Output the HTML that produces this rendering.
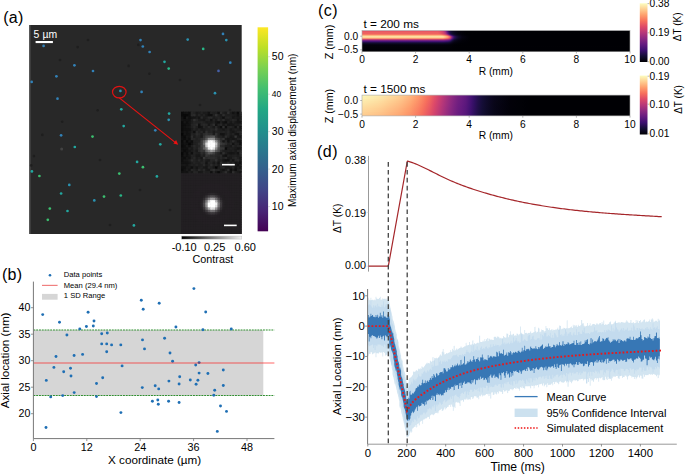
<!DOCTYPE html><html><head><meta charset="utf-8"><style>html,body{margin:0;padding:0;background:#fff;}svg{display:block;}</style></head><body>
<svg width="685" height="474" viewBox="0 0 685 474" font-family='"Liberation Sans", sans-serif'>
<defs>
<linearGradient id="vir" x1="0" y1="1" x2="0" y2="0"><stop offset="0.0" stop-color="#440154"/><stop offset="0.1" stop-color="#482475"/><stop offset="0.2" stop-color="#414487"/><stop offset="0.3" stop-color="#355f8d"/><stop offset="0.4" stop-color="#2a788e"/><stop offset="0.5" stop-color="#21918c"/><stop offset="0.6" stop-color="#22a884"/><stop offset="0.7" stop-color="#44bf70"/><stop offset="0.8" stop-color="#7ad151"/><stop offset="0.9" stop-color="#bddf26"/><stop offset="1.0" stop-color="#fde725"/></linearGradient>
<linearGradient id="mag" x1="0" y1="1" x2="0" y2="0"><stop offset="0.0" stop-color="#000004"/><stop offset="0.1" stop-color="#140e36"/><stop offset="0.2" stop-color="#3b0f70"/><stop offset="0.3" stop-color="#641a80"/><stop offset="0.4" stop-color="#8c2981"/><stop offset="0.5" stop-color="#b73779"/><stop offset="0.6" stop-color="#de4968"/><stop offset="0.7" stop-color="#f7705c"/><stop offset="0.8" stop-color="#fe9f6d"/><stop offset="0.9" stop-color="#fecf92"/><stop offset="1.0" stop-color="#fcfdbf"/></linearGradient>
<linearGradient id="gray" x1="0" y1="0" x2="1" y2="0"><stop offset="0" stop-color="#000"/><stop offset="1" stop-color="#f0f0f0"/></linearGradient>
<radialGradient id="spot1"><stop offset="0" stop-color="#fff"/><stop offset="0.45" stop-color="#f4f4f4"/><stop offset="0.75" stop-color="#9a9a9a" stop-opacity="0.8"/><stop offset="1" stop-color="#444" stop-opacity="0"/></radialGradient>
<radialGradient id="spot2"><stop offset="0" stop-color="#fff"/><stop offset="0.45" stop-color="#f6f6f6"/><stop offset="0.75" stop-color="#a0a0a0" stop-opacity="0.85"/><stop offset="1" stop-color="#333" stop-opacity="0"/></radialGradient>
</defs>
<text x="3.20" y="22.70" font-size="16" text-anchor="start" fill="#000" letter-spacing="0.25">(a)</text>
<rect x="29.2" y="25.0" width="212.5" height="209.0" fill="#282828"/>
<rect x="29.2" y="25.0" width="1.2" height="209.0" fill="#5a5a5a"/>
<circle cx="77.7" cy="47.1" r="1.3" fill="#1a1a1a" opacity="0.7"/><circle cx="128.6" cy="65.9" r="1.3" fill="#1a1a1a" opacity="0.7"/><circle cx="97.6" cy="110.2" r="1.3" fill="#1a1a1a" opacity="0.7"/><circle cx="62.2" cy="121.7" r="1.3" fill="#1a1a1a" opacity="0.7"/><circle cx="138.3" cy="44.9" r="1.3" fill="#1a1a1a" opacity="0.7"/><circle cx="149.4" cy="73.7" r="1.3" fill="#1a1a1a" opacity="0.7"/><circle cx="42.3" cy="134.9" r="1.3" fill="#1a1a1a" opacity="0.7"/><circle cx="33.9" cy="156.1" r="1.3" fill="#1a1a1a" opacity="0.7"/><circle cx="31.2" cy="165.4" r="1.3" fill="#1a1a1a" opacity="0.7"/><circle cx="88" cy="40" r="1.3" fill="#1a1a1a" opacity="0.7"/><circle cx="180" cy="80" r="1.3" fill="#1a1a1a" opacity="0.7"/><circle cx="200" cy="105" r="1.3" fill="#1a1a1a" opacity="0.7"/><circle cx="100" cy="160" r="1.3" fill="#1a1a1a" opacity="0.7"/><circle cx="140" cy="190" r="1.3" fill="#1a1a1a" opacity="0.7"/><circle cx="170" cy="210" r="1.3" fill="#1a1a1a" opacity="0.7"/><circle cx="60" cy="60" r="1.3" fill="#1a1a1a" opacity="0.7"/><circle cx="110" cy="225" r="1.3" fill="#1a1a1a" opacity="0.7"/><circle cx="230" cy="110" r="1.3" fill="#1a1a1a" opacity="0.7"/>
<circle cx="61.7" cy="149" r="1.5" fill="#555" opacity="0.6"/>
<text x="33.60" y="37.70" font-size="10.4" text-anchor="start" fill="#fff">5</text>
<text x="42.40" y="37.70" font-size="10.4" text-anchor="start" fill="#fff">µm</text>
<rect x="35.6" y="41.0" width="17.3" height="2.1" fill="#fff"/>
<circle cx="43.6" cy="45.9" r="1.35" fill="#3282b8"/><circle cx="74.4" cy="65.3" r="1.35" fill="#3282b8"/><circle cx="93" cy="71" r="1.35" fill="#3282b8"/><circle cx="56.4" cy="76.3" r="1.35" fill="#3282b8"/><circle cx="31.7" cy="81.9" r="1.35" fill="#3282b8"/><circle cx="57.5" cy="98.7" r="1.35" fill="#3282b8"/><circle cx="120.4" cy="90.9" r="1.35" fill="#2a92b0"/><circle cx="121.3" cy="109.3" r="1.35" fill="#22a8a0"/><circle cx="123.7" cy="126.1" r="1.35" fill="#22a8a0"/><circle cx="140.5" cy="40.1" r="1.35" fill="#3282b8"/><circle cx="142.8" cy="46.5" r="1.35" fill="#3282b8"/><circle cx="149.6" cy="52.0" r="1.35" fill="#3282b8"/><circle cx="187.7" cy="39.6" r="1.35" fill="#2a92b0"/><circle cx="223" cy="33.9" r="1.35" fill="#3282b8"/><circle cx="226.3" cy="40.1" r="1.35" fill="#2a92b0"/><circle cx="203.2" cy="48.9" r="1.35" fill="#28b888"/><circle cx="164.5" cy="61.8" r="1.35" fill="#22a8a0"/><circle cx="168.7" cy="68.6" r="1.35" fill="#28b888"/><circle cx="230.3" cy="62.7" r="1.35" fill="#3282b8"/><circle cx="218.5" cy="70.9" r="1.35" fill="#4660a8"/><circle cx="141.6" cy="91.9" r="1.35" fill="#3282b8"/><circle cx="215" cy="93.2" r="1.35" fill="#2a92b0"/><circle cx="169.1" cy="113.6" r="1.35" fill="#22a8a0"/><circle cx="168.7" cy="119.8" r="1.35" fill="#2a92b0"/><circle cx="61.1" cy="135.3" r="1.35" fill="#3282b8"/><circle cx="92.5" cy="136.6" r="1.35" fill="#3cc070"/><circle cx="74.8" cy="147" r="1.35" fill="#22a8a0"/><circle cx="31.9" cy="171.4" r="1.35" fill="#22a8a0"/><circle cx="39.4" cy="176" r="1.35" fill="#3cc070"/><circle cx="119.3" cy="173.6" r="1.35" fill="#3cc070"/><circle cx="69.3" cy="184.9" r="1.35" fill="#2a92b0"/><circle cx="61.1" cy="193.5" r="1.35" fill="#22a8a0"/><circle cx="104" cy="196.6" r="1.35" fill="#3cc070"/><circle cx="120.8" cy="195.5" r="1.35" fill="#28b888"/><circle cx="94.3" cy="200.4" r="1.35" fill="#2a92b0"/><circle cx="49.8" cy="208.6" r="1.35" fill="#3cc070"/><circle cx="67.5" cy="211" r="1.35" fill="#22a8a0"/><circle cx="47.8" cy="219.8" r="1.35" fill="#3cc070"/><circle cx="133.9" cy="225.4" r="1.35" fill="#22a8a0"/><circle cx="155.3" cy="130.3" r="1.35" fill="#3282b8"/><circle cx="160.3" cy="144.3" r="1.35" fill="#22a8a0"/><circle cx="137.1" cy="161.9" r="1.35" fill="#22a8a0"/><circle cx="142.9" cy="167.2" r="1.35" fill="#3cc070"/><circle cx="156.9" cy="176.4" r="1.35" fill="#22a8a0"/>
<ellipse cx="119.3" cy="92.1" rx="6.8" ry="5.8" fill="none" stroke="#e01212" stroke-width="1.2"/>
<line x1="119.3" y1="97.9" x2="175.5" y2="142.6" stroke="#e81212" stroke-width="1.15"/>
<path d="M178.2,144.7 L173.4,143.4 L176.1,140.1 Z" fill="#ee1111"/>
<rect x="181.00" y="111.70" width="3.03" height="2.98" fill="#0b0b0b"/><rect x="183.43" y="111.70" width="3.03" height="2.98" fill="#111111"/><rect x="185.86" y="111.70" width="3.03" height="2.98" fill="#121212"/><rect x="188.28" y="111.70" width="3.03" height="2.98" fill="#0d0d0d"/><rect x="190.71" y="111.70" width="3.03" height="2.98" fill="#262626"/><rect x="193.14" y="111.70" width="3.03" height="2.98" fill="#222222"/><rect x="195.57" y="111.70" width="3.03" height="2.98" fill="#181818"/><rect x="198.00" y="111.70" width="3.03" height="2.98" fill="#1c1c1c"/><rect x="200.42" y="111.70" width="3.03" height="2.98" fill="#222222"/><rect x="202.85" y="111.70" width="3.03" height="2.98" fill="#1b1b1b"/><rect x="205.28" y="111.70" width="3.03" height="2.98" fill="#1c1c1c"/><rect x="207.71" y="111.70" width="3.03" height="2.98" fill="#121212"/><rect x="210.14" y="111.70" width="3.03" height="2.98" fill="#222222"/><rect x="212.56" y="111.70" width="3.03" height="2.98" fill="#1f1f1f"/><rect x="214.99" y="111.70" width="3.03" height="2.98" fill="#202020"/><rect x="217.42" y="111.70" width="3.03" height="2.98" fill="#111111"/><rect x="219.85" y="111.70" width="3.03" height="2.98" fill="#2b2b2b"/><rect x="222.28" y="111.70" width="3.03" height="2.98" fill="#1f1f1f"/><rect x="224.70" y="111.70" width="3.03" height="2.98" fill="#1a1a1a"/><rect x="227.13" y="111.70" width="3.03" height="2.98" fill="#2e2e2e"/><rect x="229.56" y="111.70" width="3.03" height="2.98" fill="#1d1d1d"/><rect x="231.99" y="111.70" width="3.03" height="2.98" fill="#121212"/><rect x="234.42" y="111.70" width="3.03" height="2.98" fill="#1a1a1a"/><rect x="236.84" y="111.70" width="3.03" height="2.98" fill="#0b0b0b"/><rect x="239.27" y="111.70" width="2.43" height="2.98" fill="#262626"/><rect x="181.00" y="114.08" width="3.03" height="2.98" fill="#0a0a0a"/><rect x="183.43" y="114.08" width="3.03" height="2.98" fill="#090909"/><rect x="185.86" y="114.08" width="3.03" height="2.98" fill="#090909"/><rect x="188.28" y="114.08" width="3.03" height="2.98" fill="#0f0f0f"/><rect x="190.71" y="114.08" width="3.03" height="2.98" fill="#292929"/><rect x="193.14" y="114.08" width="3.03" height="2.98" fill="#2c2c2c"/><rect x="195.57" y="114.08" width="3.03" height="2.98" fill="#1b1b1b"/><rect x="198.00" y="114.08" width="3.03" height="2.98" fill="#242424"/><rect x="200.42" y="114.08" width="3.03" height="2.98" fill="#1c1c1c"/><rect x="202.85" y="114.08" width="3.03" height="2.98" fill="#222222"/><rect x="205.28" y="114.08" width="3.03" height="2.98" fill="#181818"/><rect x="207.71" y="114.08" width="3.03" height="2.98" fill="#101010"/><rect x="210.14" y="114.08" width="3.03" height="2.98" fill="#0f0f0f"/><rect x="212.56" y="114.08" width="3.03" height="2.98" fill="#212121"/><rect x="214.99" y="114.08" width="3.03" height="2.98" fill="#303030"/><rect x="217.42" y="114.08" width="3.03" height="2.98" fill="#202020"/><rect x="219.85" y="114.08" width="3.03" height="2.98" fill="#191919"/><rect x="222.28" y="114.08" width="3.03" height="2.98" fill="#2d2d2d"/><rect x="224.70" y="114.08" width="3.03" height="2.98" fill="#1f1f1f"/><rect x="227.13" y="114.08" width="3.03" height="2.98" fill="#1e1e1e"/><rect x="229.56" y="114.08" width="3.03" height="2.98" fill="#202020"/><rect x="231.99" y="114.08" width="3.03" height="2.98" fill="#1c1c1c"/><rect x="234.42" y="114.08" width="3.03" height="2.98" fill="#1b1b1b"/><rect x="236.84" y="114.08" width="3.03" height="2.98" fill="#121212"/><rect x="239.27" y="114.08" width="2.43" height="2.98" fill="#222222"/><rect x="181.00" y="116.45" width="3.03" height="2.98" fill="#111111"/><rect x="183.43" y="116.45" width="3.03" height="2.98" fill="#080808"/><rect x="185.86" y="116.45" width="3.03" height="2.98" fill="#181818"/><rect x="188.28" y="116.45" width="3.03" height="2.98" fill="#101010"/><rect x="190.71" y="116.45" width="3.03" height="2.98" fill="#141414"/><rect x="193.14" y="116.45" width="3.03" height="2.98" fill="#151515"/><rect x="195.57" y="116.45" width="3.03" height="2.98" fill="#1b1b1b"/><rect x="198.00" y="116.45" width="3.03" height="2.98" fill="#141414"/><rect x="200.42" y="116.45" width="3.03" height="2.98" fill="#2a2a2a"/><rect x="202.85" y="116.45" width="3.03" height="2.98" fill="#1b1b1b"/><rect x="205.28" y="116.45" width="3.03" height="2.98" fill="#1e1e1e"/><rect x="207.71" y="116.45" width="3.03" height="2.98" fill="#292929"/><rect x="210.14" y="116.45" width="3.03" height="2.98" fill="#2a2a2a"/><rect x="212.56" y="116.45" width="3.03" height="2.98" fill="#1c1c1c"/><rect x="214.99" y="116.45" width="3.03" height="2.98" fill="#202020"/><rect x="217.42" y="116.45" width="3.03" height="2.98" fill="#232323"/><rect x="219.85" y="116.45" width="3.03" height="2.98" fill="#1c1c1c"/><rect x="222.28" y="116.45" width="3.03" height="2.98" fill="#0f0f0f"/><rect x="224.70" y="116.45" width="3.03" height="2.98" fill="#232323"/><rect x="227.13" y="116.45" width="3.03" height="2.98" fill="#252525"/><rect x="229.56" y="116.45" width="3.03" height="2.98" fill="#212121"/><rect x="231.99" y="116.45" width="3.03" height="2.98" fill="#161616"/><rect x="234.42" y="116.45" width="3.03" height="2.98" fill="#1c1c1c"/><rect x="236.84" y="116.45" width="3.03" height="2.98" fill="#191919"/><rect x="239.27" y="116.45" width="2.43" height="2.98" fill="#1b1b1b"/><rect x="181.00" y="118.83" width="3.03" height="2.98" fill="#131313"/><rect x="183.43" y="118.83" width="3.03" height="2.98" fill="#111111"/><rect x="185.86" y="118.83" width="3.03" height="2.98" fill="#121212"/><rect x="188.28" y="118.83" width="3.03" height="2.98" fill="#111111"/><rect x="190.71" y="118.83" width="3.03" height="2.98" fill="#1d1d1d"/><rect x="193.14" y="118.83" width="3.03" height="2.98" fill="#303030"/><rect x="195.57" y="118.83" width="3.03" height="2.98" fill="#242424"/><rect x="198.00" y="118.83" width="3.03" height="2.98" fill="#1b1b1b"/><rect x="200.42" y="118.83" width="3.03" height="2.98" fill="#1a1a1a"/><rect x="202.85" y="118.83" width="3.03" height="2.98" fill="#171717"/><rect x="205.28" y="118.83" width="3.03" height="2.98" fill="#212121"/><rect x="207.71" y="118.83" width="3.03" height="2.98" fill="#212121"/><rect x="210.14" y="118.83" width="3.03" height="2.98" fill="#121212"/><rect x="212.56" y="118.83" width="3.03" height="2.98" fill="#222222"/><rect x="214.99" y="118.83" width="3.03" height="2.98" fill="#191919"/><rect x="217.42" y="118.83" width="3.03" height="2.98" fill="#292929"/><rect x="219.85" y="118.83" width="3.03" height="2.98" fill="#1f1f1f"/><rect x="222.28" y="118.83" width="3.03" height="2.98" fill="#2b2b2b"/><rect x="224.70" y="118.83" width="3.03" height="2.98" fill="#1a1a1a"/><rect x="227.13" y="118.83" width="3.03" height="2.98" fill="#1b1b1b"/><rect x="229.56" y="118.83" width="3.03" height="2.98" fill="#202020"/><rect x="231.99" y="118.83" width="3.03" height="2.98" fill="#262626"/><rect x="234.42" y="118.83" width="3.03" height="2.98" fill="#222222"/><rect x="236.84" y="118.83" width="3.03" height="2.98" fill="#141414"/><rect x="239.27" y="118.83" width="2.43" height="2.98" fill="#1f1f1f"/><rect x="181.00" y="121.21" width="3.03" height="2.98" fill="#0b0b0b"/><rect x="183.43" y="121.21" width="3.03" height="2.98" fill="#161616"/><rect x="185.86" y="121.21" width="3.03" height="2.98" fill="#0e0e0e"/><rect x="188.28" y="121.21" width="3.03" height="2.98" fill="#151515"/><rect x="190.71" y="121.21" width="3.03" height="2.98" fill="#1d1d1d"/><rect x="193.14" y="121.21" width="3.03" height="2.98" fill="#242424"/><rect x="195.57" y="121.21" width="3.03" height="2.98" fill="#222222"/><rect x="198.00" y="121.21" width="3.03" height="2.98" fill="#212121"/><rect x="200.42" y="121.21" width="3.03" height="2.98" fill="#252525"/><rect x="202.85" y="121.21" width="3.03" height="2.98" fill="#202020"/><rect x="205.28" y="121.21" width="3.03" height="2.98" fill="#191919"/><rect x="207.71" y="121.21" width="3.03" height="2.98" fill="#1b1b1b"/><rect x="210.14" y="121.21" width="3.03" height="2.98" fill="#1a1a1a"/><rect x="212.56" y="121.21" width="3.03" height="2.98" fill="#202020"/><rect x="214.99" y="121.21" width="3.03" height="2.98" fill="#151515"/><rect x="217.42" y="121.21" width="3.03" height="2.98" fill="#0f0f0f"/><rect x="219.85" y="121.21" width="3.03" height="2.98" fill="#1e1e1e"/><rect x="222.28" y="121.21" width="3.03" height="2.98" fill="#131313"/><rect x="224.70" y="121.21" width="3.03" height="2.98" fill="#0e0e0e"/><rect x="227.13" y="121.21" width="3.03" height="2.98" fill="#212121"/><rect x="229.56" y="121.21" width="3.03" height="2.98" fill="#181818"/><rect x="231.99" y="121.21" width="3.03" height="2.98" fill="#212121"/><rect x="234.42" y="121.21" width="3.03" height="2.98" fill="#191919"/><rect x="236.84" y="121.21" width="3.03" height="2.98" fill="#151515"/><rect x="239.27" y="121.21" width="2.43" height="2.98" fill="#141414"/><rect x="181.00" y="123.58" width="3.03" height="2.98" fill="#0c0c0c"/><rect x="183.43" y="123.58" width="3.03" height="2.98" fill="#0e0e0e"/><rect x="185.86" y="123.58" width="3.03" height="2.98" fill="#121212"/><rect x="188.28" y="123.58" width="3.03" height="2.98" fill="#131313"/><rect x="190.71" y="123.58" width="3.03" height="2.98" fill="#232323"/><rect x="193.14" y="123.58" width="3.03" height="2.98" fill="#262626"/><rect x="195.57" y="123.58" width="3.03" height="2.98" fill="#2b2b2b"/><rect x="198.00" y="123.58" width="3.03" height="2.98" fill="#111111"/><rect x="200.42" y="123.58" width="3.03" height="2.98" fill="#242424"/><rect x="202.85" y="123.58" width="3.03" height="2.98" fill="#282828"/><rect x="205.28" y="123.58" width="3.03" height="2.98" fill="#262626"/><rect x="207.71" y="123.58" width="3.03" height="2.98" fill="#171717"/><rect x="210.14" y="123.58" width="3.03" height="2.98" fill="#222222"/><rect x="212.56" y="123.58" width="3.03" height="2.98" fill="#2e2e2e"/><rect x="214.99" y="123.58" width="3.03" height="2.98" fill="#131313"/><rect x="217.42" y="123.58" width="3.03" height="2.98" fill="#222222"/><rect x="219.85" y="123.58" width="3.03" height="2.98" fill="#272727"/><rect x="222.28" y="123.58" width="3.03" height="2.98" fill="#181818"/><rect x="224.70" y="123.58" width="3.03" height="2.98" fill="#222222"/><rect x="227.13" y="123.58" width="3.03" height="2.98" fill="#151515"/><rect x="229.56" y="123.58" width="3.03" height="2.98" fill="#171717"/><rect x="231.99" y="123.58" width="3.03" height="2.98" fill="#171717"/><rect x="234.42" y="123.58" width="3.03" height="2.98" fill="#1f1f1f"/><rect x="236.84" y="123.58" width="3.03" height="2.98" fill="#1d1d1d"/><rect x="239.27" y="123.58" width="2.43" height="2.98" fill="#252525"/><rect x="181.00" y="125.96" width="3.03" height="2.98" fill="#0c0c0c"/><rect x="183.43" y="125.96" width="3.03" height="2.98" fill="#111111"/><rect x="185.86" y="125.96" width="3.03" height="2.98" fill="#141414"/><rect x="188.28" y="125.96" width="3.03" height="2.98" fill="#161616"/><rect x="190.71" y="125.96" width="3.03" height="2.98" fill="#202020"/><rect x="193.14" y="125.96" width="3.03" height="2.98" fill="#282828"/><rect x="195.57" y="125.96" width="3.03" height="2.98" fill="#1f1f1f"/><rect x="198.00" y="125.96" width="3.03" height="2.98" fill="#101010"/><rect x="200.42" y="125.96" width="3.03" height="2.98" fill="#141414"/><rect x="202.85" y="125.96" width="3.03" height="2.98" fill="#252525"/><rect x="205.28" y="125.96" width="3.03" height="2.98" fill="#1e1e1e"/><rect x="207.71" y="125.96" width="3.03" height="2.98" fill="#292929"/><rect x="210.14" y="125.96" width="3.03" height="2.98" fill="#222222"/><rect x="212.56" y="125.96" width="3.03" height="2.98" fill="#1a1a1a"/><rect x="214.99" y="125.96" width="3.03" height="2.98" fill="#282828"/><rect x="217.42" y="125.96" width="3.03" height="2.98" fill="#191919"/><rect x="219.85" y="125.96" width="3.03" height="2.98" fill="#0e0e0e"/><rect x="222.28" y="125.96" width="3.03" height="2.98" fill="#2f2f2f"/><rect x="224.70" y="125.96" width="3.03" height="2.98" fill="#0f0f0f"/><rect x="227.13" y="125.96" width="3.03" height="2.98" fill="#232323"/><rect x="229.56" y="125.96" width="3.03" height="2.98" fill="#252525"/><rect x="231.99" y="125.96" width="3.03" height="2.98" fill="#1f1f1f"/><rect x="234.42" y="125.96" width="3.03" height="2.98" fill="#101010"/><rect x="236.84" y="125.96" width="3.03" height="2.98" fill="#262626"/><rect x="239.27" y="125.96" width="2.43" height="2.98" fill="#121212"/><rect x="181.00" y="128.34" width="3.03" height="2.98" fill="#0b0b0b"/><rect x="183.43" y="128.34" width="3.03" height="2.98" fill="#101010"/><rect x="185.86" y="128.34" width="3.03" height="2.98" fill="#101010"/><rect x="188.28" y="128.34" width="3.03" height="2.98" fill="#101010"/><rect x="190.71" y="128.34" width="3.03" height="2.98" fill="#1b1b1b"/><rect x="193.14" y="128.34" width="3.03" height="2.98" fill="#232323"/><rect x="195.57" y="128.34" width="3.03" height="2.98" fill="#1c1c1c"/><rect x="198.00" y="128.34" width="3.03" height="2.98" fill="#232323"/><rect x="200.42" y="128.34" width="3.03" height="2.98" fill="#1b1b1b"/><rect x="202.85" y="128.34" width="3.03" height="2.98" fill="#1c1c1c"/><rect x="205.28" y="128.34" width="3.03" height="2.98" fill="#222222"/><rect x="207.71" y="128.34" width="3.03" height="2.98" fill="#212121"/><rect x="210.14" y="128.34" width="3.03" height="2.98" fill="#272727"/><rect x="212.56" y="128.34" width="3.03" height="2.98" fill="#242424"/><rect x="214.99" y="128.34" width="3.03" height="2.98" fill="#2f2f2f"/><rect x="217.42" y="128.34" width="3.03" height="2.98" fill="#1f1f1f"/><rect x="219.85" y="128.34" width="3.03" height="2.98" fill="#1e1e1e"/><rect x="222.28" y="128.34" width="3.03" height="2.98" fill="#171717"/><rect x="224.70" y="128.34" width="3.03" height="2.98" fill="#1f1f1f"/><rect x="227.13" y="128.34" width="3.03" height="2.98" fill="#232323"/><rect x="229.56" y="128.34" width="3.03" height="2.98" fill="#181818"/><rect x="231.99" y="128.34" width="3.03" height="2.98" fill="#1d1d1d"/><rect x="234.42" y="128.34" width="3.03" height="2.98" fill="#232323"/><rect x="236.84" y="128.34" width="3.03" height="2.98" fill="#1d1d1d"/><rect x="239.27" y="128.34" width="2.43" height="2.98" fill="#191919"/><rect x="181.00" y="130.72" width="3.03" height="2.98" fill="#0d0d0d"/><rect x="183.43" y="130.72" width="3.03" height="2.98" fill="#141414"/><rect x="185.86" y="130.72" width="3.03" height="2.98" fill="#101010"/><rect x="188.28" y="130.72" width="3.03" height="2.98" fill="#151515"/><rect x="190.71" y="130.72" width="3.03" height="2.98" fill="#1d1d1d"/><rect x="193.14" y="130.72" width="3.03" height="2.98" fill="#0f0f0f"/><rect x="195.57" y="130.72" width="3.03" height="2.98" fill="#292929"/><rect x="198.00" y="130.72" width="3.03" height="2.98" fill="#202020"/><rect x="200.42" y="130.72" width="3.03" height="2.98" fill="#272727"/><rect x="202.85" y="130.72" width="3.03" height="2.98" fill="#1a1a1a"/><rect x="205.28" y="130.72" width="3.03" height="2.98" fill="#2f2f2f"/><rect x="207.71" y="130.72" width="3.03" height="2.98" fill="#222222"/><rect x="210.14" y="130.72" width="3.03" height="2.98" fill="#262626"/><rect x="212.56" y="130.72" width="3.03" height="2.98" fill="#1b1b1b"/><rect x="214.99" y="130.72" width="3.03" height="2.98" fill="#232323"/><rect x="217.42" y="130.72" width="3.03" height="2.98" fill="#212121"/><rect x="219.85" y="130.72" width="3.03" height="2.98" fill="#202020"/><rect x="222.28" y="130.72" width="3.03" height="2.98" fill="#232323"/><rect x="224.70" y="130.72" width="3.03" height="2.98" fill="#1f1f1f"/><rect x="227.13" y="130.72" width="3.03" height="2.98" fill="#262626"/><rect x="229.56" y="130.72" width="3.03" height="2.98" fill="#1a1a1a"/><rect x="231.99" y="130.72" width="3.03" height="2.98" fill="#161616"/><rect x="234.42" y="130.72" width="3.03" height="2.98" fill="#1d1d1d"/><rect x="236.84" y="130.72" width="3.03" height="2.98" fill="#232323"/><rect x="239.27" y="130.72" width="2.43" height="2.98" fill="#272727"/><rect x="181.00" y="133.09" width="3.03" height="2.98" fill="#060606"/><rect x="183.43" y="133.09" width="3.03" height="2.98" fill="#151515"/><rect x="185.86" y="133.09" width="3.03" height="2.98" fill="#101010"/><rect x="188.28" y="133.09" width="3.03" height="2.98" fill="#121212"/><rect x="190.71" y="133.09" width="3.03" height="2.98" fill="#232323"/><rect x="193.14" y="133.09" width="3.03" height="2.98" fill="#1f1f1f"/><rect x="195.57" y="133.09" width="3.03" height="2.98" fill="#2b2b2b"/><rect x="198.00" y="133.09" width="3.03" height="2.98" fill="#262626"/><rect x="200.42" y="133.09" width="3.03" height="2.98" fill="#1e1e1e"/><rect x="202.85" y="133.09" width="3.03" height="2.98" fill="#2c2c2c"/><rect x="205.28" y="133.09" width="3.03" height="2.98" fill="#333333"/><rect x="207.71" y="133.09" width="3.03" height="2.98" fill="#2c2c2c"/><rect x="210.14" y="133.09" width="3.03" height="2.98" fill="#2f2f2f"/><rect x="212.56" y="133.09" width="3.03" height="2.98" fill="#1d1d1d"/><rect x="214.99" y="133.09" width="3.03" height="2.98" fill="#333333"/><rect x="217.42" y="133.09" width="3.03" height="2.98" fill="#222222"/><rect x="219.85" y="133.09" width="3.03" height="2.98" fill="#131313"/><rect x="222.28" y="133.09" width="3.03" height="2.98" fill="#131313"/><rect x="224.70" y="133.09" width="3.03" height="2.98" fill="#1e1e1e"/><rect x="227.13" y="133.09" width="3.03" height="2.98" fill="#252525"/><rect x="229.56" y="133.09" width="3.03" height="2.98" fill="#1d1d1d"/><rect x="231.99" y="133.09" width="3.03" height="2.98" fill="#222222"/><rect x="234.42" y="133.09" width="3.03" height="2.98" fill="#151515"/><rect x="236.84" y="133.09" width="3.03" height="2.98" fill="#131313"/><rect x="239.27" y="133.09" width="2.43" height="2.98" fill="#252525"/><rect x="181.00" y="135.47" width="3.03" height="2.98" fill="#0d0d0d"/><rect x="183.43" y="135.47" width="3.03" height="2.98" fill="#0b0b0b"/><rect x="185.86" y="135.47" width="3.03" height="2.98" fill="#161616"/><rect x="188.28" y="135.47" width="3.03" height="2.98" fill="#141414"/><rect x="190.71" y="135.47" width="3.03" height="2.98" fill="#2c2c2c"/><rect x="193.14" y="135.47" width="3.03" height="2.98" fill="#1b1b1b"/><rect x="195.57" y="135.47" width="3.03" height="2.98" fill="#242424"/><rect x="198.00" y="135.47" width="3.03" height="2.98" fill="#222222"/><rect x="200.42" y="135.47" width="3.03" height="2.98" fill="#1b1b1b"/><rect x="202.85" y="135.47" width="3.03" height="2.98" fill="#323232"/><rect x="205.28" y="135.47" width="3.03" height="2.98" fill="#454545"/><rect x="207.71" y="135.47" width="3.03" height="2.98" fill="#4b4b4b"/><rect x="210.14" y="135.47" width="3.03" height="2.98" fill="#525252"/><rect x="212.56" y="135.47" width="3.03" height="2.98" fill="#565656"/><rect x="214.99" y="135.47" width="3.03" height="2.98" fill="#323232"/><rect x="217.42" y="135.47" width="3.03" height="2.98" fill="#232323"/><rect x="219.85" y="135.47" width="3.03" height="2.98" fill="#222222"/><rect x="222.28" y="135.47" width="3.03" height="2.98" fill="#1a1a1a"/><rect x="224.70" y="135.47" width="3.03" height="2.98" fill="#2c2c2c"/><rect x="227.13" y="135.47" width="3.03" height="2.98" fill="#222222"/><rect x="229.56" y="135.47" width="3.03" height="2.98" fill="#171717"/><rect x="231.99" y="135.47" width="3.03" height="2.98" fill="#191919"/><rect x="234.42" y="135.47" width="3.03" height="2.98" fill="#353535"/><rect x="236.84" y="135.47" width="3.03" height="2.98" fill="#191919"/><rect x="239.27" y="135.47" width="2.43" height="2.98" fill="#171717"/><rect x="181.00" y="137.85" width="3.03" height="2.98" fill="#0f0f0f"/><rect x="183.43" y="137.85" width="3.03" height="2.98" fill="#0c0c0c"/><rect x="185.86" y="137.85" width="3.03" height="2.98" fill="#141414"/><rect x="188.28" y="137.85" width="3.03" height="2.98" fill="#0e0e0e"/><rect x="190.71" y="137.85" width="3.03" height="2.98" fill="#282828"/><rect x="193.14" y="137.85" width="3.03" height="2.98" fill="#262626"/><rect x="195.57" y="137.85" width="3.03" height="2.98" fill="#202020"/><rect x="198.00" y="137.85" width="3.03" height="2.98" fill="#242424"/><rect x="200.42" y="137.85" width="3.03" height="2.98" fill="#303030"/><rect x="202.85" y="137.85" width="3.03" height="2.98" fill="#3b3b3b"/><rect x="205.28" y="137.85" width="3.03" height="2.98" fill="#595959"/><rect x="207.71" y="137.85" width="3.03" height="2.98" fill="#909090"/><rect x="210.14" y="137.85" width="3.03" height="2.98" fill="#939393"/><rect x="212.56" y="137.85" width="3.03" height="2.98" fill="#8c8c8c"/><rect x="214.99" y="137.85" width="3.03" height="2.98" fill="#545454"/><rect x="217.42" y="137.85" width="3.03" height="2.98" fill="#3d3d3d"/><rect x="219.85" y="137.85" width="3.03" height="2.98" fill="#2b2b2b"/><rect x="222.28" y="137.85" width="3.03" height="2.98" fill="#343434"/><rect x="224.70" y="137.85" width="3.03" height="2.98" fill="#191919"/><rect x="227.13" y="137.85" width="3.03" height="2.98" fill="#141414"/><rect x="229.56" y="137.85" width="3.03" height="2.98" fill="#191919"/><rect x="231.99" y="137.85" width="3.03" height="2.98" fill="#151515"/><rect x="234.42" y="137.85" width="3.03" height="2.98" fill="#191919"/><rect x="236.84" y="137.85" width="3.03" height="2.98" fill="#212121"/><rect x="239.27" y="137.85" width="2.43" height="2.98" fill="#242424"/><rect x="181.00" y="140.22" width="3.03" height="2.98" fill="#0a0a0a"/><rect x="183.43" y="140.22" width="3.03" height="2.98" fill="#171717"/><rect x="185.86" y="140.22" width="3.03" height="2.98" fill="#090909"/><rect x="188.28" y="140.22" width="3.03" height="2.98" fill="#151515"/><rect x="190.71" y="140.22" width="3.03" height="2.98" fill="#0d0d0d"/><rect x="193.14" y="140.22" width="3.03" height="2.98" fill="#212121"/><rect x="195.57" y="140.22" width="3.03" height="2.98" fill="#222222"/><rect x="198.00" y="140.22" width="3.03" height="2.98" fill="#222222"/><rect x="200.42" y="140.22" width="3.03" height="2.98" fill="#3b3b3b"/><rect x="202.85" y="140.22" width="3.03" height="2.98" fill="#616161"/><rect x="205.28" y="140.22" width="3.03" height="2.98" fill="#9b9b9b"/><rect x="207.71" y="140.22" width="3.03" height="2.98" fill="#f4f4f4"/><rect x="210.14" y="140.22" width="3.03" height="2.98" fill="#ffffff"/><rect x="212.56" y="140.22" width="3.03" height="2.98" fill="#e3e3e3"/><rect x="214.99" y="140.22" width="3.03" height="2.98" fill="#969696"/><rect x="217.42" y="140.22" width="3.03" height="2.98" fill="#575757"/><rect x="219.85" y="140.22" width="3.03" height="2.98" fill="#2f2f2f"/><rect x="222.28" y="140.22" width="3.03" height="2.98" fill="#161616"/><rect x="224.70" y="140.22" width="3.03" height="2.98" fill="#272727"/><rect x="227.13" y="140.22" width="3.03" height="2.98" fill="#131313"/><rect x="229.56" y="140.22" width="3.03" height="2.98" fill="#202020"/><rect x="231.99" y="140.22" width="3.03" height="2.98" fill="#2c2c2c"/><rect x="234.42" y="140.22" width="3.03" height="2.98" fill="#1e1e1e"/><rect x="236.84" y="140.22" width="3.03" height="2.98" fill="#141414"/><rect x="239.27" y="140.22" width="2.43" height="2.98" fill="#121212"/><rect x="181.00" y="142.60" width="3.03" height="2.98" fill="#0d0d0d"/><rect x="183.43" y="142.60" width="3.03" height="2.98" fill="#131313"/><rect x="185.86" y="142.60" width="3.03" height="2.98" fill="#111111"/><rect x="188.28" y="142.60" width="3.03" height="2.98" fill="#080808"/><rect x="190.71" y="142.60" width="3.03" height="2.98" fill="#131313"/><rect x="193.14" y="142.60" width="3.03" height="2.98" fill="#202020"/><rect x="195.57" y="142.60" width="3.03" height="2.98" fill="#222222"/><rect x="198.00" y="142.60" width="3.03" height="2.98" fill="#2d2d2d"/><rect x="200.42" y="142.60" width="3.03" height="2.98" fill="#3b3b3b"/><rect x="202.85" y="142.60" width="3.03" height="2.98" fill="#6e6e6e"/><rect x="205.28" y="142.60" width="3.03" height="2.98" fill="#d6d6d6"/><rect x="207.71" y="142.60" width="3.03" height="2.98" fill="#ffffff"/><rect x="210.14" y="142.60" width="3.03" height="2.98" fill="#ffffff"/><rect x="212.56" y="142.60" width="3.03" height="2.98" fill="#ffffff"/><rect x="214.99" y="142.60" width="3.03" height="2.98" fill="#c9c9c9"/><rect x="217.42" y="142.60" width="3.03" height="2.98" fill="#656565"/><rect x="219.85" y="142.60" width="3.03" height="2.98" fill="#3c3c3c"/><rect x="222.28" y="142.60" width="3.03" height="2.98" fill="#353535"/><rect x="224.70" y="142.60" width="3.03" height="2.98" fill="#2c2c2c"/><rect x="227.13" y="142.60" width="3.03" height="2.98" fill="#202020"/><rect x="229.56" y="142.60" width="3.03" height="2.98" fill="#252525"/><rect x="231.99" y="142.60" width="3.03" height="2.98" fill="#131313"/><rect x="234.42" y="142.60" width="3.03" height="2.98" fill="#212121"/><rect x="236.84" y="142.60" width="3.03" height="2.98" fill="#1f1f1f"/><rect x="239.27" y="142.60" width="2.43" height="2.98" fill="#111111"/><rect x="181.00" y="144.98" width="3.03" height="2.98" fill="#0a0a0a"/><rect x="183.43" y="144.98" width="3.03" height="2.98" fill="#0e0e0e"/><rect x="185.86" y="144.98" width="3.03" height="2.98" fill="#171717"/><rect x="188.28" y="144.98" width="3.03" height="2.98" fill="#0f0f0f"/><rect x="190.71" y="144.98" width="3.03" height="2.98" fill="#1e1e1e"/><rect x="193.14" y="144.98" width="3.03" height="2.98" fill="#282828"/><rect x="195.57" y="144.98" width="3.03" height="2.98" fill="#212121"/><rect x="198.00" y="144.98" width="3.03" height="2.98" fill="#252525"/><rect x="200.42" y="144.98" width="3.03" height="2.98" fill="#3f3f3f"/><rect x="202.85" y="144.98" width="3.03" height="2.98" fill="#565656"/><rect x="205.28" y="144.98" width="3.03" height="2.98" fill="#c8c8c8"/><rect x="207.71" y="144.98" width="3.03" height="2.98" fill="#ffffff"/><rect x="210.14" y="144.98" width="3.03" height="2.98" fill="#ffffff"/><rect x="212.56" y="144.98" width="3.03" height="2.98" fill="#ffffff"/><rect x="214.99" y="144.98" width="3.03" height="2.98" fill="#b6b6b6"/><rect x="217.42" y="144.98" width="3.03" height="2.98" fill="#616161"/><rect x="219.85" y="144.98" width="3.03" height="2.98" fill="#2c2c2c"/><rect x="222.28" y="144.98" width="3.03" height="2.98" fill="#292929"/><rect x="224.70" y="144.98" width="3.03" height="2.98" fill="#1e1e1e"/><rect x="227.13" y="144.98" width="3.03" height="2.98" fill="#1d1d1d"/><rect x="229.56" y="144.98" width="3.03" height="2.98" fill="#191919"/><rect x="231.99" y="144.98" width="3.03" height="2.98" fill="#252525"/><rect x="234.42" y="144.98" width="3.03" height="2.98" fill="#1d1d1d"/><rect x="236.84" y="144.98" width="3.03" height="2.98" fill="#222222"/><rect x="239.27" y="144.98" width="2.43" height="2.98" fill="#212121"/><rect x="181.00" y="147.35" width="3.03" height="2.98" fill="#0f0f0f"/><rect x="183.43" y="147.35" width="3.03" height="2.98" fill="#111111"/><rect x="185.86" y="147.35" width="3.03" height="2.98" fill="#101010"/><rect x="188.28" y="147.35" width="3.03" height="2.98" fill="#1d1d1d"/><rect x="190.71" y="147.35" width="3.03" height="2.98" fill="#181818"/><rect x="193.14" y="147.35" width="3.03" height="2.98" fill="#252525"/><rect x="195.57" y="147.35" width="3.03" height="2.98" fill="#202020"/><rect x="198.00" y="147.35" width="3.03" height="2.98" fill="#2e2e2e"/><rect x="200.42" y="147.35" width="3.03" height="2.98" fill="#393939"/><rect x="202.85" y="147.35" width="3.03" height="2.98" fill="#606060"/><rect x="205.28" y="147.35" width="3.03" height="2.98" fill="#858585"/><rect x="207.71" y="147.35" width="3.03" height="2.98" fill="#e7e7e7"/><rect x="210.14" y="147.35" width="3.03" height="2.98" fill="#ffffff"/><rect x="212.56" y="147.35" width="3.03" height="2.98" fill="#e2e2e2"/><rect x="214.99" y="147.35" width="3.03" height="2.98" fill="#8c8c8c"/><rect x="217.42" y="147.35" width="3.03" height="2.98" fill="#4d4d4d"/><rect x="219.85" y="147.35" width="3.03" height="2.98" fill="#383838"/><rect x="222.28" y="147.35" width="3.03" height="2.98" fill="#373737"/><rect x="224.70" y="147.35" width="3.03" height="2.98" fill="#0c0c0c"/><rect x="227.13" y="147.35" width="3.03" height="2.98" fill="#1e1e1e"/><rect x="229.56" y="147.35" width="3.03" height="2.98" fill="#212121"/><rect x="231.99" y="147.35" width="3.03" height="2.98" fill="#1e1e1e"/><rect x="234.42" y="147.35" width="3.03" height="2.98" fill="#1b1b1b"/><rect x="236.84" y="147.35" width="3.03" height="2.98" fill="#131313"/><rect x="239.27" y="147.35" width="2.43" height="2.98" fill="#161616"/><rect x="181.00" y="149.73" width="3.03" height="2.98" fill="#111111"/><rect x="183.43" y="149.73" width="3.03" height="2.98" fill="#0c0c0c"/><rect x="185.86" y="149.73" width="3.03" height="2.98" fill="#111111"/><rect x="188.28" y="149.73" width="3.03" height="2.98" fill="#151515"/><rect x="190.71" y="149.73" width="3.03" height="2.98" fill="#1a1a1a"/><rect x="193.14" y="149.73" width="3.03" height="2.98" fill="#212121"/><rect x="195.57" y="149.73" width="3.03" height="2.98" fill="#191919"/><rect x="198.00" y="149.73" width="3.03" height="2.98" fill="#2c2c2c"/><rect x="200.42" y="149.73" width="3.03" height="2.98" fill="#373737"/><rect x="202.85" y="149.73" width="3.03" height="2.98" fill="#363636"/><rect x="205.28" y="149.73" width="3.03" height="2.98" fill="#646464"/><rect x="207.71" y="149.73" width="3.03" height="2.98" fill="#808080"/><rect x="210.14" y="149.73" width="3.03" height="2.98" fill="#a1a1a1"/><rect x="212.56" y="149.73" width="3.03" height="2.98" fill="#8b8b8b"/><rect x="214.99" y="149.73" width="3.03" height="2.98" fill="#5a5a5a"/><rect x="217.42" y="149.73" width="3.03" height="2.98" fill="#444444"/><rect x="219.85" y="149.73" width="3.03" height="2.98" fill="#292929"/><rect x="222.28" y="149.73" width="3.03" height="2.98" fill="#202020"/><rect x="224.70" y="149.73" width="3.03" height="2.98" fill="#1d1d1d"/><rect x="227.13" y="149.73" width="3.03" height="2.98" fill="#1f1f1f"/><rect x="229.56" y="149.73" width="3.03" height="2.98" fill="#1c1c1c"/><rect x="231.99" y="149.73" width="3.03" height="2.98" fill="#1f1f1f"/><rect x="234.42" y="149.73" width="3.03" height="2.98" fill="#191919"/><rect x="236.84" y="149.73" width="3.03" height="2.98" fill="#242424"/><rect x="239.27" y="149.73" width="2.43" height="2.98" fill="#262626"/><rect x="181.00" y="152.11" width="3.03" height="2.98" fill="#080808"/><rect x="183.43" y="152.11" width="3.03" height="2.98" fill="#151515"/><rect x="185.86" y="152.11" width="3.03" height="2.98" fill="#0e0e0e"/><rect x="188.28" y="152.11" width="3.03" height="2.98" fill="#1c1c1c"/><rect x="190.71" y="152.11" width="3.03" height="2.98" fill="#0f0f0f"/><rect x="193.14" y="152.11" width="3.03" height="2.98" fill="#232323"/><rect x="195.57" y="152.11" width="3.03" height="2.98" fill="#1e1e1e"/><rect x="198.00" y="152.11" width="3.03" height="2.98" fill="#1d1d1d"/><rect x="200.42" y="152.11" width="3.03" height="2.98" fill="#2c2c2c"/><rect x="202.85" y="152.11" width="3.03" height="2.98" fill="#252525"/><rect x="205.28" y="152.11" width="3.03" height="2.98" fill="#3e3e3e"/><rect x="207.71" y="152.11" width="3.03" height="2.98" fill="#545454"/><rect x="210.14" y="152.11" width="3.03" height="2.98" fill="#515151"/><rect x="212.56" y="152.11" width="3.03" height="2.98" fill="#414141"/><rect x="214.99" y="152.11" width="3.03" height="2.98" fill="#2c2c2c"/><rect x="217.42" y="152.11" width="3.03" height="2.98" fill="#242424"/><rect x="219.85" y="152.11" width="3.03" height="2.98" fill="#181818"/><rect x="222.28" y="152.11" width="3.03" height="2.98" fill="#303030"/><rect x="224.70" y="152.11" width="3.03" height="2.98" fill="#1f1f1f"/><rect x="227.13" y="152.11" width="3.03" height="2.98" fill="#171717"/><rect x="229.56" y="152.11" width="3.03" height="2.98" fill="#141414"/><rect x="231.99" y="152.11" width="3.03" height="2.98" fill="#151515"/><rect x="234.42" y="152.11" width="3.03" height="2.98" fill="#1b1b1b"/><rect x="236.84" y="152.11" width="3.03" height="2.98" fill="#131313"/><rect x="239.27" y="152.11" width="2.43" height="2.98" fill="#2b2b2b"/><rect x="181.00" y="154.48" width="3.03" height="2.98" fill="#0b0b0b"/><rect x="183.43" y="154.48" width="3.03" height="2.98" fill="#171717"/><rect x="185.86" y="154.48" width="3.03" height="2.98" fill="#111111"/><rect x="188.28" y="154.48" width="3.03" height="2.98" fill="#171717"/><rect x="190.71" y="154.48" width="3.03" height="2.98" fill="#222222"/><rect x="193.14" y="154.48" width="3.03" height="2.98" fill="#212121"/><rect x="195.57" y="154.48" width="3.03" height="2.98" fill="#181818"/><rect x="198.00" y="154.48" width="3.03" height="2.98" fill="#171717"/><rect x="200.42" y="154.48" width="3.03" height="2.98" fill="#252525"/><rect x="202.85" y="154.48" width="3.03" height="2.98" fill="#1e1e1e"/><rect x="205.28" y="154.48" width="3.03" height="2.98" fill="#363636"/><rect x="207.71" y="154.48" width="3.03" height="2.98" fill="#303030"/><rect x="210.14" y="154.48" width="3.03" height="2.98" fill="#292929"/><rect x="212.56" y="154.48" width="3.03" height="2.98" fill="#2c2c2c"/><rect x="214.99" y="154.48" width="3.03" height="2.98" fill="#272727"/><rect x="217.42" y="154.48" width="3.03" height="2.98" fill="#252525"/><rect x="219.85" y="154.48" width="3.03" height="2.98" fill="#2b2b2b"/><rect x="222.28" y="154.48" width="3.03" height="2.98" fill="#161616"/><rect x="224.70" y="154.48" width="3.03" height="2.98" fill="#111111"/><rect x="227.13" y="154.48" width="3.03" height="2.98" fill="#212121"/><rect x="229.56" y="154.48" width="3.03" height="2.98" fill="#1d1d1d"/><rect x="231.99" y="154.48" width="3.03" height="2.98" fill="#1f1f1f"/><rect x="234.42" y="154.48" width="3.03" height="2.98" fill="#212121"/><rect x="236.84" y="154.48" width="3.03" height="2.98" fill="#1c1c1c"/><rect x="239.27" y="154.48" width="2.43" height="2.98" fill="#242424"/><rect x="181.00" y="156.86" width="3.03" height="2.98" fill="#0f0f0f"/><rect x="183.43" y="156.86" width="3.03" height="2.98" fill="#0d0d0d"/><rect x="185.86" y="156.86" width="3.03" height="2.98" fill="#161616"/><rect x="188.28" y="156.86" width="3.03" height="2.98" fill="#121212"/><rect x="190.71" y="156.86" width="3.03" height="2.98" fill="#202020"/><rect x="193.14" y="156.86" width="3.03" height="2.98" fill="#272727"/><rect x="195.57" y="156.86" width="3.03" height="2.98" fill="#1a1a1a"/><rect x="198.00" y="156.86" width="3.03" height="2.98" fill="#1f1f1f"/><rect x="200.42" y="156.86" width="3.03" height="2.98" fill="#161616"/><rect x="202.85" y="156.86" width="3.03" height="2.98" fill="#373737"/><rect x="205.28" y="156.86" width="3.03" height="2.98" fill="#282828"/><rect x="207.71" y="156.86" width="3.03" height="2.98" fill="#2d2d2d"/><rect x="210.14" y="156.86" width="3.03" height="2.98" fill="#2c2c2c"/><rect x="212.56" y="156.86" width="3.03" height="2.98" fill="#2d2d2d"/><rect x="214.99" y="156.86" width="3.03" height="2.98" fill="#292929"/><rect x="217.42" y="156.86" width="3.03" height="2.98" fill="#202020"/><rect x="219.85" y="156.86" width="3.03" height="2.98" fill="#272727"/><rect x="222.28" y="156.86" width="3.03" height="2.98" fill="#212121"/><rect x="224.70" y="156.86" width="3.03" height="2.98" fill="#292929"/><rect x="227.13" y="156.86" width="3.03" height="2.98" fill="#181818"/><rect x="229.56" y="156.86" width="3.03" height="2.98" fill="#1a1a1a"/><rect x="231.99" y="156.86" width="3.03" height="2.98" fill="#232323"/><rect x="234.42" y="156.86" width="3.03" height="2.98" fill="#282828"/><rect x="236.84" y="156.86" width="3.03" height="2.98" fill="#1f1f1f"/><rect x="239.27" y="156.86" width="2.43" height="2.98" fill="#181818"/><rect x="181.00" y="159.24" width="3.03" height="2.98" fill="#0e0e0e"/><rect x="183.43" y="159.24" width="3.03" height="2.98" fill="#161616"/><rect x="185.86" y="159.24" width="3.03" height="2.98" fill="#161616"/><rect x="188.28" y="159.24" width="3.03" height="2.98" fill="#1c1c1c"/><rect x="190.71" y="159.24" width="3.03" height="2.98" fill="#2b2b2b"/><rect x="193.14" y="159.24" width="3.03" height="2.98" fill="#232323"/><rect x="195.57" y="159.24" width="3.03" height="2.98" fill="#1e1e1e"/><rect x="198.00" y="159.24" width="3.03" height="2.98" fill="#282828"/><rect x="200.42" y="159.24" width="3.03" height="2.98" fill="#1d1d1d"/><rect x="202.85" y="159.24" width="3.03" height="2.98" fill="#272727"/><rect x="205.28" y="159.24" width="3.03" height="2.98" fill="#1c1c1c"/><rect x="207.71" y="159.24" width="3.03" height="2.98" fill="#1a1a1a"/><rect x="210.14" y="159.24" width="3.03" height="2.98" fill="#272727"/><rect x="212.56" y="159.24" width="3.03" height="2.98" fill="#252525"/><rect x="214.99" y="159.24" width="3.03" height="2.98" fill="#313131"/><rect x="217.42" y="159.24" width="3.03" height="2.98" fill="#1e1e1e"/><rect x="219.85" y="159.24" width="3.03" height="2.98" fill="#202020"/><rect x="222.28" y="159.24" width="3.03" height="2.98" fill="#161616"/><rect x="224.70" y="159.24" width="3.03" height="2.98" fill="#0f0f0f"/><rect x="227.13" y="159.24" width="3.03" height="2.98" fill="#101010"/><rect x="229.56" y="159.24" width="3.03" height="2.98" fill="#212121"/><rect x="231.99" y="159.24" width="3.03" height="2.98" fill="#141414"/><rect x="234.42" y="159.24" width="3.03" height="2.98" fill="#272727"/><rect x="236.84" y="159.24" width="3.03" height="2.98" fill="#292929"/><rect x="239.27" y="159.24" width="2.43" height="2.98" fill="#1b1b1b"/><rect x="181.00" y="161.62" width="3.03" height="2.98" fill="#111111"/><rect x="183.43" y="161.62" width="3.03" height="2.98" fill="#121212"/><rect x="185.86" y="161.62" width="3.03" height="2.98" fill="#121212"/><rect x="188.28" y="161.62" width="3.03" height="2.98" fill="#161616"/><rect x="190.71" y="161.62" width="3.03" height="2.98" fill="#1d1d1d"/><rect x="193.14" y="161.62" width="3.03" height="2.98" fill="#232323"/><rect x="195.57" y="161.62" width="3.03" height="2.98" fill="#1f1f1f"/><rect x="198.00" y="161.62" width="3.03" height="2.98" fill="#1e1e1e"/><rect x="200.42" y="161.62" width="3.03" height="2.98" fill="#252525"/><rect x="202.85" y="161.62" width="3.03" height="2.98" fill="#262626"/><rect x="205.28" y="161.62" width="3.03" height="2.98" fill="#141414"/><rect x="207.71" y="161.62" width="3.03" height="2.98" fill="#242424"/><rect x="210.14" y="161.62" width="3.03" height="2.98" fill="#252525"/><rect x="212.56" y="161.62" width="3.03" height="2.98" fill="#1a1a1a"/><rect x="214.99" y="161.62" width="3.03" height="2.98" fill="#232323"/><rect x="217.42" y="161.62" width="3.03" height="2.98" fill="#141414"/><rect x="219.85" y="161.62" width="3.03" height="2.98" fill="#2a2a2a"/><rect x="222.28" y="161.62" width="3.03" height="2.98" fill="#1c1c1c"/><rect x="224.70" y="161.62" width="3.03" height="2.98" fill="#1d1d1d"/><rect x="227.13" y="161.62" width="3.03" height="2.98" fill="#272727"/><rect x="229.56" y="161.62" width="3.03" height="2.98" fill="#1c1c1c"/><rect x="231.99" y="161.62" width="3.03" height="2.98" fill="#222222"/><rect x="234.42" y="161.62" width="3.03" height="2.98" fill="#151515"/><rect x="236.84" y="161.62" width="3.03" height="2.98" fill="#191919"/><rect x="239.27" y="161.62" width="2.43" height="2.98" fill="#121212"/><rect x="181.00" y="163.99" width="3.03" height="2.98" fill="#151515"/><rect x="183.43" y="163.99" width="3.03" height="2.98" fill="#171717"/><rect x="185.86" y="163.99" width="3.03" height="2.98" fill="#131313"/><rect x="188.28" y="163.99" width="3.03" height="2.98" fill="#1b1b1b"/><rect x="190.71" y="163.99" width="3.03" height="2.98" fill="#202020"/><rect x="193.14" y="163.99" width="3.03" height="2.98" fill="#1e1e1e"/><rect x="195.57" y="163.99" width="3.03" height="2.98" fill="#232323"/><rect x="198.00" y="163.99" width="3.03" height="2.98" fill="#1d1d1d"/><rect x="200.42" y="163.99" width="3.03" height="2.98" fill="#1e1e1e"/><rect x="202.85" y="163.99" width="3.03" height="2.98" fill="#292929"/><rect x="205.28" y="163.99" width="3.03" height="2.98" fill="#1a1a1a"/><rect x="207.71" y="163.99" width="3.03" height="2.98" fill="#202020"/><rect x="210.14" y="163.99" width="3.03" height="2.98" fill="#2c2c2c"/><rect x="212.56" y="163.99" width="3.03" height="2.98" fill="#1f1f1f"/><rect x="214.99" y="163.99" width="3.03" height="2.98" fill="#242424"/><rect x="217.42" y="163.99" width="3.03" height="2.98" fill="#191919"/><rect x="219.85" y="163.99" width="3.03" height="2.98" fill="#2e2e2e"/><rect x="222.28" y="163.99" width="3.03" height="2.98" fill="#0c0c0c"/><rect x="224.70" y="163.99" width="3.03" height="2.98" fill="#151515"/><rect x="227.13" y="163.99" width="3.03" height="2.98" fill="#151515"/><rect x="229.56" y="163.99" width="3.03" height="2.98" fill="#2b2b2b"/><rect x="231.99" y="163.99" width="3.03" height="2.98" fill="#202020"/><rect x="234.42" y="163.99" width="3.03" height="2.98" fill="#1b1b1b"/><rect x="236.84" y="163.99" width="3.03" height="2.98" fill="#131313"/><rect x="239.27" y="163.99" width="2.43" height="2.98" fill="#202020"/><rect x="181.00" y="166.37" width="3.03" height="2.98" fill="#0f0f0f"/><rect x="183.43" y="166.37" width="3.03" height="2.98" fill="#101010"/><rect x="185.86" y="166.37" width="3.03" height="2.98" fill="#181818"/><rect x="188.28" y="166.37" width="3.03" height="2.98" fill="#191919"/><rect x="190.71" y="166.37" width="3.03" height="2.98" fill="#0f0f0f"/><rect x="193.14" y="166.37" width="3.03" height="2.98" fill="#1e1e1e"/><rect x="195.57" y="166.37" width="3.03" height="2.98" fill="#151515"/><rect x="198.00" y="166.37" width="3.03" height="2.98" fill="#1e1e1e"/><rect x="200.42" y="166.37" width="3.03" height="2.98" fill="#212121"/><rect x="202.85" y="166.37" width="3.03" height="2.98" fill="#181818"/><rect x="205.28" y="166.37" width="3.03" height="2.98" fill="#161616"/><rect x="207.71" y="166.37" width="3.03" height="2.98" fill="#262626"/><rect x="210.14" y="166.37" width="3.03" height="2.98" fill="#212121"/><rect x="212.56" y="166.37" width="3.03" height="2.98" fill="#191919"/><rect x="214.99" y="166.37" width="3.03" height="2.98" fill="#060606"/><rect x="217.42" y="166.37" width="3.03" height="2.98" fill="#1d1d1d"/><rect x="219.85" y="166.37" width="3.03" height="2.98" fill="#232323"/><rect x="222.28" y="166.37" width="3.03" height="2.98" fill="#272727"/><rect x="224.70" y="166.37" width="3.03" height="2.98" fill="#181818"/><rect x="227.13" y="166.37" width="3.03" height="2.98" fill="#181818"/><rect x="229.56" y="166.37" width="3.03" height="2.98" fill="#1a1a1a"/><rect x="231.99" y="166.37" width="3.03" height="2.98" fill="#242424"/><rect x="234.42" y="166.37" width="3.03" height="2.98" fill="#141414"/><rect x="236.84" y="166.37" width="3.03" height="2.98" fill="#1d1d1d"/><rect x="239.27" y="166.37" width="2.43" height="2.98" fill="#161616"/><rect x="181.00" y="168.75" width="3.03" height="2.98" fill="#0c0c0c"/><rect x="183.43" y="168.75" width="3.03" height="2.98" fill="#131313"/><rect x="185.86" y="168.75" width="3.03" height="2.98" fill="#1a1a1a"/><rect x="188.28" y="168.75" width="3.03" height="2.98" fill="#131313"/><rect x="190.71" y="168.75" width="3.03" height="2.98" fill="#262626"/><rect x="193.14" y="168.75" width="3.03" height="2.98" fill="#222222"/><rect x="195.57" y="168.75" width="3.03" height="2.98" fill="#1b1b1b"/><rect x="198.00" y="168.75" width="3.03" height="2.98" fill="#292929"/><rect x="200.42" y="168.75" width="3.03" height="2.98" fill="#1f1f1f"/><rect x="202.85" y="168.75" width="3.03" height="2.98" fill="#282828"/><rect x="205.28" y="168.75" width="3.03" height="2.98" fill="#191919"/><rect x="207.71" y="168.75" width="3.03" height="2.98" fill="#171717"/><rect x="210.14" y="168.75" width="3.03" height="2.98" fill="#282828"/><rect x="212.56" y="168.75" width="3.03" height="2.98" fill="#2f2f2f"/><rect x="214.99" y="168.75" width="3.03" height="2.98" fill="#232323"/><rect x="217.42" y="168.75" width="3.03" height="2.98" fill="#252525"/><rect x="219.85" y="168.75" width="3.03" height="2.98" fill="#1a1a1a"/><rect x="222.28" y="168.75" width="3.03" height="2.98" fill="#131313"/><rect x="224.70" y="168.75" width="3.03" height="2.98" fill="#1c1c1c"/><rect x="227.13" y="168.75" width="3.03" height="2.98" fill="#2a2a2a"/><rect x="229.56" y="168.75" width="3.03" height="2.98" fill="#0f0f0f"/><rect x="231.99" y="168.75" width="3.03" height="2.98" fill="#1a1a1a"/><rect x="234.42" y="168.75" width="3.03" height="2.98" fill="#0e0e0e"/><rect x="236.84" y="168.75" width="3.03" height="2.98" fill="#1e1e1e"/><rect x="239.27" y="168.75" width="2.43" height="2.98" fill="#242424"/><rect x="181.00" y="171.12" width="3.03" height="2.38" fill="#121212"/><rect x="183.43" y="171.12" width="3.03" height="2.38" fill="#151515"/><rect x="185.86" y="171.12" width="3.03" height="2.38" fill="#131313"/><rect x="188.28" y="171.12" width="3.03" height="2.38" fill="#1e1e1e"/><rect x="190.71" y="171.12" width="3.03" height="2.38" fill="#181818"/><rect x="193.14" y="171.12" width="3.03" height="2.38" fill="#262626"/><rect x="195.57" y="171.12" width="3.03" height="2.38" fill="#242424"/><rect x="198.00" y="171.12" width="3.03" height="2.38" fill="#181818"/><rect x="200.42" y="171.12" width="3.03" height="2.38" fill="#191919"/><rect x="202.85" y="171.12" width="3.03" height="2.38" fill="#242424"/><rect x="205.28" y="171.12" width="3.03" height="2.38" fill="#1f1f1f"/><rect x="207.71" y="171.12" width="3.03" height="2.38" fill="#202020"/><rect x="210.14" y="171.12" width="3.03" height="2.38" fill="#101010"/><rect x="212.56" y="171.12" width="3.03" height="2.38" fill="#252525"/><rect x="214.99" y="171.12" width="3.03" height="2.38" fill="#171717"/><rect x="217.42" y="171.12" width="3.03" height="2.38" fill="#0b0b0b"/><rect x="219.85" y="171.12" width="3.03" height="2.38" fill="#191919"/><rect x="222.28" y="171.12" width="3.03" height="2.38" fill="#212121"/><rect x="224.70" y="171.12" width="3.03" height="2.38" fill="#2e2e2e"/><rect x="227.13" y="171.12" width="3.03" height="2.38" fill="#1b1b1b"/><rect x="229.56" y="171.12" width="3.03" height="2.38" fill="#131313"/><rect x="231.99" y="171.12" width="3.03" height="2.38" fill="#2e2e2e"/><rect x="234.42" y="171.12" width="3.03" height="2.38" fill="#1f1f1f"/><rect x="236.84" y="171.12" width="3.03" height="2.38" fill="#1b1b1b"/><rect x="239.27" y="171.12" width="2.43" height="2.38" fill="#151515"/>
<rect x="222" y="163.9" width="12.8" height="1.6" fill="#fff"/>
<rect x="181.00" y="173.50" width="3.03" height="3.02" fill="#221f22"/><rect x="183.43" y="173.50" width="3.03" height="3.02" fill="#221f22"/><rect x="185.86" y="173.50" width="3.03" height="3.02" fill="#221f22"/><rect x="188.28" y="173.50" width="3.03" height="3.02" fill="#221f22"/><rect x="190.71" y="173.50" width="3.03" height="3.02" fill="#221f22"/><rect x="193.14" y="173.50" width="3.03" height="3.02" fill="#221f22"/><rect x="195.57" y="173.50" width="3.03" height="3.02" fill="#221f22"/><rect x="198.00" y="173.50" width="3.03" height="3.02" fill="#221f22"/><rect x="200.42" y="173.50" width="3.03" height="3.02" fill="#221f22"/><rect x="202.85" y="173.50" width="3.03" height="3.02" fill="#221f22"/><rect x="205.28" y="173.50" width="3.03" height="3.02" fill="#221f22"/><rect x="207.71" y="173.50" width="3.03" height="3.02" fill="#221f22"/><rect x="210.14" y="173.50" width="3.03" height="3.02" fill="#221f22"/><rect x="212.56" y="173.50" width="3.03" height="3.02" fill="#221f22"/><rect x="214.99" y="173.50" width="3.03" height="3.02" fill="#221f22"/><rect x="217.42" y="173.50" width="3.03" height="3.02" fill="#221f22"/><rect x="219.85" y="173.50" width="3.03" height="3.02" fill="#221f22"/><rect x="222.28" y="173.50" width="3.03" height="3.02" fill="#221f22"/><rect x="224.70" y="173.50" width="3.03" height="3.02" fill="#221f22"/><rect x="227.13" y="173.50" width="3.03" height="3.02" fill="#221f22"/><rect x="229.56" y="173.50" width="3.03" height="3.02" fill="#221f22"/><rect x="231.99" y="173.50" width="3.03" height="3.02" fill="#221f22"/><rect x="234.42" y="173.50" width="3.03" height="3.02" fill="#221f22"/><rect x="236.84" y="173.50" width="3.03" height="3.02" fill="#221f22"/><rect x="239.27" y="173.50" width="2.43" height="3.02" fill="#221f22"/><rect x="181.00" y="175.92" width="3.03" height="3.02" fill="#221f22"/><rect x="183.43" y="175.92" width="3.03" height="3.02" fill="#221f22"/><rect x="185.86" y="175.92" width="3.03" height="3.02" fill="#221f22"/><rect x="188.28" y="175.92" width="3.03" height="3.02" fill="#221f22"/><rect x="190.71" y="175.92" width="3.03" height="3.02" fill="#221f22"/><rect x="193.14" y="175.92" width="3.03" height="3.02" fill="#221f22"/><rect x="195.57" y="175.92" width="3.03" height="3.02" fill="#221f22"/><rect x="198.00" y="175.92" width="3.03" height="3.02" fill="#221f22"/><rect x="200.42" y="175.92" width="3.03" height="3.02" fill="#221f22"/><rect x="202.85" y="175.92" width="3.03" height="3.02" fill="#221f22"/><rect x="205.28" y="175.92" width="3.03" height="3.02" fill="#221f22"/><rect x="207.71" y="175.92" width="3.03" height="3.02" fill="#221f22"/><rect x="210.14" y="175.92" width="3.03" height="3.02" fill="#221f22"/><rect x="212.56" y="175.92" width="3.03" height="3.02" fill="#221f22"/><rect x="214.99" y="175.92" width="3.03" height="3.02" fill="#221f22"/><rect x="217.42" y="175.92" width="3.03" height="3.02" fill="#221f22"/><rect x="219.85" y="175.92" width="3.03" height="3.02" fill="#221f22"/><rect x="222.28" y="175.92" width="3.03" height="3.02" fill="#221f22"/><rect x="224.70" y="175.92" width="3.03" height="3.02" fill="#221f22"/><rect x="227.13" y="175.92" width="3.03" height="3.02" fill="#221f22"/><rect x="229.56" y="175.92" width="3.03" height="3.02" fill="#221f22"/><rect x="231.99" y="175.92" width="3.03" height="3.02" fill="#221f22"/><rect x="234.42" y="175.92" width="3.03" height="3.02" fill="#221f22"/><rect x="236.84" y="175.92" width="3.03" height="3.02" fill="#221f22"/><rect x="239.27" y="175.92" width="2.43" height="3.02" fill="#221f22"/><rect x="181.00" y="178.34" width="3.03" height="3.02" fill="#221f22"/><rect x="183.43" y="178.34" width="3.03" height="3.02" fill="#221f22"/><rect x="185.86" y="178.34" width="3.03" height="3.02" fill="#221f22"/><rect x="188.28" y="178.34" width="3.03" height="3.02" fill="#221f22"/><rect x="190.71" y="178.34" width="3.03" height="3.02" fill="#221f22"/><rect x="193.14" y="178.34" width="3.03" height="3.02" fill="#221f22"/><rect x="195.57" y="178.34" width="3.03" height="3.02" fill="#221f22"/><rect x="198.00" y="178.34" width="3.03" height="3.02" fill="#221f22"/><rect x="200.42" y="178.34" width="3.03" height="3.02" fill="#221f22"/><rect x="202.85" y="178.34" width="3.03" height="3.02" fill="#221f22"/><rect x="205.28" y="178.34" width="3.03" height="3.02" fill="#221f22"/><rect x="207.71" y="178.34" width="3.03" height="3.02" fill="#221f22"/><rect x="210.14" y="178.34" width="3.03" height="3.02" fill="#221f22"/><rect x="212.56" y="178.34" width="3.03" height="3.02" fill="#221f22"/><rect x="214.99" y="178.34" width="3.03" height="3.02" fill="#221f22"/><rect x="217.42" y="178.34" width="3.03" height="3.02" fill="#221f22"/><rect x="219.85" y="178.34" width="3.03" height="3.02" fill="#221f22"/><rect x="222.28" y="178.34" width="3.03" height="3.02" fill="#221f22"/><rect x="224.70" y="178.34" width="3.03" height="3.02" fill="#221f22"/><rect x="227.13" y="178.34" width="3.03" height="3.02" fill="#221f22"/><rect x="229.56" y="178.34" width="3.03" height="3.02" fill="#221f22"/><rect x="231.99" y="178.34" width="3.03" height="3.02" fill="#221f22"/><rect x="234.42" y="178.34" width="3.03" height="3.02" fill="#221f22"/><rect x="236.84" y="178.34" width="3.03" height="3.02" fill="#221f22"/><rect x="239.27" y="178.34" width="2.43" height="3.02" fill="#221f22"/><rect x="181.00" y="180.76" width="3.03" height="3.02" fill="#221f22"/><rect x="183.43" y="180.76" width="3.03" height="3.02" fill="#221f22"/><rect x="185.86" y="180.76" width="3.03" height="3.02" fill="#221f22"/><rect x="188.28" y="180.76" width="3.03" height="3.02" fill="#221f22"/><rect x="190.71" y="180.76" width="3.03" height="3.02" fill="#221f22"/><rect x="193.14" y="180.76" width="3.03" height="3.02" fill="#221f22"/><rect x="195.57" y="180.76" width="3.03" height="3.02" fill="#221f22"/><rect x="198.00" y="180.76" width="3.03" height="3.02" fill="#221f22"/><rect x="200.42" y="180.76" width="3.03" height="3.02" fill="#221f22"/><rect x="202.85" y="180.76" width="3.03" height="3.02" fill="#221f22"/><rect x="205.28" y="180.76" width="3.03" height="3.02" fill="#221f22"/><rect x="207.71" y="180.76" width="3.03" height="3.02" fill="#221f22"/><rect x="210.14" y="180.76" width="3.03" height="3.02" fill="#221f22"/><rect x="212.56" y="180.76" width="3.03" height="3.02" fill="#221f22"/><rect x="214.99" y="180.76" width="3.03" height="3.02" fill="#221f22"/><rect x="217.42" y="180.76" width="3.03" height="3.02" fill="#221f22"/><rect x="219.85" y="180.76" width="3.03" height="3.02" fill="#221f22"/><rect x="222.28" y="180.76" width="3.03" height="3.02" fill="#221f22"/><rect x="224.70" y="180.76" width="3.03" height="3.02" fill="#221f22"/><rect x="227.13" y="180.76" width="3.03" height="3.02" fill="#221f22"/><rect x="229.56" y="180.76" width="3.03" height="3.02" fill="#221f22"/><rect x="231.99" y="180.76" width="3.03" height="3.02" fill="#221f22"/><rect x="234.42" y="180.76" width="3.03" height="3.02" fill="#221f22"/><rect x="236.84" y="180.76" width="3.03" height="3.02" fill="#221f22"/><rect x="239.27" y="180.76" width="2.43" height="3.02" fill="#221f22"/><rect x="181.00" y="183.18" width="3.03" height="3.02" fill="#221f22"/><rect x="183.43" y="183.18" width="3.03" height="3.02" fill="#221f22"/><rect x="185.86" y="183.18" width="3.03" height="3.02" fill="#221f22"/><rect x="188.28" y="183.18" width="3.03" height="3.02" fill="#221f22"/><rect x="190.71" y="183.18" width="3.03" height="3.02" fill="#221f22"/><rect x="193.14" y="183.18" width="3.03" height="3.02" fill="#221f22"/><rect x="195.57" y="183.18" width="3.03" height="3.02" fill="#221f22"/><rect x="198.00" y="183.18" width="3.03" height="3.02" fill="#221f22"/><rect x="200.42" y="183.18" width="3.03" height="3.02" fill="#221f22"/><rect x="202.85" y="183.18" width="3.03" height="3.02" fill="#221f22"/><rect x="205.28" y="183.18" width="3.03" height="3.02" fill="#231f23"/><rect x="207.71" y="183.18" width="3.03" height="3.02" fill="#231f23"/><rect x="210.14" y="183.18" width="3.03" height="3.02" fill="#231f23"/><rect x="212.56" y="183.18" width="3.03" height="3.02" fill="#231f23"/><rect x="214.99" y="183.18" width="3.03" height="3.02" fill="#231f23"/><rect x="217.42" y="183.18" width="3.03" height="3.02" fill="#231f23"/><rect x="219.85" y="183.18" width="3.03" height="3.02" fill="#221f22"/><rect x="222.28" y="183.18" width="3.03" height="3.02" fill="#221f22"/><rect x="224.70" y="183.18" width="3.03" height="3.02" fill="#221f22"/><rect x="227.13" y="183.18" width="3.03" height="3.02" fill="#221f22"/><rect x="229.56" y="183.18" width="3.03" height="3.02" fill="#221f22"/><rect x="231.99" y="183.18" width="3.03" height="3.02" fill="#221f22"/><rect x="234.42" y="183.18" width="3.03" height="3.02" fill="#221f22"/><rect x="236.84" y="183.18" width="3.03" height="3.02" fill="#221f22"/><rect x="239.27" y="183.18" width="2.43" height="3.02" fill="#221f22"/><rect x="181.00" y="185.60" width="3.03" height="3.02" fill="#221f22"/><rect x="183.43" y="185.60" width="3.03" height="3.02" fill="#221f22"/><rect x="185.86" y="185.60" width="3.03" height="3.02" fill="#221f22"/><rect x="188.28" y="185.60" width="3.03" height="3.02" fill="#221f22"/><rect x="190.71" y="185.60" width="3.03" height="3.02" fill="#221f22"/><rect x="193.14" y="185.60" width="3.03" height="3.02" fill="#221f22"/><rect x="195.57" y="185.60" width="3.03" height="3.02" fill="#221f22"/><rect x="198.00" y="185.60" width="3.03" height="3.02" fill="#221f22"/><rect x="200.42" y="185.60" width="3.03" height="3.02" fill="#231f23"/><rect x="202.85" y="185.60" width="3.03" height="3.02" fill="#231f23"/><rect x="205.28" y="185.60" width="3.03" height="3.02" fill="#231f23"/><rect x="207.71" y="185.60" width="3.03" height="3.02" fill="#231f23"/><rect x="210.14" y="185.60" width="3.03" height="3.02" fill="#231f23"/><rect x="212.56" y="185.60" width="3.03" height="3.02" fill="#231f23"/><rect x="214.99" y="185.60" width="3.03" height="3.02" fill="#231f23"/><rect x="217.42" y="185.60" width="3.03" height="3.02" fill="#231f23"/><rect x="219.85" y="185.60" width="3.03" height="3.02" fill="#231f23"/><rect x="222.28" y="185.60" width="3.03" height="3.02" fill="#231f23"/><rect x="224.70" y="185.60" width="3.03" height="3.02" fill="#221f22"/><rect x="227.13" y="185.60" width="3.03" height="3.02" fill="#221f22"/><rect x="229.56" y="185.60" width="3.03" height="3.02" fill="#221f22"/><rect x="231.99" y="185.60" width="3.03" height="3.02" fill="#221f22"/><rect x="234.42" y="185.60" width="3.03" height="3.02" fill="#221f22"/><rect x="236.84" y="185.60" width="3.03" height="3.02" fill="#221f22"/><rect x="239.27" y="185.60" width="2.43" height="3.02" fill="#221f22"/><rect x="181.00" y="188.02" width="3.03" height="3.02" fill="#221f22"/><rect x="183.43" y="188.02" width="3.03" height="3.02" fill="#221f22"/><rect x="185.86" y="188.02" width="3.03" height="3.02" fill="#221f22"/><rect x="188.28" y="188.02" width="3.03" height="3.02" fill="#221f22"/><rect x="190.71" y="188.02" width="3.03" height="3.02" fill="#221f22"/><rect x="193.14" y="188.02" width="3.03" height="3.02" fill="#221f22"/><rect x="195.57" y="188.02" width="3.03" height="3.02" fill="#221f22"/><rect x="198.00" y="188.02" width="3.03" height="3.02" fill="#231f23"/><rect x="200.42" y="188.02" width="3.03" height="3.02" fill="#231f23"/><rect x="202.85" y="188.02" width="3.03" height="3.02" fill="#231f23"/><rect x="205.28" y="188.02" width="3.03" height="3.02" fill="#231f23"/><rect x="207.71" y="188.02" width="3.03" height="3.02" fill="#231f23"/><rect x="210.14" y="188.02" width="3.03" height="3.02" fill="#231f23"/><rect x="212.56" y="188.02" width="3.03" height="3.02" fill="#231f23"/><rect x="214.99" y="188.02" width="3.03" height="3.02" fill="#231f23"/><rect x="217.42" y="188.02" width="3.03" height="3.02" fill="#231f23"/><rect x="219.85" y="188.02" width="3.03" height="3.02" fill="#231f23"/><rect x="222.28" y="188.02" width="3.03" height="3.02" fill="#231f23"/><rect x="224.70" y="188.02" width="3.03" height="3.02" fill="#231f23"/><rect x="227.13" y="188.02" width="3.03" height="3.02" fill="#221f22"/><rect x="229.56" y="188.02" width="3.03" height="3.02" fill="#221f22"/><rect x="231.99" y="188.02" width="3.03" height="3.02" fill="#221f22"/><rect x="234.42" y="188.02" width="3.03" height="3.02" fill="#221f22"/><rect x="236.84" y="188.02" width="3.03" height="3.02" fill="#221f22"/><rect x="239.27" y="188.02" width="2.43" height="3.02" fill="#221f22"/><rect x="181.00" y="190.44" width="3.03" height="3.02" fill="#221f22"/><rect x="183.43" y="190.44" width="3.03" height="3.02" fill="#221f22"/><rect x="185.86" y="190.44" width="3.03" height="3.02" fill="#221f22"/><rect x="188.28" y="190.44" width="3.03" height="3.02" fill="#221f22"/><rect x="190.71" y="190.44" width="3.03" height="3.02" fill="#221f22"/><rect x="193.14" y="190.44" width="3.03" height="3.02" fill="#221f22"/><rect x="195.57" y="190.44" width="3.03" height="3.02" fill="#231f23"/><rect x="198.00" y="190.44" width="3.03" height="3.02" fill="#231f23"/><rect x="200.42" y="190.44" width="3.03" height="3.02" fill="#231f23"/><rect x="202.85" y="190.44" width="3.03" height="3.02" fill="#231f23"/><rect x="205.28" y="190.44" width="3.03" height="3.02" fill="#221f22"/><rect x="207.71" y="190.44" width="3.03" height="3.02" fill="#221e22"/><rect x="210.14" y="190.44" width="3.03" height="3.02" fill="#221f22"/><rect x="212.56" y="190.44" width="3.03" height="3.02" fill="#221f22"/><rect x="214.99" y="190.44" width="3.03" height="3.02" fill="#221e22"/><rect x="217.42" y="190.44" width="3.03" height="3.02" fill="#221f22"/><rect x="219.85" y="190.44" width="3.03" height="3.02" fill="#231f23"/><rect x="222.28" y="190.44" width="3.03" height="3.02" fill="#231f23"/><rect x="224.70" y="190.44" width="3.03" height="3.02" fill="#231f23"/><rect x="227.13" y="190.44" width="3.03" height="3.02" fill="#231f23"/><rect x="229.56" y="190.44" width="3.03" height="3.02" fill="#221f22"/><rect x="231.99" y="190.44" width="3.03" height="3.02" fill="#221f22"/><rect x="234.42" y="190.44" width="3.03" height="3.02" fill="#221f22"/><rect x="236.84" y="190.44" width="3.03" height="3.02" fill="#221f22"/><rect x="239.27" y="190.44" width="2.43" height="3.02" fill="#221f22"/><rect x="181.00" y="192.86" width="3.03" height="3.02" fill="#221f22"/><rect x="183.43" y="192.86" width="3.03" height="3.02" fill="#221f22"/><rect x="185.86" y="192.86" width="3.03" height="3.02" fill="#221f22"/><rect x="188.28" y="192.86" width="3.03" height="3.02" fill="#221f22"/><rect x="190.71" y="192.86" width="3.03" height="3.02" fill="#221f22"/><rect x="193.14" y="192.86" width="3.03" height="3.02" fill="#231f23"/><rect x="195.57" y="192.86" width="3.03" height="3.02" fill="#231f23"/><rect x="198.00" y="192.86" width="3.03" height="3.02" fill="#231f23"/><rect x="200.42" y="192.86" width="3.03" height="3.02" fill="#221f22"/><rect x="202.85" y="192.86" width="3.03" height="3.02" fill="#221e22"/><rect x="205.28" y="192.86" width="3.03" height="3.02" fill="#242024"/><rect x="207.71" y="192.86" width="3.03" height="3.02" fill="#282428"/><rect x="210.14" y="192.86" width="3.03" height="3.02" fill="#2b282b"/><rect x="212.56" y="192.86" width="3.03" height="3.02" fill="#2a272a"/><rect x="214.99" y="192.86" width="3.03" height="3.02" fill="#262326"/><rect x="217.42" y="192.86" width="3.03" height="3.02" fill="#231f23"/><rect x="219.85" y="192.86" width="3.03" height="3.02" fill="#221e22"/><rect x="222.28" y="192.86" width="3.03" height="3.02" fill="#231f23"/><rect x="224.70" y="192.86" width="3.03" height="3.02" fill="#231f23"/><rect x="227.13" y="192.86" width="3.03" height="3.02" fill="#231f23"/><rect x="229.56" y="192.86" width="3.03" height="3.02" fill="#221f22"/><rect x="231.99" y="192.86" width="3.03" height="3.02" fill="#221f22"/><rect x="234.42" y="192.86" width="3.03" height="3.02" fill="#221f22"/><rect x="236.84" y="192.86" width="3.03" height="3.02" fill="#221f22"/><rect x="239.27" y="192.86" width="2.43" height="3.02" fill="#221f22"/><rect x="181.00" y="195.28" width="3.03" height="3.02" fill="#221f22"/><rect x="183.43" y="195.28" width="3.03" height="3.02" fill="#221f22"/><rect x="185.86" y="195.28" width="3.03" height="3.02" fill="#221f22"/><rect x="188.28" y="195.28" width="3.03" height="3.02" fill="#221f22"/><rect x="190.71" y="195.28" width="3.03" height="3.02" fill="#221f22"/><rect x="193.14" y="195.28" width="3.03" height="3.02" fill="#231f23"/><rect x="195.57" y="195.28" width="3.03" height="3.02" fill="#231f23"/><rect x="198.00" y="195.28" width="3.03" height="3.02" fill="#231f23"/><rect x="200.42" y="195.28" width="3.03" height="3.02" fill="#221e22"/><rect x="202.85" y="195.28" width="3.03" height="3.02" fill="#252225"/><rect x="205.28" y="195.28" width="3.03" height="3.02" fill="#312e31"/><rect x="207.71" y="195.28" width="3.03" height="3.02" fill="#434043"/><rect x="210.14" y="195.28" width="3.03" height="3.02" fill="#504d50"/><rect x="212.56" y="195.28" width="3.03" height="3.02" fill="#4d4a4d"/><rect x="214.99" y="195.28" width="3.03" height="3.02" fill="#3d3a3d"/><rect x="217.42" y="195.28" width="3.03" height="3.02" fill="#2d292d"/><rect x="219.85" y="195.28" width="3.03" height="3.02" fill="#232023"/><rect x="222.28" y="195.28" width="3.03" height="3.02" fill="#221f22"/><rect x="224.70" y="195.28" width="3.03" height="3.02" fill="#231f23"/><rect x="227.13" y="195.28" width="3.03" height="3.02" fill="#231f23"/><rect x="229.56" y="195.28" width="3.03" height="3.02" fill="#231f23"/><rect x="231.99" y="195.28" width="3.03" height="3.02" fill="#221f22"/><rect x="234.42" y="195.28" width="3.03" height="3.02" fill="#221f22"/><rect x="236.84" y="195.28" width="3.03" height="3.02" fill="#221f22"/><rect x="239.27" y="195.28" width="2.43" height="3.02" fill="#221f22"/><rect x="181.00" y="197.70" width="3.03" height="3.02" fill="#221f22"/><rect x="183.43" y="197.70" width="3.03" height="3.02" fill="#221f22"/><rect x="185.86" y="197.70" width="3.03" height="3.02" fill="#221f22"/><rect x="188.28" y="197.70" width="3.03" height="3.02" fill="#221f22"/><rect x="190.71" y="197.70" width="3.03" height="3.02" fill="#231f23"/><rect x="193.14" y="197.70" width="3.03" height="3.02" fill="#231f23"/><rect x="195.57" y="197.70" width="3.03" height="3.02" fill="#231f23"/><rect x="198.00" y="197.70" width="3.03" height="3.02" fill="#221f22"/><rect x="200.42" y="197.70" width="3.03" height="3.02" fill="#232023"/><rect x="202.85" y="197.70" width="3.03" height="3.02" fill="#302d30"/><rect x="205.28" y="197.70" width="3.03" height="3.02" fill="#514e51"/><rect x="207.71" y="197.70" width="3.03" height="3.02" fill="#807e80"/><rect x="210.14" y="197.70" width="3.03" height="3.02" fill="#a3a1a3"/><rect x="212.56" y="197.70" width="3.03" height="3.02" fill="#9c9a9c"/><rect x="214.99" y="197.70" width="3.03" height="3.02" fill="#716f71"/><rect x="217.42" y="197.70" width="3.03" height="3.02" fill="#454245"/><rect x="219.85" y="197.70" width="3.03" height="3.02" fill="#2b272b"/><rect x="222.28" y="197.70" width="3.03" height="3.02" fill="#221f22"/><rect x="224.70" y="197.70" width="3.03" height="3.02" fill="#221f22"/><rect x="227.13" y="197.70" width="3.03" height="3.02" fill="#231f23"/><rect x="229.56" y="197.70" width="3.03" height="3.02" fill="#231f23"/><rect x="231.99" y="197.70" width="3.03" height="3.02" fill="#221f22"/><rect x="234.42" y="197.70" width="3.03" height="3.02" fill="#221f22"/><rect x="236.84" y="197.70" width="3.03" height="3.02" fill="#221f22"/><rect x="239.27" y="197.70" width="2.43" height="3.02" fill="#221f22"/><rect x="181.00" y="200.12" width="3.03" height="3.02" fill="#221f22"/><rect x="183.43" y="200.12" width="3.03" height="3.02" fill="#221f22"/><rect x="185.86" y="200.12" width="3.03" height="3.02" fill="#221f22"/><rect x="188.28" y="200.12" width="3.03" height="3.02" fill="#221f22"/><rect x="190.71" y="200.12" width="3.03" height="3.02" fill="#231f23"/><rect x="193.14" y="200.12" width="3.03" height="3.02" fill="#231f23"/><rect x="195.57" y="200.12" width="3.03" height="3.02" fill="#231f23"/><rect x="198.00" y="200.12" width="3.03" height="3.02" fill="#221e22"/><rect x="200.42" y="200.12" width="3.03" height="3.02" fill="#272327"/><rect x="202.85" y="200.12" width="3.03" height="3.02" fill="#403d40"/><rect x="205.28" y="200.12" width="3.03" height="3.02" fill="#7c7a7c"/><rect x="207.71" y="200.12" width="3.03" height="3.02" fill="#d7d6d7"/><rect x="210.14" y="200.12" width="3.03" height="3.02" fill="#ffffff"/><rect x="212.56" y="200.12" width="3.03" height="3.02" fill="#ffffff"/><rect x="214.99" y="200.12" width="3.03" height="3.02" fill="#bbb9bb"/><rect x="217.42" y="200.12" width="3.03" height="3.02" fill="#666466"/><rect x="219.85" y="200.12" width="3.03" height="3.02" fill="#363336"/><rect x="222.28" y="200.12" width="3.03" height="3.02" fill="#242124"/><rect x="224.70" y="200.12" width="3.03" height="3.02" fill="#221f22"/><rect x="227.13" y="200.12" width="3.03" height="3.02" fill="#231f23"/><rect x="229.56" y="200.12" width="3.03" height="3.02" fill="#231f23"/><rect x="231.99" y="200.12" width="3.03" height="3.02" fill="#221f22"/><rect x="234.42" y="200.12" width="3.03" height="3.02" fill="#221f22"/><rect x="236.84" y="200.12" width="3.03" height="3.02" fill="#221f22"/><rect x="239.27" y="200.12" width="2.43" height="3.02" fill="#221f22"/><rect x="181.00" y="202.54" width="3.03" height="3.02" fill="#221f22"/><rect x="183.43" y="202.54" width="3.03" height="3.02" fill="#221f22"/><rect x="185.86" y="202.54" width="3.03" height="3.02" fill="#221f22"/><rect x="188.28" y="202.54" width="3.03" height="3.02" fill="#221f22"/><rect x="190.71" y="202.54" width="3.03" height="3.02" fill="#231f23"/><rect x="193.14" y="202.54" width="3.03" height="3.02" fill="#231f23"/><rect x="195.57" y="202.54" width="3.03" height="3.02" fill="#231f23"/><rect x="198.00" y="202.54" width="3.03" height="3.02" fill="#221f22"/><rect x="200.42" y="202.54" width="3.03" height="3.02" fill="#2a262a"/><rect x="202.85" y="202.54" width="3.03" height="3.02" fill="#4b484b"/><rect x="205.28" y="202.54" width="3.03" height="3.02" fill="#9a999a"/><rect x="207.71" y="202.54" width="3.03" height="3.02" fill="#ffffff"/><rect x="210.14" y="202.54" width="3.03" height="3.02" fill="#ffffff"/><rect x="212.56" y="202.54" width="3.03" height="3.02" fill="#ffffff"/><rect x="214.99" y="202.54" width="3.03" height="3.02" fill="#ededed"/><rect x="217.42" y="202.54" width="3.03" height="3.02" fill="#7d7b7d"/><rect x="219.85" y="202.54" width="3.03" height="3.02" fill="#3d3a3d"/><rect x="222.28" y="202.54" width="3.03" height="3.02" fill="#252225"/><rect x="224.70" y="202.54" width="3.03" height="3.02" fill="#221f22"/><rect x="227.13" y="202.54" width="3.03" height="3.02" fill="#231f23"/><rect x="229.56" y="202.54" width="3.03" height="3.02" fill="#231f23"/><rect x="231.99" y="202.54" width="3.03" height="3.02" fill="#231f23"/><rect x="234.42" y="202.54" width="3.03" height="3.02" fill="#221f22"/><rect x="236.84" y="202.54" width="3.03" height="3.02" fill="#221f22"/><rect x="239.27" y="202.54" width="2.43" height="3.02" fill="#221f22"/><rect x="181.00" y="204.96" width="3.03" height="3.02" fill="#221f22"/><rect x="183.43" y="204.96" width="3.03" height="3.02" fill="#221f22"/><rect x="185.86" y="204.96" width="3.03" height="3.02" fill="#221f22"/><rect x="188.28" y="204.96" width="3.03" height="3.02" fill="#221f22"/><rect x="190.71" y="204.96" width="3.03" height="3.02" fill="#231f23"/><rect x="193.14" y="204.96" width="3.03" height="3.02" fill="#231f23"/><rect x="195.57" y="204.96" width="3.03" height="3.02" fill="#231f23"/><rect x="198.00" y="204.96" width="3.03" height="3.02" fill="#221e22"/><rect x="200.42" y="204.96" width="3.03" height="3.02" fill="#292529"/><rect x="202.85" y="204.96" width="3.03" height="3.02" fill="#484548"/><rect x="205.28" y="204.96" width="3.03" height="3.02" fill="#908f90"/><rect x="207.71" y="204.96" width="3.03" height="3.02" fill="#ffffff"/><rect x="210.14" y="204.96" width="3.03" height="3.02" fill="#ffffff"/><rect x="212.56" y="204.96" width="3.03" height="3.02" fill="#ffffff"/><rect x="214.99" y="204.96" width="3.03" height="3.02" fill="#dcdcdc"/><rect x="217.42" y="204.96" width="3.03" height="3.02" fill="#757375"/><rect x="219.85" y="204.96" width="3.03" height="3.02" fill="#3b383b"/><rect x="222.28" y="204.96" width="3.03" height="3.02" fill="#252125"/><rect x="224.70" y="204.96" width="3.03" height="3.02" fill="#221f22"/><rect x="227.13" y="204.96" width="3.03" height="3.02" fill="#231f23"/><rect x="229.56" y="204.96" width="3.03" height="3.02" fill="#231f23"/><rect x="231.99" y="204.96" width="3.03" height="3.02" fill="#231f23"/><rect x="234.42" y="204.96" width="3.03" height="3.02" fill="#221f22"/><rect x="236.84" y="204.96" width="3.03" height="3.02" fill="#221f22"/><rect x="239.27" y="204.96" width="2.43" height="3.02" fill="#221f22"/><rect x="181.00" y="207.38" width="3.03" height="3.02" fill="#221f22"/><rect x="183.43" y="207.38" width="3.03" height="3.02" fill="#221f22"/><rect x="185.86" y="207.38" width="3.03" height="3.02" fill="#221f22"/><rect x="188.28" y="207.38" width="3.03" height="3.02" fill="#221f22"/><rect x="190.71" y="207.38" width="3.03" height="3.02" fill="#231f23"/><rect x="193.14" y="207.38" width="3.03" height="3.02" fill="#231f23"/><rect x="195.57" y="207.38" width="3.03" height="3.02" fill="#231f23"/><rect x="198.00" y="207.38" width="3.03" height="3.02" fill="#221e22"/><rect x="200.42" y="207.38" width="3.03" height="3.02" fill="#252225"/><rect x="202.85" y="207.38" width="3.03" height="3.02" fill="#393639"/><rect x="205.28" y="207.38" width="3.03" height="3.02" fill="#686668"/><rect x="207.71" y="207.38" width="3.03" height="3.02" fill="#adacad"/><rect x="210.14" y="207.38" width="3.03" height="3.02" fill="#e2e1e2"/><rect x="212.56" y="207.38" width="3.03" height="3.02" fill="#d7d7d7"/><rect x="214.99" y="207.38" width="3.03" height="3.02" fill="#989698"/><rect x="217.42" y="207.38" width="3.03" height="3.02" fill="#575457"/><rect x="219.85" y="207.38" width="3.03" height="3.02" fill="#312d31"/><rect x="222.28" y="207.38" width="3.03" height="3.02" fill="#232023"/><rect x="224.70" y="207.38" width="3.03" height="3.02" fill="#221f22"/><rect x="227.13" y="207.38" width="3.03" height="3.02" fill="#231f23"/><rect x="229.56" y="207.38" width="3.03" height="3.02" fill="#231f23"/><rect x="231.99" y="207.38" width="3.03" height="3.02" fill="#221f22"/><rect x="234.42" y="207.38" width="3.03" height="3.02" fill="#221f22"/><rect x="236.84" y="207.38" width="3.03" height="3.02" fill="#221f22"/><rect x="239.27" y="207.38" width="2.43" height="3.02" fill="#221f22"/><rect x="181.00" y="209.80" width="3.03" height="3.02" fill="#221f22"/><rect x="183.43" y="209.80" width="3.03" height="3.02" fill="#221f22"/><rect x="185.86" y="209.80" width="3.03" height="3.02" fill="#221f22"/><rect x="188.28" y="209.80" width="3.03" height="3.02" fill="#221f22"/><rect x="190.71" y="209.80" width="3.03" height="3.02" fill="#221f22"/><rect x="193.14" y="209.80" width="3.03" height="3.02" fill="#231f23"/><rect x="195.57" y="209.80" width="3.03" height="3.02" fill="#231f23"/><rect x="198.00" y="209.80" width="3.03" height="3.02" fill="#221f22"/><rect x="200.42" y="209.80" width="3.03" height="3.02" fill="#221f22"/><rect x="202.85" y="209.80" width="3.03" height="3.02" fill="#2a272a"/><rect x="205.28" y="209.80" width="3.03" height="3.02" fill="#403d40"/><rect x="207.71" y="209.80" width="3.03" height="3.02" fill="#5f5c5f"/><rect x="210.14" y="209.80" width="3.03" height="3.02" fill="#767476"/><rect x="212.56" y="209.80" width="3.03" height="3.02" fill="#716f71"/><rect x="214.99" y="209.80" width="3.03" height="3.02" fill="#555355"/><rect x="217.42" y="209.80" width="3.03" height="3.02" fill="#383538"/><rect x="219.85" y="209.80" width="3.03" height="3.02" fill="#272327"/><rect x="222.28" y="209.80" width="3.03" height="3.02" fill="#221e22"/><rect x="224.70" y="209.80" width="3.03" height="3.02" fill="#231f23"/><rect x="227.13" y="209.80" width="3.03" height="3.02" fill="#231f23"/><rect x="229.56" y="209.80" width="3.03" height="3.02" fill="#231f23"/><rect x="231.99" y="209.80" width="3.03" height="3.02" fill="#221f22"/><rect x="234.42" y="209.80" width="3.03" height="3.02" fill="#221f22"/><rect x="236.84" y="209.80" width="3.03" height="3.02" fill="#221f22"/><rect x="239.27" y="209.80" width="2.43" height="3.02" fill="#221f22"/><rect x="181.00" y="212.22" width="3.03" height="3.02" fill="#221f22"/><rect x="183.43" y="212.22" width="3.03" height="3.02" fill="#221f22"/><rect x="185.86" y="212.22" width="3.03" height="3.02" fill="#221f22"/><rect x="188.28" y="212.22" width="3.03" height="3.02" fill="#221f22"/><rect x="190.71" y="212.22" width="3.03" height="3.02" fill="#221f22"/><rect x="193.14" y="212.22" width="3.03" height="3.02" fill="#231f23"/><rect x="195.57" y="212.22" width="3.03" height="3.02" fill="#231f23"/><rect x="198.00" y="212.22" width="3.03" height="3.02" fill="#231f23"/><rect x="200.42" y="212.22" width="3.03" height="3.02" fill="#221f22"/><rect x="202.85" y="212.22" width="3.03" height="3.02" fill="#231f23"/><rect x="205.28" y="212.22" width="3.03" height="3.02" fill="#292529"/><rect x="207.71" y="212.22" width="3.03" height="3.02" fill="#333033"/><rect x="210.14" y="212.22" width="3.03" height="3.02" fill="#3a373a"/><rect x="212.56" y="212.22" width="3.03" height="3.02" fill="#393639"/><rect x="214.99" y="212.22" width="3.03" height="3.02" fill="#302c30"/><rect x="217.42" y="212.22" width="3.03" height="3.02" fill="#262326"/><rect x="219.85" y="212.22" width="3.03" height="3.02" fill="#221f22"/><rect x="222.28" y="212.22" width="3.03" height="3.02" fill="#221f22"/><rect x="224.70" y="212.22" width="3.03" height="3.02" fill="#231f23"/><rect x="227.13" y="212.22" width="3.03" height="3.02" fill="#231f23"/><rect x="229.56" y="212.22" width="3.03" height="3.02" fill="#231f23"/><rect x="231.99" y="212.22" width="3.03" height="3.02" fill="#221f22"/><rect x="234.42" y="212.22" width="3.03" height="3.02" fill="#221f22"/><rect x="236.84" y="212.22" width="3.03" height="3.02" fill="#221f22"/><rect x="239.27" y="212.22" width="2.43" height="3.02" fill="#221f22"/><rect x="181.00" y="214.64" width="3.03" height="3.02" fill="#221f22"/><rect x="183.43" y="214.64" width="3.03" height="3.02" fill="#221f22"/><rect x="185.86" y="214.64" width="3.03" height="3.02" fill="#221f22"/><rect x="188.28" y="214.64" width="3.03" height="3.02" fill="#221f22"/><rect x="190.71" y="214.64" width="3.03" height="3.02" fill="#221f22"/><rect x="193.14" y="214.64" width="3.03" height="3.02" fill="#231f23"/><rect x="195.57" y="214.64" width="3.03" height="3.02" fill="#231f23"/><rect x="198.00" y="214.64" width="3.03" height="3.02" fill="#231f23"/><rect x="200.42" y="214.64" width="3.03" height="3.02" fill="#231f23"/><rect x="202.85" y="214.64" width="3.03" height="3.02" fill="#221f22"/><rect x="205.28" y="214.64" width="3.03" height="3.02" fill="#221f22"/><rect x="207.71" y="214.64" width="3.03" height="3.02" fill="#232023"/><rect x="210.14" y="214.64" width="3.03" height="3.02" fill="#252125"/><rect x="212.56" y="214.64" width="3.03" height="3.02" fill="#242124"/><rect x="214.99" y="214.64" width="3.03" height="3.02" fill="#231f23"/><rect x="217.42" y="214.64" width="3.03" height="3.02" fill="#221e22"/><rect x="219.85" y="214.64" width="3.03" height="3.02" fill="#221f22"/><rect x="222.28" y="214.64" width="3.03" height="3.02" fill="#231f23"/><rect x="224.70" y="214.64" width="3.03" height="3.02" fill="#231f23"/><rect x="227.13" y="214.64" width="3.03" height="3.02" fill="#231f23"/><rect x="229.56" y="214.64" width="3.03" height="3.02" fill="#221f22"/><rect x="231.99" y="214.64" width="3.03" height="3.02" fill="#221f22"/><rect x="234.42" y="214.64" width="3.03" height="3.02" fill="#221f22"/><rect x="236.84" y="214.64" width="3.03" height="3.02" fill="#221f22"/><rect x="239.27" y="214.64" width="2.43" height="3.02" fill="#221f22"/><rect x="181.00" y="217.06" width="3.03" height="3.02" fill="#221f22"/><rect x="183.43" y="217.06" width="3.03" height="3.02" fill="#221f22"/><rect x="185.86" y="217.06" width="3.03" height="3.02" fill="#221f22"/><rect x="188.28" y="217.06" width="3.03" height="3.02" fill="#221f22"/><rect x="190.71" y="217.06" width="3.03" height="3.02" fill="#221f22"/><rect x="193.14" y="217.06" width="3.03" height="3.02" fill="#221f22"/><rect x="195.57" y="217.06" width="3.03" height="3.02" fill="#231f23"/><rect x="198.00" y="217.06" width="3.03" height="3.02" fill="#231f23"/><rect x="200.42" y="217.06" width="3.03" height="3.02" fill="#231f23"/><rect x="202.85" y="217.06" width="3.03" height="3.02" fill="#231f23"/><rect x="205.28" y="217.06" width="3.03" height="3.02" fill="#231f23"/><rect x="207.71" y="217.06" width="3.03" height="3.02" fill="#221f22"/><rect x="210.14" y="217.06" width="3.03" height="3.02" fill="#221f22"/><rect x="212.56" y="217.06" width="3.03" height="3.02" fill="#221f22"/><rect x="214.99" y="217.06" width="3.03" height="3.02" fill="#221f22"/><rect x="217.42" y="217.06" width="3.03" height="3.02" fill="#231f23"/><rect x="219.85" y="217.06" width="3.03" height="3.02" fill="#231f23"/><rect x="222.28" y="217.06" width="3.03" height="3.02" fill="#231f23"/><rect x="224.70" y="217.06" width="3.03" height="3.02" fill="#231f23"/><rect x="227.13" y="217.06" width="3.03" height="3.02" fill="#221f22"/><rect x="229.56" y="217.06" width="3.03" height="3.02" fill="#221f22"/><rect x="231.99" y="217.06" width="3.03" height="3.02" fill="#221f22"/><rect x="234.42" y="217.06" width="3.03" height="3.02" fill="#221f22"/><rect x="236.84" y="217.06" width="3.03" height="3.02" fill="#221f22"/><rect x="239.27" y="217.06" width="2.43" height="3.02" fill="#221f22"/><rect x="181.00" y="219.48" width="3.03" height="3.02" fill="#221f22"/><rect x="183.43" y="219.48" width="3.03" height="3.02" fill="#221f22"/><rect x="185.86" y="219.48" width="3.03" height="3.02" fill="#221f22"/><rect x="188.28" y="219.48" width="3.03" height="3.02" fill="#221f22"/><rect x="190.71" y="219.48" width="3.03" height="3.02" fill="#221f22"/><rect x="193.14" y="219.48" width="3.03" height="3.02" fill="#221f22"/><rect x="195.57" y="219.48" width="3.03" height="3.02" fill="#221f22"/><rect x="198.00" y="219.48" width="3.03" height="3.02" fill="#231f23"/><rect x="200.42" y="219.48" width="3.03" height="3.02" fill="#231f23"/><rect x="202.85" y="219.48" width="3.03" height="3.02" fill="#231f23"/><rect x="205.28" y="219.48" width="3.03" height="3.02" fill="#231f23"/><rect x="207.71" y="219.48" width="3.03" height="3.02" fill="#231f23"/><rect x="210.14" y="219.48" width="3.03" height="3.02" fill="#231f23"/><rect x="212.56" y="219.48" width="3.03" height="3.02" fill="#231f23"/><rect x="214.99" y="219.48" width="3.03" height="3.02" fill="#231f23"/><rect x="217.42" y="219.48" width="3.03" height="3.02" fill="#231f23"/><rect x="219.85" y="219.48" width="3.03" height="3.02" fill="#231f23"/><rect x="222.28" y="219.48" width="3.03" height="3.02" fill="#231f23"/><rect x="224.70" y="219.48" width="3.03" height="3.02" fill="#221f22"/><rect x="227.13" y="219.48" width="3.03" height="3.02" fill="#221f22"/><rect x="229.56" y="219.48" width="3.03" height="3.02" fill="#221f22"/><rect x="231.99" y="219.48" width="3.03" height="3.02" fill="#221f22"/><rect x="234.42" y="219.48" width="3.03" height="3.02" fill="#221f22"/><rect x="236.84" y="219.48" width="3.03" height="3.02" fill="#221f22"/><rect x="239.27" y="219.48" width="2.43" height="3.02" fill="#221f22"/><rect x="181.00" y="221.90" width="3.03" height="3.02" fill="#221f22"/><rect x="183.43" y="221.90" width="3.03" height="3.02" fill="#221f22"/><rect x="185.86" y="221.90" width="3.03" height="3.02" fill="#221f22"/><rect x="188.28" y="221.90" width="3.03" height="3.02" fill="#221f22"/><rect x="190.71" y="221.90" width="3.03" height="3.02" fill="#221f22"/><rect x="193.14" y="221.90" width="3.03" height="3.02" fill="#221f22"/><rect x="195.57" y="221.90" width="3.03" height="3.02" fill="#221f22"/><rect x="198.00" y="221.90" width="3.03" height="3.02" fill="#221f22"/><rect x="200.42" y="221.90" width="3.03" height="3.02" fill="#221f22"/><rect x="202.85" y="221.90" width="3.03" height="3.02" fill="#231f23"/><rect x="205.28" y="221.90" width="3.03" height="3.02" fill="#231f23"/><rect x="207.71" y="221.90" width="3.03" height="3.02" fill="#231f23"/><rect x="210.14" y="221.90" width="3.03" height="3.02" fill="#231f23"/><rect x="212.56" y="221.90" width="3.03" height="3.02" fill="#231f23"/><rect x="214.99" y="221.90" width="3.03" height="3.02" fill="#231f23"/><rect x="217.42" y="221.90" width="3.03" height="3.02" fill="#231f23"/><rect x="219.85" y="221.90" width="3.03" height="3.02" fill="#231f23"/><rect x="222.28" y="221.90" width="3.03" height="3.02" fill="#221f22"/><rect x="224.70" y="221.90" width="3.03" height="3.02" fill="#221f22"/><rect x="227.13" y="221.90" width="3.03" height="3.02" fill="#221f22"/><rect x="229.56" y="221.90" width="3.03" height="3.02" fill="#221f22"/><rect x="231.99" y="221.90" width="3.03" height="3.02" fill="#221f22"/><rect x="234.42" y="221.90" width="3.03" height="3.02" fill="#221f22"/><rect x="236.84" y="221.90" width="3.03" height="3.02" fill="#221f22"/><rect x="239.27" y="221.90" width="2.43" height="3.02" fill="#221f22"/><rect x="181.00" y="224.32" width="3.03" height="3.02" fill="#221f22"/><rect x="183.43" y="224.32" width="3.03" height="3.02" fill="#221f22"/><rect x="185.86" y="224.32" width="3.03" height="3.02" fill="#221f22"/><rect x="188.28" y="224.32" width="3.03" height="3.02" fill="#221f22"/><rect x="190.71" y="224.32" width="3.03" height="3.02" fill="#221f22"/><rect x="193.14" y="224.32" width="3.03" height="3.02" fill="#221f22"/><rect x="195.57" y="224.32" width="3.03" height="3.02" fill="#221f22"/><rect x="198.00" y="224.32" width="3.03" height="3.02" fill="#221f22"/><rect x="200.42" y="224.32" width="3.03" height="3.02" fill="#221f22"/><rect x="202.85" y="224.32" width="3.03" height="3.02" fill="#221f22"/><rect x="205.28" y="224.32" width="3.03" height="3.02" fill="#221f22"/><rect x="207.71" y="224.32" width="3.03" height="3.02" fill="#221f22"/><rect x="210.14" y="224.32" width="3.03" height="3.02" fill="#231f23"/><rect x="212.56" y="224.32" width="3.03" height="3.02" fill="#231f23"/><rect x="214.99" y="224.32" width="3.03" height="3.02" fill="#221f22"/><rect x="217.42" y="224.32" width="3.03" height="3.02" fill="#221f22"/><rect x="219.85" y="224.32" width="3.03" height="3.02" fill="#221f22"/><rect x="222.28" y="224.32" width="3.03" height="3.02" fill="#221f22"/><rect x="224.70" y="224.32" width="3.03" height="3.02" fill="#221f22"/><rect x="227.13" y="224.32" width="3.03" height="3.02" fill="#221f22"/><rect x="229.56" y="224.32" width="3.03" height="3.02" fill="#221f22"/><rect x="231.99" y="224.32" width="3.03" height="3.02" fill="#221f22"/><rect x="234.42" y="224.32" width="3.03" height="3.02" fill="#221f22"/><rect x="236.84" y="224.32" width="3.03" height="3.02" fill="#221f22"/><rect x="239.27" y="224.32" width="2.43" height="3.02" fill="#221f22"/><rect x="181.00" y="226.74" width="3.03" height="3.02" fill="#221f22"/><rect x="183.43" y="226.74" width="3.03" height="3.02" fill="#221f22"/><rect x="185.86" y="226.74" width="3.03" height="3.02" fill="#221f22"/><rect x="188.28" y="226.74" width="3.03" height="3.02" fill="#221f22"/><rect x="190.71" y="226.74" width="3.03" height="3.02" fill="#221f22"/><rect x="193.14" y="226.74" width="3.03" height="3.02" fill="#221f22"/><rect x="195.57" y="226.74" width="3.03" height="3.02" fill="#221f22"/><rect x="198.00" y="226.74" width="3.03" height="3.02" fill="#221f22"/><rect x="200.42" y="226.74" width="3.03" height="3.02" fill="#221f22"/><rect x="202.85" y="226.74" width="3.03" height="3.02" fill="#221f22"/><rect x="205.28" y="226.74" width="3.03" height="3.02" fill="#221f22"/><rect x="207.71" y="226.74" width="3.03" height="3.02" fill="#221f22"/><rect x="210.14" y="226.74" width="3.03" height="3.02" fill="#221f22"/><rect x="212.56" y="226.74" width="3.03" height="3.02" fill="#221f22"/><rect x="214.99" y="226.74" width="3.03" height="3.02" fill="#221f22"/><rect x="217.42" y="226.74" width="3.03" height="3.02" fill="#221f22"/><rect x="219.85" y="226.74" width="3.03" height="3.02" fill="#221f22"/><rect x="222.28" y="226.74" width="3.03" height="3.02" fill="#221f22"/><rect x="224.70" y="226.74" width="3.03" height="3.02" fill="#221f22"/><rect x="227.13" y="226.74" width="3.03" height="3.02" fill="#221f22"/><rect x="229.56" y="226.74" width="3.03" height="3.02" fill="#221f22"/><rect x="231.99" y="226.74" width="3.03" height="3.02" fill="#221f22"/><rect x="234.42" y="226.74" width="3.03" height="3.02" fill="#221f22"/><rect x="236.84" y="226.74" width="3.03" height="3.02" fill="#221f22"/><rect x="239.27" y="226.74" width="2.43" height="3.02" fill="#221f22"/><rect x="181.00" y="229.16" width="3.03" height="3.02" fill="#221f22"/><rect x="183.43" y="229.16" width="3.03" height="3.02" fill="#221f22"/><rect x="185.86" y="229.16" width="3.03" height="3.02" fill="#221f22"/><rect x="188.28" y="229.16" width="3.03" height="3.02" fill="#221f22"/><rect x="190.71" y="229.16" width="3.03" height="3.02" fill="#221f22"/><rect x="193.14" y="229.16" width="3.03" height="3.02" fill="#221f22"/><rect x="195.57" y="229.16" width="3.03" height="3.02" fill="#221f22"/><rect x="198.00" y="229.16" width="3.03" height="3.02" fill="#221f22"/><rect x="200.42" y="229.16" width="3.03" height="3.02" fill="#221f22"/><rect x="202.85" y="229.16" width="3.03" height="3.02" fill="#221f22"/><rect x="205.28" y="229.16" width="3.03" height="3.02" fill="#221f22"/><rect x="207.71" y="229.16" width="3.03" height="3.02" fill="#221f22"/><rect x="210.14" y="229.16" width="3.03" height="3.02" fill="#221f22"/><rect x="212.56" y="229.16" width="3.03" height="3.02" fill="#221f22"/><rect x="214.99" y="229.16" width="3.03" height="3.02" fill="#221f22"/><rect x="217.42" y="229.16" width="3.03" height="3.02" fill="#221f22"/><rect x="219.85" y="229.16" width="3.03" height="3.02" fill="#221f22"/><rect x="222.28" y="229.16" width="3.03" height="3.02" fill="#221f22"/><rect x="224.70" y="229.16" width="3.03" height="3.02" fill="#221f22"/><rect x="227.13" y="229.16" width="3.03" height="3.02" fill="#221f22"/><rect x="229.56" y="229.16" width="3.03" height="3.02" fill="#221f22"/><rect x="231.99" y="229.16" width="3.03" height="3.02" fill="#221f22"/><rect x="234.42" y="229.16" width="3.03" height="3.02" fill="#221f22"/><rect x="236.84" y="229.16" width="3.03" height="3.02" fill="#221f22"/><rect x="239.27" y="229.16" width="2.43" height="3.02" fill="#221f22"/><rect x="181.00" y="231.58" width="3.03" height="2.42" fill="#221f22"/><rect x="183.43" y="231.58" width="3.03" height="2.42" fill="#221f22"/><rect x="185.86" y="231.58" width="3.03" height="2.42" fill="#221f22"/><rect x="188.28" y="231.58" width="3.03" height="2.42" fill="#221f22"/><rect x="190.71" y="231.58" width="3.03" height="2.42" fill="#221f22"/><rect x="193.14" y="231.58" width="3.03" height="2.42" fill="#221f22"/><rect x="195.57" y="231.58" width="3.03" height="2.42" fill="#221f22"/><rect x="198.00" y="231.58" width="3.03" height="2.42" fill="#221f22"/><rect x="200.42" y="231.58" width="3.03" height="2.42" fill="#221f22"/><rect x="202.85" y="231.58" width="3.03" height="2.42" fill="#221f22"/><rect x="205.28" y="231.58" width="3.03" height="2.42" fill="#221f22"/><rect x="207.71" y="231.58" width="3.03" height="2.42" fill="#221f22"/><rect x="210.14" y="231.58" width="3.03" height="2.42" fill="#221f22"/><rect x="212.56" y="231.58" width="3.03" height="2.42" fill="#221f22"/><rect x="214.99" y="231.58" width="3.03" height="2.42" fill="#221f22"/><rect x="217.42" y="231.58" width="3.03" height="2.42" fill="#221f22"/><rect x="219.85" y="231.58" width="3.03" height="2.42" fill="#221f22"/><rect x="222.28" y="231.58" width="3.03" height="2.42" fill="#221f22"/><rect x="224.70" y="231.58" width="3.03" height="2.42" fill="#221f22"/><rect x="227.13" y="231.58" width="3.03" height="2.42" fill="#221f22"/><rect x="229.56" y="231.58" width="3.03" height="2.42" fill="#221f22"/><rect x="231.99" y="231.58" width="3.03" height="2.42" fill="#221f22"/><rect x="234.42" y="231.58" width="3.03" height="2.42" fill="#221f22"/><rect x="236.84" y="231.58" width="3.03" height="2.42" fill="#221f22"/><rect x="239.27" y="231.58" width="2.43" height="2.42" fill="#221f22"/>
<rect x="224" y="224.6" width="12.7" height="1.6" fill="#fff"/>
<rect x="181.6" y="236.1" width="60.2" height="3.0" fill="url(#gray)" stroke="#bbb" stroke-width="0.4"/>
<text x="184.20" y="251.00" font-size="11" text-anchor="middle" fill="#000">-0.10</text>
<text x="214.60" y="251.00" font-size="11" text-anchor="middle" fill="#000">0.25</text>
<text x="245.30" y="251.00" font-size="11" text-anchor="middle" fill="#000">0.60</text>
<text x="212.90" y="263.00" font-size="10.8" text-anchor="middle" fill="#000">Contrast</text>
<rect x="257.6" y="27.3" width="10.5" height="204.0" fill="url(#vir)"/>
<line x1="268.1" y1="206.6" x2="270.0" y2="206.6" stroke="#bbb" stroke-width="0.5"/>
<text x="271.80" y="210.30" font-size="10.5" text-anchor="start" fill="#000">10</text>
<line x1="268.1" y1="169.1" x2="270.0" y2="169.1" stroke="#bbb" stroke-width="0.5"/>
<text x="271.80" y="172.80" font-size="10.5" text-anchor="start" fill="#000">20</text>
<line x1="268.1" y1="131.6" x2="270.0" y2="131.6" stroke="#bbb" stroke-width="0.5"/>
<text x="271.80" y="135.30" font-size="10.5" text-anchor="start" fill="#000">30</text>
<line x1="268.1" y1="94.2" x2="270.0" y2="94.2" stroke="#bbb" stroke-width="0.5"/>
<text x="271.80" y="97.20" font-size="8.5" text-anchor="start" fill="#000">40</text>
<line x1="268.1" y1="56.7" x2="270.0" y2="56.7" stroke="#bbb" stroke-width="0.5"/>
<text x="271.80" y="60.40" font-size="10.5" text-anchor="start" fill="#000">50</text>
<text x="295.60" y="130.30" font-size="10.15" text-anchor="middle" fill="#000" transform="rotate(-90 295.6 130.3)">Maximum axial displacement (nm)</text>
<text x="2.00" y="279.50" font-size="16" text-anchor="start" fill="#000" letter-spacing="0.2">(b)</text>
<rect x="33.4" y="329.96" width="229.90" height="65.72" fill="#d6d6d6"/>
<line x1="33.4" y1="330.0" x2="274.4" y2="330.0" stroke="#2f8f2f" stroke-width="1.2" stroke-dasharray="1.9 0.9"/>
<line x1="33.4" y1="395.5" x2="274.4" y2="395.5" stroke="#2f8f2f" stroke-width="1.2" stroke-dasharray="1.9 0.9"/>
<circle cx="42.7" cy="314.6" r="1.45" fill="#1f6fb4"/><circle cx="59.5" cy="322.3" r="1.45" fill="#1f6fb4"/><circle cx="79.8" cy="328.9" r="1.45" fill="#1f6fb4"/><circle cx="66.9" cy="335" r="1.45" fill="#1f6fb4"/><circle cx="56" cy="356.5" r="1.45" fill="#1f6fb4"/><circle cx="74.1" cy="355.5" r="1.45" fill="#1f6fb4"/><circle cx="82.6" cy="354.4" r="1.45" fill="#1f6fb4"/><circle cx="53.9" cy="367.4" r="1.45" fill="#1f6fb4"/><circle cx="70.5" cy="368.3" r="1.45" fill="#1f6fb4"/><circle cx="63.7" cy="371.7" r="1.45" fill="#1f6fb4"/><circle cx="71" cy="376" r="1.45" fill="#1f6fb4"/><circle cx="46.3" cy="380.4" r="1.45" fill="#1f6fb4"/><circle cx="96.5" cy="383.5" r="1.45" fill="#1f6fb4"/><circle cx="102.7" cy="377.7" r="1.45" fill="#1f6fb4"/><circle cx="74.2" cy="392.6" r="1.45" fill="#1f6fb4"/><circle cx="50.7" cy="396.9" r="1.45" fill="#1f6fb4"/><circle cx="62.7" cy="395.6" r="1.45" fill="#1f6fb4"/><circle cx="96.5" cy="396.6" r="1.45" fill="#1f6fb4"/><circle cx="46" cy="427.5" r="1.45" fill="#1f6fb4"/><circle cx="88.1" cy="312.2" r="1.45" fill="#1f6fb4"/><circle cx="94" cy="321" r="1.45" fill="#1f6fb4"/><circle cx="86.4" cy="326.5" r="1.45" fill="#1f6fb4"/><circle cx="93.3" cy="326" r="1.45" fill="#1f6fb4"/><circle cx="141.3" cy="300.3" r="1.45" fill="#1f6fb4"/><circle cx="143.2" cy="309.2" r="1.45" fill="#1f6fb4"/><circle cx="101.7" cy="333.7" r="1.45" fill="#1f6fb4"/><circle cx="107.3" cy="333" r="1.45" fill="#1f6fb4"/><circle cx="101.7" cy="343.9" r="1.45" fill="#1f6fb4"/><circle cx="106.7" cy="343.9" r="1.45" fill="#1f6fb4"/><circle cx="111.6" cy="344.9" r="1.45" fill="#1f6fb4"/><circle cx="120.8" cy="344.9" r="1.45" fill="#1f6fb4"/><circle cx="106.7" cy="351.7" r="1.45" fill="#1f6fb4"/><circle cx="142.5" cy="339.9" r="1.45" fill="#1f6fb4"/><circle cx="144.5" cy="348.9" r="1.45" fill="#1f6fb4"/><circle cx="122.1" cy="365.9" r="1.45" fill="#1f6fb4"/><circle cx="142.3" cy="387.6" r="1.45" fill="#1f6fb4"/><circle cx="120.9" cy="412.6" r="1.45" fill="#1f6fb4"/><circle cx="159.2" cy="303.3" r="1.45" fill="#1f6fb4"/><circle cx="193.9" cy="288.6" r="1.45" fill="#1f6fb4"/><circle cx="205.7" cy="312" r="1.45" fill="#1f6fb4"/><circle cx="175.9" cy="327" r="1.45" fill="#1f6fb4"/><circle cx="202.9" cy="329.8" r="1.45" fill="#1f6fb4"/><circle cx="164.6" cy="338.3" r="1.45" fill="#1f6fb4"/><circle cx="170" cy="353" r="1.45" fill="#1f6fb4"/><circle cx="172.6" cy="361.3" r="1.45" fill="#1f6fb4"/><circle cx="199.1" cy="362.6" r="1.45" fill="#1f6fb4"/><circle cx="195.7" cy="365" r="1.45" fill="#1f6fb4"/><circle cx="199.1" cy="373.1" r="1.45" fill="#1f6fb4"/><circle cx="207.9" cy="373.5" r="1.45" fill="#1f6fb4"/><circle cx="179.7" cy="376.8" r="1.45" fill="#1f6fb4"/><circle cx="168.9" cy="381.1" r="1.45" fill="#1f6fb4"/><circle cx="190.3" cy="380" r="1.45" fill="#1f6fb4"/><circle cx="197.9" cy="380.3" r="1.45" fill="#1f6fb4"/><circle cx="179.1" cy="384" r="1.45" fill="#1f6fb4"/><circle cx="196.1" cy="384.3" r="1.45" fill="#1f6fb4"/><circle cx="155.2" cy="385.8" r="1.45" fill="#1f6fb4"/><circle cx="158.7" cy="388.9" r="1.45" fill="#1f6fb4"/><circle cx="214.7" cy="390.2" r="1.45" fill="#1f6fb4"/><circle cx="213.8" cy="395.2" r="1.45" fill="#1f6fb4"/><circle cx="152.4" cy="401.3" r="1.45" fill="#1f6fb4"/><circle cx="157.8" cy="400" r="1.45" fill="#1f6fb4"/><circle cx="158.3" cy="404.2" r="1.45" fill="#1f6fb4"/><circle cx="168.6" cy="401.3" r="1.45" fill="#1f6fb4"/><circle cx="179.1" cy="402.5" r="1.45" fill="#1f6fb4"/><circle cx="231.3" cy="329" r="1.45" fill="#1f6fb4"/><circle cx="223.3" cy="370" r="1.45" fill="#1f6fb4"/><circle cx="223.3" cy="385.5" r="1.45" fill="#1f6fb4"/><circle cx="220.5" cy="406" r="1.45" fill="#1f6fb4"/><circle cx="226.5" cy="411.4" r="1.45" fill="#1f6fb4"/><circle cx="217.3" cy="431.4" r="1.45" fill="#1f6fb4"/>
<line x1="33.4" y1="363.0" x2="274.4" y2="363.0" stroke="#ff0000" stroke-opacity="0.4" stroke-width="1.7"/>
<line x1="33.4" y1="281.6" x2="33.4" y2="438.6" stroke="#777" stroke-width="1"/>
<line x1="33.4" y1="438.6" x2="274.4" y2="438.6" stroke="#777" stroke-width="1"/>
<line x1="30.9" y1="413.70" x2="33.4" y2="413.70" stroke="#777" stroke-width="0.8"/>
<text x="30.40" y="417.10" font-size="10.6" text-anchor="end" fill="#000">20</text>
<line x1="30.9" y1="387.20" x2="33.4" y2="387.20" stroke="#777" stroke-width="0.8"/>
<text x="30.40" y="390.60" font-size="10.6" text-anchor="end" fill="#000">25</text>
<line x1="30.9" y1="360.70" x2="33.4" y2="360.70" stroke="#777" stroke-width="0.8"/>
<text x="30.40" y="364.10" font-size="10.6" text-anchor="end" fill="#000">30</text>
<line x1="30.9" y1="334.20" x2="33.4" y2="334.20" stroke="#777" stroke-width="0.8"/>
<text x="30.40" y="337.60" font-size="10.6" text-anchor="end" fill="#000">35</text>
<line x1="30.9" y1="307.70" x2="33.4" y2="307.70" stroke="#777" stroke-width="0.8"/>
<text x="30.40" y="311.10" font-size="10.6" text-anchor="end" fill="#000">40</text>
<line x1="33.40" y1="438.6" x2="33.40" y2="441.1" stroke="#777" stroke-width="0.8"/>
<text x="33.40" y="451.00" font-size="10.8" text-anchor="middle" fill="#000">0</text>
<line x1="86.80" y1="438.6" x2="86.80" y2="441.1" stroke="#777" stroke-width="0.8"/>
<text x="86.80" y="451.00" font-size="10.8" text-anchor="middle" fill="#000">12</text>
<line x1="140.20" y1="438.6" x2="140.20" y2="441.1" stroke="#777" stroke-width="0.8"/>
<text x="140.20" y="451.00" font-size="10.8" text-anchor="middle" fill="#000">24</text>
<line x1="193.60" y1="438.6" x2="193.60" y2="441.1" stroke="#777" stroke-width="0.8"/>
<text x="193.60" y="451.00" font-size="10.8" text-anchor="middle" fill="#000">36</text>
<line x1="247.00" y1="438.6" x2="247.00" y2="441.1" stroke="#777" stroke-width="0.8"/>
<text x="247.00" y="451.00" font-size="10.8" text-anchor="middle" fill="#000">48</text>
<text x="154.60" y="464.20" font-size="11.7" text-anchor="middle" fill="#000">X coordinate (µm)</text>
<text x="8.80" y="360.40" font-size="11.65" text-anchor="middle" fill="#000" transform="rotate(-90 8.8 360.4)">Axial location (nm)</text>
<circle cx="50" cy="275.3" r="1.3" fill="#1f6fb4"/>
<line x1="42" y1="285.4" x2="57.6" y2="285.4" stroke="#f08080" stroke-width="1.2"/>
<rect x="42" y="293.9" width="15.6" height="5.8" fill="#d6d6d6"/>
<text x="63.80" y="276.90" font-size="7.6" text-anchor="start" fill="#000">Data points</text>
<text x="63.80" y="287.90" font-size="7.6" text-anchor="start" fill="#000">Mean (29.4 nm)</text>
<text x="63.80" y="298.40" font-size="7.6" text-anchor="start" fill="#000">1 SD Range</text>
<text x="318.00" y="15.90" font-size="16" text-anchor="start" fill="#000" letter-spacing="0.4">(c)</text>
<linearGradient id="h1r0" x1="0" y1="0" x2="1" y2="0"><stop offset="0.0000" stop-color="#dc4869"/><stop offset="0.2761" stop-color="#dc4869"/><stop offset="0.2836" stop-color="#dc4869"/><stop offset="0.2910" stop-color="#d2436d"/><stop offset="0.2948" stop-color="#ca4071"/><stop offset="0.2985" stop-color="#c33c74"/><stop offset="0.3022" stop-color="#bb3977"/><stop offset="0.3060" stop-color="#ab337b"/><stop offset="0.3097" stop-color="#982d7f"/><stop offset="0.3134" stop-color="#782180"/><stop offset="0.3172" stop-color="#54167a"/><stop offset="0.3209" stop-color="#380f6c"/><stop offset="0.3246" stop-color="#210e4a"/><stop offset="0.3284" stop-color="#160e38"/><stop offset="0.3321" stop-color="#110c2e"/><stop offset="0.3358" stop-color="#0d0924"/><stop offset="0.3396" stop-color="#0b071f"/><stop offset="0.3433" stop-color="#09061a"/><stop offset="0.3507" stop-color="#060412"/><stop offset="0.3582" stop-color="#03020c"/><stop offset="0.3731" stop-color="#010108"/><stop offset="0.3881" stop-color="#000004"/><stop offset="0.4030" stop-color="#000004"/><stop offset="1.0000" stop-color="#000004"/></linearGradient>
<rect x="362.0" y="30.600" width="268.0" height="1.712" fill="url(#h1r0)"/>
<linearGradient id="h1r1" x1="0" y1="0" x2="1" y2="0"><stop offset="0.0000" stop-color="#ed6061"/><stop offset="0.2761" stop-color="#ed6061"/><stop offset="0.2836" stop-color="#ed6061"/><stop offset="0.2910" stop-color="#e75664"/><stop offset="0.2948" stop-color="#e24f66"/><stop offset="0.2985" stop-color="#db4869"/><stop offset="0.3022" stop-color="#d3446d"/><stop offset="0.3060" stop-color="#c43d73"/><stop offset="0.3097" stop-color="#b0357a"/><stop offset="0.3134" stop-color="#8f2a80"/><stop offset="0.3172" stop-color="#681b80"/><stop offset="0.3209" stop-color="#461274"/><stop offset="0.3246" stop-color="#2c0f5a"/><stop offset="0.3284" stop-color="#1c0e42"/><stop offset="0.3321" stop-color="#140e35"/><stop offset="0.3358" stop-color="#0f0b2a"/><stop offset="0.3396" stop-color="#0c0922"/><stop offset="0.3433" stop-color="#0a071e"/><stop offset="0.3507" stop-color="#070515"/><stop offset="0.3582" stop-color="#04030d"/><stop offset="0.3731" stop-color="#020108"/><stop offset="0.3881" stop-color="#000004"/><stop offset="0.4030" stop-color="#000004"/><stop offset="1.0000" stop-color="#000004"/></linearGradient>
<rect x="362.0" y="31.412" width="268.0" height="1.712" fill="url(#h1r1)"/>
<linearGradient id="h1r2" x1="0" y1="0" x2="1" y2="0"><stop offset="0.0000" stop-color="#ed6061"/><stop offset="0.2761" stop-color="#ed6061"/><stop offset="0.2836" stop-color="#ed6061"/><stop offset="0.2910" stop-color="#e75863"/><stop offset="0.2948" stop-color="#e35166"/><stop offset="0.2985" stop-color="#dd4968"/><stop offset="0.3022" stop-color="#d4456c"/><stop offset="0.3060" stop-color="#c83f72"/><stop offset="0.3097" stop-color="#b53679"/><stop offset="0.3134" stop-color="#982d7f"/><stop offset="0.3172" stop-color="#701e80"/><stop offset="0.3209" stop-color="#4c1477"/><stop offset="0.3246" stop-color="#310f62"/><stop offset="0.3284" stop-color="#1e0e44"/><stop offset="0.3321" stop-color="#150e37"/><stop offset="0.3358" stop-color="#100b2c"/><stop offset="0.3396" stop-color="#0d0923"/><stop offset="0.3433" stop-color="#0b081f"/><stop offset="0.3507" stop-color="#070516"/><stop offset="0.3582" stop-color="#04030d"/><stop offset="0.3731" stop-color="#020109"/><stop offset="0.3881" stop-color="#000004"/><stop offset="0.4030" stop-color="#000004"/><stop offset="1.0000" stop-color="#000004"/></linearGradient>
<rect x="362.0" y="32.223" width="268.0" height="1.712" fill="url(#h1r2)"/>
<linearGradient id="h1r3" x1="0" y1="0" x2="1" y2="0"><stop offset="0.0000" stop-color="#ed6061"/><stop offset="0.2761" stop-color="#ed6061"/><stop offset="0.2836" stop-color="#ed6061"/><stop offset="0.2910" stop-color="#e85963"/><stop offset="0.2948" stop-color="#e45265"/><stop offset="0.2985" stop-color="#de4a68"/><stop offset="0.3022" stop-color="#d6456b"/><stop offset="0.3060" stop-color="#cc4170"/><stop offset="0.3097" stop-color="#b93878"/><stop offset="0.3134" stop-color="#a1307d"/><stop offset="0.3172" stop-color="#782180"/><stop offset="0.3209" stop-color="#511579"/><stop offset="0.3246" stop-color="#370f69"/><stop offset="0.3284" stop-color="#1f0e47"/><stop offset="0.3321" stop-color="#170e3a"/><stop offset="0.3358" stop-color="#110c2e"/><stop offset="0.3396" stop-color="#0d0924"/><stop offset="0.3433" stop-color="#0b0820"/><stop offset="0.3507" stop-color="#070516"/><stop offset="0.3582" stop-color="#04030e"/><stop offset="0.3731" stop-color="#020109"/><stop offset="0.3881" stop-color="#000004"/><stop offset="0.4030" stop-color="#000004"/><stop offset="1.0000" stop-color="#000004"/></linearGradient>
<rect x="362.0" y="33.035" width="268.0" height="1.712" fill="url(#h1r3)"/>
<linearGradient id="h1r4" x1="0" y1="0" x2="1" y2="0"><stop offset="0.0000" stop-color="#f36a5e"/><stop offset="0.2761" stop-color="#f36a5e"/><stop offset="0.2836" stop-color="#f36a5e"/><stop offset="0.2910" stop-color="#f1665f"/><stop offset="0.2948" stop-color="#ec6061"/><stop offset="0.2985" stop-color="#e75864"/><stop offset="0.3022" stop-color="#e24f66"/><stop offset="0.3060" stop-color="#db4769"/><stop offset="0.3097" stop-color="#cb4070"/><stop offset="0.3134" stop-color="#b73779"/><stop offset="0.3172" stop-color="#942c80"/><stop offset="0.3209" stop-color="#6a1c80"/><stop offset="0.3246" stop-color="#491375"/><stop offset="0.3284" stop-color="#2d0f5c"/><stop offset="0.3321" stop-color="#1d0e44"/><stop offset="0.3358" stop-color="#140e36"/><stop offset="0.3396" stop-color="#100b2b"/><stop offset="0.3433" stop-color="#0d0923"/><stop offset="0.3507" stop-color="#09061a"/><stop offset="0.3582" stop-color="#050310"/><stop offset="0.3731" stop-color="#02020a"/><stop offset="0.3881" stop-color="#000005"/><stop offset="0.4030" stop-color="#000004"/><stop offset="1.0000" stop-color="#000004"/></linearGradient>
<rect x="362.0" y="33.846" width="268.0" height="1.712" fill="url(#h1r4)"/>
<linearGradient id="h1r5" x1="0" y1="0" x2="1" y2="0"><stop offset="0.0000" stop-color="#fd966a"/><stop offset="0.2761" stop-color="#fd966a"/><stop offset="0.2836" stop-color="#fd966a"/><stop offset="0.2910" stop-color="#fd966a"/><stop offset="0.2948" stop-color="#fc9469"/><stop offset="0.2985" stop-color="#fb8b66"/><stop offset="0.3022" stop-color="#f98062"/><stop offset="0.3060" stop-color="#f8745e"/><stop offset="0.3097" stop-color="#f3695e"/><stop offset="0.3134" stop-color="#ea5b62"/><stop offset="0.3172" stop-color="#d9476a"/><stop offset="0.3209" stop-color="#bc3977"/><stop offset="0.3246" stop-color="#8a2881"/><stop offset="0.3284" stop-color="#60197e"/><stop offset="0.3321" stop-color="#401072"/><stop offset="0.3358" stop-color="#270e52"/><stop offset="0.3396" stop-color="#1d0e43"/><stop offset="0.3433" stop-color="#130e34"/><stop offset="0.3507" stop-color="#0d0924"/><stop offset="0.3582" stop-color="#080619"/><stop offset="0.3731" stop-color="#03020c"/><stop offset="0.3881" stop-color="#010106"/><stop offset="0.4030" stop-color="#000004"/><stop offset="1.0000" stop-color="#000004"/></linearGradient>
<rect x="362.0" y="34.658" width="268.0" height="1.712" fill="url(#h1r5)"/>
<linearGradient id="h1r6" x1="0" y1="0" x2="1" y2="0"><stop offset="0.0000" stop-color="#fecc8f"/><stop offset="0.2761" stop-color="#fecc8f"/><stop offset="0.2836" stop-color="#fecc8f"/><stop offset="0.2910" stop-color="#fecc8f"/><stop offset="0.2948" stop-color="#fecc8f"/><stop offset="0.2985" stop-color="#fecc8f"/><stop offset="0.3022" stop-color="#fec187"/><stop offset="0.3060" stop-color="#feb67f"/><stop offset="0.3097" stop-color="#fea874"/><stop offset="0.3134" stop-color="#fd9a6b"/><stop offset="0.3172" stop-color="#fb8c66"/><stop offset="0.3209" stop-color="#f56d5d"/><stop offset="0.3246" stop-color="#e45365"/><stop offset="0.3284" stop-color="#b3367a"/><stop offset="0.3321" stop-color="#7b2381"/><stop offset="0.3358" stop-color="#57167b"/><stop offset="0.3396" stop-color="#330f64"/><stop offset="0.3433" stop-color="#270e52"/><stop offset="0.3507" stop-color="#120c31"/><stop offset="0.3582" stop-color="#0d0924"/><stop offset="0.3731" stop-color="#050310"/><stop offset="0.3881" stop-color="#020109"/><stop offset="0.4030" stop-color="#000004"/><stop offset="1.0000" stop-color="#000004"/></linearGradient>
<rect x="362.0" y="35.469" width="268.0" height="1.712" fill="url(#h1r6)"/>
<linearGradient id="h1r7" x1="0" y1="0" x2="1" y2="0"><stop offset="0.0000" stop-color="#fde7a9"/><stop offset="0.2761" stop-color="#fde7a9"/><stop offset="0.2836" stop-color="#fde7a9"/><stop offset="0.2910" stop-color="#fde7a9"/><stop offset="0.2948" stop-color="#fde7a9"/><stop offset="0.2985" stop-color="#fde7a9"/><stop offset="0.3022" stop-color="#fde7a9"/><stop offset="0.3060" stop-color="#fddc9f"/><stop offset="0.3097" stop-color="#fed194"/><stop offset="0.3134" stop-color="#fec288"/><stop offset="0.3172" stop-color="#feb37c"/><stop offset="0.3209" stop-color="#fea370"/><stop offset="0.3246" stop-color="#fa8262"/><stop offset="0.3284" stop-color="#ef6360"/><stop offset="0.3321" stop-color="#c03b75"/><stop offset="0.3358" stop-color="#842681"/><stop offset="0.3396" stop-color="#5e187e"/><stop offset="0.3433" stop-color="#370f6a"/><stop offset="0.3507" stop-color="#1e0e46"/><stop offset="0.3582" stop-color="#100b2d"/><stop offset="0.3731" stop-color="#060412"/><stop offset="0.3881" stop-color="#03020b"/><stop offset="0.4030" stop-color="#000004"/><stop offset="1.0000" stop-color="#000004"/></linearGradient>
<rect x="362.0" y="36.281" width="268.0" height="1.712" fill="url(#h1r7)"/>
<linearGradient id="h1r8" x1="0" y1="0" x2="1" y2="0"><stop offset="0.0000" stop-color="#fed79a"/><stop offset="0.2761" stop-color="#fed79a"/><stop offset="0.2836" stop-color="#fed79a"/><stop offset="0.2910" stop-color="#fed79a"/><stop offset="0.2948" stop-color="#fed79a"/><stop offset="0.2985" stop-color="#fed79a"/><stop offset="0.3022" stop-color="#fed79a"/><stop offset="0.3060" stop-color="#fecc90"/><stop offset="0.3097" stop-color="#fec187"/><stop offset="0.3134" stop-color="#feb27c"/><stop offset="0.3172" stop-color="#fea471"/><stop offset="0.3209" stop-color="#fd956a"/><stop offset="0.3246" stop-color="#f8755e"/><stop offset="0.3284" stop-color="#e85963"/><stop offset="0.3321" stop-color="#b93878"/><stop offset="0.3358" stop-color="#7f2481"/><stop offset="0.3396" stop-color="#5a177c"/><stop offset="0.3433" stop-color="#350f66"/><stop offset="0.3507" stop-color="#1d0e43"/><stop offset="0.3582" stop-color="#100b2b"/><stop offset="0.3731" stop-color="#060412"/><stop offset="0.3881" stop-color="#03020b"/><stop offset="0.4030" stop-color="#000004"/><stop offset="1.0000" stop-color="#000004"/></linearGradient>
<rect x="362.0" y="37.092" width="268.0" height="1.712" fill="url(#h1r8)"/>
<linearGradient id="h1r9" x1="0" y1="0" x2="1" y2="0"><stop offset="0.0000" stop-color="#feab76"/><stop offset="0.2761" stop-color="#feab76"/><stop offset="0.2836" stop-color="#feab76"/><stop offset="0.2910" stop-color="#feab76"/><stop offset="0.2948" stop-color="#feab76"/><stop offset="0.2985" stop-color="#feab76"/><stop offset="0.3022" stop-color="#feab76"/><stop offset="0.3060" stop-color="#fea16f"/><stop offset="0.3097" stop-color="#fd986a"/><stop offset="0.3134" stop-color="#fb8b66"/><stop offset="0.3172" stop-color="#f97e61"/><stop offset="0.3209" stop-color="#f7715c"/><stop offset="0.3246" stop-color="#e85963"/><stop offset="0.3284" stop-color="#d5456c"/><stop offset="0.3321" stop-color="#a3317d"/><stop offset="0.3358" stop-color="#701f80"/><stop offset="0.3396" stop-color="#4f1478"/><stop offset="0.3433" stop-color="#2d0f5c"/><stop offset="0.3507" stop-color="#180e3c"/><stop offset="0.3582" stop-color="#0e0a27"/><stop offset="0.3731" stop-color="#050310"/><stop offset="0.3881" stop-color="#02020a"/><stop offset="0.4030" stop-color="#000004"/><stop offset="1.0000" stop-color="#000004"/></linearGradient>
<rect x="362.0" y="37.904" width="268.0" height="1.712" fill="url(#h1r9)"/>
<linearGradient id="h1r10" x1="0" y1="0" x2="1" y2="0"><stop offset="0.0000" stop-color="#e75764"/><stop offset="0.2761" stop-color="#e75764"/><stop offset="0.2836" stop-color="#e75764"/><stop offset="0.2910" stop-color="#e75764"/><stop offset="0.2948" stop-color="#e75764"/><stop offset="0.2985" stop-color="#e75764"/><stop offset="0.3022" stop-color="#e75764"/><stop offset="0.3060" stop-color="#e35166"/><stop offset="0.3097" stop-color="#df4b67"/><stop offset="0.3134" stop-color="#d8466b"/><stop offset="0.3172" stop-color="#cf426e"/><stop offset="0.3209" stop-color="#c73e72"/><stop offset="0.3246" stop-color="#b4367a"/><stop offset="0.3284" stop-color="#a02f7d"/><stop offset="0.3321" stop-color="#782281"/><stop offset="0.3358" stop-color="#511579"/><stop offset="0.3396" stop-color="#370f6b"/><stop offset="0.3433" stop-color="#1f0e46"/><stop offset="0.3507" stop-color="#110c2e"/><stop offset="0.3582" stop-color="#0b081f"/><stop offset="0.3731" stop-color="#04030e"/><stop offset="0.3881" stop-color="#020109"/><stop offset="0.4030" stop-color="#000004"/><stop offset="1.0000" stop-color="#000004"/></linearGradient>
<rect x="362.0" y="38.715" width="268.0" height="1.712" fill="url(#h1r10)"/>
<linearGradient id="h1r11" x1="0" y1="0" x2="1" y2="0"><stop offset="0.0000" stop-color="#982d7f"/><stop offset="0.2761" stop-color="#982d7f"/><stop offset="0.2836" stop-color="#982d7f"/><stop offset="0.2910" stop-color="#982d7f"/><stop offset="0.2948" stop-color="#982d7f"/><stop offset="0.2985" stop-color="#982d7f"/><stop offset="0.3022" stop-color="#982d7f"/><stop offset="0.3060" stop-color="#932b80"/><stop offset="0.3097" stop-color="#8f2a80"/><stop offset="0.3134" stop-color="#892881"/><stop offset="0.3172" stop-color="#832681"/><stop offset="0.3209" stop-color="#7d2481"/><stop offset="0.3246" stop-color="#711f80"/><stop offset="0.3284" stop-color="#641a80"/><stop offset="0.3321" stop-color="#491376"/><stop offset="0.3358" stop-color="#300f5f"/><stop offset="0.3396" stop-color="#1f0e46"/><stop offset="0.3433" stop-color="#110c2f"/><stop offset="0.3507" stop-color="#0b0821"/><stop offset="0.3582" stop-color="#070516"/><stop offset="0.3731" stop-color="#03020a"/><stop offset="0.3881" stop-color="#010107"/><stop offset="0.4030" stop-color="#000004"/><stop offset="1.0000" stop-color="#000004"/></linearGradient>
<rect x="362.0" y="39.527" width="268.0" height="1.712" fill="url(#h1r11)"/>
<linearGradient id="h1r12" x1="0" y1="0" x2="1" y2="0"><stop offset="0.0000" stop-color="#651a80"/><stop offset="0.2761" stop-color="#651a80"/><stop offset="0.2836" stop-color="#651a80"/><stop offset="0.2910" stop-color="#651a80"/><stop offset="0.2948" stop-color="#651a80"/><stop offset="0.2985" stop-color="#651a80"/><stop offset="0.3022" stop-color="#651a80"/><stop offset="0.3060" stop-color="#621a7f"/><stop offset="0.3097" stop-color="#5f197e"/><stop offset="0.3134" stop-color="#5b187c"/><stop offset="0.3172" stop-color="#57167b"/><stop offset="0.3209" stop-color="#531579"/><stop offset="0.3246" stop-color="#491376"/><stop offset="0.3284" stop-color="#401072"/><stop offset="0.3321" stop-color="#2e0f5d"/><stop offset="0.3358" stop-color="#1c0e42"/><stop offset="0.3396" stop-color="#120d31"/><stop offset="0.3433" stop-color="#0c0822"/><stop offset="0.3507" stop-color="#080618"/><stop offset="0.3582" stop-color="#050411"/><stop offset="0.3731" stop-color="#020109"/><stop offset="0.3881" stop-color="#010106"/><stop offset="0.4030" stop-color="#000004"/><stop offset="1.0000" stop-color="#000004"/></linearGradient>
<rect x="362.0" y="40.338" width="268.0" height="1.712" fill="url(#h1r12)"/>
<linearGradient id="h1r13" x1="0" y1="0" x2="1" y2="0"><stop offset="0.0000" stop-color="#411172"/><stop offset="0.2761" stop-color="#411172"/><stop offset="0.2836" stop-color="#411172"/><stop offset="0.2910" stop-color="#411172"/><stop offset="0.2948" stop-color="#411172"/><stop offset="0.2985" stop-color="#411172"/><stop offset="0.3022" stop-color="#411172"/><stop offset="0.3060" stop-color="#3f1071"/><stop offset="0.3097" stop-color="#3d0f71"/><stop offset="0.3134" stop-color="#3a0f6e"/><stop offset="0.3172" stop-color="#370f6a"/><stop offset="0.3209" stop-color="#340f66"/><stop offset="0.3246" stop-color="#2e0f5c"/><stop offset="0.3284" stop-color="#280f53"/><stop offset="0.3321" stop-color="#1b0e40"/><stop offset="0.3358" stop-color="#110c2f"/><stop offset="0.3396" stop-color="#0d0924"/><stop offset="0.3433" stop-color="#090619"/><stop offset="0.3507" stop-color="#060412"/><stop offset="0.3582" stop-color="#04030d"/><stop offset="0.3731" stop-color="#010107"/><stop offset="0.3881" stop-color="#010006"/><stop offset="0.4030" stop-color="#000004"/><stop offset="1.0000" stop-color="#000004"/></linearGradient>
<rect x="362.0" y="41.150" width="268.0" height="1.712" fill="url(#h1r13)"/>
<linearGradient id="h1r14" x1="0" y1="0" x2="1" y2="0"><stop offset="0.0000" stop-color="#250e4f"/><stop offset="0.2761" stop-color="#250e4f"/><stop offset="0.2836" stop-color="#250e4f"/><stop offset="0.2910" stop-color="#250e4f"/><stop offset="0.2948" stop-color="#250e4f"/><stop offset="0.2985" stop-color="#250e4f"/><stop offset="0.3022" stop-color="#250e4f"/><stop offset="0.3060" stop-color="#230e4d"/><stop offset="0.3097" stop-color="#220e4b"/><stop offset="0.3134" stop-color="#200e48"/><stop offset="0.3172" stop-color="#1e0e45"/><stop offset="0.3209" stop-color="#1c0e43"/><stop offset="0.3246" stop-color="#180e3c"/><stop offset="0.3284" stop-color="#140e36"/><stop offset="0.3321" stop-color="#100b2b"/><stop offset="0.3358" stop-color="#0b0821"/><stop offset="0.3396" stop-color="#090619"/><stop offset="0.3433" stop-color="#060412"/><stop offset="0.3507" stop-color="#04030e"/><stop offset="0.3582" stop-color="#02020a"/><stop offset="0.3731" stop-color="#010106"/><stop offset="0.3881" stop-color="#000005"/><stop offset="0.4030" stop-color="#000004"/><stop offset="1.0000" stop-color="#000004"/></linearGradient>
<rect x="362.0" y="41.962" width="268.0" height="1.712" fill="url(#h1r14)"/>
<linearGradient id="h1r15" x1="0" y1="0" x2="1" y2="0"><stop offset="0.0000" stop-color="#110c2d"/><stop offset="0.2761" stop-color="#110c2d"/><stop offset="0.2836" stop-color="#110c2d"/><stop offset="0.2910" stop-color="#110c2d"/><stop offset="0.2948" stop-color="#110c2d"/><stop offset="0.2985" stop-color="#110c2d"/><stop offset="0.3022" stop-color="#110c2d"/><stop offset="0.3060" stop-color="#100b2c"/><stop offset="0.3097" stop-color="#100b2b"/><stop offset="0.3134" stop-color="#0f0b2a"/><stop offset="0.3172" stop-color="#0f0a29"/><stop offset="0.3209" stop-color="#0e0a27"/><stop offset="0.3246" stop-color="#0d0924"/><stop offset="0.3284" stop-color="#0c0821"/><stop offset="0.3321" stop-color="#09061b"/><stop offset="0.3358" stop-color="#070515"/><stop offset="0.3396" stop-color="#050310"/><stop offset="0.3433" stop-color="#03020c"/><stop offset="0.3507" stop-color="#02020a"/><stop offset="0.3582" stop-color="#010108"/><stop offset="0.3731" stop-color="#000005"/><stop offset="0.3881" stop-color="#000005"/><stop offset="0.4030" stop-color="#000004"/><stop offset="1.0000" stop-color="#000004"/></linearGradient>
<rect x="362.0" y="42.773" width="268.0" height="1.712" fill="url(#h1r15)"/>
<linearGradient id="h1r16" x1="0" y1="0" x2="1" y2="0"><stop offset="0.0000" stop-color="#09071b"/><stop offset="0.2761" stop-color="#09071b"/><stop offset="0.2836" stop-color="#09071b"/><stop offset="0.2910" stop-color="#09071b"/><stop offset="0.2948" stop-color="#09071b"/><stop offset="0.2985" stop-color="#09071b"/><stop offset="0.3022" stop-color="#09071b"/><stop offset="0.3060" stop-color="#09061b"/><stop offset="0.3097" stop-color="#09061a"/><stop offset="0.3134" stop-color="#090619"/><stop offset="0.3172" stop-color="#080619"/><stop offset="0.3209" stop-color="#080618"/><stop offset="0.3246" stop-color="#070516"/><stop offset="0.3284" stop-color="#070514"/><stop offset="0.3321" stop-color="#050411"/><stop offset="0.3358" stop-color="#04030d"/><stop offset="0.3396" stop-color="#03020b"/><stop offset="0.3433" stop-color="#020109"/><stop offset="0.3507" stop-color="#010107"/><stop offset="0.3582" stop-color="#010106"/><stop offset="0.3731" stop-color="#000005"/><stop offset="0.3881" stop-color="#000004"/><stop offset="0.4030" stop-color="#000004"/><stop offset="1.0000" stop-color="#000004"/></linearGradient>
<rect x="362.0" y="43.585" width="268.0" height="1.712" fill="url(#h1r16)"/>
<linearGradient id="h1r17" x1="0" y1="0" x2="1" y2="0"><stop offset="0.0000" stop-color="#03020d"/><stop offset="0.2761" stop-color="#03020d"/><stop offset="0.2836" stop-color="#03020d"/><stop offset="0.2910" stop-color="#03020d"/><stop offset="0.2948" stop-color="#03020d"/><stop offset="0.2985" stop-color="#03020d"/><stop offset="0.3022" stop-color="#03020d"/><stop offset="0.3060" stop-color="#03020c"/><stop offset="0.3097" stop-color="#03020c"/><stop offset="0.3134" stop-color="#03020c"/><stop offset="0.3172" stop-color="#03020c"/><stop offset="0.3209" stop-color="#03020b"/><stop offset="0.3246" stop-color="#03020b"/><stop offset="0.3284" stop-color="#02020a"/><stop offset="0.3321" stop-color="#020109"/><stop offset="0.3358" stop-color="#010107"/><stop offset="0.3396" stop-color="#010107"/><stop offset="0.3433" stop-color="#010006"/><stop offset="0.3507" stop-color="#000005"/><stop offset="0.3582" stop-color="#000005"/><stop offset="0.3731" stop-color="#000004"/><stop offset="0.3881" stop-color="#000004"/><stop offset="0.4030" stop-color="#000004"/><stop offset="1.0000" stop-color="#000004"/></linearGradient>
<rect x="362.0" y="44.396" width="268.0" height="1.712" fill="url(#h1r17)"/>
<linearGradient id="h1r18" x1="0" y1="0" x2="1" y2="0"><stop offset="0.0000" stop-color="#020109"/><stop offset="0.2761" stop-color="#020109"/><stop offset="0.2836" stop-color="#020109"/><stop offset="0.2910" stop-color="#020109"/><stop offset="0.2948" stop-color="#020109"/><stop offset="0.2985" stop-color="#020109"/><stop offset="0.3022" stop-color="#020109"/><stop offset="0.3060" stop-color="#020108"/><stop offset="0.3097" stop-color="#020108"/><stop offset="0.3134" stop-color="#020108"/><stop offset="0.3172" stop-color="#020108"/><stop offset="0.3209" stop-color="#020108"/><stop offset="0.3246" stop-color="#010108"/><stop offset="0.3284" stop-color="#010107"/><stop offset="0.3321" stop-color="#010107"/><stop offset="0.3358" stop-color="#010106"/><stop offset="0.3396" stop-color="#010005"/><stop offset="0.3433" stop-color="#000005"/><stop offset="0.3507" stop-color="#000005"/><stop offset="0.3582" stop-color="#000004"/><stop offset="0.3731" stop-color="#000004"/><stop offset="0.3881" stop-color="#000004"/><stop offset="0.4030" stop-color="#000004"/><stop offset="1.0000" stop-color="#000004"/></linearGradient>
<rect x="362.0" y="45.208" width="268.0" height="1.712" fill="url(#h1r18)"/>
<linearGradient id="h1r19" x1="0" y1="0" x2="1" y2="0"><stop offset="0.0000" stop-color="#020108"/><stop offset="0.2761" stop-color="#020108"/><stop offset="0.2836" stop-color="#020108"/><stop offset="0.2910" stop-color="#020108"/><stop offset="0.2948" stop-color="#020108"/><stop offset="0.2985" stop-color="#020108"/><stop offset="0.3022" stop-color="#020108"/><stop offset="0.3060" stop-color="#020108"/><stop offset="0.3097" stop-color="#020108"/><stop offset="0.3134" stop-color="#010108"/><stop offset="0.3172" stop-color="#010108"/><stop offset="0.3209" stop-color="#010107"/><stop offset="0.3246" stop-color="#010107"/><stop offset="0.3284" stop-color="#010107"/><stop offset="0.3321" stop-color="#010106"/><stop offset="0.3358" stop-color="#010006"/><stop offset="0.3396" stop-color="#000005"/><stop offset="0.3433" stop-color="#000005"/><stop offset="0.3507" stop-color="#000005"/><stop offset="0.3582" stop-color="#000004"/><stop offset="0.3731" stop-color="#000004"/><stop offset="0.3881" stop-color="#000004"/><stop offset="0.4030" stop-color="#000004"/><stop offset="1.0000" stop-color="#000004"/></linearGradient>
<rect x="362.0" y="46.019" width="268.0" height="1.712" fill="url(#h1r19)"/>
<linearGradient id="h1r20" x1="0" y1="0" x2="1" y2="0"><stop offset="0.0000" stop-color="#010107"/><stop offset="0.2761" stop-color="#010107"/><stop offset="0.2836" stop-color="#010107"/><stop offset="0.2910" stop-color="#010107"/><stop offset="0.2948" stop-color="#010107"/><stop offset="0.2985" stop-color="#010107"/><stop offset="0.3022" stop-color="#010107"/><stop offset="0.3060" stop-color="#010107"/><stop offset="0.3097" stop-color="#010107"/><stop offset="0.3134" stop-color="#010107"/><stop offset="0.3172" stop-color="#010107"/><stop offset="0.3209" stop-color="#010107"/><stop offset="0.3246" stop-color="#010107"/><stop offset="0.3284" stop-color="#010106"/><stop offset="0.3321" stop-color="#010106"/><stop offset="0.3358" stop-color="#010005"/><stop offset="0.3396" stop-color="#000005"/><stop offset="0.3433" stop-color="#000005"/><stop offset="0.3507" stop-color="#000004"/><stop offset="0.3582" stop-color="#000004"/><stop offset="0.3731" stop-color="#000004"/><stop offset="0.3881" stop-color="#000004"/><stop offset="0.4030" stop-color="#000004"/><stop offset="1.0000" stop-color="#000004"/></linearGradient>
<rect x="362.0" y="46.831" width="268.0" height="1.712" fill="url(#h1r20)"/>
<linearGradient id="h1r21" x1="0" y1="0" x2="1" y2="0"><stop offset="0.0000" stop-color="#010107"/><stop offset="0.2761" stop-color="#010107"/><stop offset="0.2836" stop-color="#010107"/><stop offset="0.2910" stop-color="#010107"/><stop offset="0.2948" stop-color="#010107"/><stop offset="0.2985" stop-color="#010107"/><stop offset="0.3022" stop-color="#010107"/><stop offset="0.3060" stop-color="#010107"/><stop offset="0.3097" stop-color="#010107"/><stop offset="0.3134" stop-color="#010107"/><stop offset="0.3172" stop-color="#010106"/><stop offset="0.3209" stop-color="#010106"/><stop offset="0.3246" stop-color="#010106"/><stop offset="0.3284" stop-color="#010106"/><stop offset="0.3321" stop-color="#010006"/><stop offset="0.3358" stop-color="#000005"/><stop offset="0.3396" stop-color="#000005"/><stop offset="0.3433" stop-color="#000005"/><stop offset="0.3507" stop-color="#000004"/><stop offset="0.3582" stop-color="#000004"/><stop offset="0.3731" stop-color="#000004"/><stop offset="0.3881" stop-color="#000004"/><stop offset="0.4030" stop-color="#000004"/><stop offset="1.0000" stop-color="#000004"/></linearGradient>
<rect x="362.0" y="47.642" width="268.0" height="1.712" fill="url(#h1r21)"/>
<linearGradient id="h1r22" x1="0" y1="0" x2="1" y2="0"><stop offset="0.0000" stop-color="#010106"/><stop offset="0.2761" stop-color="#010106"/><stop offset="0.2836" stop-color="#010106"/><stop offset="0.2910" stop-color="#010106"/><stop offset="0.2948" stop-color="#010106"/><stop offset="0.2985" stop-color="#010106"/><stop offset="0.3022" stop-color="#010106"/><stop offset="0.3060" stop-color="#010106"/><stop offset="0.3097" stop-color="#010106"/><stop offset="0.3134" stop-color="#010106"/><stop offset="0.3172" stop-color="#010106"/><stop offset="0.3209" stop-color="#010106"/><stop offset="0.3246" stop-color="#010006"/><stop offset="0.3284" stop-color="#010006"/><stop offset="0.3321" stop-color="#000005"/><stop offset="0.3358" stop-color="#000005"/><stop offset="0.3396" stop-color="#000005"/><stop offset="0.3433" stop-color="#000004"/><stop offset="0.3507" stop-color="#000004"/><stop offset="0.3582" stop-color="#000004"/><stop offset="0.3731" stop-color="#000004"/><stop offset="0.3881" stop-color="#000004"/><stop offset="0.4030" stop-color="#000004"/><stop offset="1.0000" stop-color="#000004"/></linearGradient>
<rect x="362.0" y="48.454" width="268.0" height="1.712" fill="url(#h1r22)"/>
<linearGradient id="h1r23" x1="0" y1="0" x2="1" y2="0"><stop offset="0.0000" stop-color="#010006"/><stop offset="0.2761" stop-color="#010006"/><stop offset="0.2836" stop-color="#010006"/><stop offset="0.2910" stop-color="#010006"/><stop offset="0.2948" stop-color="#010006"/><stop offset="0.2985" stop-color="#010006"/><stop offset="0.3022" stop-color="#010006"/><stop offset="0.3060" stop-color="#010006"/><stop offset="0.3097" stop-color="#010006"/><stop offset="0.3134" stop-color="#010006"/><stop offset="0.3172" stop-color="#010005"/><stop offset="0.3209" stop-color="#010005"/><stop offset="0.3246" stop-color="#010005"/><stop offset="0.3284" stop-color="#000005"/><stop offset="0.3321" stop-color="#000005"/><stop offset="0.3358" stop-color="#000005"/><stop offset="0.3396" stop-color="#000004"/><stop offset="0.3433" stop-color="#000004"/><stop offset="0.3507" stop-color="#000004"/><stop offset="0.3582" stop-color="#000004"/><stop offset="0.3731" stop-color="#000004"/><stop offset="0.3881" stop-color="#000004"/><stop offset="0.4030" stop-color="#000004"/><stop offset="1.0000" stop-color="#000004"/></linearGradient>
<rect x="362.0" y="49.265" width="268.0" height="1.712" fill="url(#h1r23)"/>
<linearGradient id="h1r24" x1="0" y1="0" x2="1" y2="0"><stop offset="0.0000" stop-color="#000005"/><stop offset="0.2761" stop-color="#000005"/><stop offset="0.2836" stop-color="#000005"/><stop offset="0.2910" stop-color="#000005"/><stop offset="0.2948" stop-color="#000005"/><stop offset="0.2985" stop-color="#000005"/><stop offset="0.3022" stop-color="#000005"/><stop offset="0.3060" stop-color="#000005"/><stop offset="0.3097" stop-color="#000005"/><stop offset="0.3134" stop-color="#000005"/><stop offset="0.3172" stop-color="#000005"/><stop offset="0.3209" stop-color="#000005"/><stop offset="0.3246" stop-color="#000005"/><stop offset="0.3284" stop-color="#000005"/><stop offset="0.3321" stop-color="#000005"/><stop offset="0.3358" stop-color="#000004"/><stop offset="0.3396" stop-color="#000004"/><stop offset="0.3433" stop-color="#000004"/><stop offset="0.3507" stop-color="#000004"/><stop offset="0.3582" stop-color="#000004"/><stop offset="0.3731" stop-color="#000004"/><stop offset="0.3881" stop-color="#000004"/><stop offset="0.4030" stop-color="#000004"/><stop offset="1.0000" stop-color="#000004"/></linearGradient>
<rect x="362.0" y="50.077" width="268.0" height="1.712" fill="url(#h1r24)"/>
<linearGradient id="h1r25" x1="0" y1="0" x2="1" y2="0"><stop offset="0.0000" stop-color="#000005"/><stop offset="0.2761" stop-color="#000005"/><stop offset="0.2836" stop-color="#000005"/><stop offset="0.2910" stop-color="#000005"/><stop offset="0.2948" stop-color="#000005"/><stop offset="0.2985" stop-color="#000005"/><stop offset="0.3022" stop-color="#000005"/><stop offset="0.3060" stop-color="#000004"/><stop offset="0.3097" stop-color="#000004"/><stop offset="0.3134" stop-color="#000004"/><stop offset="0.3172" stop-color="#000004"/><stop offset="0.3209" stop-color="#000004"/><stop offset="0.3246" stop-color="#000004"/><stop offset="0.3284" stop-color="#000004"/><stop offset="0.3321" stop-color="#000004"/><stop offset="0.3358" stop-color="#000004"/><stop offset="0.3396" stop-color="#000004"/><stop offset="0.3433" stop-color="#000004"/><stop offset="0.3507" stop-color="#000004"/><stop offset="0.3582" stop-color="#000004"/><stop offset="0.3731" stop-color="#000004"/><stop offset="0.3881" stop-color="#000004"/><stop offset="0.4030" stop-color="#000004"/><stop offset="1.0000" stop-color="#000004"/></linearGradient>
<rect x="362.0" y="50.888" width="268.0" height="0.812" fill="url(#h1r25)"/>
<rect x="362.0" y="30.6" width="268.0" height="21.1" fill="none" stroke="#aaa" stroke-width="0.6"/>
<linearGradient id="h2r0" x1="0" y1="0" x2="1" y2="0"><stop offset="0.0000" stop-color="#fcf6b8"/><stop offset="0.0149" stop-color="#fcf3b5"/><stop offset="0.0299" stop-color="#fdf0b2"/><stop offset="0.0448" stop-color="#fdedaf"/><stop offset="0.0597" stop-color="#fdeaac"/><stop offset="0.0746" stop-color="#fde6a8"/><stop offset="0.0896" stop-color="#fde0a3"/><stop offset="0.1045" stop-color="#fddb9d"/><stop offset="0.1194" stop-color="#fed598"/><stop offset="0.1343" stop-color="#fed093"/><stop offset="0.1493" stop-color="#fec88d"/><stop offset="0.1642" stop-color="#febf85"/><stop offset="0.1791" stop-color="#feb57e"/><stop offset="0.1940" stop-color="#fea874"/><stop offset="0.2090" stop-color="#fd9a6b"/><stop offset="0.2239" stop-color="#fb8a66"/><stop offset="0.2388" stop-color="#f8785f"/><stop offset="0.2537" stop-color="#f1675f"/><stop offset="0.2687" stop-color="#e45365"/><stop offset="0.2836" stop-color="#d4446d"/><stop offset="0.2985" stop-color="#c03b75"/><stop offset="0.3134" stop-color="#ab337b"/><stop offset="0.3284" stop-color="#972d7f"/><stop offset="0.3433" stop-color="#852681"/><stop offset="0.3582" stop-color="#752080"/><stop offset="0.3731" stop-color="#6b1d80"/><stop offset="0.3881" stop-color="#5e187e"/><stop offset="0.4030" stop-color="#4a1376"/><stop offset="0.4179" stop-color="#340f66"/><stop offset="0.4328" stop-color="#230e4d"/><stop offset="0.4478" stop-color="#170e3a"/><stop offset="0.4627" stop-color="#100b2d"/><stop offset="0.4776" stop-color="#0c0923"/><stop offset="0.4925" stop-color="#09061a"/><stop offset="0.5075" stop-color="#070515"/><stop offset="0.5224" stop-color="#050411"/><stop offset="0.5373" stop-color="#04030d"/><stop offset="0.5522" stop-color="#020109"/><stop offset="0.5672" stop-color="#020108"/><stop offset="0.5821" stop-color="#010107"/><stop offset="0.5970" stop-color="#010106"/><stop offset="0.6119" stop-color="#000005"/><stop offset="0.6269" stop-color="#000004"/><stop offset="0.6418" stop-color="#000004"/><stop offset="0.6567" stop-color="#000004"/><stop offset="0.7388" stop-color="#000004"/><stop offset="0.8881" stop-color="#000004"/><stop offset="1.0000" stop-color="#000004"/></linearGradient>
<rect x="362.0" y="95.100" width="268.0" height="2.980" fill="url(#h2r0)"/>
<linearGradient id="h2r1" x1="0" y1="0" x2="1" y2="0"><stop offset="0.0000" stop-color="#fcf2b4"/><stop offset="0.0149" stop-color="#fdefb1"/><stop offset="0.0299" stop-color="#fdecae"/><stop offset="0.0448" stop-color="#fde9ab"/><stop offset="0.0597" stop-color="#fde5a8"/><stop offset="0.0746" stop-color="#fde1a4"/><stop offset="0.0896" stop-color="#fddc9f"/><stop offset="0.1045" stop-color="#fed699"/><stop offset="0.1194" stop-color="#fed194"/><stop offset="0.1343" stop-color="#fecb8f"/><stop offset="0.1493" stop-color="#fec489"/><stop offset="0.1642" stop-color="#feba82"/><stop offset="0.1791" stop-color="#feb17b"/><stop offset="0.1940" stop-color="#fea471"/><stop offset="0.2090" stop-color="#fd976a"/><stop offset="0.2239" stop-color="#fa8764"/><stop offset="0.2388" stop-color="#f8745e"/><stop offset="0.2537" stop-color="#ef6460"/><stop offset="0.2687" stop-color="#e35066"/><stop offset="0.2836" stop-color="#d1436e"/><stop offset="0.2985" stop-color="#be3a76"/><stop offset="0.3134" stop-color="#a9337c"/><stop offset="0.3284" stop-color="#952c7f"/><stop offset="0.3433" stop-color="#832681"/><stop offset="0.3582" stop-color="#732080"/><stop offset="0.3731" stop-color="#6a1c80"/><stop offset="0.3881" stop-color="#5d187d"/><stop offset="0.4030" stop-color="#491375"/><stop offset="0.4179" stop-color="#330f65"/><stop offset="0.4328" stop-color="#230e4c"/><stop offset="0.4478" stop-color="#160e39"/><stop offset="0.4627" stop-color="#100b2d"/><stop offset="0.4776" stop-color="#0c0822"/><stop offset="0.4925" stop-color="#09061a"/><stop offset="0.5075" stop-color="#070515"/><stop offset="0.5224" stop-color="#050411"/><stop offset="0.5373" stop-color="#04020d"/><stop offset="0.5522" stop-color="#020109"/><stop offset="0.5672" stop-color="#020108"/><stop offset="0.5821" stop-color="#010107"/><stop offset="0.5970" stop-color="#010106"/><stop offset="0.6119" stop-color="#000005"/><stop offset="0.6269" stop-color="#000004"/><stop offset="0.6418" stop-color="#000004"/><stop offset="0.6567" stop-color="#000004"/><stop offset="0.7388" stop-color="#000004"/><stop offset="0.8881" stop-color="#000004"/><stop offset="1.0000" stop-color="#000004"/></linearGradient>
<rect x="362.0" y="97.180" width="268.0" height="2.980" fill="url(#h2r1)"/>
<linearGradient id="h2r2" x1="0" y1="0" x2="1" y2="0"><stop offset="0.0000" stop-color="#fdedaf"/><stop offset="0.0149" stop-color="#fdeaac"/><stop offset="0.0299" stop-color="#fde7aa"/><stop offset="0.0448" stop-color="#fde4a7"/><stop offset="0.0597" stop-color="#fde1a4"/><stop offset="0.0746" stop-color="#fddda0"/><stop offset="0.0896" stop-color="#fed79a"/><stop offset="0.1045" stop-color="#fed295"/><stop offset="0.1194" stop-color="#fecd90"/><stop offset="0.1343" stop-color="#fec78c"/><stop offset="0.1493" stop-color="#fec086"/><stop offset="0.1642" stop-color="#feb67f"/><stop offset="0.1791" stop-color="#fead78"/><stop offset="0.1940" stop-color="#fea06e"/><stop offset="0.2090" stop-color="#fc9369"/><stop offset="0.2239" stop-color="#fa8363"/><stop offset="0.2388" stop-color="#f7715c"/><stop offset="0.2537" stop-color="#ee6260"/><stop offset="0.2687" stop-color="#e14e67"/><stop offset="0.2836" stop-color="#cf426f"/><stop offset="0.2985" stop-color="#bc3977"/><stop offset="0.3134" stop-color="#a7327c"/><stop offset="0.3284" stop-color="#932b80"/><stop offset="0.3433" stop-color="#822581"/><stop offset="0.3582" stop-color="#721f80"/><stop offset="0.3731" stop-color="#681c80"/><stop offset="0.3881" stop-color="#5c187d"/><stop offset="0.4030" stop-color="#481275"/><stop offset="0.4179" stop-color="#330f64"/><stop offset="0.4328" stop-color="#220e4b"/><stop offset="0.4478" stop-color="#160e39"/><stop offset="0.4627" stop-color="#100b2c"/><stop offset="0.4776" stop-color="#0c0822"/><stop offset="0.4925" stop-color="#09061a"/><stop offset="0.5075" stop-color="#070515"/><stop offset="0.5224" stop-color="#050411"/><stop offset="0.5373" stop-color="#04020d"/><stop offset="0.5522" stop-color="#020109"/><stop offset="0.5672" stop-color="#020108"/><stop offset="0.5821" stop-color="#010107"/><stop offset="0.5970" stop-color="#010106"/><stop offset="0.6119" stop-color="#000005"/><stop offset="0.6269" stop-color="#000004"/><stop offset="0.6418" stop-color="#000004"/><stop offset="0.6567" stop-color="#000004"/><stop offset="0.7388" stop-color="#000004"/><stop offset="0.8881" stop-color="#000004"/><stop offset="1.0000" stop-color="#000004"/></linearGradient>
<rect x="362.0" y="99.260" width="268.0" height="2.980" fill="url(#h2r2)"/>
<linearGradient id="h2r3" x1="0" y1="0" x2="1" y2="0"><stop offset="0.0000" stop-color="#fde8ab"/><stop offset="0.0149" stop-color="#fde6a8"/><stop offset="0.0299" stop-color="#fde3a5"/><stop offset="0.0448" stop-color="#fde0a2"/><stop offset="0.0597" stop-color="#fddd9f"/><stop offset="0.0746" stop-color="#fed89b"/><stop offset="0.0896" stop-color="#fed396"/><stop offset="0.1045" stop-color="#fece91"/><stop offset="0.1194" stop-color="#fec88d"/><stop offset="0.1343" stop-color="#fec388"/><stop offset="0.1493" stop-color="#febb83"/><stop offset="0.1642" stop-color="#feb27c"/><stop offset="0.1791" stop-color="#fea974"/><stop offset="0.1940" stop-color="#fe9c6c"/><stop offset="0.2090" stop-color="#fc8f67"/><stop offset="0.2239" stop-color="#f98062"/><stop offset="0.2388" stop-color="#f66e5d"/><stop offset="0.2537" stop-color="#ec5f61"/><stop offset="0.2687" stop-color="#e04b67"/><stop offset="0.2836" stop-color="#cd4170"/><stop offset="0.2985" stop-color="#ba3878"/><stop offset="0.3134" stop-color="#a5317c"/><stop offset="0.3284" stop-color="#922b80"/><stop offset="0.3433" stop-color="#802481"/><stop offset="0.3582" stop-color="#711f80"/><stop offset="0.3731" stop-color="#671b80"/><stop offset="0.3881" stop-color="#5b187c"/><stop offset="0.4030" stop-color="#471275"/><stop offset="0.4179" stop-color="#320f63"/><stop offset="0.4328" stop-color="#220e4a"/><stop offset="0.4478" stop-color="#150e38"/><stop offset="0.4627" stop-color="#100b2c"/><stop offset="0.4776" stop-color="#0c0822"/><stop offset="0.4925" stop-color="#090619"/><stop offset="0.5075" stop-color="#070514"/><stop offset="0.5224" stop-color="#050411"/><stop offset="0.5373" stop-color="#03020d"/><stop offset="0.5522" stop-color="#020109"/><stop offset="0.5672" stop-color="#020108"/><stop offset="0.5821" stop-color="#010107"/><stop offset="0.5970" stop-color="#010106"/><stop offset="0.6119" stop-color="#000005"/><stop offset="0.6269" stop-color="#000004"/><stop offset="0.6418" stop-color="#000004"/><stop offset="0.6567" stop-color="#000004"/><stop offset="0.7388" stop-color="#000004"/><stop offset="0.8881" stop-color="#000004"/><stop offset="1.0000" stop-color="#000004"/></linearGradient>
<rect x="362.0" y="101.340" width="268.0" height="2.980" fill="url(#h2r3)"/>
<linearGradient id="h2r4" x1="0" y1="0" x2="1" y2="0"><stop offset="0.0000" stop-color="#fde4a6"/><stop offset="0.0149" stop-color="#fde1a4"/><stop offset="0.0299" stop-color="#fddea1"/><stop offset="0.0448" stop-color="#fddb9e"/><stop offset="0.0597" stop-color="#fed89b"/><stop offset="0.0746" stop-color="#fed497"/><stop offset="0.0896" stop-color="#fecf92"/><stop offset="0.1045" stop-color="#fec98e"/><stop offset="0.1194" stop-color="#fec489"/><stop offset="0.1343" stop-color="#febe85"/><stop offset="0.1493" stop-color="#feb77f"/><stop offset="0.1642" stop-color="#feae78"/><stop offset="0.1791" stop-color="#fea571"/><stop offset="0.1940" stop-color="#fd986a"/><stop offset="0.2090" stop-color="#fb8b66"/><stop offset="0.2239" stop-color="#f97c60"/><stop offset="0.2388" stop-color="#f46b5d"/><stop offset="0.2537" stop-color="#ea5c62"/><stop offset="0.2687" stop-color="#de4968"/><stop offset="0.2836" stop-color="#cb4070"/><stop offset="0.2985" stop-color="#b83779"/><stop offset="0.3134" stop-color="#a3317d"/><stop offset="0.3284" stop-color="#902a80"/><stop offset="0.3433" stop-color="#7e2481"/><stop offset="0.3582" stop-color="#6f1e80"/><stop offset="0.3731" stop-color="#661b80"/><stop offset="0.3881" stop-color="#5a177c"/><stop offset="0.4030" stop-color="#461274"/><stop offset="0.4179" stop-color="#310f62"/><stop offset="0.4328" stop-color="#210e4a"/><stop offset="0.4478" stop-color="#150e38"/><stop offset="0.4627" stop-color="#100b2b"/><stop offset="0.4776" stop-color="#0c0821"/><stop offset="0.4925" stop-color="#080619"/><stop offset="0.5075" stop-color="#060514"/><stop offset="0.5224" stop-color="#050310"/><stop offset="0.5373" stop-color="#03020d"/><stop offset="0.5522" stop-color="#020109"/><stop offset="0.5672" stop-color="#020108"/><stop offset="0.5821" stop-color="#010107"/><stop offset="0.5970" stop-color="#010106"/><stop offset="0.6119" stop-color="#000005"/><stop offset="0.6269" stop-color="#000004"/><stop offset="0.6418" stop-color="#000004"/><stop offset="0.6567" stop-color="#000004"/><stop offset="0.7388" stop-color="#000004"/><stop offset="0.8881" stop-color="#000004"/><stop offset="1.0000" stop-color="#000004"/></linearGradient>
<rect x="362.0" y="103.420" width="268.0" height="2.980" fill="url(#h2r4)"/>
<linearGradient id="h2r5" x1="0" y1="0" x2="1" y2="0"><stop offset="0.0000" stop-color="#fddfa2"/><stop offset="0.0149" stop-color="#fddc9f"/><stop offset="0.0299" stop-color="#feda9c"/><stop offset="0.0448" stop-color="#fed799"/><stop offset="0.0597" stop-color="#fed497"/><stop offset="0.0746" stop-color="#fed093"/><stop offset="0.0896" stop-color="#feca8e"/><stop offset="0.1045" stop-color="#fec58a"/><stop offset="0.1194" stop-color="#febf86"/><stop offset="0.1343" stop-color="#feba82"/><stop offset="0.1493" stop-color="#feb37c"/><stop offset="0.1642" stop-color="#feaa75"/><stop offset="0.1791" stop-color="#fea16e"/><stop offset="0.1940" stop-color="#fc9469"/><stop offset="0.2090" stop-color="#fb8865"/><stop offset="0.2239" stop-color="#f8795f"/><stop offset="0.2388" stop-color="#f2685e"/><stop offset="0.2537" stop-color="#e95a63"/><stop offset="0.2687" stop-color="#db4869"/><stop offset="0.2836" stop-color="#c83f71"/><stop offset="0.2985" stop-color="#b53679"/><stop offset="0.3134" stop-color="#a1307d"/><stop offset="0.3284" stop-color="#8e2a81"/><stop offset="0.3433" stop-color="#7d2381"/><stop offset="0.3582" stop-color="#6e1e80"/><stop offset="0.3731" stop-color="#641a80"/><stop offset="0.3881" stop-color="#58177b"/><stop offset="0.4030" stop-color="#451274"/><stop offset="0.4179" stop-color="#310f60"/><stop offset="0.4328" stop-color="#210e49"/><stop offset="0.4478" stop-color="#150e37"/><stop offset="0.4627" stop-color="#100b2b"/><stop offset="0.4776" stop-color="#0c0821"/><stop offset="0.4925" stop-color="#080619"/><stop offset="0.5075" stop-color="#060414"/><stop offset="0.5224" stop-color="#050310"/><stop offset="0.5373" stop-color="#03020d"/><stop offset="0.5522" stop-color="#020109"/><stop offset="0.5672" stop-color="#020108"/><stop offset="0.5821" stop-color="#010107"/><stop offset="0.5970" stop-color="#010106"/><stop offset="0.6119" stop-color="#000005"/><stop offset="0.6269" stop-color="#000004"/><stop offset="0.6418" stop-color="#000004"/><stop offset="0.6567" stop-color="#000004"/><stop offset="0.7388" stop-color="#000004"/><stop offset="0.8881" stop-color="#000004"/><stop offset="1.0000" stop-color="#000004"/></linearGradient>
<rect x="362.0" y="105.500" width="268.0" height="2.980" fill="url(#h2r5)"/>
<linearGradient id="h2r6" x1="0" y1="0" x2="1" y2="0"><stop offset="0.0000" stop-color="#fddb9e"/><stop offset="0.0149" stop-color="#fed89b"/><stop offset="0.0299" stop-color="#fed598"/><stop offset="0.0448" stop-color="#fed295"/><stop offset="0.0597" stop-color="#fecf92"/><stop offset="0.0746" stop-color="#fecb8f"/><stop offset="0.0896" stop-color="#fec68b"/><stop offset="0.1045" stop-color="#fec087"/><stop offset="0.1194" stop-color="#febb83"/><stop offset="0.1343" stop-color="#feb67e"/><stop offset="0.1493" stop-color="#feae79"/><stop offset="0.1642" stop-color="#fea572"/><stop offset="0.1791" stop-color="#fe9d6c"/><stop offset="0.1940" stop-color="#fc9068"/><stop offset="0.2090" stop-color="#fa8463"/><stop offset="0.2239" stop-color="#f8755e"/><stop offset="0.2388" stop-color="#f0665f"/><stop offset="0.2537" stop-color="#e75764"/><stop offset="0.2687" stop-color="#d9476a"/><stop offset="0.2836" stop-color="#c63e72"/><stop offset="0.2985" stop-color="#b3367a"/><stop offset="0.3134" stop-color="#9f2f7d"/><stop offset="0.3284" stop-color="#8c2981"/><stop offset="0.3433" stop-color="#7b2381"/><stop offset="0.3582" stop-color="#6d1d80"/><stop offset="0.3731" stop-color="#631a80"/><stop offset="0.3881" stop-color="#57177b"/><stop offset="0.4030" stop-color="#441173"/><stop offset="0.4179" stop-color="#300f5f"/><stop offset="0.4328" stop-color="#200e48"/><stop offset="0.4478" stop-color="#140e36"/><stop offset="0.4627" stop-color="#0f0b2b"/><stop offset="0.4776" stop-color="#0b0821"/><stop offset="0.4925" stop-color="#080619"/><stop offset="0.5075" stop-color="#060414"/><stop offset="0.5224" stop-color="#050310"/><stop offset="0.5373" stop-color="#03020c"/><stop offset="0.5522" stop-color="#020109"/><stop offset="0.5672" stop-color="#010108"/><stop offset="0.5821" stop-color="#010107"/><stop offset="0.5970" stop-color="#010106"/><stop offset="0.6119" stop-color="#000005"/><stop offset="0.6269" stop-color="#000004"/><stop offset="0.6418" stop-color="#000004"/><stop offset="0.6567" stop-color="#000004"/><stop offset="0.7388" stop-color="#000004"/><stop offset="0.8881" stop-color="#000004"/><stop offset="1.0000" stop-color="#000004"/></linearGradient>
<rect x="362.0" y="107.580" width="268.0" height="2.980" fill="url(#h2r6)"/>
<linearGradient id="h2r7" x1="0" y1="0" x2="1" y2="0"><stop offset="0.0000" stop-color="#fed699"/><stop offset="0.0149" stop-color="#fed396"/><stop offset="0.0299" stop-color="#fed194"/><stop offset="0.0448" stop-color="#fece91"/><stop offset="0.0597" stop-color="#fecb8f"/><stop offset="0.0746" stop-color="#fec78c"/><stop offset="0.0896" stop-color="#fec187"/><stop offset="0.1045" stop-color="#febc83"/><stop offset="0.1194" stop-color="#feb77f"/><stop offset="0.1343" stop-color="#feb17b"/><stop offset="0.1493" stop-color="#feaa76"/><stop offset="0.1642" stop-color="#fea16f"/><stop offset="0.1791" stop-color="#fd996b"/><stop offset="0.1940" stop-color="#fb8c66"/><stop offset="0.2090" stop-color="#f98062"/><stop offset="0.2239" stop-color="#f7715d"/><stop offset="0.2388" stop-color="#ee6360"/><stop offset="0.2537" stop-color="#e55465"/><stop offset="0.2687" stop-color="#d7466b"/><stop offset="0.2836" stop-color="#c43d73"/><stop offset="0.2985" stop-color="#b1357a"/><stop offset="0.3134" stop-color="#9d2f7e"/><stop offset="0.3284" stop-color="#8a2881"/><stop offset="0.3433" stop-color="#7a2281"/><stop offset="0.3582" stop-color="#6b1d80"/><stop offset="0.3731" stop-color="#62197f"/><stop offset="0.3881" stop-color="#56167b"/><stop offset="0.4030" stop-color="#431173"/><stop offset="0.4179" stop-color="#2f0f5e"/><stop offset="0.4328" stop-color="#200e47"/><stop offset="0.4478" stop-color="#140e36"/><stop offset="0.4627" stop-color="#0f0b2a"/><stop offset="0.4776" stop-color="#0b0820"/><stop offset="0.4925" stop-color="#080618"/><stop offset="0.5075" stop-color="#060414"/><stop offset="0.5224" stop-color="#050310"/><stop offset="0.5373" stop-color="#03020c"/><stop offset="0.5522" stop-color="#020109"/><stop offset="0.5672" stop-color="#010108"/><stop offset="0.5821" stop-color="#010107"/><stop offset="0.5970" stop-color="#010106"/><stop offset="0.6119" stop-color="#000005"/><stop offset="0.6269" stop-color="#000004"/><stop offset="0.6418" stop-color="#000004"/><stop offset="0.6567" stop-color="#000004"/><stop offset="0.7388" stop-color="#000004"/><stop offset="0.8881" stop-color="#000004"/><stop offset="1.0000" stop-color="#000004"/></linearGradient>
<rect x="362.0" y="109.660" width="268.0" height="2.980" fill="url(#h2r7)"/>
<linearGradient id="h2r8" x1="0" y1="0" x2="1" y2="0"><stop offset="0.0000" stop-color="#fed295"/><stop offset="0.0149" stop-color="#fecf92"/><stop offset="0.0299" stop-color="#fecc90"/><stop offset="0.0448" stop-color="#fec98d"/><stop offset="0.0597" stop-color="#fec68b"/><stop offset="0.0746" stop-color="#fec288"/><stop offset="0.0896" stop-color="#febd84"/><stop offset="0.1045" stop-color="#feb780"/><stop offset="0.1194" stop-color="#feb27c"/><stop offset="0.1343" stop-color="#fead78"/><stop offset="0.1493" stop-color="#fea672"/><stop offset="0.1642" stop-color="#fe9d6c"/><stop offset="0.1791" stop-color="#fc9569"/><stop offset="0.1940" stop-color="#fb8965"/><stop offset="0.2090" stop-color="#f97c61"/><stop offset="0.2239" stop-color="#f66e5d"/><stop offset="0.2388" stop-color="#ed6061"/><stop offset="0.2537" stop-color="#e45265"/><stop offset="0.2687" stop-color="#d4446c"/><stop offset="0.2836" stop-color="#c23c74"/><stop offset="0.2985" stop-color="#af347b"/><stop offset="0.3134" stop-color="#9b2e7e"/><stop offset="0.3284" stop-color="#892881"/><stop offset="0.3433" stop-color="#782281"/><stop offset="0.3582" stop-color="#6a1c80"/><stop offset="0.3731" stop-color="#61197f"/><stop offset="0.3881" stop-color="#55167a"/><stop offset="0.4030" stop-color="#421173"/><stop offset="0.4179" stop-color="#2e0f5d"/><stop offset="0.4328" stop-color="#1f0e46"/><stop offset="0.4478" stop-color="#140e35"/><stop offset="0.4627" stop-color="#0f0b2a"/><stop offset="0.4776" stop-color="#0b0820"/><stop offset="0.4925" stop-color="#080618"/><stop offset="0.5075" stop-color="#060414"/><stop offset="0.5224" stop-color="#050310"/><stop offset="0.5373" stop-color="#03020c"/><stop offset="0.5522" stop-color="#020109"/><stop offset="0.5672" stop-color="#010108"/><stop offset="0.5821" stop-color="#010107"/><stop offset="0.5970" stop-color="#010106"/><stop offset="0.6119" stop-color="#000005"/><stop offset="0.6269" stop-color="#000004"/><stop offset="0.6418" stop-color="#000004"/><stop offset="0.6567" stop-color="#000004"/><stop offset="0.7388" stop-color="#000004"/><stop offset="0.8881" stop-color="#000004"/><stop offset="1.0000" stop-color="#000004"/></linearGradient>
<rect x="362.0" y="111.740" width="268.0" height="2.980" fill="url(#h2r8)"/>
<linearGradient id="h2r9" x1="0" y1="0" x2="1" y2="0"><stop offset="0.0000" stop-color="#fecd91"/><stop offset="0.0149" stop-color="#feca8e"/><stop offset="0.0299" stop-color="#fec78c"/><stop offset="0.0448" stop-color="#fec48a"/><stop offset="0.0597" stop-color="#fec188"/><stop offset="0.0746" stop-color="#febd84"/><stop offset="0.0896" stop-color="#feb880"/><stop offset="0.1045" stop-color="#feb37c"/><stop offset="0.1194" stop-color="#feae78"/><stop offset="0.1343" stop-color="#fea974"/><stop offset="0.1493" stop-color="#fea26f"/><stop offset="0.1642" stop-color="#fd996b"/><stop offset="0.1791" stop-color="#fc9168"/><stop offset="0.1940" stop-color="#fa8563"/><stop offset="0.2090" stop-color="#f8795f"/><stop offset="0.2239" stop-color="#f46b5d"/><stop offset="0.2388" stop-color="#eb5d62"/><stop offset="0.2537" stop-color="#e24f66"/><stop offset="0.2687" stop-color="#d2436d"/><stop offset="0.2836" stop-color="#bf3b75"/><stop offset="0.2985" stop-color="#ac347b"/><stop offset="0.3134" stop-color="#992d7f"/><stop offset="0.3284" stop-color="#872781"/><stop offset="0.3433" stop-color="#772180"/><stop offset="0.3582" stop-color="#681c80"/><stop offset="0.3731" stop-color="#5f197e"/><stop offset="0.3881" stop-color="#54167a"/><stop offset="0.4030" stop-color="#411172"/><stop offset="0.4179" stop-color="#2e0f5c"/><stop offset="0.4328" stop-color="#1e0e45"/><stop offset="0.4478" stop-color="#130e35"/><stop offset="0.4627" stop-color="#0f0a29"/><stop offset="0.4776" stop-color="#0b0820"/><stop offset="0.4925" stop-color="#080618"/><stop offset="0.5075" stop-color="#060413"/><stop offset="0.5224" stop-color="#050310"/><stop offset="0.5373" stop-color="#03020c"/><stop offset="0.5522" stop-color="#020109"/><stop offset="0.5672" stop-color="#010108"/><stop offset="0.5821" stop-color="#010107"/><stop offset="0.5970" stop-color="#010106"/><stop offset="0.6119" stop-color="#000005"/><stop offset="0.6269" stop-color="#000004"/><stop offset="0.6418" stop-color="#000004"/><stop offset="0.6567" stop-color="#000004"/><stop offset="0.7388" stop-color="#000004"/><stop offset="0.8881" stop-color="#000004"/><stop offset="1.0000" stop-color="#000004"/></linearGradient>
<rect x="362.0" y="113.820" width="268.0" height="2.080" fill="url(#h2r9)"/>
<rect x="362.0" y="95.1" width="268.0" height="20.8" fill="none" stroke="#aaa" stroke-width="0.6"/>
<text x="363.50" y="27.90" font-size="11.8" text-anchor="start" fill="#000">t = 200 ms</text>
<line x1="360.2" y1="36.2" x2="362.0" y2="36.2" stroke="#888" stroke-width="0.6"/>
<text x="358.20" y="39.80" font-size="10.2" text-anchor="end" fill="#000">0.0</text>
<line x1="360.2" y1="49.8" x2="362.0" y2="49.8" stroke="#888" stroke-width="0.6"/>
<text x="358.20" y="53.40" font-size="10.2" text-anchor="end" fill="#000">−0.5</text>
<line x1="362.00" y1="51.7" x2="362.00" y2="53.5" stroke="#888" stroke-width="0.6"/>
<text x="362.00" y="63.00" font-size="10.2" text-anchor="middle" fill="#000">0</text>
<line x1="415.60" y1="51.7" x2="415.60" y2="53.5" stroke="#888" stroke-width="0.6"/>
<text x="415.60" y="63.00" font-size="10.2" text-anchor="middle" fill="#000">2</text>
<line x1="469.20" y1="51.7" x2="469.20" y2="53.5" stroke="#888" stroke-width="0.6"/>
<text x="469.20" y="63.00" font-size="10.2" text-anchor="middle" fill="#000">4</text>
<line x1="522.80" y1="51.7" x2="522.80" y2="53.5" stroke="#888" stroke-width="0.6"/>
<text x="522.80" y="63.00" font-size="10.2" text-anchor="middle" fill="#000">6</text>
<line x1="576.40" y1="51.7" x2="576.40" y2="53.5" stroke="#888" stroke-width="0.6"/>
<text x="576.40" y="63.00" font-size="10.2" text-anchor="middle" fill="#000">8</text>
<line x1="630.00" y1="51.7" x2="630.00" y2="53.5" stroke="#888" stroke-width="0.6"/>
<text x="630.00" y="63.00" font-size="10.2" text-anchor="middle" fill="#000">10</text>
<text x="495.80" y="74.50" font-size="10.3" text-anchor="middle" fill="#000">R (mm)</text>
<text x="333.30" y="42.00" font-size="10.7" text-anchor="middle" fill="#000" transform="rotate(-90 333.3 42.0)">Z (mm)</text>
<text x="363.50" y="92.50" font-size="11.8" text-anchor="start" fill="#000">t = 1500 ms</text>
<line x1="360.2" y1="100.5" x2="362.0" y2="100.5" stroke="#888" stroke-width="0.6"/>
<text x="358.20" y="104.10" font-size="10.2" text-anchor="end" fill="#000">0.0</text>
<line x1="360.2" y1="114.1" x2="362.0" y2="114.1" stroke="#888" stroke-width="0.6"/>
<text x="358.20" y="117.70" font-size="10.2" text-anchor="end" fill="#000">−0.5</text>
<line x1="362.00" y1="115.9" x2="362.00" y2="117.7" stroke="#888" stroke-width="0.6"/>
<text x="362.00" y="127.60" font-size="10.2" text-anchor="middle" fill="#000">0</text>
<line x1="415.60" y1="115.9" x2="415.60" y2="117.7" stroke="#888" stroke-width="0.6"/>
<text x="415.60" y="127.60" font-size="10.2" text-anchor="middle" fill="#000">2</text>
<line x1="469.20" y1="115.9" x2="469.20" y2="117.7" stroke="#888" stroke-width="0.6"/>
<text x="469.20" y="127.60" font-size="10.2" text-anchor="middle" fill="#000">4</text>
<line x1="522.80" y1="115.9" x2="522.80" y2="117.7" stroke="#888" stroke-width="0.6"/>
<text x="522.80" y="127.60" font-size="10.2" text-anchor="middle" fill="#000">6</text>
<line x1="576.40" y1="115.9" x2="576.40" y2="117.7" stroke="#888" stroke-width="0.6"/>
<text x="576.40" y="127.60" font-size="10.2" text-anchor="middle" fill="#000">8</text>
<line x1="630.00" y1="115.9" x2="630.00" y2="117.7" stroke="#888" stroke-width="0.6"/>
<text x="630.00" y="127.60" font-size="10.2" text-anchor="middle" fill="#000">10</text>
<text x="495.80" y="139.00" font-size="10.3" text-anchor="middle" fill="#000">R (mm)</text>
<text x="333.30" y="106.10" font-size="10.7" text-anchor="middle" fill="#000" transform="rotate(-90 333.3 106.1)">Z (mm)</text>
<rect x="639.8" y="3.3" width="7.7" height="58.7" fill="url(#mag)"/>
<line x1="647.5" y1="3.6" x2="649.2" y2="3.6" stroke="#888" stroke-width="0.6"/>
<text x="649.60" y="7.20" font-size="10.2" text-anchor="start" fill="#000">0.38</text>
<line x1="647.5" y1="32.8" x2="649.2" y2="32.8" stroke="#888" stroke-width="0.6"/>
<text x="649.60" y="36.40" font-size="10.2" text-anchor="start" fill="#000">0.19</text>
<line x1="647.5" y1="61.7" x2="649.2" y2="61.7" stroke="#888" stroke-width="0.6"/>
<text x="649.60" y="65.30" font-size="10.2" text-anchor="start" fill="#000">0.00</text>
<text x="681.30" y="26.85" font-size="10" text-anchor="middle" fill="#000" transform="rotate(-90 681.3000000000001 26.85)">ΔT (K)</text>
<rect x="639.8" y="75.6" width="7.7" height="58.9" fill="url(#mag)"/>
<line x1="647.5" y1="76.2" x2="649.2" y2="76.2" stroke="#888" stroke-width="0.6"/>
<text x="649.60" y="79.80" font-size="10.2" text-anchor="start" fill="#000">0.19</text>
<line x1="647.5" y1="104.2" x2="649.2" y2="104.2" stroke="#888" stroke-width="0.6"/>
<text x="649.60" y="107.80" font-size="10.2" text-anchor="start" fill="#000">0.10</text>
<line x1="647.5" y1="133.8" x2="649.2" y2="133.8" stroke="#888" stroke-width="0.6"/>
<text x="649.60" y="137.40" font-size="10.2" text-anchor="start" fill="#000">0.01</text>
<text x="682.30" y="99.45" font-size="10" text-anchor="middle" fill="#000" transform="rotate(-90 682.3000000000001 99.45)">ΔT (K)</text>
<text x="317.00" y="156.70" font-size="16" text-anchor="start" fill="#000" letter-spacing="0.5">(d)</text>
<line x1="368.5" y1="155.9" x2="368.5" y2="271.6" stroke="#999" stroke-width="1"/>
<line x1="366.5" y1="160.7" x2="368.5" y2="160.7" stroke="#ccc" stroke-width="0.6"/>
<text x="366.00" y="164.40" font-size="10.8" text-anchor="end" fill="#000">0.38</text>
<line x1="366.5" y1="212.4" x2="368.5" y2="212.4" stroke="#ccc" stroke-width="0.6"/>
<text x="366.00" y="217.20" font-size="10.8" text-anchor="end" fill="#000">0.19</text>
<line x1="366.5" y1="266.2" x2="368.5" y2="266.2" stroke="#ccc" stroke-width="0.6"/>
<text x="366.00" y="269.15" font-size="10.8" text-anchor="end" fill="#000">0.00</text>
<text x="340.90" y="218.30" font-size="10.2" text-anchor="middle" fill="#000" transform="rotate(-90 340.9 218.3)">ΔT (K)</text>
<path d="M368.5,266.2 L388.3,266.2 L407.3,161.2 L407.60,161.07 L409.20,161.57 L410.80,162.10 L412.39,162.67 L413.99,163.27 L415.59,163.91 L417.19,164.57 L418.79,165.26 L420.38,165.98 L421.98,166.71 L423.58,167.47 L425.18,168.23 L426.78,169.02 L428.38,169.81 L429.97,170.61 L431.57,171.41 L433.17,172.21 L434.77,173.02 L436.37,173.83 L437.96,174.63 L439.56,175.43 L441.16,176.22 L442.76,177.00 L444.36,177.76 L445.95,178.52 L447.55,179.25 L449.15,179.98 L450.75,180.68 L452.35,181.38 L453.95,182.05 L455.54,182.72 L457.14,183.37 L458.74,184.00 L460.34,184.63 L461.94,185.24 L463.53,185.84 L465.13,186.43 L466.73,187.00 L468.33,187.57 L469.93,188.12 L471.52,188.67 L473.12,189.21 L474.72,189.73 L476.32,190.25 L477.92,190.76 L479.52,191.26 L481.11,191.75 L482.71,192.24 L484.31,192.72 L485.91,193.19 L487.51,193.66 L489.10,194.11 L490.70,194.56 L492.30,195.01 L493.90,195.45 L495.50,195.88 L497.09,196.30 L498.69,196.72 L500.29,197.13 L501.89,197.53 L503.49,197.93 L505.08,198.32 L506.68,198.71 L508.28,199.09 L509.88,199.46 L511.48,199.82 L513.08,200.19 L514.67,200.54 L516.27,200.89 L517.87,201.23 L519.47,201.57 L521.07,201.90 L522.66,202.23 L524.26,202.55 L525.86,202.86 L527.46,203.17 L529.06,203.48 L530.65,203.78 L532.25,204.07 L533.85,204.36 L535.45,204.64 L537.05,204.92 L538.65,205.20 L540.24,205.46 L541.84,205.73 L543.44,205.99 L545.04,206.24 L546.64,206.49 L548.23,206.74 L549.83,206.98 L551.43,207.22 L553.03,207.45 L554.63,207.68 L556.22,207.90 L557.82,208.12 L559.42,208.34 L561.02,208.55 L562.62,208.75 L564.22,208.96 L565.81,209.16 L567.41,209.35 L569.01,209.55 L570.61,209.74 L572.21,209.92 L573.80,210.10 L575.40,210.28 L577.00,210.46 L578.60,210.63 L580.20,210.80 L581.79,210.96 L583.39,211.13 L584.99,211.29 L586.59,211.44 L588.19,211.60 L589.78,211.75 L591.38,211.90 L592.98,212.04 L594.58,212.18 L596.18,212.32 L597.78,212.46 L599.37,212.60 L600.97,212.73 L602.57,212.86 L604.17,212.99 L605.77,213.12 L607.36,213.24 L608.96,213.36 L610.56,213.48 L612.16,213.60 L613.76,213.72 L615.35,213.84 L616.95,213.95 L618.55,214.06 L620.15,214.17 L621.75,214.28 L623.35,214.39 L624.94,214.49 L626.54,214.60 L628.14,214.70 L629.74,214.80 L631.34,214.91 L632.93,215.01 L634.53,215.11 L636.13,215.21 L637.73,215.30 L639.33,215.40 L640.92,215.50 L642.52,215.59 L644.12,215.69 L645.72,215.78 L647.32,215.88 L648.92,215.97 L650.51,216.06 L652.11,216.16 L653.71,216.25 L655.31,216.35 L656.91,216.44 L658.50,216.53 L660.10,216.63 L661.70,216.72" fill="none" stroke="#a5262a" stroke-width="1.2" stroke-linejoin="round"/>
<path d="M367.80,297.86 L367.99,297.86 L368.19,297.86 L368.38,297.86 L368.58,297.86 L368.77,297.86 L368.77,299.71 L368.97,299.71 L369.16,299.71 L369.36,299.71 L369.55,299.71 L369.55,300.17 L369.75,300.17 L369.94,300.17 L370.14,300.17 L370.33,300.17 L370.53,300.17 L370.53,297.76 L370.72,297.76 L370.92,297.76 L371.11,297.76 L371.30,297.76 L371.30,299.92 L371.50,299.92 L371.69,299.92 L371.89,299.92 L372.08,299.92 L372.08,299.82 L372.28,299.82 L372.47,299.82 L372.67,299.82 L372.86,299.82 L373.06,299.82 L373.06,300.19 L373.25,300.19 L373.45,300.19 L373.64,300.19 L373.84,300.19 L373.84,299.45 L374.03,299.45 L374.23,299.45 L374.42,299.45 L374.61,299.45 L374.61,300.24 L374.81,300.24 L375.00,300.24 L375.20,300.24 L375.39,300.24 L375.59,300.24 L375.59,296.83 L375.78,296.83 L375.98,296.83 L376.17,296.83 L376.37,296.83 L376.37,298.51 L376.56,298.51 L376.76,298.51 L376.95,298.51 L377.15,298.51 L377.34,298.51 L377.34,299.09 L377.54,299.09 L377.73,299.09 L377.92,299.09 L378.12,299.09 L378.12,299.10 L378.31,299.10 L378.51,299.10 L378.70,299.10 L378.90,299.10 L378.90,297.97 L379.09,297.97 L379.29,297.97 L379.48,297.97 L379.68,297.97 L379.87,297.97 L379.87,296.86 L380.07,296.86 L380.26,296.86 L380.46,296.86 L380.65,296.86 L380.65,299.75 L380.84,299.75 L381.04,299.75 L381.23,299.75 L381.43,299.75 L381.43,299.56 L381.62,299.56 L381.82,299.56 L382.01,299.56 L382.21,299.56 L382.40,299.56 L382.40,298.19 L382.60,298.19 L382.79,298.19 L382.99,298.19 L383.18,298.19 L383.18,298.96 L383.38,298.96 L383.57,298.96 L383.77,298.96 L383.96,298.96 L383.96,298.80 L384.15,298.80 L384.35,298.80 L384.54,298.80 L384.74,298.80 L384.93,298.80 L384.93,298.68 L385.13,298.68 L385.32,298.68 L385.52,298.68 L385.71,298.68 L385.71,299.54 L385.91,299.54 L386.10,299.54 L386.30,299.54 L386.49,299.54 L386.69,299.54 L386.69,298.27 L386.88,298.27 L387.08,298.27 L387.27,298.27 L387.46,298.27 L387.46,299.98 L387.66,299.98 L387.85,299.98 L388.05,299.98 L388.24,299.98 L388.24,298.45 L388.44,298.45 L388.63,298.60 L388.83,299.50 L389.02,300.39 L389.22,300.39 L389.22,302.17 L389.41,303.06 L389.61,303.96 L389.80,304.86 L390.00,304.86 L390.00,305.87 L390.19,306.77 L390.39,307.66 L390.58,308.56 L390.77,308.56 L390.77,309.21 L390.97,310.10 L391.16,311.00 L391.36,311.90 L391.55,312.79 L391.75,312.79 L391.75,313.71 L391.94,314.60 L392.14,315.50 L392.33,316.40 L392.53,316.40 L392.53,318.06 L392.72,318.95 L392.92,319.85 L393.11,320.75 L393.31,320.75 L393.31,319.77 L393.50,320.66 L393.70,321.56 L393.89,322.45 L394.08,323.35 L394.28,323.35 L394.28,323.74 L394.47,324.63 L394.67,325.53 L394.86,326.42 L395.06,326.42 L395.06,328.32 L395.25,329.22 L395.45,330.11 L395.64,331.01 L395.84,331.90 L396.03,331.90 L396.03,331.65 L396.23,332.55 L396.42,333.44 L396.62,334.34 L396.81,334.34 L396.81,336.98 L397.00,337.88 L397.20,338.78 L397.39,339.67 L397.59,339.67 L397.59,338.36 L397.78,339.26 L397.98,340.15 L398.17,341.05 L398.37,341.95 L398.56,341.95 L398.56,344.88 L398.76,345.78 L398.95,346.68 L399.15,347.57 L399.34,347.57 L399.34,348.33 L399.54,349.23 L399.73,350.12 L399.93,351.02 L400.12,351.02 L400.12,351.78 L400.31,352.67 L400.51,353.57 L400.70,354.46 L400.90,355.36 L401.09,355.36 L401.09,357.61 L401.29,358.51 L401.48,359.40 L401.68,360.30 L401.87,360.30 L401.87,358.25 L402.07,359.15 L402.26,360.04 L402.46,360.94 L402.65,360.94 L402.65,364.08 L402.85,364.97 L403.04,365.87 L403.24,366.76 L403.43,367.66 L403.62,367.66 L403.62,368.95 L403.82,369.85 L404.01,370.74 L404.21,371.64 L404.40,371.64 L404.40,370.64 L404.60,371.54 L404.79,372.43 L404.99,373.33 L405.18,374.22 L405.38,374.22 L405.38,376.69 L405.57,377.58 L405.77,378.48 L405.96,379.37 L406.16,379.37 L406.16,380.28 L406.35,381.18 L406.55,382.07 L406.74,382.97 L406.93,382.97 L406.93,383.48 L407.13,384.37 L407.32,384.08 L407.52,383.64 L407.71,383.21 L407.91,383.21 L407.91,383.63 L408.10,383.22 L408.30,382.82 L408.49,382.43 L408.69,382.43 L408.69,379.34 L408.88,378.97 L409.08,378.61 L409.27,378.26 L409.47,378.26 L409.47,378.50 L409.66,378.17 L409.86,377.84 L410.05,377.52 L410.24,377.21 L410.44,377.21 L410.44,378.01 L410.63,377.71 L410.83,377.42 L411.02,377.14 L411.22,377.14 L411.22,377.09 L411.41,376.82 L411.61,376.56 L411.80,376.31 L412.00,376.06 L412.19,376.06 L412.19,375.47 L412.39,375.23 L412.58,375.00 L412.78,374.77 L412.97,374.77 L412.97,371.85 L413.17,371.64 L413.36,371.43 L413.55,371.22 L413.75,371.22 L413.75,372.37 L413.94,372.18 L414.14,371.99 L414.33,371.80 L414.53,371.61 L414.72,371.61 L414.72,372.01 L414.92,371.83 L415.11,371.66 L415.31,371.49 L415.50,371.49 L415.50,370.92 L415.70,370.76 L415.89,370.59 L416.09,370.43 L416.28,370.43 L416.28,370.41 L416.48,370.26 L416.67,370.10 L416.86,369.95 L417.06,369.80 L417.25,369.80 L417.25,371.36 L417.45,371.21 L417.64,371.06 L417.84,370.91 L418.03,370.91 L418.03,368.97 L418.23,368.83 L418.42,368.68 L418.62,368.53 L418.81,368.53 L418.81,369.57 L419.01,369.42 L419.20,369.28 L419.40,369.13 L419.59,368.99 L419.78,368.99 L419.78,368.46 L419.98,368.31 L420.17,368.17 L420.37,368.03 L420.56,368.03 L420.56,369.44 L420.76,369.30 L420.95,369.16 L421.15,369.02 L421.34,368.88 L421.54,368.88 L421.54,366.59 L421.73,366.45 L421.93,366.31 L422.12,366.18 L422.32,366.18 L422.32,367.54 L422.51,367.40 L422.71,367.27 L422.90,367.13 L423.09,367.13 L423.09,367.71 L423.29,367.58 L423.48,367.44 L423.68,367.31 L423.87,367.18 L424.07,367.18 L424.07,366.41 L424.26,366.27 L424.46,366.14 L424.65,366.01 L424.85,366.01 L424.85,365.27 L425.04,365.13 L425.24,365.00 L425.43,364.87 L425.63,364.87 L425.63,364.14 L425.82,364.01 L426.02,363.88 L426.21,363.75 L426.40,363.62 L426.60,363.62 L426.60,362.90 L426.79,362.78 L426.99,362.65 L427.18,362.52 L427.38,362.52 L427.38,363.64 L427.57,363.52 L427.77,363.39 L427.96,363.26 L428.16,363.26 L428.16,363.31 L428.35,363.19 L428.55,363.06 L428.74,362.94 L428.94,362.81 L429.13,362.81 L429.13,363.71 L429.33,363.59 L429.52,363.46 L429.71,363.34 L429.91,363.34 L429.91,361.01 L430.10,360.89 L430.30,360.77 L430.49,360.65 L430.69,360.53 L430.88,360.53 L430.88,362.17 L431.08,362.05 L431.27,361.93 L431.47,361.81 L431.66,361.81 L431.66,361.43 L431.86,361.31 L432.05,361.19 L432.25,361.08 L432.44,361.08 L432.44,357.38 L432.64,357.26 L432.83,357.15 L433.02,357.03 L433.22,356.92 L433.41,356.92 L433.41,360.96 L433.61,360.85 L433.80,360.73 L434.00,360.62 L434.19,360.62 L434.19,358.18 L434.39,358.06 L434.58,357.95 L434.78,357.84 L434.97,357.84 L434.97,358.50 L435.17,358.39 L435.36,358.27 L435.56,358.16 L435.75,358.05 L435.95,358.05 L435.95,357.97 L436.14,357.86 L436.33,357.75 L436.53,357.64 L436.72,357.64 L436.72,358.73 L436.92,358.62 L437.11,358.51 L437.31,358.40 L437.50,358.40 L437.50,358.14 L437.70,358.03 L437.89,357.93 L438.09,357.82 L438.28,357.71 L438.48,357.71 L438.48,357.30 L438.67,357.20 L438.87,357.09 L439.06,356.99 L439.25,356.99 L439.25,355.82 L439.45,355.72 L439.64,355.61 L439.84,355.51 L440.03,355.41 L440.23,355.41 L440.23,354.63 L440.42,354.52 L440.62,354.42 L440.81,354.32 L441.01,354.32 L441.01,355.87 L441.20,355.77 L441.40,355.67 L441.59,355.57 L441.79,355.57 L441.79,351.96 L441.98,351.86 L442.18,351.76 L442.37,351.67 L442.56,351.57 L442.76,351.57 L442.76,349.20 L442.95,349.11 L443.15,349.01 L443.34,348.91 L443.54,348.91 L443.54,352.56 L443.73,352.47 L443.93,352.37 L444.12,352.28 L444.32,352.28 L444.32,354.65 L444.51,354.56 L444.71,354.47 L444.90,354.37 L445.10,354.28 L445.29,354.28 L445.29,354.29 L445.49,354.20 L445.68,354.11 L445.87,354.01 L446.07,354.01 L446.07,353.32 L446.26,353.23 L446.46,353.14 L446.65,353.05 L446.85,352.96 L447.04,352.96 L447.04,353.66 L447.24,353.57 L447.43,353.48 L447.63,353.40 L447.82,353.40 L447.82,353.04 L448.02,352.95 L448.21,352.86 L448.41,352.78 L448.60,352.78 L448.60,352.95 L448.80,352.86 L448.99,352.78 L449.18,352.69 L449.38,352.61 L449.57,352.61 L449.57,352.12 L449.77,352.03 L449.96,351.95 L450.16,351.86 L450.35,351.86 L450.35,350.20 L450.55,350.12 L450.74,350.04 L450.94,349.95 L451.13,349.95 L451.13,351.96 L451.33,351.88 L451.52,351.80 L451.72,351.72 L451.91,351.64 L452.11,351.64 L452.11,349.02 L452.30,348.94 L452.49,348.86 L452.69,348.78 L452.88,348.78 L452.88,350.45 L453.08,350.37 L453.27,350.29 L453.47,350.21 L453.66,350.21 L453.66,346.04 L453.86,345.96 L454.05,345.88 L454.25,345.80 L454.44,345.73 L454.64,345.73 L454.64,350.79 L454.83,350.71 L455.03,350.64 L455.22,350.56 L455.42,350.56 L455.42,349.86 L455.61,349.79 L455.80,349.71 L456.00,349.64 L456.19,349.56 L456.39,349.56 L456.39,348.58 L456.58,348.50 L456.78,348.43 L456.97,348.35 L457.17,348.35 L457.17,349.76 L457.36,349.69 L457.56,349.62 L457.75,349.54 L457.95,349.54 L457.95,348.95 L458.14,348.88 L458.34,348.81 L458.53,348.74 L458.72,348.67 L458.92,348.67 L458.92,348.32 L459.11,348.25 L459.31,348.18 L459.50,348.11 L459.70,348.11 L459.70,348.16 L459.89,348.09 L460.09,348.02 L460.28,347.95 L460.48,347.95 L460.48,346.74 L460.67,346.67 L460.87,346.60 L461.06,346.54 L461.26,346.47 L461.45,346.47 L461.45,347.72 L461.65,347.65 L461.84,347.59 L462.03,347.52 L462.23,347.52 L462.23,347.90 L462.42,347.83 L462.62,347.77 L462.81,347.70 L463.01,347.70 L463.01,347.33 L463.20,347.26 L463.40,347.20 L463.59,347.13 L463.79,347.07 L463.98,347.07 L463.98,346.58 L464.18,346.52 L464.37,346.46 L464.57,346.39 L464.76,346.39 L464.76,346.38 L464.96,346.32 L465.15,346.25 L465.34,346.19 L465.54,346.13 L465.73,346.13 L465.73,343.00 L465.93,342.93 L466.12,342.87 L466.32,342.81 L466.51,342.81 L466.51,345.60 L466.71,345.54 L466.90,345.48 L467.10,345.42 L467.29,345.42 L467.29,345.41 L467.49,345.35 L467.68,345.29 L467.88,345.24 L468.07,345.18 L468.27,345.18 L468.27,345.09 L468.46,345.03 L468.65,344.97 L468.85,344.92 L469.04,344.92 L469.04,342.11 L469.24,342.05 L469.43,342.00 L469.63,341.94 L469.82,341.94 L469.82,344.84 L470.02,344.79 L470.21,344.73 L470.41,344.67 L470.60,344.62 L470.80,344.62 L470.80,344.91 L470.99,344.85 L471.19,344.80 L471.38,344.74 L471.58,344.74 L471.58,344.24 L471.77,344.18 L471.96,344.13 L472.16,344.08 L472.35,344.08 L472.35,340.59 L472.55,340.53 L472.74,340.48 L472.94,340.42 L473.13,340.37 L473.33,340.37 L473.33,344.47 L473.52,344.42 L473.72,344.37 L473.91,344.32 L474.11,344.32 L474.11,343.29 L474.30,343.24 L474.50,343.18 L474.69,343.13 L474.88,343.08 L475.08,343.08 L475.08,344.21 L475.27,344.16 L475.47,344.11 L475.66,344.06 L475.86,344.06 L475.86,343.73 L476.05,343.68 L476.25,343.63 L476.44,343.58 L476.64,343.58 L476.64,343.02 L476.83,342.97 L477.03,342.93 L477.22,342.88 L477.42,342.83 L477.61,342.83 L477.61,342.66 L477.81,342.61 L478.00,342.56 L478.19,342.51 L478.39,342.51 L478.39,343.24 L478.58,343.19 L478.78,343.14 L478.97,343.10 L479.17,343.10 L479.17,335.77 L479.36,335.73 L479.56,335.68 L479.75,335.63 L479.95,335.59 L480.14,335.59 L480.14,341.93 L480.34,341.88 L480.53,341.84 L480.73,341.79 L480.92,341.79 L480.92,342.15 L481.12,342.10 L481.31,342.06 L481.50,342.01 L481.70,341.97 L481.89,341.97 L481.89,341.87 L482.09,341.82 L482.28,341.78 L482.48,341.73 L482.67,341.73 L482.67,340.62 L482.87,340.57 L483.06,340.53 L483.26,340.49 L483.45,340.49 L483.45,341.65 L483.65,341.61 L483.84,341.56 L484.04,341.52 L484.23,341.48 L484.43,341.48 L484.43,339.16 L484.62,339.12 L484.81,339.07 L485.01,339.03 L485.20,339.03 L485.20,341.17 L485.40,341.13 L485.59,341.08 L485.79,341.04 L485.98,341.04 L485.98,339.43 L486.18,339.39 L486.37,339.34 L486.57,339.30 L486.76,339.26 L486.96,339.26 L486.96,338.18 L487.15,338.14 L487.35,338.10 L487.54,338.05 L487.74,338.05 L487.74,341.22 L487.93,341.18 L488.12,341.14 L488.32,341.10 L488.51,341.10 L488.51,338.62 L488.71,338.58 L488.90,338.54 L489.10,338.50 L489.29,338.46 L489.49,338.46 L489.49,339.28 L489.68,339.24 L489.88,339.20 L490.07,339.16 L490.27,339.16 L490.27,339.84 L490.46,339.80 L490.66,339.76 L490.85,339.72 L491.05,339.69 L491.24,339.69 L491.24,339.63 L491.43,339.59 L491.63,339.55 L491.82,339.51 L492.02,339.51 L492.02,339.89 L492.21,339.85 L492.41,339.81 L492.60,339.77 L492.80,339.77 L492.80,340.11 L492.99,340.08 L493.19,340.04 L493.38,340.00 L493.58,339.96 L493.77,339.96 L493.77,337.08 L493.97,337.05 L494.16,337.01 L494.36,336.97 L494.55,336.97 L494.55,336.63 L494.74,336.59 L494.94,336.55 L495.13,336.51 L495.33,336.51 L495.33,336.97 L495.52,336.94 L495.72,336.90 L495.91,336.86 L496.11,336.83 L496.30,336.83 L496.30,338.18 L496.50,338.15 L496.69,338.11 L496.89,338.07 L497.08,338.07 L497.08,336.60 L497.28,336.56 L497.47,336.52 L497.66,336.49 L497.86,336.49 L497.86,336.87 L498.05,336.84 L498.25,336.80 L498.44,336.76 L498.64,336.73 L498.83,336.73 L498.83,337.60 L499.03,337.57 L499.22,337.53 L499.42,337.50 L499.61,337.50 L499.61,338.46 L499.81,338.42 L500.00,338.39 L500.20,338.35 L500.39,338.31 L500.59,338.31 L500.59,337.86 L500.78,337.82 L500.97,337.78 L501.17,337.74 L501.36,337.74 L501.36,338.65 L501.56,338.61 L501.75,338.57 L501.95,338.53 L502.14,338.53 L502.14,338.35 L502.34,338.31 L502.53,338.27 L502.73,338.23 L502.92,338.19 L503.12,338.19 L503.12,336.03 L503.31,336.00 L503.51,335.96 L503.70,335.92 L503.90,335.92 L503.90,337.11 L504.09,337.07 L504.28,337.03 L504.48,336.99 L504.67,336.99 L504.67,337.82 L504.87,337.78 L505.06,337.74 L505.26,337.70 L505.45,337.67 L505.65,337.67 L505.65,337.50 L505.84,337.46 L506.04,337.42 L506.23,337.38 L506.43,337.38 L506.43,333.62 L506.62,333.58 L506.82,333.55 L507.01,333.51 L507.21,333.51 L507.21,333.90 L507.40,333.86 L507.59,333.83 L507.79,333.79 L507.98,333.75 L508.18,333.75 L508.18,337.27 L508.37,337.24 L508.57,337.20 L508.76,337.16 L508.96,337.16 L508.96,335.20 L509.15,335.16 L509.35,335.12 L509.54,335.09 L509.74,335.05 L509.93,335.05 L509.93,331.29 L510.13,331.25 L510.32,331.22 L510.52,331.18 L510.71,331.18 L510.71,334.52 L510.90,334.48 L511.10,334.45 L511.29,334.41 L511.49,334.41 L511.49,335.37 L511.68,335.34 L511.88,335.30 L512.07,335.27 L512.27,335.23 L512.46,335.23 L512.46,334.21 L512.66,334.17 L512.85,334.14 L513.05,334.10 L513.24,334.10 L513.24,333.80 L513.44,333.77 L513.63,333.73 L513.83,333.70 L514.02,333.70 L514.02,335.71 L514.21,335.68 L514.41,335.64 L514.60,335.61 L514.80,335.58 L514.99,335.58 L514.99,335.39 L515.19,335.36 L515.38,335.32 L515.58,335.29 L515.77,335.29 L515.77,335.82 L515.97,335.78 L516.16,335.75 L516.36,335.71 L516.55,335.71 L516.55,333.64 L516.75,333.61 L516.94,333.57 L517.13,333.54 L517.33,333.51 L517.52,333.51 L517.52,334.00 L517.72,333.97 L517.91,333.93 L518.11,333.90 L518.30,333.90 L518.30,335.36 L518.50,335.33 L518.69,335.30 L518.89,335.26 L519.08,335.23 L519.28,335.23 L519.28,333.97 L519.47,333.94 L519.67,333.90 L519.86,333.87 L520.06,333.87 L520.06,326.53 L520.25,326.50 L520.44,326.46 L520.64,326.43 L520.83,326.43 L520.83,332.76 L521.03,332.73 L521.22,332.70 L521.42,332.67 L521.61,332.64 L521.81,332.64 L521.81,333.77 L522.00,333.74 L522.20,333.70 L522.39,333.67 L522.59,333.67 L522.59,334.14 L522.78,334.11 L522.98,334.07 L523.17,334.04 L523.37,334.04 L523.37,334.54 L523.56,334.51 L523.75,334.48 L523.95,334.45 L524.14,334.41 L524.34,334.41 L524.34,330.07 L524.53,330.04 L524.73,330.01 L524.92,329.97 L525.12,329.97 L525.12,333.11 L525.31,333.08 L525.51,333.05 L525.70,333.02 L525.90,332.99 L526.09,332.99 L526.09,332.88 L526.29,332.85 L526.48,332.81 L526.68,332.78 L526.87,332.78 L526.87,333.78 L527.06,333.75 L527.26,333.72 L527.45,333.69 L527.65,333.69 L527.65,333.14 L527.84,333.11 L528.04,333.08 L528.23,333.05 L528.43,333.02 L528.62,333.02 L528.62,332.78 L528.82,332.75 L529.01,332.72 L529.21,332.69 L529.40,332.69 L529.40,332.95 L529.60,332.92 L529.79,332.89 L529.99,332.86 L530.18,332.86 L530.18,331.52 L530.37,331.49 L530.57,331.46 L530.76,331.43 L530.96,331.40 L531.15,331.40 L531.15,333.31 L531.35,333.28 L531.54,333.25 L531.74,333.22 L531.93,333.22 L531.93,333.03 L532.13,333.00 L532.32,332.97 L532.52,332.94 L532.71,332.94 L532.71,332.64 L532.91,332.61 L533.10,332.58 L533.30,332.55 L533.49,332.53 L533.68,332.53 L533.68,332.04 L533.88,332.01 L534.07,331.98 L534.27,331.95 L534.46,331.95 L534.46,326.93 L534.66,326.91 L534.85,326.88 L535.05,326.85 L535.24,326.82 L535.44,326.82 L535.44,331.22 L535.63,331.19 L535.83,331.16 L536.02,331.13 L536.22,331.13 L536.22,332.61 L536.41,332.58 L536.60,332.55 L536.80,332.52 L536.99,332.52 L536.99,331.90 L537.19,331.88 L537.38,331.85 L537.58,331.82 L537.77,331.79 L537.97,331.79 L537.97,327.75 L538.16,327.72 L538.36,327.70 L538.55,327.67 L538.75,327.67 L538.75,328.56 L538.94,328.53 L539.14,328.51 L539.33,328.48 L539.53,328.48 L539.53,332.24 L539.72,332.21 L539.91,332.19 L540.11,332.16 L540.30,332.13 L540.50,332.13 L540.50,331.47 L540.69,331.44 L540.89,331.41 L541.08,331.38 L541.28,331.38 L541.28,329.51 L541.47,329.49 L541.67,329.46 L541.86,329.43 L542.06,329.43 L542.06,330.04 L542.25,330.02 L542.45,329.99 L542.64,329.96 L542.84,329.93 L543.03,329.93 L543.03,330.21 L543.22,330.18 L543.42,330.15 L543.61,330.13 L543.81,330.13 L543.81,331.51 L544.00,331.49 L544.20,331.46 L544.39,331.43 L544.59,331.41 L544.78,331.41 L544.78,331.00 L544.98,330.98 L545.17,330.95 L545.37,330.92 L545.56,330.92 L545.56,326.09 L545.76,326.06 L545.95,326.04 L546.15,326.01 L546.34,326.01 L546.34,328.23 L546.53,328.20 L546.73,328.18 L546.92,328.15 L547.12,328.12 L547.31,328.12 L547.31,328.58 L547.51,328.55 L547.70,328.53 L547.90,328.50 L548.09,328.50 L548.09,330.09 L548.29,330.06 L548.48,330.04 L548.68,330.01 L548.87,330.01 L548.87,328.27 L549.07,328.24 L549.26,328.21 L549.46,328.19 L549.65,328.16 L549.84,328.16 L549.84,330.38 L550.04,330.36 L550.23,330.33 L550.43,330.30 L550.62,330.30 L550.62,330.00 L550.82,329.97 L551.01,329.95 L551.21,329.92 L551.40,329.92 L551.40,329.17 L551.60,329.14 L551.79,329.12 L551.99,329.09 L552.18,329.07 L552.38,329.07 L552.38,330.50 L552.57,330.47 L552.76,330.45 L552.96,330.42 L553.15,330.42 L553.15,329.80 L553.35,329.77 L553.54,329.75 L553.74,329.72 L553.93,329.70 L554.13,329.70 L554.13,329.98 L554.32,329.96 L554.52,329.93 L554.71,329.91 L554.91,329.91 L554.91,329.56 L555.10,329.54 L555.30,329.52 L555.49,329.49 L555.69,329.49 L555.69,329.89 L555.88,329.87 L556.07,329.84 L556.27,329.82 L556.46,329.79 L556.66,329.79 L556.66,329.11 L556.85,329.09 L557.05,329.06 L557.24,329.04 L557.44,329.04 L557.44,327.67 L557.63,327.65 L557.83,327.63 L558.02,327.60 L558.22,327.60 L558.22,329.58 L558.41,329.55 L558.61,329.53 L558.80,329.51 L559.00,329.48 L559.19,329.48 L559.19,325.60 L559.38,325.58 L559.58,325.56 L559.77,325.53 L559.97,325.53 L559.97,325.93 L560.16,325.91 L560.36,325.88 L560.55,325.86 L560.75,325.84 L560.94,325.84 L560.94,329.38 L561.14,329.36 L561.33,329.34 L561.53,329.31 L561.72,329.31 L561.72,328.62 L561.92,328.60 L562.11,328.58 L562.31,328.56 L562.50,328.56 L562.50,328.90 L562.69,328.88 L562.89,328.85 L563.08,328.83 L563.28,328.81 L563.47,328.81 L563.47,327.69 L563.67,327.67 L563.86,327.65 L564.06,327.63 L564.25,327.63 L564.25,328.09 L564.45,328.07 L564.64,328.05 L564.84,328.02 L565.03,328.02 L565.03,328.63 L565.23,328.61 L565.42,328.59 L565.62,328.57 L565.81,328.55 L566.00,328.55 L566.00,328.30 L566.20,328.28 L566.39,328.26 L566.59,328.24 L566.78,328.24 L566.78,320.42 L566.98,320.40 L567.17,320.37 L567.37,320.35 L567.56,320.35 L567.56,328.38 L567.76,328.36 L567.95,328.34 L568.15,328.32 L568.34,328.29 L568.54,328.29 L568.54,328.21 L568.73,328.19 L568.93,328.16 L569.12,328.14 L569.31,328.14 L569.31,327.93 L569.51,327.91 L569.70,327.89 L569.90,327.87 L570.09,327.84 L570.29,327.84 L570.29,327.21 L570.48,327.19 L570.68,327.16 L570.87,327.14 L571.07,327.14 L571.07,326.58 L571.26,326.56 L571.46,326.54 L571.65,326.52 L571.85,326.52 L571.85,327.99 L572.04,327.96 L572.24,327.94 L572.43,327.92 L572.62,327.90 L572.82,327.90 L572.82,324.80 L573.01,324.78 L573.21,324.75 L573.40,324.73 L573.60,324.73 L573.60,326.61 L573.79,326.59 L573.99,326.57 L574.18,326.55 L574.38,326.55 L574.38,324.97 L574.57,324.94 L574.77,324.92 L574.96,324.90 L575.16,324.88 L575.35,324.88 L575.35,326.38 L575.54,326.36 L575.74,326.34 L575.93,326.32 L576.13,326.32 L576.13,325.23 L576.32,325.21 L576.52,325.19 L576.71,325.17 L576.91,325.17 L576.91,326.91 L577.10,326.89 L577.30,326.87 L577.49,326.85 L577.69,326.83 L577.88,326.83 L577.88,324.80 L578.08,324.78 L578.27,324.76 L578.47,324.74 L578.66,324.74 L578.66,326.08 L578.85,326.06 L579.05,326.04 L579.24,326.03 L579.44,326.01 L579.63,326.01 L579.63,326.33 L579.83,326.31 L580.02,326.29 L580.22,326.27 L580.41,326.27 L580.41,325.02 L580.61,325.00 L580.80,324.98 L581.00,324.96 L581.19,324.96 L581.19,320.08 L581.39,320.06 L581.58,320.04 L581.78,320.02 L581.97,320.00 L582.16,320.00 L582.16,323.57 L582.36,323.56 L582.55,323.54 L582.75,323.52 L582.94,323.52 L582.94,323.20 L583.14,323.18 L583.33,323.16 L583.53,323.14 L583.72,323.14 L583.72,325.80 L583.92,325.78 L584.11,325.76 L584.31,325.74 L584.50,325.72 L584.70,325.72 L584.70,326.73 L584.89,326.72 L585.09,326.70 L585.28,326.68 L585.47,326.68 L585.47,326.00 L585.67,325.98 L585.86,325.96 L586.06,325.94 L586.25,325.94 L586.25,325.90 L586.45,325.88 L586.64,325.87 L586.84,325.85 L587.03,325.83 L587.23,325.83 L587.23,323.00 L587.42,322.98 L587.62,322.96 L587.81,322.94 L588.01,322.94 L588.01,325.77 L588.20,325.75 L588.40,325.74 L588.59,325.72 L588.78,325.70 L588.98,325.70 L588.98,325.18 L589.17,325.16 L589.37,325.14 L589.56,325.12 L589.76,325.12 L589.76,323.26 L589.95,323.24 L590.15,323.22 L590.34,323.20 L590.54,323.20 L590.54,326.07 L590.73,326.05 L590.93,326.03 L591.12,326.01 L591.32,326.00 L591.51,326.00 L591.51,325.09 L591.71,325.08 L591.90,325.06 L592.09,325.04 L592.29,325.04 L592.29,324.01 L592.48,323.99 L592.68,323.98 L592.87,323.96 L593.07,323.96 L593.07,323.94 L593.26,323.92 L593.46,323.90 L593.65,323.89 L593.85,323.87 L594.04,323.87 L594.04,324.13 L594.24,324.11 L594.43,324.10 L594.63,324.08 L594.82,324.08 L594.82,324.96 L595.01,324.94 L595.21,324.92 L595.40,324.90 L595.60,324.89 L595.79,324.89 L595.79,324.30 L595.99,324.28 L596.18,324.27 L596.38,324.25 L596.57,324.25 L596.57,323.01 L596.77,323.00 L596.96,322.98 L597.16,322.96 L597.35,322.96 L597.35,324.32 L597.55,324.30 L597.74,324.29 L597.94,324.27 L598.13,324.25 L598.32,324.25 L598.32,324.50 L598.52,324.48 L598.71,324.46 L598.91,324.45 L599.10,324.45 L599.10,323.41 L599.30,323.39 L599.49,323.37 L599.69,323.36 L599.88,323.36 L599.88,323.00 L600.08,322.99 L600.27,322.97 L600.47,322.95 L600.66,322.94 L600.86,322.94 L600.86,324.52 L601.05,324.50 L601.25,324.48 L601.44,324.47 L601.63,324.47 L601.63,322.09 L601.83,322.07 L602.02,322.06 L602.22,322.04 L602.41,322.04 L602.41,323.87 L602.61,323.85 L602.80,323.83 L603.00,323.82 L603.19,323.80 L603.39,323.80 L603.39,320.57 L603.58,320.56 L603.78,320.54 L603.97,320.52 L604.17,320.52 L604.17,325.08 L604.36,325.06 L604.56,325.05 L604.75,325.03 L604.94,325.01 L605.14,325.01 L605.14,324.24 L605.33,324.23 L605.53,324.21 L605.72,324.19 L605.92,324.19 L605.92,324.65 L606.11,324.63 L606.31,324.61 L606.50,324.60 L606.70,324.60 L606.70,324.90 L606.89,324.89 L607.09,324.87 L607.28,324.85 L607.48,324.84 L607.67,324.84 L607.67,324.04 L607.87,324.03 L608.06,324.01 L608.25,324.00 L608.45,324.00 L608.45,323.68 L608.64,323.66 L608.84,323.64 L609.03,323.63 L609.23,323.63 L609.23,322.24 L609.42,322.23 L609.62,322.21 L609.81,322.20 L610.01,322.18 L610.20,322.18 L610.20,321.52 L610.40,321.50 L610.59,321.49 L610.79,321.48 L610.98,321.48 L610.98,324.35 L611.18,324.33 L611.37,324.32 L611.56,324.31 L611.76,324.31 L611.76,324.25 L611.95,324.24 L612.15,324.22 L612.34,324.21 L612.54,324.20 L612.73,324.20 L612.73,324.13 L612.93,324.12 L613.12,324.11 L613.32,324.09 L613.51,324.09 L613.51,322.75 L613.71,322.74 L613.90,322.72 L614.10,322.71 L614.29,322.70 L614.48,322.70 L614.48,321.82 L614.68,321.81 L614.87,321.80 L615.07,321.79 L615.26,321.79 L615.26,320.85 L615.46,320.83 L615.65,320.82 L615.85,320.81 L616.04,320.81 L616.04,323.11 L616.24,323.10 L616.43,323.08 L616.63,323.07 L616.82,323.06 L617.02,323.06 L617.02,322.81 L617.21,322.80 L617.41,322.79 L617.60,322.78 L617.79,322.78 L617.79,322.69 L617.99,322.68 L618.18,322.67 L618.38,322.66 L618.57,322.66 L618.57,321.93 L618.77,321.92 L618.96,321.91 L619.16,321.89 L619.35,321.88 L619.55,321.88 L619.55,323.30 L619.74,323.29 L619.94,323.28 L620.13,323.27 L620.33,323.27 L620.33,322.48 L620.52,322.47 L620.72,322.46 L620.91,322.45 L621.10,322.45 L621.10,321.96 L621.30,321.95 L621.49,321.94 L621.69,321.93 L621.88,321.92 L622.08,321.92 L622.08,322.34 L622.27,322.33 L622.47,322.32 L622.66,322.30 L622.86,322.30 L622.86,322.43 L623.05,322.42 L623.25,322.41 L623.44,322.40 L623.64,322.39 L623.83,322.39 L623.83,322.45 L624.03,322.44 L624.22,322.43 L624.41,322.42 L624.61,322.42 L624.61,322.98 L624.80,322.96 L625.00,322.95 L625.19,322.94 L625.39,322.94 L625.39,321.85 L625.58,321.84 L625.78,321.83 L625.97,321.82 L626.17,321.81 L626.36,321.81 L626.36,320.37 L626.56,320.36 L626.75,320.35 L626.95,320.34 L627.14,320.34 L627.14,321.62 L627.34,321.61 L627.53,321.60 L627.72,321.59 L627.92,321.59 L627.92,322.52 L628.11,322.50 L628.31,322.49 L628.50,322.48 L628.70,322.47 L628.89,322.47 L628.89,323.05 L629.09,323.04 L629.28,323.03 L629.48,323.02 L629.67,323.02 L629.67,322.62 L629.87,322.61 L630.06,322.60 L630.26,322.59 L630.45,322.59 L630.45,320.03 L630.64,320.02 L630.84,320.01 L631.03,320.00 L631.23,319.99 L631.42,319.99 L631.42,323.09 L631.62,323.08 L631.81,323.07 L632.01,323.06 L632.20,323.06 L632.20,322.75 L632.40,322.74 L632.59,322.73 L632.79,322.72 L632.98,322.71 L633.18,322.71 L633.18,322.15 L633.37,322.14 L633.57,322.13 L633.76,322.12 L633.95,322.12 L633.95,323.22 L634.15,323.21 L634.34,323.20 L634.54,323.18 L634.73,323.18 L634.73,323.01 L634.93,323.00 L635.12,322.99 L635.32,322.98 L635.51,322.97 L635.71,322.97 L635.71,320.07 L635.90,320.06 L636.10,320.05 L636.29,320.04 L636.49,320.04 L636.49,322.46 L636.68,322.45 L636.88,322.44 L637.07,322.43 L637.26,322.43 L637.26,320.63 L637.46,320.62 L637.65,320.61 L637.85,320.60 L638.04,320.59 L638.24,320.59 L638.24,322.99 L638.43,322.98 L638.63,322.97 L638.82,322.96 L639.02,322.96 L639.02,320.97 L639.21,320.96 L639.41,320.95 L639.60,320.94 L639.80,320.93 L639.99,320.93 L639.99,320.01 L640.19,320.00 L640.38,319.99 L640.57,319.98 L640.77,319.98 L640.77,322.44 L640.96,322.43 L641.16,322.42 L641.35,322.40 L641.55,322.40 L641.55,321.66 L641.74,321.65 L641.94,321.64 L642.13,321.63 L642.33,321.62 L642.52,321.62 L642.52,321.53 L642.72,321.52 L642.91,321.51 L643.11,321.50 L643.30,321.50 L643.30,319.90 L643.50,319.89 L643.69,319.88 L643.88,319.87 L644.08,319.87 L644.08,319.58 L644.27,319.57 L644.47,319.56 L644.66,319.55 L644.86,319.53 L645.05,319.53 L645.05,322.19 L645.25,322.18 L645.44,322.17 L645.64,322.16 L645.83,322.16 L645.83,321.37 L646.03,321.36 L646.22,321.35 L646.42,321.34 L646.61,321.34 L646.61,322.04 L646.81,322.03 L647.00,322.02 L647.19,322.01 L647.39,322.00 L647.58,322.00 L647.58,321.42 L647.78,321.41 L647.97,321.40 L648.17,321.39 L648.36,321.39 L648.36,321.17 L648.56,321.16 L648.75,321.15 L648.95,321.14 L649.14,321.13 L649.34,321.13 L649.34,319.47 L649.53,319.46 L649.73,319.45 L649.92,319.44 L650.12,319.44 L650.12,321.96 L650.31,321.94 L650.50,321.93 L650.70,321.92 L650.89,321.92 L650.89,319.62 L651.09,319.61 L651.28,319.60 L651.48,319.58 L651.67,319.57 L651.87,319.57 L651.87,318.33 L652.06,318.32 L652.26,318.31 L652.45,318.30 L652.65,318.30 L652.65,319.43 L652.84,319.42 L653.04,319.41 L653.23,319.40 L653.42,319.40 L653.42,321.84 L653.62,321.83 L653.81,321.82 L654.01,321.81 L654.20,321.79 L654.40,321.79 L654.40,321.47 L654.59,321.45 L654.79,321.44 L654.98,321.43 L655.18,321.43 L655.18,320.68 L655.37,320.66 L655.57,320.65 L655.76,320.64 L655.96,320.64 L655.96,320.79 L656.15,320.78 L656.35,320.77 L656.54,320.76 L656.73,320.74 L656.93,320.74 L656.93,321.83 L657.12,321.82 L657.32,321.80 L657.51,321.79 L657.71,321.79 L657.71,318.88 L657.90,318.86 L658.10,318.85 L658.29,318.84 L658.49,318.83 L658.68,318.83 L658.68,320.68 L658.88,320.67 L659.07,320.66 L659.27,320.65 L659.46,320.65 L659.46,319.63 L659.66,319.62 L659.85,319.61 L659.85,375.54 L659.66,375.56 L659.46,375.57 L659.46,374.65 L659.27,374.65 L659.07,374.66 L658.88,374.67 L658.68,374.69 L658.68,378.11 L658.49,378.11 L658.29,378.12 L658.10,378.13 L657.90,378.14 L657.71,378.16 L657.71,374.82 L657.51,374.82 L657.32,374.83 L657.12,374.84 L656.93,374.85 L656.93,376.14 L656.73,376.14 L656.54,376.15 L656.35,376.16 L656.15,376.17 L655.96,376.18 L655.96,374.86 L655.76,374.86 L655.57,374.87 L655.37,374.88 L655.18,374.90 L655.18,374.69 L654.98,374.69 L654.79,374.70 L654.59,374.72 L654.40,374.73 L654.40,373.93 L654.20,373.93 L654.01,373.94 L653.81,373.96 L653.62,373.97 L653.42,373.98 L653.42,374.30 L653.23,374.30 L653.04,374.31 L652.84,374.32 L652.65,374.33 L652.65,374.88 L652.45,374.88 L652.26,374.89 L652.06,374.91 L651.87,374.92 L651.87,374.16 L651.67,374.16 L651.48,374.18 L651.28,374.19 L651.09,374.20 L650.89,374.21 L650.89,374.69 L650.70,374.69 L650.50,374.70 L650.31,374.71 L650.12,374.72 L650.12,374.01 L649.92,374.01 L649.73,374.02 L649.53,374.03 L649.34,374.04 L649.34,374.47 L649.14,374.47 L648.95,374.48 L648.75,374.49 L648.56,374.50 L648.36,374.51 L648.36,375.21 L648.17,375.21 L647.97,375.22 L647.78,375.23 L647.58,375.24 L647.58,375.09 L647.39,375.09 L647.19,375.10 L647.00,375.11 L646.81,375.12 L646.61,375.13 L646.61,375.24 L646.42,375.24 L646.22,375.25 L646.03,375.27 L645.83,375.28 L645.83,374.87 L645.64,374.87 L645.44,374.88 L645.25,374.89 L645.05,374.90 L645.05,376.73 L644.86,376.73 L644.66,376.75 L644.47,376.76 L644.27,376.77 L644.08,376.78 L644.08,374.40 L643.88,374.40 L643.69,374.41 L643.50,374.42 L643.30,374.43 L643.30,378.63 L643.11,378.63 L642.91,378.64 L642.72,378.65 L642.52,378.66 L642.52,378.51 L642.33,378.51 L642.13,378.52 L641.94,378.53 L641.74,378.54 L641.55,378.55 L641.55,375.82 L641.35,375.82 L641.16,375.83 L640.96,375.84 L640.77,375.86 L640.77,375.55 L640.57,375.55 L640.38,375.57 L640.19,375.58 L639.99,375.59 L639.99,377.38 L639.80,377.38 L639.60,377.39 L639.41,377.40 L639.21,377.41 L639.02,377.42 L639.02,375.16 L638.82,375.16 L638.63,375.17 L638.43,375.18 L638.24,375.19 L638.24,376.83 L638.04,376.83 L637.85,376.84 L637.65,376.85 L637.46,376.86 L637.26,376.87 L637.26,377.63 L637.07,377.63 L636.88,377.64 L636.68,377.65 L636.49,377.66 L636.49,379.18 L636.29,379.18 L636.10,379.19 L635.90,379.20 L635.71,379.21 L635.71,376.89 L635.51,376.89 L635.32,376.90 L635.12,376.91 L634.93,376.92 L634.73,376.93 L634.73,379.09 L634.54,379.09 L634.34,379.10 L634.15,379.11 L633.95,379.12 L633.95,377.09 L633.76,377.09 L633.57,377.10 L633.37,377.11 L633.18,377.12 L633.18,376.68 L632.98,376.68 L632.79,376.69 L632.59,376.70 L632.40,376.71 L632.20,376.72 L632.20,377.47 L632.01,377.47 L631.81,377.48 L631.62,377.50 L631.42,377.51 L631.42,376.06 L631.23,376.06 L631.03,376.07 L630.84,376.08 L630.64,376.09 L630.45,376.10 L630.45,375.55 L630.26,375.55 L630.06,375.56 L629.87,375.57 L629.67,375.58 L629.67,375.36 L629.48,375.36 L629.28,375.37 L629.09,375.39 L628.89,375.40 L628.89,376.19 L628.70,376.19 L628.50,376.20 L628.31,376.21 L628.11,376.22 L627.92,376.24 L627.92,379.58 L627.72,379.58 L627.53,379.59 L627.34,379.60 L627.14,379.61 L627.14,376.62 L626.95,376.62 L626.75,376.63 L626.56,376.64 L626.36,376.65 L626.36,375.61 L626.17,375.61 L625.97,375.62 L625.78,375.63 L625.58,375.64 L625.39,375.65 L625.39,375.43 L625.19,375.43 L625.00,375.44 L624.80,375.45 L624.61,375.46 L624.61,376.96 L624.41,376.96 L624.22,376.97 L624.03,376.98 L623.83,377.00 L623.83,376.95 L623.64,376.95 L623.44,376.97 L623.25,376.98 L623.05,376.99 L622.86,377.00 L622.86,378.07 L622.66,378.07 L622.47,378.08 L622.27,378.09 L622.08,378.11 L622.08,375.76 L621.88,375.76 L621.69,375.78 L621.49,375.79 L621.30,375.80 L621.10,375.81 L621.10,375.97 L620.91,375.97 L620.72,375.99 L620.52,376.00 L620.33,376.01 L620.33,376.19 L620.13,376.19 L619.94,376.20 L619.74,376.21 L619.55,376.22 L619.55,379.01 L619.35,379.01 L619.16,379.02 L618.96,379.04 L618.77,379.05 L618.57,379.06 L618.57,377.87 L618.38,377.87 L618.18,377.88 L617.99,377.89 L617.79,377.90 L617.79,376.00 L617.60,376.00 L617.41,376.01 L617.21,376.02 L617.02,376.03 L617.02,375.97 L616.82,375.97 L616.63,375.98 L616.43,375.99 L616.24,376.01 L616.04,376.02 L616.04,376.67 L615.85,376.67 L615.65,376.69 L615.46,376.70 L615.26,376.71 L615.26,376.56 L615.07,376.56 L614.87,376.58 L614.68,376.59 L614.48,376.60 L614.48,376.76 L614.29,376.76 L614.10,376.77 L613.90,376.78 L613.71,376.80 L613.51,376.81 L613.51,376.41 L613.32,376.41 L613.12,376.42 L612.93,376.44 L612.73,376.45 L612.73,378.16 L612.54,378.16 L612.34,378.17 L612.15,378.18 L611.95,378.19 L611.76,378.20 L611.76,380.66 L611.56,380.66 L611.37,380.67 L611.18,380.68 L610.98,380.69 L610.98,378.91 L610.79,378.91 L610.59,378.92 L610.40,378.94 L610.20,378.95 L610.20,378.80 L610.01,378.80 L609.81,378.82 L609.62,378.83 L609.42,378.85 L609.23,378.86 L609.23,378.98 L609.03,378.98 L608.84,378.99 L608.64,379.01 L608.45,379.02 L608.45,376.80 L608.25,376.80 L608.06,376.82 L607.87,376.83 L607.67,376.85 L607.67,379.99 L607.48,379.99 L607.28,380.01 L607.09,380.02 L606.89,380.04 L606.70,380.05 L606.70,378.77 L606.50,378.77 L606.31,378.79 L606.11,378.80 L605.92,378.82 L605.92,376.69 L605.72,376.69 L605.53,376.71 L605.33,376.73 L605.14,376.74 L605.14,380.08 L604.94,380.08 L604.75,380.09 L604.56,380.11 L604.36,380.13 L604.17,380.14 L604.17,380.31 L603.97,380.31 L603.78,380.33 L603.58,380.34 L603.39,380.36 L603.39,379.73 L603.19,379.73 L603.00,379.75 L602.80,379.77 L602.61,379.78 L602.41,379.80 L602.41,376.97 L602.22,376.97 L602.02,376.99 L601.83,377.01 L601.63,377.03 L601.63,377.93 L601.44,377.93 L601.25,377.94 L601.05,377.96 L600.86,377.98 L600.86,378.37 L600.66,378.37 L600.47,378.39 L600.27,378.41 L600.08,378.43 L599.88,378.44 L599.88,377.70 L599.69,377.70 L599.49,377.71 L599.30,377.73 L599.10,377.75 L599.10,381.74 L598.91,381.74 L598.71,381.76 L598.52,381.78 L598.32,381.79 L598.32,378.36 L598.13,378.36 L597.94,378.37 L597.74,378.39 L597.55,378.41 L597.35,378.43 L597.35,378.12 L597.16,378.12 L596.96,378.14 L596.77,378.16 L596.57,378.17 L596.57,379.79 L596.38,379.79 L596.18,379.81 L595.99,379.83 L595.79,379.85 L595.79,377.91 L595.60,377.91 L595.40,377.93 L595.21,377.95 L595.01,377.96 L594.82,377.98 L594.82,379.33 L594.63,379.33 L594.43,379.35 L594.24,379.37 L594.04,379.38 L594.04,381.73 L593.85,381.73 L593.65,381.75 L593.46,381.77 L593.26,381.79 L593.07,381.80 L593.07,380.24 L592.87,380.24 L592.68,380.26 L592.48,380.28 L592.29,380.30 L592.29,380.83 L592.09,380.83 L591.90,380.85 L591.71,380.87 L591.51,380.89 L591.51,379.15 L591.32,379.15 L591.12,379.17 L590.93,379.18 L590.73,379.20 L590.54,379.22 L590.54,385.77 L590.34,385.77 L590.15,385.79 L589.95,385.81 L589.76,385.83 L589.76,378.11 L589.56,378.11 L589.37,378.13 L589.17,378.15 L588.98,378.17 L588.98,381.87 L588.78,381.87 L588.59,381.89 L588.40,381.91 L588.20,381.93 L588.01,381.94 L588.01,379.04 L587.81,379.04 L587.62,379.05 L587.42,379.07 L587.23,379.09 L587.23,383.81 L587.03,383.81 L586.84,383.82 L586.64,383.84 L586.45,383.86 L586.25,383.88 L586.25,378.81 L586.06,378.81 L585.86,378.82 L585.67,378.84 L585.47,378.86 L585.47,379.50 L585.28,379.50 L585.09,379.52 L584.89,379.54 L584.70,379.56 L584.70,379.29 L584.50,379.29 L584.31,379.30 L584.11,379.32 L583.92,379.34 L583.72,379.36 L583.72,380.42 L583.53,380.42 L583.33,380.44 L583.14,380.45 L582.94,380.47 L582.94,378.77 L582.75,378.77 L582.55,378.79 L582.36,378.81 L582.16,378.83 L582.16,379.02 L581.97,379.02 L581.78,379.04 L581.58,379.06 L581.39,379.08 L581.19,379.09 L581.19,378.94 L581.00,378.94 L580.80,378.96 L580.61,378.98 L580.41,379.00 L580.41,379.84 L580.22,379.84 L580.02,379.86 L579.83,379.88 L579.63,379.90 L579.63,379.09 L579.44,379.09 L579.24,379.11 L579.05,379.13 L578.85,379.15 L578.66,379.17 L578.66,381.10 L578.47,381.10 L578.27,381.12 L578.08,381.14 L577.88,381.16 L577.88,381.15 L577.69,381.15 L577.49,381.17 L577.30,381.19 L577.10,381.21 L576.91,381.23 L576.91,379.99 L576.71,379.99 L576.52,380.01 L576.32,380.03 L576.13,380.05 L576.13,380.46 L575.93,380.46 L575.74,380.48 L575.54,380.50 L575.35,380.52 L575.35,380.43 L575.16,380.43 L574.96,380.45 L574.77,380.47 L574.57,380.49 L574.38,380.51 L574.38,379.80 L574.18,379.80 L573.99,379.82 L573.79,379.84 L573.60,379.86 L573.60,380.53 L573.40,380.53 L573.21,380.55 L573.01,380.57 L572.82,380.59 L572.82,381.47 L572.62,381.47 L572.43,381.49 L572.24,381.51 L572.04,381.53 L571.85,381.55 L571.85,383.19 L571.65,383.19 L571.46,383.22 L571.26,383.24 L571.07,383.26 L571.07,382.04 L570.87,382.04 L570.68,382.06 L570.48,382.08 L570.29,382.10 L570.29,380.42 L570.09,380.42 L569.90,380.44 L569.70,380.46 L569.51,380.49 L569.31,380.51 L569.31,382.25 L569.12,382.25 L568.93,382.27 L568.73,382.29 L568.54,382.31 L568.54,386.75 L568.34,386.75 L568.15,386.77 L567.95,386.79 L567.76,386.81 L567.56,386.83 L567.56,381.48 L567.37,381.48 L567.17,381.50 L566.98,381.52 L566.78,381.54 L566.78,382.53 L566.59,382.53 L566.39,382.55 L566.20,382.57 L566.00,382.59 L566.00,380.65 L565.81,380.65 L565.62,380.68 L565.42,380.70 L565.23,380.72 L565.03,380.74 L565.03,381.69 L564.84,381.69 L564.64,381.71 L564.45,381.74 L564.25,381.76 L564.25,382.44 L564.06,382.44 L563.86,382.46 L563.67,382.48 L563.47,382.50 L563.47,382.63 L563.28,382.63 L563.08,382.66 L562.89,382.68 L562.69,382.70 L562.50,382.72 L562.50,382.18 L562.31,382.18 L562.11,382.21 L561.92,382.23 L561.72,382.25 L561.72,382.13 L561.53,382.13 L561.33,382.16 L561.14,382.18 L560.94,382.20 L560.94,381.32 L560.75,381.32 L560.55,381.34 L560.36,381.37 L560.16,381.39 L559.97,381.41 L559.97,381.81 L559.77,381.81 L559.58,381.83 L559.38,381.86 L559.19,381.88 L559.19,384.10 L559.00,384.10 L558.80,384.13 L558.61,384.15 L558.41,384.17 L558.22,384.20 L558.22,382.66 L558.02,382.66 L557.83,382.69 L557.63,382.71 L557.44,382.73 L557.44,382.65 L557.24,382.65 L557.05,382.67 L556.85,382.69 L556.66,382.72 L556.66,381.67 L556.46,381.67 L556.27,381.70 L556.07,381.72 L555.88,381.74 L555.69,381.77 L555.69,382.18 L555.49,382.18 L555.30,382.20 L555.10,382.23 L554.91,382.25 L554.91,384.07 L554.71,384.07 L554.52,384.09 L554.32,384.12 L554.13,384.14 L554.13,382.00 L553.93,382.00 L553.74,382.02 L553.54,382.05 L553.35,382.07 L553.15,382.10 L553.15,385.20 L552.96,385.20 L552.76,385.23 L552.57,385.25 L552.38,385.28 L552.38,383.37 L552.18,383.37 L551.99,383.40 L551.79,383.42 L551.60,383.45 L551.40,383.47 L551.40,384.22 L551.21,384.22 L551.01,384.25 L550.82,384.27 L550.62,384.30 L550.62,385.04 L550.43,385.04 L550.23,385.06 L550.04,385.09 L549.84,385.11 L549.84,384.65 L549.65,384.65 L549.46,384.67 L549.26,384.70 L549.07,384.72 L548.87,384.75 L548.87,385.10 L548.68,385.10 L548.48,385.12 L548.29,385.15 L548.09,385.18 L548.09,383.22 L547.90,383.22 L547.70,383.24 L547.51,383.27 L547.31,383.30 L547.31,387.12 L547.12,387.12 L546.92,387.14 L546.73,387.17 L546.53,387.20 L546.34,387.22 L546.34,384.30 L546.15,384.30 L545.95,384.32 L545.76,384.35 L545.56,384.38 L545.56,384.95 L545.37,384.95 L545.17,384.98 L544.98,385.00 L544.78,385.03 L544.78,386.31 L544.59,386.31 L544.39,386.34 L544.20,386.37 L544.00,386.39 L543.81,386.42 L543.81,383.37 L543.61,383.37 L543.42,383.39 L543.22,383.42 L543.03,383.45 L543.03,385.44 L542.84,385.44 L542.64,385.47 L542.45,385.49 L542.25,385.52 L542.06,385.55 L542.06,383.61 L541.86,383.61 L541.67,383.63 L541.47,383.66 L541.28,383.69 L541.28,383.95 L541.08,383.95 L540.89,383.98 L540.69,384.01 L540.50,384.03 L540.50,384.37 L540.30,384.37 L540.11,384.40 L539.91,384.43 L539.72,384.45 L539.53,384.48 L539.53,384.21 L539.33,384.21 L539.14,384.24 L538.94,384.27 L538.75,384.29 L538.75,387.32 L538.55,387.32 L538.36,387.35 L538.16,387.38 L537.97,387.41 L537.97,384.88 L537.77,384.88 L537.58,384.91 L537.38,384.94 L537.19,384.97 L536.99,384.99 L536.99,385.59 L536.80,385.59 L536.60,385.62 L536.41,385.65 L536.22,385.68 L536.22,384.89 L536.02,384.89 L535.83,384.92 L535.63,384.95 L535.44,384.97 L535.44,385.64 L535.24,385.64 L535.05,385.66 L534.85,385.69 L534.66,385.72 L534.46,385.75 L534.46,388.34 L534.27,388.34 L534.07,388.37 L533.88,388.40 L533.68,388.43 L533.68,385.61 L533.49,385.61 L533.30,385.64 L533.10,385.67 L532.91,385.69 L532.71,385.72 L532.71,385.94 L532.52,385.94 L532.32,385.97 L532.13,386.00 L531.93,386.03 L531.93,385.61 L531.74,385.61 L531.54,385.64 L531.35,385.66 L531.15,385.69 L531.15,388.28 L530.96,388.28 L530.76,388.31 L530.57,388.34 L530.37,388.37 L530.18,388.40 L530.18,386.23 L529.99,386.23 L529.79,386.26 L529.60,386.29 L529.40,386.32 L529.40,386.15 L529.21,386.15 L529.01,386.18 L528.82,386.21 L528.62,386.24 L528.62,386.29 L528.43,386.29 L528.23,386.32 L528.04,386.35 L527.84,386.38 L527.65,386.41 L527.65,386.20 L527.45,386.20 L527.26,386.23 L527.06,386.26 L526.87,386.29 L526.87,386.25 L526.68,386.25 L526.48,386.28 L526.29,386.32 L526.09,386.35 L526.09,386.27 L525.90,386.27 L525.70,386.30 L525.51,386.33 L525.31,386.36 L525.12,386.39 L525.12,389.17 L524.92,389.17 L524.73,389.20 L524.53,389.23 L524.34,389.26 L524.34,387.90 L524.14,387.90 L523.95,387.94 L523.75,387.97 L523.56,388.00 L523.37,388.03 L523.37,388.22 L523.17,388.22 L522.98,388.25 L522.78,388.29 L522.59,388.32 L522.59,386.49 L522.39,386.49 L522.20,386.52 L522.00,386.55 L521.81,386.59 L521.81,387.83 L521.61,387.83 L521.42,387.86 L521.22,387.89 L521.03,387.93 L520.83,387.96 L520.83,387.06 L520.64,387.06 L520.44,387.09 L520.25,387.12 L520.06,387.16 L520.06,390.69 L519.86,390.69 L519.67,390.73 L519.47,390.76 L519.28,390.79 L519.28,388.94 L519.08,388.94 L518.89,388.98 L518.69,389.01 L518.50,389.04 L518.30,389.08 L518.30,387.92 L518.11,387.92 L517.91,387.95 L517.72,387.99 L517.52,388.02 L517.52,388.81 L517.33,388.81 L517.13,388.85 L516.94,388.88 L516.75,388.92 L516.55,388.95 L516.55,387.56 L516.36,387.56 L516.16,387.59 L515.97,387.63 L515.77,387.66 L515.77,388.73 L515.58,388.73 L515.38,388.77 L515.19,388.80 L514.99,388.84 L514.99,387.88 L514.80,387.88 L514.60,387.92 L514.41,387.95 L514.21,387.98 L514.02,388.02 L514.02,389.02 L513.83,389.02 L513.63,389.06 L513.44,389.09 L513.24,389.13 L513.24,390.30 L513.05,390.30 L512.85,390.33 L512.66,390.37 L512.46,390.40 L512.46,389.23 L512.27,389.23 L512.07,389.27 L511.88,389.31 L511.68,389.34 L511.49,389.38 L511.49,389.40 L511.29,389.40 L511.10,389.43 L510.90,389.47 L510.71,389.50 L510.71,389.08 L510.52,389.08 L510.32,389.12 L510.13,389.15 L509.93,389.19 L509.93,390.55 L509.74,390.55 L509.54,390.59 L509.35,390.63 L509.15,390.66 L508.96,390.70 L508.96,390.85 L508.76,390.85 L508.57,390.88 L508.37,390.92 L508.18,390.96 L508.18,393.04 L507.98,393.04 L507.79,393.08 L507.59,393.12 L507.40,393.15 L507.21,393.19 L507.21,390.01 L507.01,390.01 L506.82,390.04 L506.62,390.08 L506.43,390.12 L506.43,391.33 L506.23,391.33 L506.04,391.37 L505.84,391.40 L505.65,391.44 L505.65,390.79 L505.45,390.79 L505.26,390.82 L505.06,390.86 L504.87,390.90 L504.67,390.94 L504.67,391.64 L504.48,391.64 L504.28,391.68 L504.09,391.72 L503.90,391.76 L503.90,390.00 L503.70,390.00 L503.51,390.04 L503.31,390.08 L503.12,390.12 L503.12,393.87 L502.92,393.87 L502.73,393.91 L502.53,393.95 L502.34,393.99 L502.14,394.03 L502.14,391.96 L501.95,391.96 L501.75,392.00 L501.56,392.04 L501.36,392.08 L501.36,391.38 L501.17,391.38 L500.97,391.41 L500.78,391.45 L500.59,391.49 L500.59,391.66 L500.39,391.66 L500.20,391.70 L500.00,391.73 L499.81,391.77 L499.61,391.81 L499.61,391.00 L499.42,391.00 L499.22,391.03 L499.03,391.07 L498.83,391.10 L498.83,393.46 L498.64,393.46 L498.44,393.50 L498.25,393.54 L498.05,393.57 L497.86,393.61 L497.86,392.00 L497.66,392.00 L497.47,392.04 L497.28,392.07 L497.08,392.11 L497.08,394.46 L496.89,394.46 L496.69,394.50 L496.50,394.54 L496.30,394.57 L496.30,393.61 L496.11,393.61 L495.91,393.65 L495.72,393.68 L495.52,393.72 L495.33,393.76 L495.33,392.27 L495.13,392.27 L494.94,392.31 L494.74,392.34 L494.55,392.38 L494.55,394.42 L494.36,394.42 L494.16,394.46 L493.97,394.50 L493.77,394.54 L493.77,395.01 L493.58,395.01 L493.38,395.05 L493.19,395.09 L492.99,395.12 L492.80,395.16 L492.80,392.14 L492.60,392.14 L492.41,392.18 L492.21,392.21 L492.02,392.25 L492.02,392.50 L491.82,392.50 L491.63,392.54 L491.43,392.58 L491.24,392.62 L491.24,398.51 L491.05,398.51 L490.85,398.55 L490.66,398.59 L490.46,398.63 L490.27,398.67 L490.27,393.79 L490.07,393.79 L489.88,393.83 L489.68,393.87 L489.49,393.91 L489.49,396.04 L489.29,396.04 L489.10,396.08 L488.90,396.12 L488.71,396.16 L488.51,396.21 L488.51,393.72 L488.32,393.72 L488.12,393.76 L487.93,393.80 L487.74,393.84 L487.74,394.33 L487.54,394.33 L487.35,394.37 L487.15,394.41 L486.96,394.45 L486.96,393.98 L486.76,393.98 L486.57,394.02 L486.37,394.06 L486.18,394.10 L485.98,394.14 L485.98,394.74 L485.79,394.74 L485.59,394.78 L485.40,394.82 L485.20,394.87 L485.20,395.30 L485.01,395.30 L484.81,395.35 L484.62,395.39 L484.43,395.43 L484.43,395.58 L484.23,395.58 L484.04,395.62 L483.84,395.67 L483.65,395.71 L483.45,395.75 L483.45,395.12 L483.26,395.12 L483.06,395.17 L482.87,395.21 L482.67,395.26 L482.67,396.49 L482.48,396.49 L482.28,396.53 L482.09,396.58 L481.89,396.62 L481.89,394.62 L481.70,394.62 L481.50,394.67 L481.31,394.71 L481.12,394.76 L480.92,394.80 L480.92,396.26 L480.73,396.26 L480.53,396.31 L480.34,396.36 L480.14,396.40 L480.14,395.60 L479.95,395.60 L479.75,395.65 L479.56,395.70 L479.36,395.74 L479.17,395.79 L479.17,399.28 L478.97,399.28 L478.78,399.33 L478.58,399.37 L478.39,399.42 L478.39,397.32 L478.19,397.32 L478.00,397.37 L477.81,397.42 L477.61,397.47 L477.61,397.81 L477.42,397.81 L477.22,397.86 L477.03,397.90 L476.83,397.95 L476.64,398.00 L476.64,396.46 L476.44,396.46 L476.25,396.51 L476.05,396.56 L475.86,396.61 L475.86,396.18 L475.66,396.18 L475.47,396.23 L475.27,396.29 L475.08,396.34 L475.08,396.05 L474.88,396.05 L474.69,396.10 L474.50,396.15 L474.30,396.20 L474.11,396.26 L474.11,397.55 L473.91,397.55 L473.72,397.60 L473.52,397.65 L473.33,397.71 L473.33,398.92 L473.13,398.92 L472.94,398.98 L472.74,399.03 L472.55,399.08 L472.35,399.14 L472.35,397.18 L472.16,397.18 L471.96,397.23 L471.77,397.29 L471.58,397.34 L471.58,397.03 L471.38,397.03 L471.19,397.08 L470.99,397.14 L470.80,397.19 L470.80,399.54 L470.60,399.54 L470.41,399.59 L470.21,399.65 L470.02,399.70 L469.82,399.76 L469.82,399.07 L469.63,399.07 L469.43,399.13 L469.24,399.19 L469.04,399.25 L469.04,399.49 L468.85,399.49 L468.65,399.55 L468.46,399.61 L468.27,399.67 L468.27,399.60 L468.07,399.60 L467.88,399.66 L467.68,399.72 L467.49,399.77 L467.29,399.83 L467.29,398.42 L467.10,398.42 L466.90,398.48 L466.71,398.54 L466.51,398.60 L466.51,399.49 L466.32,399.49 L466.12,399.55 L465.93,399.61 L465.73,399.67 L465.73,399.41 L465.54,399.41 L465.34,399.47 L465.15,399.53 L464.96,399.59 L464.76,399.66 L464.76,399.32 L464.57,399.32 L464.37,399.38 L464.18,399.45 L463.98,399.51 L463.98,401.58 L463.79,401.58 L463.59,401.65 L463.40,401.71 L463.20,401.78 L463.01,401.84 L463.01,399.90 L462.81,399.90 L462.62,399.97 L462.42,400.03 L462.23,400.10 L462.23,400.57 L462.03,400.57 L461.84,400.64 L461.65,400.70 L461.45,400.77 L461.45,400.27 L461.26,400.27 L461.06,400.33 L460.87,400.40 L460.67,400.47 L460.48,400.54 L460.48,405.97 L460.28,405.97 L460.09,406.04 L459.89,406.11 L459.70,406.17 L459.70,403.14 L459.50,403.14 L459.31,403.21 L459.11,403.28 L458.92,403.35 L458.92,402.41 L458.72,402.41 L458.53,402.48 L458.34,402.55 L458.14,402.62 L457.95,402.70 L457.95,402.58 L457.75,402.58 L457.56,402.66 L457.36,402.73 L457.17,402.80 L457.17,401.79 L456.97,401.79 L456.78,401.86 L456.58,401.94 L456.39,402.01 L456.39,402.39 L456.19,402.39 L456.00,402.46 L455.80,402.54 L455.61,402.61 L455.42,402.69 L455.42,408.03 L455.22,408.03 L455.03,408.11 L454.83,408.18 L454.64,408.26 L454.64,406.68 L454.44,406.68 L454.25,406.76 L454.05,406.83 L453.86,406.91 L453.66,406.99 L453.66,410.79 L453.47,410.79 L453.27,410.86 L453.08,410.94 L452.88,411.02 L452.88,406.60 L452.69,406.60 L452.49,406.68 L452.30,406.76 L452.11,406.84 L452.11,404.41 L451.91,404.41 L451.72,404.49 L451.52,404.57 L451.33,404.65 L451.13,404.73 L451.13,406.85 L450.94,406.85 L450.74,406.93 L450.55,407.01 L450.35,407.10 L450.35,404.57 L450.16,404.57 L449.96,404.66 L449.77,404.74 L449.57,404.83 L449.57,405.05 L449.38,405.05 L449.18,405.13 L448.99,405.22 L448.80,405.31 L448.60,405.39 L448.60,406.87 L448.41,406.87 L448.21,406.96 L448.02,407.05 L447.82,407.13 L447.82,406.77 L447.63,406.77 L447.43,406.85 L447.24,406.94 L447.04,407.03 L447.04,408.02 L446.85,408.02 L446.65,408.11 L446.46,408.20 L446.26,408.29 L446.07,408.38 L446.07,409.37 L445.87,409.37 L445.68,409.46 L445.49,409.55 L445.29,409.64 L445.29,407.33 L445.10,407.33 L444.90,407.42 L444.71,407.51 L444.51,407.61 L444.32,407.70 L444.32,409.14 L444.12,409.14 L443.93,409.23 L443.73,409.33 L443.54,409.42 L443.54,410.31 L443.34,410.31 L443.15,410.41 L442.95,410.51 L442.76,410.60 L442.76,410.81 L442.56,410.81 L442.37,410.91 L442.18,411.01 L441.98,411.11 L441.79,411.21 L441.79,408.63 L441.59,408.63 L441.40,408.73 L441.20,408.83 L441.01,408.93 L441.01,409.62 L440.81,409.62 L440.62,409.73 L440.42,409.83 L440.23,409.93 L440.23,409.81 L440.03,409.81 L439.84,409.91 L439.64,410.01 L439.45,410.11 L439.25,410.22 L439.25,411.04 L439.06,411.04 L438.87,411.15 L438.67,411.25 L438.48,411.36 L438.48,413.15 L438.28,413.15 L438.09,413.25 L437.89,413.36 L437.70,413.46 L437.50,413.57 L437.50,412.41 L437.31,412.41 L437.11,412.52 L436.92,412.63 L436.72,412.73 L436.72,412.80 L436.53,412.80 L436.33,412.91 L436.14,413.02 L435.95,413.13 L435.95,412.82 L435.75,412.82 L435.56,412.93 L435.36,413.04 L435.17,413.16 L434.97,413.27 L434.97,413.67 L434.78,413.67 L434.58,413.79 L434.39,413.90 L434.19,414.01 L434.19,415.09 L434.00,415.09 L433.80,415.20 L433.61,415.32 L433.41,415.43 L433.41,414.59 L433.22,414.59 L433.02,414.71 L432.83,414.82 L432.64,414.94 L432.44,415.06 L432.44,414.05 L432.25,414.05 L432.05,414.17 L431.86,414.29 L431.66,414.40 L431.66,414.40 L431.47,414.40 L431.27,414.52 L431.08,414.64 L430.88,414.76 L430.88,415.13 L430.69,415.13 L430.49,415.25 L430.30,415.37 L430.10,415.49 L429.91,415.61 L429.91,418.80 L429.71,418.80 L429.52,418.93 L429.33,419.05 L429.13,419.17 L429.13,416.84 L428.94,416.84 L428.74,416.96 L428.55,417.08 L428.35,417.21 L428.16,417.33 L428.16,416.74 L427.96,416.74 L427.77,416.86 L427.57,416.99 L427.38,417.12 L427.38,417.71 L427.18,417.71 L426.99,417.84 L426.79,417.97 L426.60,418.10 L426.60,418.38 L426.40,418.38 L426.21,418.51 L426.02,418.64 L425.82,418.77 L425.63,418.90 L425.63,418.17 L425.43,418.17 L425.24,418.30 L425.04,418.43 L424.85,418.56 L424.85,419.19 L424.65,419.19 L424.46,419.32 L424.26,419.45 L424.07,419.59 L424.07,419.35 L423.87,419.35 L423.68,419.48 L423.48,419.62 L423.29,419.75 L423.09,419.89 L423.09,423.65 L422.90,423.65 L422.71,423.79 L422.51,423.92 L422.32,424.06 L422.32,420.51 L422.12,420.51 L421.93,420.65 L421.73,420.79 L421.54,420.92 L421.54,420.76 L421.34,420.76 L421.15,420.90 L420.95,421.04 L420.76,421.18 L420.56,421.32 L420.56,421.80 L420.37,421.80 L420.17,421.94 L419.98,422.09 L419.78,422.23 L419.78,425.18 L419.59,425.18 L419.40,425.33 L419.20,425.47 L419.01,425.62 L418.81,425.76 L418.81,423.29 L418.62,423.29 L418.42,423.44 L418.23,423.59 L418.03,423.73 L418.03,423.67 L417.84,423.67 L417.64,423.82 L417.45,423.97 L417.25,424.12 L417.25,427.10 L417.06,427.10 L416.86,427.25 L416.67,427.40 L416.48,427.56 L416.28,427.71 L416.28,424.86 L416.09,424.86 L415.89,425.02 L415.70,425.18 L415.50,425.35 L415.50,426.77 L415.31,426.77 L415.11,426.95 L414.92,427.12 L414.72,427.30 L414.72,426.51 L414.53,426.51 L414.33,426.70 L414.14,426.89 L413.94,427.08 L413.75,427.28 L413.75,427.77 L413.55,427.77 L413.36,427.98 L413.17,428.19 L412.97,428.40 L412.97,428.23 L412.78,428.23 L412.58,428.46 L412.39,428.69 L412.19,428.92 L412.19,432.11 L412.00,432.11 L411.80,432.35 L411.61,432.61 L411.41,432.87 L411.22,433.14 L411.22,431.00 L411.02,431.00 L410.83,431.28 L410.63,431.57 L410.44,431.87 L410.44,432.41 L410.24,432.41 L410.05,432.72 L409.86,433.04 L409.66,433.37 L409.47,433.70 L409.47,435.13 L409.27,435.13 L409.08,435.48 L408.88,435.84 L408.69,436.21 L408.69,436.27 L408.49,436.27 L408.30,436.66 L408.10,437.06 L407.91,437.47 L407.91,436.64 L407.71,436.64 L407.52,437.06 L407.32,437.50 L407.13,437.80 L406.93,436.90 L406.93,437.14 L406.74,437.14 L406.55,436.24 L406.35,435.35 L406.16,434.45 L406.16,432.70 L405.96,432.70 L405.77,431.80 L405.57,430.90 L405.38,430.01 L405.38,429.30 L405.18,429.30 L404.99,428.40 L404.79,427.51 L404.60,426.61 L404.40,425.71 L404.40,424.76 L404.21,424.76 L404.01,423.86 L403.82,422.97 L403.62,422.07 L403.62,421.61 L403.43,421.61 L403.24,420.71 L403.04,419.82 L402.85,418.92 L402.65,418.03 L402.65,416.97 L402.46,416.97 L402.26,416.07 L402.07,415.18 L401.87,414.28 L401.87,414.08 L401.68,414.08 L401.48,413.18 L401.29,412.29 L401.09,411.39 L401.09,409.64 L400.90,409.64 L400.70,408.74 L400.51,407.85 L400.31,406.95 L400.12,406.06 L400.12,408.17 L399.93,408.17 L399.73,407.27 L399.54,406.38 L399.34,405.48 L399.34,400.75 L399.15,400.75 L398.95,399.86 L398.76,398.96 L398.56,398.06 L398.56,397.18 L398.37,397.18 L398.17,396.28 L397.98,395.39 L397.78,394.49 L397.59,393.60 L397.59,393.73 L397.39,393.73 L397.20,392.83 L397.00,391.94 L396.81,391.04 L396.81,390.00 L396.62,390.00 L396.42,389.10 L396.23,388.21 L396.03,387.31 L396.03,386.74 L395.84,386.74 L395.64,385.84 L395.45,384.95 L395.25,384.05 L395.06,383.16 L395.06,384.59 L394.86,384.59 L394.67,383.69 L394.47,382.80 L394.28,381.90 L394.28,380.45 L394.08,380.45 L393.89,379.55 L393.70,378.65 L393.50,377.76 L393.31,376.86 L393.31,376.78 L393.11,376.78 L392.92,375.88 L392.72,374.99 L392.53,374.09 L392.53,370.57 L392.33,370.57 L392.14,369.67 L391.94,368.78 L391.75,367.88 L391.75,366.04 L391.55,366.04 L391.36,365.14 L391.16,364.25 L390.97,363.35 L390.77,362.46 L390.77,361.61 L390.58,361.61 L390.39,360.71 L390.19,359.81 L390.00,358.92 L390.00,359.29 L389.80,359.29 L389.61,358.39 L389.41,357.50 L389.22,356.60 L389.22,356.03 L389.02,356.03 L388.83,355.13 L388.63,354.24 L388.44,354.08 L388.24,354.08 L388.24,353.36 L388.05,353.36 L387.85,353.36 L387.66,353.36 L387.46,353.36 L387.46,355.18 L387.27,355.18 L387.08,355.18 L386.88,355.18 L386.69,355.18 L386.69,354.72 L386.49,354.72 L386.30,354.72 L386.10,354.72 L385.91,354.72 L385.71,354.72 L385.71,355.77 L385.52,355.77 L385.32,355.77 L385.13,355.77 L384.93,355.77 L384.93,352.84 L384.74,352.84 L384.54,352.84 L384.35,352.84 L384.15,352.84 L383.96,352.84 L383.96,352.09 L383.77,352.09 L383.57,352.09 L383.38,352.09 L383.18,352.09 L383.18,356.59 L382.99,356.59 L382.79,356.59 L382.60,356.59 L382.40,356.59 L382.40,352.45 L382.21,352.45 L382.01,352.45 L381.82,352.45 L381.62,352.45 L381.43,352.45 L381.43,352.45 L381.23,352.45 L381.04,352.45 L380.84,352.45 L380.65,352.45 L380.65,352.70 L380.46,352.70 L380.26,352.70 L380.07,352.70 L379.87,352.70 L379.87,352.32 L379.68,352.32 L379.48,352.32 L379.29,352.32 L379.09,352.32 L378.90,352.32 L378.90,353.47 L378.70,353.47 L378.51,353.47 L378.31,353.47 L378.12,353.47 L378.12,353.25 L377.92,353.25 L377.73,353.25 L377.54,353.25 L377.34,353.25 L377.34,353.30 L377.15,353.30 L376.95,353.30 L376.76,353.30 L376.56,353.30 L376.37,353.30 L376.37,357.27 L376.17,357.27 L375.98,357.27 L375.78,357.27 L375.59,357.27 L375.59,352.60 L375.39,352.60 L375.20,352.60 L375.00,352.60 L374.81,352.60 L374.61,352.60 L374.61,353.22 L374.42,353.22 L374.23,353.22 L374.03,353.22 L373.84,353.22 L373.84,353.38 L373.64,353.38 L373.45,353.38 L373.25,353.38 L373.06,353.38 L373.06,354.36 L372.86,354.36 L372.67,354.36 L372.47,354.36 L372.28,354.36 L372.08,354.36 L372.08,352.18 L371.89,352.18 L371.69,352.18 L371.50,352.18 L371.30,352.18 L371.30,352.30 L371.11,352.30 L370.92,352.30 L370.72,352.30 L370.53,352.30 L370.53,354.08 L370.33,354.08 L370.14,354.08 L369.94,354.08 L369.75,354.08 L369.55,354.08 L369.55,353.74 L369.36,353.74 L369.16,353.74 L368.97,353.74 L368.77,353.74 L368.77,355.85 L368.58,355.85 L368.38,355.85 L368.19,355.85 L367.99,355.85 L367.80,355.85 Z" fill="#d3e5f1"/>
<path d="M367.80,305.18 L367.99,305.18 L368.19,305.18 L368.38,305.18 L368.58,305.18 L368.77,305.18 L368.77,304.03 L368.97,304.03 L369.16,304.03 L369.36,304.03 L369.55,304.03 L369.55,305.35 L369.75,305.35 L369.94,305.35 L370.14,305.35 L370.33,305.35 L370.53,305.35 L370.53,300.42 L370.72,300.42 L370.92,300.42 L371.11,300.42 L371.30,300.42 L371.30,306.58 L371.50,306.58 L371.69,306.58 L371.89,306.58 L372.08,306.58 L372.08,307.86 L372.28,307.86 L372.47,307.86 L372.67,307.86 L372.86,307.86 L373.06,307.86 L373.06,305.37 L373.25,305.37 L373.45,305.37 L373.64,305.37 L373.84,305.37 L373.84,307.61 L374.03,307.61 L374.23,307.61 L374.42,307.61 L374.61,307.61 L374.61,305.66 L374.81,305.66 L375.00,305.66 L375.20,305.66 L375.39,305.66 L375.59,305.66 L375.59,305.36 L375.78,305.36 L375.98,305.36 L376.17,305.36 L376.37,305.36 L376.37,307.29 L376.56,307.29 L376.76,307.29 L376.95,307.29 L377.15,307.29 L377.34,307.29 L377.34,303.86 L377.54,303.86 L377.73,303.86 L377.92,303.86 L378.12,303.86 L378.12,306.30 L378.31,306.30 L378.51,306.30 L378.70,306.30 L378.90,306.30 L378.90,306.44 L379.09,306.44 L379.29,306.44 L379.48,306.44 L379.68,306.44 L379.87,306.44 L379.87,307.09 L380.07,307.09 L380.26,307.09 L380.46,307.09 L380.65,307.09 L380.65,306.95 L380.84,306.95 L381.04,306.95 L381.23,306.95 L381.43,306.95 L381.43,304.64 L381.62,304.64 L381.82,304.64 L382.01,304.64 L382.21,304.64 L382.40,304.64 L382.40,306.51 L382.60,306.51 L382.79,306.51 L382.99,306.51 L383.18,306.51 L383.18,301.29 L383.38,301.29 L383.57,301.29 L383.77,301.29 L383.96,301.29 L383.96,307.21 L384.15,307.21 L384.35,307.21 L384.54,307.21 L384.74,307.21 L384.93,307.21 L384.93,305.52 L385.13,305.52 L385.32,305.52 L385.52,305.52 L385.71,305.52 L385.71,304.03 L385.91,304.03 L386.10,304.03 L386.30,304.03 L386.49,304.03 L386.69,304.03 L386.69,306.14 L386.88,306.14 L387.08,306.14 L387.27,306.14 L387.46,306.14 L387.46,303.22 L387.66,303.22 L387.85,303.22 L388.05,303.22 L388.24,303.22 L388.24,306.49 L388.44,306.49 L388.63,306.64 L388.83,307.54 L389.02,308.43 L389.22,308.43 L389.22,308.21 L389.41,309.11 L389.61,310.00 L389.80,310.90 L390.00,310.90 L390.00,309.58 L390.19,310.47 L390.39,311.37 L390.58,312.27 L390.77,312.27 L390.77,316.89 L390.97,317.79 L391.16,318.68 L391.36,319.58 L391.55,320.47 L391.75,320.47 L391.75,321.71 L391.94,322.61 L392.14,323.51 L392.33,324.40 L392.53,324.40 L392.53,322.68 L392.72,323.57 L392.92,324.47 L393.11,325.36 L393.31,325.36 L393.31,329.25 L393.50,330.15 L393.70,331.05 L393.89,331.94 L394.08,332.84 L394.28,332.84 L394.28,333.62 L394.47,334.52 L394.67,335.42 L394.86,336.31 L395.06,336.31 L395.06,333.58 L395.25,334.47 L395.45,335.37 L395.64,336.26 L395.84,337.16 L396.03,337.16 L396.03,341.08 L396.23,341.98 L396.42,342.88 L396.62,343.77 L396.81,343.77 L396.81,337.74 L397.00,338.63 L397.20,339.53 L397.39,340.42 L397.59,340.42 L397.59,345.50 L397.78,346.39 L397.98,347.29 L398.17,348.18 L398.37,349.08 L398.56,349.08 L398.56,352.02 L398.76,352.91 L398.95,353.81 L399.15,354.70 L399.34,354.70 L399.34,355.14 L399.54,356.04 L399.73,356.93 L399.93,357.83 L400.12,357.83 L400.12,360.67 L400.31,361.57 L400.51,362.46 L400.70,363.36 L400.90,364.26 L401.09,364.26 L401.09,360.92 L401.29,361.81 L401.48,362.71 L401.68,363.61 L401.87,363.61 L401.87,367.97 L402.07,368.87 L402.26,369.76 L402.46,370.66 L402.65,370.66 L402.65,371.13 L402.85,372.03 L403.04,372.93 L403.24,373.82 L403.43,374.72 L403.62,374.72 L403.62,374.66 L403.82,375.56 L404.01,376.45 L404.21,377.35 L404.40,377.35 L404.40,379.24 L404.60,380.14 L404.79,381.03 L404.99,381.93 L405.18,382.83 L405.38,382.83 L405.38,384.16 L405.57,385.06 L405.77,385.95 L405.96,386.85 L406.16,386.85 L406.16,383.52 L406.35,384.42 L406.55,385.31 L406.74,386.21 L406.93,386.21 L406.93,390.09 L407.13,390.98 L407.32,390.69 L407.52,390.25 L407.71,389.82 L407.91,389.82 L407.91,388.75 L408.10,388.34 L408.30,387.94 L408.49,387.55 L408.69,387.55 L408.69,387.51 L408.88,387.14 L409.08,386.78 L409.27,386.43 L409.47,386.43 L409.47,386.16 L409.66,385.83 L409.86,385.50 L410.05,385.18 L410.24,384.87 L410.44,384.87 L410.44,384.55 L410.63,384.25 L410.83,383.96 L411.02,383.68 L411.22,383.68 L411.22,382.40 L411.41,382.13 L411.61,381.87 L411.80,381.62 L412.00,381.37 L412.19,381.37 L412.19,384.03 L412.39,383.79 L412.58,383.56 L412.78,383.34 L412.97,383.34 L412.97,379.05 L413.17,378.84 L413.36,378.63 L413.55,378.43 L413.75,378.43 L413.75,380.84 L413.94,380.64 L414.14,380.45 L414.33,380.26 L414.53,380.08 L414.72,380.08 L414.72,379.50 L414.92,379.33 L415.11,379.15 L415.31,378.98 L415.50,378.98 L415.50,381.18 L415.70,381.01 L415.89,380.85 L416.09,380.69 L416.28,380.69 L416.28,378.91 L416.48,378.75 L416.67,378.59 L416.86,378.44 L417.06,378.29 L417.25,378.29 L417.25,377.52 L417.45,377.37 L417.64,377.22 L417.84,377.07 L418.03,377.07 L418.03,374.61 L418.23,374.46 L418.42,374.31 L418.62,374.17 L418.81,374.17 L418.81,376.34 L419.01,376.20 L419.20,376.05 L419.40,375.91 L419.59,375.76 L419.78,375.76 L419.78,377.01 L419.98,376.86 L420.17,376.72 L420.37,376.58 L420.56,376.58 L420.56,376.74 L420.76,376.60 L420.95,376.46 L421.15,376.32 L421.34,376.18 L421.54,376.18 L421.54,373.49 L421.73,373.36 L421.93,373.22 L422.12,373.08 L422.32,373.08 L422.32,374.15 L422.51,374.01 L422.71,373.88 L422.90,373.74 L423.09,373.74 L423.09,372.26 L423.29,372.13 L423.48,371.99 L423.68,371.86 L423.87,371.73 L424.07,371.73 L424.07,370.81 L424.26,370.67 L424.46,370.54 L424.65,370.41 L424.85,370.41 L424.85,371.99 L425.04,371.86 L425.24,371.73 L425.43,371.60 L425.63,371.60 L425.63,373.29 L425.82,373.16 L426.02,373.03 L426.21,372.90 L426.40,372.77 L426.60,372.77 L426.60,371.72 L426.79,371.59 L426.99,371.46 L427.18,371.33 L427.38,371.33 L427.38,370.34 L427.57,370.21 L427.77,370.09 L427.96,369.96 L428.16,369.96 L428.16,371.72 L428.35,371.60 L428.55,371.47 L428.74,371.35 L428.94,371.22 L429.13,371.22 L429.13,370.05 L429.33,369.93 L429.52,369.81 L429.71,369.69 L429.91,369.69 L429.91,369.12 L430.10,369.00 L430.30,368.87 L430.49,368.75 L430.69,368.63 L430.88,368.63 L430.88,370.31 L431.08,370.19 L431.27,370.07 L431.47,369.95 L431.66,369.95 L431.66,365.04 L431.86,364.92 L432.05,364.80 L432.25,364.68 L432.44,364.68 L432.44,367.18 L432.64,367.06 L432.83,366.94 L433.02,366.83 L433.22,366.71 L433.41,366.71 L433.41,365.94 L433.61,365.83 L433.80,365.71 L434.00,365.60 L434.19,365.60 L434.19,360.65 L434.39,360.54 L434.58,360.42 L434.78,360.31 L434.97,360.31 L434.97,366.09 L435.17,365.97 L435.36,365.86 L435.56,365.75 L435.75,365.64 L435.95,365.64 L435.95,366.08 L436.14,365.97 L436.33,365.86 L436.53,365.75 L436.72,365.75 L436.72,365.67 L436.92,365.56 L437.11,365.46 L437.31,365.35 L437.50,365.35 L437.50,365.81 L437.70,365.71 L437.89,365.60 L438.09,365.49 L438.28,365.39 L438.48,365.39 L438.48,357.90 L438.67,357.79 L438.87,357.69 L439.06,357.59 L439.25,357.59 L439.25,362.02 L439.45,361.92 L439.64,361.82 L439.84,361.71 L440.03,361.61 L440.23,361.61 L440.23,360.68 L440.42,360.58 L440.62,360.48 L440.81,360.38 L441.01,360.38 L441.01,364.16 L441.20,364.06 L441.40,363.96 L441.59,363.86 L441.79,363.86 L441.79,361.78 L441.98,361.68 L442.18,361.59 L442.37,361.49 L442.56,361.39 L442.76,361.39 L442.76,360.82 L442.95,360.72 L443.15,360.63 L443.34,360.53 L443.54,360.53 L443.54,362.31 L443.73,362.22 L443.93,362.12 L444.12,362.03 L444.32,362.03 L444.32,360.81 L444.51,360.72 L444.71,360.62 L444.90,360.53 L445.10,360.44 L445.29,360.44 L445.29,362.11 L445.49,362.01 L445.68,361.92 L445.87,361.83 L446.07,361.83 L446.07,361.05 L446.26,360.96 L446.46,360.87 L446.65,360.78 L446.85,360.69 L447.04,360.69 L447.04,361.74 L447.24,361.65 L447.43,361.57 L447.63,361.48 L447.82,361.48 L447.82,359.28 L448.02,359.20 L448.21,359.11 L448.41,359.02 L448.60,359.02 L448.60,359.66 L448.80,359.57 L448.99,359.48 L449.18,359.40 L449.38,359.31 L449.57,359.31 L449.57,359.58 L449.77,359.50 L449.96,359.41 L450.16,359.33 L450.35,359.33 L450.35,359.45 L450.55,359.36 L450.74,359.28 L450.94,359.20 L451.13,359.20 L451.13,357.97 L451.33,357.88 L451.52,357.80 L451.72,357.72 L451.91,357.64 L452.11,357.64 L452.11,356.48 L452.30,356.40 L452.49,356.32 L452.69,356.24 L452.88,356.24 L452.88,355.43 L453.08,355.35 L453.27,355.27 L453.47,355.19 L453.66,355.19 L453.66,355.65 L453.86,355.57 L454.05,355.49 L454.25,355.41 L454.44,355.34 L454.64,355.34 L454.64,355.26 L454.83,355.18 L455.03,355.10 L455.22,355.03 L455.42,355.03 L455.42,355.50 L455.61,355.43 L455.80,355.35 L456.00,355.28 L456.19,355.20 L456.39,355.20 L456.39,354.61 L456.58,354.53 L456.78,354.46 L456.97,354.39 L457.17,354.39 L457.17,356.41 L457.36,356.34 L457.56,356.27 L457.75,356.20 L457.95,356.20 L457.95,356.93 L458.14,356.86 L458.34,356.79 L458.53,356.72 L458.72,356.65 L458.92,356.65 L458.92,355.11 L459.11,355.03 L459.31,354.96 L459.50,354.89 L459.70,354.89 L459.70,354.95 L459.89,354.88 L460.09,354.81 L460.28,354.74 L460.48,354.74 L460.48,355.14 L460.67,355.07 L460.87,355.00 L461.06,354.93 L461.26,354.87 L461.45,354.87 L461.45,355.70 L461.65,355.64 L461.84,355.57 L462.03,355.50 L462.23,355.50 L462.23,354.07 L462.42,354.01 L462.62,353.94 L462.81,353.87 L463.01,353.87 L463.01,355.01 L463.20,354.95 L463.40,354.88 L463.59,354.82 L463.79,354.75 L463.98,354.75 L463.98,354.10 L464.18,354.03 L464.37,353.97 L464.57,353.91 L464.76,353.91 L464.76,354.29 L464.96,354.23 L465.15,354.17 L465.34,354.11 L465.54,354.05 L465.73,354.05 L465.73,352.20 L465.93,352.14 L466.12,352.08 L466.32,352.02 L466.51,352.02 L466.51,349.95 L466.71,349.89 L466.90,349.83 L467.10,349.77 L467.29,349.77 L467.29,351.94 L467.49,351.88 L467.68,351.82 L467.88,351.76 L468.07,351.70 L468.27,351.70 L468.27,352.31 L468.46,352.25 L468.65,352.20 L468.85,352.14 L469.04,352.14 L469.04,353.36 L469.24,353.30 L469.43,353.24 L469.63,353.19 L469.82,353.19 L469.82,352.58 L470.02,352.52 L470.21,352.47 L470.41,352.41 L470.60,352.35 L470.80,352.35 L470.80,351.28 L470.99,351.22 L471.19,351.17 L471.38,351.11 L471.58,351.11 L471.58,345.94 L471.77,345.88 L471.96,345.83 L472.16,345.77 L472.35,345.77 L472.35,352.20 L472.55,352.15 L472.74,352.10 L472.94,352.04 L473.13,351.99 L473.33,351.99 L473.33,345.19 L473.52,345.14 L473.72,345.09 L473.91,345.04 L474.11,345.04 L474.11,350.91 L474.30,350.86 L474.50,350.81 L474.69,350.75 L474.88,350.70 L475.08,350.70 L475.08,349.53 L475.27,349.48 L475.47,349.43 L475.66,349.38 L475.86,349.38 L475.86,350.12 L476.05,350.07 L476.25,350.02 L476.44,349.97 L476.64,349.97 L476.64,346.50 L476.83,346.45 L477.03,346.40 L477.22,346.35 L477.42,346.30 L477.61,346.30 L477.61,350.89 L477.81,350.84 L478.00,350.79 L478.19,350.74 L478.39,350.74 L478.39,349.59 L478.58,349.54 L478.78,349.49 L478.97,349.45 L479.17,349.45 L479.17,350.40 L479.36,350.35 L479.56,350.30 L479.75,350.26 L479.95,350.21 L480.14,350.21 L480.14,347.96 L480.34,347.91 L480.53,347.86 L480.73,347.82 L480.92,347.82 L480.92,346.65 L481.12,346.60 L481.31,346.55 L481.50,346.51 L481.70,346.46 L481.89,346.46 L481.89,349.07 L482.09,349.03 L482.28,348.98 L482.48,348.94 L482.67,348.94 L482.67,348.74 L482.87,348.70 L483.06,348.65 L483.26,348.61 L483.45,348.61 L483.45,348.11 L483.65,348.07 L483.84,348.02 L484.04,347.98 L484.23,347.94 L484.43,347.94 L484.43,349.12 L484.62,349.07 L484.81,349.03 L485.01,348.99 L485.20,348.99 L485.20,346.94 L485.40,346.90 L485.59,346.86 L485.79,346.81 L485.98,346.81 L485.98,346.65 L486.18,346.61 L486.37,346.57 L486.57,346.53 L486.76,346.48 L486.96,346.48 L486.96,348.06 L487.15,348.02 L487.35,347.97 L487.54,347.93 L487.74,347.93 L487.74,348.92 L487.93,348.88 L488.12,348.84 L488.32,348.80 L488.51,348.80 L488.51,347.20 L488.71,347.16 L488.90,347.12 L489.10,347.08 L489.29,347.04 L489.49,347.04 L489.49,347.76 L489.68,347.72 L489.88,347.68 L490.07,347.64 L490.27,347.64 L490.27,344.48 L490.46,344.44 L490.66,344.40 L490.85,344.36 L491.05,344.33 L491.24,344.33 L491.24,347.23 L491.43,347.19 L491.63,347.15 L491.82,347.11 L492.02,347.11 L492.02,346.85 L492.21,346.81 L492.41,346.77 L492.60,346.73 L492.80,346.73 L492.80,344.40 L492.99,344.37 L493.19,344.33 L493.38,344.29 L493.58,344.25 L493.77,344.25 L493.77,345.99 L493.97,345.95 L494.16,345.91 L494.36,345.87 L494.55,345.87 L494.55,346.14 L494.74,346.10 L494.94,346.07 L495.13,346.03 L495.33,346.03 L495.33,344.59 L495.52,344.55 L495.72,344.52 L495.91,344.48 L496.11,344.44 L496.30,344.44 L496.30,345.61 L496.50,345.58 L496.69,345.54 L496.89,345.50 L497.08,345.50 L497.08,345.10 L497.28,345.07 L497.47,345.03 L497.66,344.99 L497.86,344.99 L497.86,345.06 L498.05,345.03 L498.25,344.99 L498.44,344.95 L498.64,344.92 L498.83,344.92 L498.83,346.69 L499.03,346.65 L499.22,346.62 L499.42,346.58 L499.61,346.58 L499.61,345.28 L499.81,345.25 L500.00,345.21 L500.20,345.17 L500.39,345.13 L500.59,345.13 L500.59,345.66 L500.78,345.62 L500.97,345.58 L501.17,345.55 L501.36,345.55 L501.36,344.20 L501.56,344.16 L501.75,344.12 L501.95,344.08 L502.14,344.08 L502.14,338.94 L502.34,338.91 L502.53,338.87 L502.73,338.83 L502.92,338.79 L503.12,338.79 L503.12,343.61 L503.31,343.57 L503.51,343.53 L503.70,343.50 L503.90,343.50 L503.90,342.50 L504.09,342.46 L504.28,342.42 L504.48,342.39 L504.67,342.39 L504.67,344.49 L504.87,344.45 L505.06,344.41 L505.26,344.37 L505.45,344.33 L505.65,344.33 L505.65,342.87 L505.84,342.83 L506.04,342.79 L506.23,342.75 L506.43,342.75 L506.43,344.18 L506.62,344.14 L506.82,344.10 L507.01,344.06 L507.21,344.06 L507.21,343.37 L507.40,343.33 L507.59,343.30 L507.79,343.26 L507.98,343.22 L508.18,343.22 L508.18,342.50 L508.37,342.46 L508.57,342.43 L508.76,342.39 L508.96,342.39 L508.96,344.22 L509.15,344.18 L509.35,344.14 L509.54,344.11 L509.74,344.07 L509.93,344.07 L509.93,342.85 L510.13,342.81 L510.32,342.78 L510.52,342.74 L510.71,342.74 L510.71,340.89 L510.90,340.85 L511.10,340.82 L511.29,340.78 L511.49,340.78 L511.49,343.33 L511.68,343.29 L511.88,343.26 L512.07,343.22 L512.27,343.18 L512.46,343.18 L512.46,342.69 L512.66,342.66 L512.85,342.62 L513.05,342.59 L513.24,342.59 L513.24,337.60 L513.44,337.56 L513.63,337.53 L513.83,337.49 L514.02,337.49 L514.02,341.53 L514.21,341.49 L514.41,341.46 L514.60,341.42 L514.80,341.39 L514.99,341.39 L514.99,340.42 L515.19,340.39 L515.38,340.35 L515.58,340.32 L515.77,340.32 L515.77,338.11 L515.97,338.07 L516.16,338.04 L516.36,338.00 L516.55,338.00 L516.55,340.85 L516.75,340.82 L516.94,340.79 L517.13,340.75 L517.33,340.72 L517.52,340.72 L517.52,342.50 L517.72,342.46 L517.91,342.43 L518.11,342.40 L518.30,342.40 L518.30,341.36 L518.50,341.32 L518.69,341.29 L518.89,341.26 L519.08,341.22 L519.28,341.22 L519.28,342.90 L519.47,342.86 L519.67,342.83 L519.86,342.80 L520.06,342.80 L520.06,342.34 L520.25,342.30 L520.44,342.27 L520.64,342.24 L520.83,342.24 L520.83,334.08 L521.03,334.05 L521.22,334.02 L521.42,333.99 L521.61,333.95 L521.81,333.95 L521.81,335.38 L522.00,335.35 L522.20,335.32 L522.39,335.28 L522.59,335.28 L522.59,341.08 L522.78,341.05 L522.98,341.01 L523.17,340.98 L523.37,340.98 L523.37,340.24 L523.56,340.21 L523.75,340.18 L523.95,340.15 L524.14,340.11 L524.34,340.11 L524.34,339.09 L524.53,339.06 L524.73,339.03 L524.92,339.00 L525.12,339.00 L525.12,340.35 L525.31,340.32 L525.51,340.29 L525.70,340.26 L525.90,340.23 L526.09,340.23 L526.09,341.00 L526.29,340.97 L526.48,340.94 L526.68,340.91 L526.87,340.91 L526.87,340.97 L527.06,340.94 L527.26,340.91 L527.45,340.88 L527.65,340.88 L527.65,336.25 L527.84,336.22 L528.04,336.19 L528.23,336.16 L528.43,336.13 L528.62,336.13 L528.62,334.76 L528.82,334.73 L529.01,334.70 L529.21,334.67 L529.40,334.67 L529.40,335.05 L529.60,335.02 L529.79,334.99 L529.99,334.96 L530.18,334.96 L530.18,339.70 L530.37,339.67 L530.57,339.64 L530.76,339.62 L530.96,339.59 L531.15,339.59 L531.15,339.05 L531.35,339.02 L531.54,338.99 L531.74,338.96 L531.93,338.96 L531.93,336.67 L532.13,336.64 L532.32,336.61 L532.52,336.58 L532.71,336.58 L532.71,335.85 L532.91,335.82 L533.10,335.79 L533.30,335.77 L533.49,335.74 L533.68,335.74 L533.68,339.15 L533.88,339.13 L534.07,339.10 L534.27,339.07 L534.46,339.07 L534.46,340.39 L534.66,340.36 L534.85,340.33 L535.05,340.30 L535.24,340.28 L535.44,340.28 L535.44,339.70 L535.63,339.67 L535.83,339.64 L536.02,339.61 L536.22,339.61 L536.22,339.73 L536.41,339.70 L536.60,339.67 L536.80,339.64 L536.99,339.64 L536.99,338.42 L537.19,338.39 L537.38,338.36 L537.58,338.33 L537.77,338.31 L537.97,338.31 L537.97,338.34 L538.16,338.31 L538.36,338.29 L538.55,338.26 L538.75,338.26 L538.75,338.01 L538.94,337.99 L539.14,337.96 L539.33,337.93 L539.53,337.93 L539.53,339.79 L539.72,339.77 L539.91,339.74 L540.11,339.71 L540.30,339.68 L540.50,339.68 L540.50,334.15 L540.69,334.12 L540.89,334.10 L541.08,334.07 L541.28,334.07 L541.28,339.49 L541.47,339.46 L541.67,339.44 L541.86,339.41 L542.06,339.41 L542.06,334.95 L542.25,334.92 L542.45,334.89 L542.64,334.87 L542.84,334.84 L543.03,334.84 L543.03,336.21 L543.22,336.18 L543.42,336.16 L543.61,336.13 L543.81,336.13 L543.81,333.22 L544.00,333.19 L544.20,333.16 L544.39,333.13 L544.59,333.11 L544.78,333.11 L544.78,333.17 L544.98,333.14 L545.17,333.11 L545.37,333.09 L545.56,333.09 L545.56,332.83 L545.76,332.80 L545.95,332.78 L546.15,332.75 L546.34,332.75 L546.34,336.51 L546.53,336.48 L546.73,336.45 L546.92,336.43 L547.12,336.40 L547.31,336.40 L547.31,336.29 L547.51,336.26 L547.70,336.24 L547.90,336.21 L548.09,336.21 L548.09,335.02 L548.29,335.00 L548.48,334.97 L548.68,334.94 L548.87,334.94 L548.87,336.18 L549.07,336.15 L549.26,336.13 L549.46,336.10 L549.65,336.07 L549.84,336.07 L549.84,332.72 L550.04,332.70 L550.23,332.67 L550.43,332.65 L550.62,332.65 L550.62,337.34 L550.82,337.31 L551.01,337.28 L551.21,337.26 L551.40,337.26 L551.40,337.99 L551.60,337.96 L551.79,337.94 L551.99,337.91 L552.18,337.89 L552.38,337.89 L552.38,334.98 L552.57,334.95 L552.76,334.93 L552.96,334.90 L553.15,334.90 L553.15,337.81 L553.35,337.78 L553.54,337.76 L553.74,337.74 L553.93,337.71 L554.13,337.71 L554.13,332.79 L554.32,332.76 L554.52,332.74 L554.71,332.71 L554.91,332.71 L554.91,333.61 L555.10,333.59 L555.30,333.56 L555.49,333.54 L555.69,333.54 L555.69,335.59 L555.88,335.56 L556.07,335.54 L556.27,335.51 L556.46,335.49 L556.66,335.49 L556.66,337.22 L556.85,337.20 L557.05,337.17 L557.24,337.15 L557.44,337.15 L557.44,337.39 L557.63,337.36 L557.83,337.34 L558.02,337.32 L558.22,337.32 L558.22,330.10 L558.41,330.08 L558.61,330.06 L558.80,330.03 L559.00,330.01 L559.19,330.01 L559.19,329.62 L559.38,329.59 L559.58,329.57 L559.77,329.55 L559.97,329.55 L559.97,334.94 L560.16,334.92 L560.36,334.90 L560.55,334.87 L560.75,334.85 L560.94,334.85 L560.94,334.25 L561.14,334.23 L561.33,334.20 L561.53,334.18 L561.72,334.18 L561.72,336.29 L561.92,336.27 L562.11,336.25 L562.31,336.22 L562.50,336.22 L562.50,334.80 L562.69,334.78 L562.89,334.75 L563.08,334.73 L563.28,334.71 L563.47,334.71 L563.47,336.16 L563.67,336.14 L563.86,336.11 L564.06,336.09 L564.25,336.09 L564.25,333.71 L564.45,333.69 L564.64,333.66 L564.84,333.64 L565.03,333.64 L565.03,329.45 L565.23,329.43 L565.42,329.40 L565.62,329.38 L565.81,329.36 L566.00,329.36 L566.00,331.88 L566.20,331.86 L566.39,331.84 L566.59,331.82 L566.78,331.82 L566.78,335.85 L566.98,335.83 L567.17,335.81 L567.37,335.78 L567.56,335.78 L567.56,333.69 L567.76,333.67 L567.95,333.65 L568.15,333.62 L568.34,333.60 L568.54,333.60 L568.54,333.85 L568.73,333.83 L568.93,333.80 L569.12,333.78 L569.31,333.78 L569.31,332.42 L569.51,332.40 L569.70,332.38 L569.90,332.36 L570.09,332.34 L570.29,332.34 L570.29,331.98 L570.48,331.96 L570.68,331.94 L570.87,331.92 L571.07,331.92 L571.07,334.82 L571.26,334.80 L571.46,334.77 L571.65,334.75 L571.85,334.75 L571.85,335.48 L572.04,335.46 L572.24,335.44 L572.43,335.42 L572.62,335.40 L572.82,335.40 L572.82,333.64 L573.01,333.62 L573.21,333.60 L573.40,333.58 L573.60,333.58 L573.60,332.14 L573.79,332.12 L573.99,332.10 L574.18,332.08 L574.38,332.08 L574.38,334.91 L574.57,334.89 L574.77,334.87 L574.96,334.85 L575.16,334.83 L575.35,334.83 L575.35,335.16 L575.54,335.14 L575.74,335.12 L575.93,335.10 L576.13,335.10 L576.13,329.18 L576.32,329.16 L576.52,329.14 L576.71,329.12 L576.91,329.12 L576.91,335.26 L577.10,335.24 L577.30,335.22 L577.49,335.20 L577.69,335.18 L577.88,335.18 L577.88,332.02 L578.08,332.00 L578.27,331.98 L578.47,331.96 L578.66,331.96 L578.66,331.78 L578.85,331.76 L579.05,331.74 L579.24,331.72 L579.44,331.70 L579.63,331.70 L579.63,333.93 L579.83,333.91 L580.02,333.89 L580.22,333.87 L580.41,333.87 L580.41,333.78 L580.61,333.77 L580.80,333.75 L581.00,333.73 L581.19,333.73 L581.19,334.09 L581.39,334.07 L581.58,334.05 L581.78,334.03 L581.97,334.01 L582.16,334.01 L582.16,330.62 L582.36,330.60 L582.55,330.58 L582.75,330.56 L582.94,330.56 L582.94,331.97 L583.14,331.95 L583.33,331.94 L583.53,331.92 L583.72,331.92 L583.72,327.71 L583.92,327.70 L584.11,327.68 L584.31,327.66 L584.50,327.64 L584.70,327.64 L584.70,333.23 L584.89,333.21 L585.09,333.19 L585.28,333.17 L585.47,333.17 L585.47,333.49 L585.67,333.47 L585.86,333.45 L586.06,333.44 L586.25,333.44 L586.25,333.29 L586.45,333.27 L586.64,333.25 L586.84,333.23 L587.03,333.21 L587.23,333.21 L587.23,333.26 L587.42,333.24 L587.62,333.22 L587.81,333.21 L588.01,333.21 L588.01,333.01 L588.20,332.99 L588.40,332.97 L588.59,332.95 L588.78,332.93 L588.98,332.93 L588.98,334.03 L589.17,334.01 L589.37,333.99 L589.56,333.97 L589.76,333.97 L589.76,333.38 L589.95,333.36 L590.15,333.35 L590.34,333.33 L590.54,333.33 L590.54,331.80 L590.73,331.79 L590.93,331.77 L591.12,331.75 L591.32,331.73 L591.51,331.73 L591.51,332.21 L591.71,332.20 L591.90,332.18 L592.09,332.16 L592.29,332.16 L592.29,332.33 L592.48,332.31 L592.68,332.29 L592.87,332.27 L593.07,332.27 L593.07,331.69 L593.26,331.67 L593.46,331.66 L593.65,331.64 L593.85,331.62 L594.04,331.62 L594.04,327.39 L594.24,327.37 L594.43,327.35 L594.63,327.34 L594.82,327.34 L594.82,330.61 L595.01,330.60 L595.21,330.58 L595.40,330.56 L595.60,330.54 L595.79,330.54 L595.79,330.76 L595.99,330.74 L596.18,330.72 L596.38,330.71 L596.57,330.71 L596.57,329.96 L596.77,329.94 L596.96,329.92 L597.16,329.90 L597.35,329.90 L597.35,332.89 L597.55,332.87 L597.74,332.85 L597.94,332.84 L598.13,332.82 L598.32,332.82 L598.32,332.07 L598.52,332.06 L598.71,332.04 L598.91,332.02 L599.10,332.02 L599.10,332.25 L599.30,332.23 L599.49,332.22 L599.69,332.20 L599.88,332.20 L599.88,331.94 L600.08,331.92 L600.27,331.90 L600.47,331.89 L600.66,331.87 L600.86,331.87 L600.86,332.18 L601.05,332.17 L601.25,332.15 L601.44,332.13 L601.63,332.13 L601.63,332.40 L601.83,332.38 L602.02,332.36 L602.22,332.35 L602.41,332.35 L602.41,331.89 L602.61,331.88 L602.80,331.86 L603.00,331.84 L603.19,331.83 L603.39,331.83 L603.39,332.50 L603.58,332.49 L603.78,332.47 L603.97,332.45 L604.17,332.45 L604.17,330.18 L604.36,330.16 L604.56,330.15 L604.75,330.13 L604.94,330.11 L605.14,330.11 L605.14,332.17 L605.33,332.15 L605.53,332.14 L605.72,332.12 L605.92,332.12 L605.92,329.91 L606.11,329.89 L606.31,329.88 L606.50,329.86 L606.70,329.86 L606.70,330.75 L606.89,330.73 L607.09,330.71 L607.28,330.70 L607.48,330.68 L607.67,330.68 L607.67,329.39 L607.87,329.38 L608.06,329.36 L608.25,329.35 L608.45,329.35 L608.45,330.03 L608.64,330.02 L608.84,330.00 L609.03,329.98 L609.23,329.98 L609.23,330.22 L609.42,330.21 L609.62,330.19 L609.81,330.18 L610.01,330.16 L610.20,330.16 L610.20,331.09 L610.40,331.08 L610.59,331.06 L610.79,331.05 L610.98,331.05 L610.98,325.42 L611.18,325.41 L611.37,325.40 L611.56,325.39 L611.76,325.39 L611.76,331.41 L611.95,331.40 L612.15,331.39 L612.34,331.38 L612.54,331.36 L612.73,331.36 L612.73,328.26 L612.93,328.25 L613.12,328.23 L613.32,328.22 L613.51,328.22 L613.51,331.61 L613.71,331.59 L613.90,331.58 L614.10,331.57 L614.29,331.56 L614.48,331.56 L614.48,329.51 L614.68,329.50 L614.87,329.49 L615.07,329.48 L615.26,329.48 L615.26,322.53 L615.46,322.52 L615.65,322.51 L615.85,322.49 L616.04,322.49 L616.04,327.54 L616.24,327.53 L616.43,327.52 L616.63,327.50 L616.82,327.49 L617.02,327.49 L617.02,329.24 L617.21,329.22 L617.41,329.21 L617.60,329.20 L617.79,329.20 L617.79,329.76 L617.99,329.75 L618.18,329.73 L618.38,329.72 L618.57,329.72 L618.57,331.70 L618.77,331.69 L618.96,331.68 L619.16,331.67 L619.35,331.66 L619.55,331.66 L619.55,330.41 L619.74,330.40 L619.94,330.39 L620.13,330.38 L620.33,330.38 L620.33,329.74 L620.52,329.73 L620.72,329.71 L620.91,329.70 L621.10,329.70 L621.10,328.44 L621.30,328.43 L621.49,328.42 L621.69,328.40 L621.88,328.39 L622.08,328.39 L622.08,330.21 L622.27,330.20 L622.47,330.18 L622.66,330.17 L622.86,330.17 L622.86,327.95 L623.05,327.94 L623.25,327.93 L623.44,327.91 L623.64,327.90 L623.83,327.90 L623.83,330.93 L624.03,330.92 L624.22,330.91 L624.41,330.90 L624.61,330.90 L624.61,329.59 L624.80,329.58 L625.00,329.57 L625.19,329.56 L625.39,329.56 L625.39,329.82 L625.58,329.81 L625.78,329.80 L625.97,329.79 L626.17,329.78 L626.36,329.78 L626.36,329.64 L626.56,329.62 L626.75,329.61 L626.95,329.60 L627.14,329.60 L627.14,327.86 L627.34,327.85 L627.53,327.84 L627.72,327.83 L627.92,327.83 L627.92,330.80 L628.11,330.79 L628.31,330.78 L628.50,330.77 L628.70,330.75 L628.89,330.75 L628.89,330.26 L629.09,330.25 L629.28,330.23 L629.48,330.22 L629.67,330.22 L629.67,330.69 L629.87,330.68 L630.06,330.67 L630.26,330.65 L630.45,330.65 L630.45,329.94 L630.64,329.93 L630.84,329.92 L631.03,329.91 L631.23,329.90 L631.42,329.90 L631.42,327.73 L631.62,327.72 L631.81,327.71 L632.01,327.70 L632.20,327.70 L632.20,330.80 L632.40,330.79 L632.59,330.77 L632.79,330.76 L632.98,330.75 L633.18,330.75 L633.18,324.63 L633.37,324.62 L633.57,324.61 L633.76,324.60 L633.95,324.60 L633.95,326.51 L634.15,326.50 L634.34,326.49 L634.54,326.48 L634.73,326.48 L634.73,329.77 L634.93,329.76 L635.12,329.75 L635.32,329.74 L635.51,329.73 L635.71,329.73 L635.71,330.54 L635.90,330.53 L636.10,330.52 L636.29,330.51 L636.49,330.51 L636.49,327.91 L636.68,327.90 L636.88,327.89 L637.07,327.88 L637.26,327.88 L637.26,328.07 L637.46,328.06 L637.65,328.05 L637.85,328.04 L638.04,328.03 L638.24,328.03 L638.24,329.71 L638.43,329.70 L638.63,329.69 L638.82,329.68 L639.02,329.68 L639.02,328.22 L639.21,328.21 L639.41,328.20 L639.60,328.19 L639.80,328.18 L639.99,328.18 L639.99,329.12 L640.19,329.11 L640.38,329.10 L640.57,329.09 L640.77,329.09 L640.77,329.01 L640.96,329.00 L641.16,328.99 L641.35,328.98 L641.55,328.98 L641.55,328.27 L641.74,328.26 L641.94,328.25 L642.13,328.24 L642.33,328.23 L642.52,328.23 L642.52,329.46 L642.72,329.45 L642.91,329.44 L643.11,329.43 L643.30,329.43 L643.30,329.20 L643.50,329.19 L643.69,329.18 L643.88,329.17 L644.08,329.17 L644.08,329.58 L644.27,329.57 L644.47,329.55 L644.66,329.54 L644.86,329.53 L645.05,329.53 L645.05,327.99 L645.25,327.98 L645.44,327.97 L645.64,327.96 L645.83,327.96 L645.83,328.65 L646.03,328.64 L646.22,328.63 L646.42,328.62 L646.61,328.62 L646.61,327.07 L646.81,327.06 L647.00,327.05 L647.19,327.04 L647.39,327.03 L647.58,327.03 L647.58,328.77 L647.78,328.76 L647.97,328.75 L648.17,328.74 L648.36,328.74 L648.36,328.68 L648.56,328.67 L648.75,328.65 L648.95,328.64 L649.14,328.63 L649.34,328.63 L649.34,329.67 L649.53,329.66 L649.73,329.65 L649.92,329.64 L650.12,329.64 L650.12,327.32 L650.31,327.31 L650.50,327.30 L650.70,327.29 L650.89,327.29 L650.89,328.91 L651.09,328.89 L651.28,328.88 L651.48,328.87 L651.67,328.86 L651.87,328.86 L651.87,329.82 L652.06,329.81 L652.26,329.80 L652.45,329.79 L652.65,329.79 L652.65,323.35 L652.84,323.34 L653.04,323.33 L653.23,323.32 L653.42,323.32 L653.42,328.10 L653.62,328.09 L653.81,328.08 L654.01,328.07 L654.20,328.06 L654.40,328.06 L654.40,327.02 L654.59,327.01 L654.79,327.00 L654.98,326.99 L655.18,326.99 L655.18,328.71 L655.37,328.70 L655.57,328.69 L655.76,328.67 L655.96,328.67 L655.96,327.66 L656.15,327.65 L656.35,327.63 L656.54,327.62 L656.73,327.61 L656.93,327.61 L656.93,326.31 L657.12,326.30 L657.32,326.29 L657.51,326.28 L657.71,326.28 L657.71,329.01 L657.90,329.00 L658.10,328.99 L658.29,328.98 L658.49,328.97 L658.68,328.97 L658.68,329.16 L658.88,329.15 L659.07,329.14 L659.27,329.13 L659.46,329.13 L659.46,320.53 L659.66,320.52 L659.85,320.51 L659.85,368.66 L659.66,368.67 L659.46,368.69 L659.46,367.42 L659.27,367.42 L659.07,367.43 L658.88,367.45 L658.68,367.46 L658.68,366.95 L658.49,366.95 L658.29,366.96 L658.10,366.97 L657.90,366.98 L657.71,366.99 L657.71,366.16 L657.51,366.16 L657.32,366.17 L657.12,366.19 L656.93,366.20 L656.93,368.39 L656.73,368.39 L656.54,368.40 L656.35,368.41 L656.15,368.42 L655.96,368.43 L655.96,366.90 L655.76,366.90 L655.57,366.91 L655.37,366.92 L655.18,366.94 L655.18,369.60 L654.98,369.60 L654.79,369.62 L654.59,369.63 L654.40,369.64 L654.40,369.26 L654.20,369.26 L654.01,369.27 L653.81,369.28 L653.62,369.29 L653.42,369.30 L653.42,372.41 L653.23,372.41 L653.04,372.42 L652.84,372.43 L652.65,372.44 L652.65,369.26 L652.45,369.26 L652.26,369.27 L652.06,369.28 L651.87,369.29 L651.87,367.40 L651.67,367.40 L651.48,367.41 L651.28,367.42 L651.09,367.43 L650.89,367.44 L650.89,367.26 L650.70,367.26 L650.50,367.27 L650.31,367.29 L650.12,367.30 L650.12,366.51 L649.92,366.51 L649.73,366.53 L649.53,366.54 L649.34,366.55 L649.34,369.76 L649.14,369.76 L648.95,369.77 L648.75,369.79 L648.56,369.80 L648.36,369.81 L648.36,366.69 L648.17,366.69 L647.97,366.70 L647.78,366.72 L647.58,366.73 L647.58,367.17 L647.39,367.17 L647.19,367.18 L647.00,367.19 L646.81,367.20 L646.61,367.21 L646.61,370.59 L646.42,370.59 L646.22,370.60 L646.03,370.61 L645.83,370.62 L645.83,370.78 L645.64,370.78 L645.44,370.80 L645.25,370.81 L645.05,370.82 L645.05,370.78 L644.86,370.78 L644.66,370.79 L644.47,370.80 L644.27,370.81 L644.08,370.82 L644.08,367.46 L643.88,367.46 L643.69,367.47 L643.50,367.48 L643.30,367.49 L643.30,370.03 L643.11,370.03 L642.91,370.05 L642.72,370.06 L642.52,370.07 L642.52,371.68 L642.33,371.68 L642.13,371.69 L641.94,371.71 L641.74,371.72 L641.55,371.73 L641.55,367.41 L641.35,367.41 L641.16,367.42 L640.96,367.43 L640.77,367.44 L640.77,367.40 L640.57,367.40 L640.38,367.41 L640.19,367.42 L639.99,367.43 L639.99,367.59 L639.80,367.59 L639.60,367.60 L639.41,367.61 L639.21,367.62 L639.02,367.63 L639.02,369.32 L638.82,369.32 L638.63,369.33 L638.43,369.34 L638.24,369.35 L638.24,369.80 L638.04,369.80 L637.85,369.81 L637.65,369.82 L637.46,369.83 L637.26,369.84 L637.26,369.19 L637.07,369.19 L636.88,369.20 L636.68,369.21 L636.49,369.22 L636.49,371.24 L636.29,371.24 L636.10,371.25 L635.90,371.26 L635.71,371.27 L635.71,369.93 L635.51,369.93 L635.32,369.94 L635.12,369.95 L634.93,369.96 L634.73,369.97 L634.73,373.84 L634.54,373.84 L634.34,373.85 L634.15,373.86 L633.95,373.87 L633.95,368.69 L633.76,368.69 L633.57,368.70 L633.37,368.71 L633.18,368.72 L633.18,369.01 L632.98,369.01 L632.79,369.02 L632.59,369.03 L632.40,369.04 L632.20,369.05 L632.20,369.91 L632.01,369.91 L631.81,369.92 L631.62,369.93 L631.42,369.94 L631.42,368.80 L631.23,368.80 L631.03,368.81 L630.84,368.82 L630.64,368.84 L630.45,368.85 L630.45,368.06 L630.26,368.06 L630.06,368.07 L629.87,368.08 L629.67,368.10 L629.67,372.40 L629.48,372.40 L629.28,372.41 L629.09,372.42 L628.89,372.43 L628.89,370.04 L628.70,370.04 L628.50,370.05 L628.31,370.06 L628.11,370.07 L627.92,370.08 L627.92,369.25 L627.72,369.25 L627.53,369.26 L627.34,369.27 L627.14,369.28 L627.14,368.76 L626.95,368.76 L626.75,368.78 L626.56,368.79 L626.36,368.80 L626.36,369.13 L626.17,369.13 L625.97,369.15 L625.78,369.16 L625.58,369.17 L625.39,369.18 L625.39,370.80 L625.19,370.80 L625.00,370.81 L624.80,370.82 L624.61,370.83 L624.61,371.21 L624.41,371.21 L624.22,371.22 L624.03,371.23 L623.83,371.24 L623.83,369.11 L623.64,369.11 L623.44,369.12 L623.25,369.13 L623.05,369.14 L622.86,369.15 L622.86,368.69 L622.66,368.69 L622.47,368.70 L622.27,368.72 L622.08,368.73 L622.08,368.74 L621.88,368.74 L621.69,368.75 L621.49,368.77 L621.30,368.78 L621.10,368.79 L621.10,368.56 L620.91,368.56 L620.72,368.57 L620.52,368.58 L620.33,368.60 L620.33,375.83 L620.13,375.83 L619.94,375.84 L619.74,375.85 L619.55,375.87 L619.55,369.28 L619.35,369.28 L619.16,369.29 L618.96,369.30 L618.77,369.31 L618.57,369.33 L618.57,374.16 L618.38,374.16 L618.18,374.17 L617.99,374.18 L617.79,374.19 L617.79,369.95 L617.60,369.95 L617.41,369.96 L617.21,369.97 L617.02,369.99 L617.02,369.63 L616.82,369.63 L616.63,369.65 L616.43,369.66 L616.24,369.67 L616.04,369.68 L616.04,370.45 L615.85,370.45 L615.65,370.46 L615.46,370.47 L615.26,370.49 L615.26,373.35 L615.07,373.35 L614.87,373.36 L614.68,373.37 L614.48,373.39 L614.48,372.03 L614.29,372.03 L614.10,372.05 L613.90,372.06 L613.71,372.07 L613.51,372.08 L613.51,369.97 L613.32,369.97 L613.12,369.98 L612.93,369.99 L612.73,370.00 L612.73,368.67 L612.54,368.67 L612.34,368.69 L612.15,368.70 L611.95,368.71 L611.76,368.72 L611.76,370.62 L611.56,370.62 L611.37,370.63 L611.18,370.64 L610.98,370.65 L610.98,371.76 L610.79,371.76 L610.59,371.78 L610.40,371.79 L610.20,371.80 L610.20,378.05 L610.01,378.05 L609.81,378.06 L609.62,378.08 L609.42,378.10 L609.23,378.11 L609.23,369.23 L609.03,369.23 L608.84,369.25 L608.64,369.27 L608.45,369.28 L608.45,370.93 L608.25,370.93 L608.06,370.94 L607.87,370.96 L607.67,370.98 L607.67,369.62 L607.48,369.62 L607.28,369.63 L607.09,369.65 L606.89,369.66 L606.70,369.68 L606.70,370.26 L606.50,370.26 L606.31,370.28 L606.11,370.29 L605.92,370.31 L605.92,373.28 L605.72,373.28 L605.53,373.30 L605.33,373.31 L605.14,373.33 L605.14,372.11 L604.94,372.11 L604.75,372.12 L604.56,372.14 L604.36,372.16 L604.17,372.17 L604.17,374.74 L603.97,374.74 L603.78,374.76 L603.58,374.77 L603.39,374.79 L603.39,369.47 L603.19,369.47 L603.00,369.49 L602.80,369.51 L602.61,369.52 L602.41,369.54 L602.41,370.46 L602.22,370.46 L602.02,370.48 L601.83,370.50 L601.63,370.51 L601.63,370.22 L601.44,370.22 L601.25,370.24 L601.05,370.26 L600.86,370.27 L600.86,370.22 L600.66,370.22 L600.47,370.23 L600.27,370.25 L600.08,370.27 L599.88,370.29 L599.88,373.44 L599.69,373.44 L599.49,373.46 L599.30,373.47 L599.10,373.49 L599.10,371.71 L598.91,371.71 L598.71,371.73 L598.52,371.74 L598.32,371.76 L598.32,373.50 L598.13,373.50 L597.94,373.52 L597.74,373.54 L597.55,373.55 L597.35,373.57 L597.35,370.86 L597.16,370.86 L596.96,370.88 L596.77,370.89 L596.57,370.91 L596.57,372.03 L596.38,372.03 L596.18,372.05 L595.99,372.07 L595.79,372.09 L595.79,370.58 L595.60,370.58 L595.40,370.60 L595.21,370.61 L595.01,370.63 L594.82,370.65 L594.82,372.94 L594.63,372.94 L594.43,372.96 L594.24,372.97 L594.04,372.99 L594.04,372.01 L593.85,372.01 L593.65,372.03 L593.46,372.04 L593.26,372.06 L593.07,372.08 L593.07,371.74 L592.87,371.74 L592.68,371.76 L592.48,371.78 L592.29,371.80 L592.29,375.68 L592.09,375.68 L591.90,375.70 L591.71,375.72 L591.51,375.74 L591.51,371.94 L591.32,371.94 L591.12,371.96 L590.93,371.98 L590.73,371.99 L590.54,372.01 L590.54,371.54 L590.34,371.54 L590.15,371.56 L589.95,371.57 L589.76,371.59 L589.76,375.92 L589.56,375.92 L589.37,375.94 L589.17,375.96 L588.98,375.98 L588.98,372.26 L588.78,372.26 L588.59,372.27 L588.40,372.29 L588.20,372.31 L588.01,372.33 L588.01,373.59 L587.81,373.59 L587.62,373.61 L587.42,373.63 L587.23,373.64 L587.23,382.86 L587.03,382.86 L586.84,382.88 L586.64,382.90 L586.45,382.92 L586.25,382.94 L586.25,372.02 L586.06,372.02 L585.86,372.03 L585.67,372.05 L585.47,372.07 L585.47,371.08 L585.28,371.08 L585.09,371.10 L584.89,371.11 L584.70,371.13 L584.70,371.89 L584.50,371.89 L584.31,371.91 L584.11,371.93 L583.92,371.95 L583.72,371.97 L583.72,371.11 L583.53,371.11 L583.33,371.13 L583.14,371.15 L582.94,371.17 L582.94,373.13 L582.75,373.13 L582.55,373.15 L582.36,373.17 L582.16,373.19 L582.16,373.20 L581.97,373.20 L581.78,373.22 L581.58,373.24 L581.39,373.26 L581.19,373.28 L581.19,375.10 L581.00,375.10 L580.80,375.12 L580.61,375.14 L580.41,375.16 L580.41,371.81 L580.22,371.81 L580.02,371.83 L579.83,371.85 L579.63,371.87 L579.63,373.13 L579.44,373.13 L579.24,373.15 L579.05,373.17 L578.85,373.19 L578.66,373.21 L578.66,374.63 L578.47,374.63 L578.27,374.65 L578.08,374.67 L577.88,374.69 L577.88,371.96 L577.69,371.96 L577.49,371.98 L577.30,372.00 L577.10,372.02 L576.91,372.04 L576.91,372.30 L576.71,372.30 L576.52,372.32 L576.32,372.34 L576.13,372.36 L576.13,373.56 L575.93,373.56 L575.74,373.58 L575.54,373.60 L575.35,373.62 L575.35,373.33 L575.16,373.33 L574.96,373.35 L574.77,373.37 L574.57,373.39 L574.38,373.41 L574.38,374.11 L574.18,374.11 L573.99,374.14 L573.79,374.16 L573.60,374.18 L573.60,372.48 L573.40,372.48 L573.21,372.50 L573.01,372.52 L572.82,372.54 L572.82,372.69 L572.62,372.69 L572.43,372.71 L572.24,372.73 L572.04,372.75 L571.85,372.77 L571.85,375.53 L571.65,375.53 L571.46,375.55 L571.26,375.57 L571.07,375.59 L571.07,372.77 L570.87,372.77 L570.68,372.79 L570.48,372.81 L570.29,372.83 L570.29,372.49 L570.09,372.49 L569.90,372.51 L569.70,372.53 L569.51,372.55 L569.31,372.57 L569.31,374.52 L569.12,374.52 L568.93,374.54 L568.73,374.56 L568.54,374.58 L568.54,373.60 L568.34,373.60 L568.15,373.62 L567.95,373.64 L567.76,373.66 L567.56,373.69 L567.56,380.99 L567.37,380.99 L567.17,381.02 L566.98,381.04 L566.78,381.06 L566.78,373.07 L566.59,373.07 L566.39,373.09 L566.20,373.11 L566.00,373.13 L566.00,376.26 L565.81,376.26 L565.62,376.28 L565.42,376.31 L565.23,376.33 L565.03,376.35 L565.03,375.07 L564.84,375.07 L564.64,375.09 L564.45,375.11 L564.25,375.13 L564.25,373.64 L564.06,373.64 L563.86,373.67 L563.67,373.69 L563.47,373.71 L563.47,375.02 L563.28,375.02 L563.08,375.04 L562.89,375.07 L562.69,375.09 L562.50,375.11 L562.50,377.66 L562.31,377.66 L562.11,377.68 L561.92,377.71 L561.72,377.73 L561.72,374.40 L561.53,374.40 L561.33,374.43 L561.14,374.45 L560.94,374.47 L560.94,375.13 L560.75,375.13 L560.55,375.15 L560.36,375.17 L560.16,375.19 L559.97,375.22 L559.97,375.95 L559.77,375.95 L559.58,375.97 L559.38,375.99 L559.19,376.02 L559.19,377.17 L559.00,377.17 L558.80,377.20 L558.61,377.22 L558.41,377.24 L558.22,377.27 L558.22,374.50 L558.02,374.50 L557.83,374.53 L557.63,374.55 L557.44,374.57 L557.44,374.64 L557.24,374.64 L557.05,374.66 L556.85,374.69 L556.66,374.71 L556.66,374.84 L556.46,374.84 L556.27,374.87 L556.07,374.89 L555.88,374.92 L555.69,374.94 L555.69,376.49 L555.49,376.49 L555.30,376.51 L555.10,376.53 L554.91,376.56 L554.91,376.32 L554.71,376.32 L554.52,376.35 L554.32,376.37 L554.13,376.40 L554.13,377.61 L553.93,377.61 L553.74,377.63 L553.54,377.66 L553.35,377.68 L553.15,377.71 L553.15,374.68 L552.96,374.68 L552.76,374.70 L552.57,374.73 L552.38,374.75 L552.38,379.16 L552.18,379.16 L551.99,379.19 L551.79,379.21 L551.60,379.24 L551.40,379.26 L551.40,378.67 L551.21,378.67 L551.01,378.69 L550.82,378.72 L550.62,378.74 L550.62,378.57 L550.43,378.57 L550.23,378.60 L550.04,378.62 L549.84,378.65 L549.84,375.61 L549.65,375.61 L549.46,375.63 L549.26,375.66 L549.07,375.69 L548.87,375.71 L548.87,378.97 L548.68,378.97 L548.48,378.99 L548.29,379.02 L548.09,379.05 L548.09,378.97 L547.90,378.97 L547.70,378.99 L547.51,379.02 L547.31,379.05 L547.31,375.47 L547.12,375.47 L546.92,375.49 L546.73,375.52 L546.53,375.54 L546.34,375.57 L546.34,378.04 L546.15,378.04 L545.95,378.06 L545.76,378.09 L545.56,378.11 L545.56,375.88 L545.37,375.88 L545.17,375.90 L544.98,375.93 L544.78,375.96 L544.78,378.76 L544.59,378.76 L544.39,378.79 L544.20,378.81 L544.00,378.84 L543.81,378.87 L543.81,376.17 L543.61,376.17 L543.42,376.19 L543.22,376.22 L543.03,376.25 L543.03,376.35 L542.84,376.35 L542.64,376.38 L542.45,376.41 L542.25,376.43 L542.06,376.46 L542.06,378.30 L541.86,378.30 L541.67,378.32 L541.47,378.35 L541.28,378.38 L541.28,376.99 L541.08,376.99 L540.89,377.02 L540.69,377.05 L540.50,377.08 L540.50,376.46 L540.30,376.46 L540.11,376.49 L539.91,376.52 L539.72,376.54 L539.53,376.57 L539.53,377.04 L539.33,377.04 L539.14,377.06 L538.94,377.09 L538.75,377.12 L538.75,377.43 L538.55,377.43 L538.36,377.46 L538.16,377.49 L537.97,377.51 L537.97,379.15 L537.77,379.15 L537.58,379.18 L537.38,379.21 L537.19,379.24 L536.99,379.26 L536.99,377.96 L536.80,377.96 L536.60,377.98 L536.41,378.01 L536.22,378.04 L536.22,377.38 L536.02,377.38 L535.83,377.41 L535.63,377.44 L535.44,377.47 L535.44,380.45 L535.24,380.45 L535.05,380.48 L534.85,380.51 L534.66,380.54 L534.46,380.57 L534.46,377.81 L534.27,377.81 L534.07,377.84 L533.88,377.86 L533.68,377.89 L533.68,380.21 L533.49,380.21 L533.30,380.24 L533.10,380.27 L532.91,380.30 L532.71,380.33 L532.71,382.18 L532.52,382.18 L532.32,382.21 L532.13,382.24 L531.93,382.27 L531.93,378.54 L531.74,378.54 L531.54,378.57 L531.35,378.60 L531.15,378.63 L531.15,378.04 L530.96,378.04 L530.76,378.07 L530.57,378.10 L530.37,378.13 L530.18,378.16 L530.18,382.82 L529.99,382.82 L529.79,382.85 L529.60,382.88 L529.40,382.91 L529.40,378.24 L529.21,378.24 L529.01,378.27 L528.82,378.30 L528.62,378.33 L528.62,382.22 L528.43,382.22 L528.23,382.25 L528.04,382.28 L527.84,382.32 L527.65,382.35 L527.65,380.40 L527.45,380.40 L527.26,380.43 L527.06,380.46 L526.87,380.49 L526.87,379.42 L526.68,379.42 L526.48,379.45 L526.29,379.48 L526.09,379.51 L526.09,384.00 L525.90,384.00 L525.70,384.03 L525.51,384.06 L525.31,384.10 L525.12,384.13 L525.12,383.07 L524.92,383.07 L524.73,383.10 L524.53,383.14 L524.34,383.17 L524.34,380.94 L524.14,380.94 L523.95,380.97 L523.75,381.00 L523.56,381.03 L523.37,381.06 L523.37,379.71 L523.17,379.71 L522.98,379.74 L522.78,379.78 L522.59,379.81 L522.59,379.65 L522.39,379.65 L522.20,379.68 L522.00,379.71 L521.81,379.74 L521.81,380.94 L521.61,380.94 L521.42,380.97 L521.22,381.00 L521.03,381.03 L520.83,381.07 L520.83,379.98 L520.64,379.98 L520.44,380.01 L520.25,380.04 L520.06,380.07 L520.06,380.24 L519.86,380.24 L519.67,380.27 L519.47,380.31 L519.28,380.34 L519.28,380.67 L519.08,380.67 L518.89,380.70 L518.69,380.74 L518.50,380.77 L518.30,380.80 L518.30,382.37 L518.11,382.37 L517.91,382.40 L517.72,382.43 L517.52,382.47 L517.52,383.74 L517.33,383.74 L517.13,383.77 L516.94,383.81 L516.75,383.84 L516.55,383.88 L516.55,380.23 L516.36,380.23 L516.16,380.27 L515.97,380.30 L515.77,380.34 L515.77,384.23 L515.58,384.23 L515.38,384.27 L515.19,384.30 L514.99,384.33 L514.99,381.16 L514.80,381.16 L514.60,381.19 L514.41,381.22 L514.21,381.26 L514.02,381.29 L514.02,381.08 L513.83,381.08 L513.63,381.12 L513.44,381.15 L513.24,381.19 L513.24,385.70 L513.05,385.70 L512.85,385.74 L512.66,385.77 L512.46,385.81 L512.46,384.61 L512.27,384.61 L512.07,384.65 L511.88,384.68 L511.68,384.72 L511.49,384.75 L511.49,381.43 L511.29,381.43 L511.10,381.47 L510.90,381.51 L510.71,381.54 L510.71,384.87 L510.52,384.87 L510.32,384.90 L510.13,384.94 L509.93,384.97 L509.93,384.03 L509.74,384.03 L509.54,384.07 L509.35,384.10 L509.15,384.14 L508.96,384.18 L508.96,381.69 L508.76,381.69 L508.57,381.72 L508.37,381.76 L508.18,381.80 L508.18,382.09 L507.98,382.09 L507.79,382.13 L507.59,382.16 L507.40,382.20 L507.21,382.24 L507.21,384.26 L507.01,384.26 L506.82,384.30 L506.62,384.33 L506.43,384.37 L506.43,382.24 L506.23,382.24 L506.04,382.27 L505.84,382.31 L505.65,382.35 L505.65,383.71 L505.45,383.71 L505.26,383.75 L505.06,383.79 L504.87,383.82 L504.67,383.86 L504.67,383.20 L504.48,383.20 L504.28,383.23 L504.09,383.27 L503.90,383.31 L503.90,387.53 L503.70,387.53 L503.51,387.57 L503.31,387.61 L503.12,387.64 L503.12,384.19 L502.92,384.19 L502.73,384.23 L502.53,384.27 L502.34,384.31 L502.14,384.35 L502.14,387.74 L501.95,387.74 L501.75,387.78 L501.56,387.82 L501.36,387.86 L501.36,387.20 L501.17,387.20 L500.97,387.24 L500.78,387.28 L500.59,387.31 L500.59,384.01 L500.39,384.01 L500.20,384.05 L500.00,384.09 L499.81,384.13 L499.61,384.16 L499.61,383.92 L499.42,383.92 L499.22,383.95 L499.03,383.99 L498.83,384.02 L498.83,384.40 L498.64,384.40 L498.44,384.43 L498.25,384.47 L498.05,384.51 L497.86,384.54 L497.86,386.02 L497.66,386.02 L497.47,386.06 L497.28,386.09 L497.08,386.13 L497.08,385.38 L496.89,385.38 L496.69,385.41 L496.50,385.45 L496.30,385.48 L496.30,384.50 L496.11,384.50 L495.91,384.54 L495.72,384.57 L495.52,384.61 L495.33,384.65 L495.33,384.97 L495.13,384.97 L494.94,385.00 L494.74,385.04 L494.55,385.08 L494.55,386.58 L494.36,386.58 L494.16,386.62 L493.97,386.66 L493.77,386.70 L493.77,386.96 L493.58,386.96 L493.38,387.00 L493.19,387.04 L492.99,387.07 L492.80,387.11 L492.80,387.11 L492.60,387.11 L492.41,387.15 L492.21,387.19 L492.02,387.23 L492.02,386.36 L491.82,386.36 L491.63,386.40 L491.43,386.44 L491.24,386.48 L491.24,387.04 L491.05,387.04 L490.85,387.08 L490.66,387.11 L490.46,387.15 L490.27,387.19 L490.27,385.40 L490.07,385.40 L489.88,385.44 L489.68,385.48 L489.49,385.52 L489.49,387.55 L489.29,387.55 L489.10,387.59 L488.90,387.63 L488.71,387.68 L488.51,387.72 L488.51,390.78 L488.32,390.78 L488.12,390.82 L487.93,390.86 L487.74,390.90 L487.74,385.86 L487.54,385.86 L487.35,385.91 L487.15,385.95 L486.96,385.99 L486.96,385.58 L486.76,385.58 L486.57,385.62 L486.37,385.66 L486.18,385.70 L485.98,385.75 L485.98,387.91 L485.79,387.91 L485.59,387.95 L485.40,387.99 L485.20,388.03 L485.20,387.97 L485.01,387.97 L484.81,388.01 L484.62,388.06 L484.43,388.10 L484.43,387.60 L484.23,387.60 L484.04,387.65 L483.84,387.69 L483.65,387.73 L483.45,387.78 L483.45,386.80 L483.26,386.80 L483.06,386.84 L482.87,386.89 L482.67,386.93 L482.67,392.38 L482.48,392.38 L482.28,392.42 L482.09,392.47 L481.89,392.51 L481.89,387.63 L481.70,387.63 L481.50,387.67 L481.31,387.72 L481.12,387.76 L480.92,387.81 L480.92,387.48 L480.73,387.48 L480.53,387.52 L480.34,387.57 L480.14,387.62 L480.14,391.56 L479.95,391.56 L479.75,391.60 L479.56,391.65 L479.36,391.70 L479.17,391.75 L479.17,387.66 L478.97,387.66 L478.78,387.71 L478.58,387.75 L478.39,387.80 L478.39,391.07 L478.19,391.07 L478.00,391.12 L477.81,391.17 L477.61,391.22 L477.61,388.84 L477.42,388.84 L477.22,388.89 L477.03,388.94 L476.83,388.99 L476.64,389.04 L476.64,389.92 L476.44,389.92 L476.25,389.97 L476.05,390.02 L475.86,390.07 L475.86,389.81 L475.66,389.81 L475.47,389.86 L475.27,389.91 L475.08,389.96 L475.08,389.05 L474.88,389.05 L474.69,389.11 L474.50,389.16 L474.30,389.21 L474.11,389.26 L474.11,390.74 L473.91,390.74 L473.72,390.79 L473.52,390.85 L473.33,390.90 L473.33,391.94 L473.13,391.94 L472.94,391.99 L472.74,392.05 L472.55,392.10 L472.35,392.15 L472.35,389.76 L472.16,389.76 L471.96,389.82 L471.77,389.87 L471.58,389.93 L471.58,389.76 L471.38,389.76 L471.19,389.82 L470.99,389.87 L470.80,389.93 L470.80,389.62 L470.60,389.62 L470.41,389.68 L470.21,389.74 L470.02,389.79 L469.82,389.85 L469.82,391.93 L469.63,391.93 L469.43,391.99 L469.24,392.05 L469.04,392.11 L469.04,394.91 L468.85,394.91 L468.65,394.97 L468.46,395.03 L468.27,395.09 L468.27,391.38 L468.07,391.38 L467.88,391.44 L467.68,391.49 L467.49,391.55 L467.29,391.61 L467.29,394.27 L467.10,394.27 L466.90,394.33 L466.71,394.39 L466.51,394.45 L466.51,397.11 L466.32,397.11 L466.12,397.17 L465.93,397.23 L465.73,397.30 L465.73,391.23 L465.54,391.23 L465.34,391.30 L465.15,391.36 L464.96,391.42 L464.76,391.48 L464.76,392.01 L464.57,392.01 L464.37,392.07 L464.18,392.14 L463.98,392.20 L463.98,393.85 L463.79,393.85 L463.59,393.92 L463.40,393.98 L463.20,394.04 L463.01,394.11 L463.01,392.61 L462.81,392.61 L462.62,392.68 L462.42,392.74 L462.23,392.81 L462.23,392.95 L462.03,392.95 L461.84,393.02 L461.65,393.08 L461.45,393.15 L461.45,393.75 L461.26,393.75 L461.06,393.82 L460.87,393.89 L460.67,393.96 L460.48,394.02 L460.48,395.95 L460.28,395.95 L460.09,396.02 L459.89,396.09 L459.70,396.16 L459.70,398.35 L459.50,398.35 L459.31,398.42 L459.11,398.49 L458.92,398.56 L458.92,396.97 L458.72,396.97 L458.53,397.04 L458.34,397.11 L458.14,397.18 L457.95,397.25 L457.95,396.63 L457.75,396.63 L457.56,396.71 L457.36,396.78 L457.17,396.85 L457.17,396.04 L456.97,396.04 L456.78,396.12 L456.58,396.19 L456.39,396.26 L456.39,394.47 L456.19,394.47 L456.00,394.55 L455.80,394.62 L455.61,394.70 L455.42,394.77 L455.42,394.94 L455.22,394.94 L455.03,395.01 L454.83,395.09 L454.64,395.17 L454.64,396.05 L454.44,396.05 L454.25,396.13 L454.05,396.21 L453.86,396.29 L453.66,396.37 L453.66,402.27 L453.47,402.27 L453.27,402.35 L453.08,402.43 L452.88,402.51 L452.88,395.87 L452.69,395.87 L452.49,395.95 L452.30,396.03 L452.11,396.11 L452.11,398.76 L451.91,398.76 L451.72,398.84 L451.52,398.93 L451.33,399.01 L451.13,399.09 L451.13,396.60 L450.94,396.60 L450.74,396.69 L450.55,396.77 L450.35,396.85 L450.35,398.37 L450.16,398.37 L449.96,398.45 L449.77,398.53 L449.57,398.62 L449.57,400.04 L449.38,400.04 L449.18,400.12 L448.99,400.21 L448.80,400.30 L448.60,400.38 L448.60,399.30 L448.41,399.30 L448.21,399.39 L448.02,399.47 L447.82,399.56 L447.82,400.33 L447.63,400.33 L447.43,400.42 L447.24,400.51 L447.04,400.60 L447.04,401.24 L446.85,401.24 L446.65,401.33 L446.46,401.42 L446.26,401.51 L446.07,401.60 L446.07,402.17 L445.87,402.17 L445.68,402.26 L445.49,402.35 L445.29,402.44 L445.29,399.47 L445.10,399.47 L444.90,399.56 L444.71,399.66 L444.51,399.75 L444.32,399.85 L444.32,400.74 L444.12,400.74 L443.93,400.84 L443.73,400.93 L443.54,401.03 L443.54,401.60 L443.34,401.60 L443.15,401.70 L442.95,401.79 L442.76,401.89 L442.76,403.92 L442.56,403.92 L442.37,404.02 L442.18,404.12 L441.98,404.22 L441.79,404.31 L441.79,404.69 L441.59,404.69 L441.40,404.79 L441.20,404.89 L441.01,404.99 L441.01,403.31 L440.81,403.31 L440.62,403.41 L440.42,403.51 L440.23,403.62 L440.23,402.10 L440.03,402.10 L439.84,402.20 L439.64,402.30 L439.45,402.40 L439.25,402.51 L439.25,404.59 L439.06,404.59 L438.87,404.70 L438.67,404.80 L438.48,404.91 L438.48,404.18 L438.28,404.18 L438.09,404.28 L437.89,404.39 L437.70,404.50 L437.50,404.60 L437.50,406.34 L437.31,406.34 L437.11,406.45 L436.92,406.56 L436.72,406.67 L436.72,404.58 L436.53,404.58 L436.33,404.69 L436.14,404.80 L435.95,404.91 L435.95,410.67 L435.75,410.67 L435.56,410.78 L435.36,410.89 L435.17,411.00 L434.97,411.11 L434.97,404.63 L434.78,404.63 L434.58,404.75 L434.39,404.86 L434.19,404.97 L434.19,407.41 L434.00,407.41 L433.80,407.52 L433.61,407.64 L433.41,407.75 L433.41,405.68 L433.22,405.68 L433.02,405.80 L432.83,405.91 L432.64,406.03 L432.44,406.14 L432.44,407.27 L432.25,407.27 L432.05,407.38 L431.86,407.50 L431.66,407.62 L431.66,409.47 L431.47,409.47 L431.27,409.59 L431.08,409.71 L430.88,409.83 L430.88,408.59 L430.69,408.59 L430.49,408.71 L430.30,408.83 L430.10,408.95 L429.91,409.07 L429.91,407.93 L429.71,407.93 L429.52,408.05 L429.33,408.17 L429.13,408.30 L429.13,409.11 L428.94,409.11 L428.74,409.24 L428.55,409.36 L428.35,409.49 L428.16,409.61 L428.16,408.69 L427.96,408.69 L427.77,408.82 L427.57,408.94 L427.38,409.07 L427.38,411.59 L427.18,411.59 L426.99,411.72 L426.79,411.85 L426.60,411.98 L426.60,412.38 L426.40,412.38 L426.21,412.51 L426.02,412.64 L425.82,412.77 L425.63,412.90 L425.63,414.23 L425.43,414.23 L425.24,414.36 L425.04,414.49 L424.85,414.62 L424.85,412.60 L424.65,412.60 L424.46,412.73 L424.26,412.86 L424.07,412.99 L424.07,412.46 L423.87,412.46 L423.68,412.60 L423.48,412.73 L423.29,412.86 L423.09,413.00 L423.09,414.08 L422.90,414.08 L422.71,414.22 L422.51,414.35 L422.32,414.49 L422.32,415.08 L422.12,415.08 L421.93,415.21 L421.73,415.35 L421.54,415.49 L421.54,414.30 L421.34,414.30 L421.15,414.44 L420.95,414.58 L420.76,414.72 L420.56,414.86 L420.56,415.08 L420.37,415.08 L420.17,415.22 L419.98,415.36 L419.78,415.51 L419.78,417.42 L419.59,417.42 L419.40,417.56 L419.20,417.71 L419.01,417.85 L418.81,418.00 L418.81,418.32 L418.62,418.32 L418.42,418.46 L418.23,418.61 L418.03,418.76 L418.03,416.12 L417.84,416.12 L417.64,416.27 L417.45,416.42 L417.25,416.57 L417.25,421.00 L417.06,421.00 L416.86,421.15 L416.67,421.31 L416.48,421.46 L416.28,421.62 L416.28,419.35 L416.09,419.35 L415.89,419.51 L415.70,419.67 L415.50,419.84 L415.50,419.54 L415.31,419.54 L415.11,419.71 L414.92,419.88 L414.72,420.06 L414.72,418.86 L414.53,418.86 L414.33,419.04 L414.14,419.23 L413.94,419.42 L413.75,419.62 L413.75,421.90 L413.55,421.90 L413.36,422.11 L413.17,422.32 L412.97,422.53 L412.97,420.58 L412.78,420.58 L412.58,420.81 L412.39,421.04 L412.19,421.28 L412.19,422.13 L412.00,422.13 L411.80,422.37 L411.61,422.63 L411.41,422.89 L411.22,423.16 L411.22,424.65 L411.02,424.65 L410.83,424.93 L410.63,425.22 L410.44,425.52 L410.44,425.33 L410.24,425.33 L410.05,425.64 L409.86,425.96 L409.66,426.28 L409.47,426.62 L409.47,425.44 L409.27,425.44 L409.08,425.79 L408.88,426.15 L408.69,426.52 L408.69,426.91 L408.49,426.91 L408.30,427.30 L408.10,427.70 L407.91,428.11 L407.91,429.27 L407.71,429.27 L407.52,429.70 L407.32,430.14 L407.13,430.43 L406.93,429.54 L406.93,429.53 L406.74,429.53 L406.55,428.64 L406.35,427.74 L406.16,426.85 L406.16,425.38 L405.96,425.38 L405.77,424.48 L405.57,423.59 L405.38,422.69 L405.38,424.87 L405.18,424.87 L404.99,423.98 L404.79,423.08 L404.60,422.18 L404.40,421.29 L404.40,419.24 L404.21,419.24 L404.01,418.34 L403.82,417.45 L403.62,416.55 L403.62,413.56 L403.43,413.56 L403.24,412.67 L403.04,411.77 L402.85,410.87 L402.65,409.98 L402.65,408.28 L402.46,408.28 L402.26,407.38 L402.07,406.49 L401.87,405.59 L401.87,405.18 L401.68,405.18 L401.48,404.29 L401.29,403.39 L401.09,402.49 L401.09,401.87 L400.90,401.87 L400.70,400.97 L400.51,400.08 L400.31,399.18 L400.12,398.29 L400.12,398.31 L399.93,398.31 L399.73,397.41 L399.54,396.52 L399.34,395.62 L399.34,394.93 L399.15,394.93 L398.95,394.03 L398.76,393.13 L398.56,392.24 L398.56,389.99 L398.37,389.99 L398.17,389.10 L397.98,388.20 L397.78,387.30 L397.59,386.41 L397.59,385.12 L397.39,385.12 L397.20,384.22 L397.00,383.32 L396.81,382.43 L396.81,383.69 L396.62,383.69 L396.42,382.79 L396.23,381.90 L396.03,381.00 L396.03,378.30 L395.84,378.30 L395.64,377.40 L395.45,376.51 L395.25,375.61 L395.06,374.72 L395.06,373.86 L394.86,373.86 L394.67,372.97 L394.47,372.07 L394.28,371.18 L394.28,373.16 L394.08,373.16 L393.89,372.26 L393.70,371.37 L393.50,370.47 L393.31,369.57 L393.31,365.75 L393.11,365.75 L392.92,364.86 L392.72,363.96 L392.53,363.06 L392.53,366.30 L392.33,366.30 L392.14,365.40 L391.94,364.51 L391.75,363.61 L391.75,365.00 L391.55,365.00 L391.36,364.10 L391.16,363.20 L390.97,362.31 L390.77,361.41 L390.77,354.50 L390.58,354.50 L390.39,353.60 L390.19,352.70 L390.00,351.81 L390.00,353.20 L389.80,353.20 L389.61,352.31 L389.41,351.41 L389.22,350.52 L389.22,347.22 L389.02,347.22 L388.83,346.33 L388.63,345.43 L388.44,345.28 L388.24,345.28 L388.24,344.91 L388.05,344.91 L387.85,344.91 L387.66,344.91 L387.46,344.91 L387.46,346.47 L387.27,346.47 L387.08,346.47 L386.88,346.47 L386.69,346.47 L386.69,348.39 L386.49,348.39 L386.30,348.39 L386.10,348.39 L385.91,348.39 L385.71,348.39 L385.71,345.16 L385.52,345.16 L385.32,345.16 L385.13,345.16 L384.93,345.16 L384.93,344.55 L384.74,344.55 L384.54,344.55 L384.35,344.55 L384.15,344.55 L383.96,344.55 L383.96,347.11 L383.77,347.11 L383.57,347.11 L383.38,347.11 L383.18,347.11 L383.18,345.54 L382.99,345.54 L382.79,345.54 L382.60,345.54 L382.40,345.54 L382.40,346.01 L382.21,346.01 L382.01,346.01 L381.82,346.01 L381.62,346.01 L381.43,346.01 L381.43,344.83 L381.23,344.83 L381.04,344.83 L380.84,344.83 L380.65,344.83 L380.65,344.68 L380.46,344.68 L380.26,344.68 L380.07,344.68 L379.87,344.68 L379.87,344.59 L379.68,344.59 L379.48,344.59 L379.29,344.59 L379.09,344.59 L378.90,344.59 L378.90,344.60 L378.70,344.60 L378.51,344.60 L378.31,344.60 L378.12,344.60 L378.12,344.40 L377.92,344.40 L377.73,344.40 L377.54,344.40 L377.34,344.40 L377.34,346.18 L377.15,346.18 L376.95,346.18 L376.76,346.18 L376.56,346.18 L376.37,346.18 L376.37,345.01 L376.17,345.01 L375.98,345.01 L375.78,345.01 L375.59,345.01 L375.59,349.91 L375.39,349.91 L375.20,349.91 L375.00,349.91 L374.81,349.91 L374.61,349.91 L374.61,345.22 L374.42,345.22 L374.23,345.22 L374.03,345.22 L373.84,345.22 L373.84,348.02 L373.64,348.02 L373.45,348.02 L373.25,348.02 L373.06,348.02 L373.06,344.40 L372.86,344.40 L372.67,344.40 L372.47,344.40 L372.28,344.40 L372.08,344.40 L372.08,345.27 L371.89,345.27 L371.69,345.27 L371.50,345.27 L371.30,345.27 L371.30,344.99 L371.11,344.99 L370.92,344.99 L370.72,344.99 L370.53,344.99 L370.53,345.95 L370.33,345.95 L370.14,345.95 L369.94,345.95 L369.75,345.95 L369.55,345.95 L369.55,346.33 L369.36,346.33 L369.16,346.33 L368.97,346.33 L368.77,346.33 L368.77,345.32 L368.58,345.32 L368.38,345.32 L368.19,345.32 L367.99,345.32 L367.80,345.32 Z" fill="#c3dbee"/>
<path d="M367.80,315.02 L367.99,315.02 L368.19,315.02 L368.38,315.02 L368.58,315.02 L368.77,315.02 L368.77,317.41 L368.97,317.41 L369.16,317.41 L369.36,317.41 L369.55,317.41 L369.55,316.53 L369.75,316.53 L369.94,316.53 L370.14,316.53 L370.33,316.53 L370.53,316.53 L370.53,313.78 L370.72,313.78 L370.92,313.78 L371.11,313.78 L371.30,313.78 L371.30,316.04 L371.50,316.04 L371.69,316.04 L371.89,316.04 L372.08,316.04 L372.08,315.12 L372.28,315.12 L372.47,315.12 L372.67,315.12 L372.86,315.12 L373.06,315.12 L373.06,316.76 L373.25,316.76 L373.45,316.76 L373.64,316.76 L373.84,316.76 L373.84,316.76 L374.03,316.76 L374.23,316.76 L374.42,316.76 L374.61,316.76 L374.61,317.24 L374.81,317.24 L375.00,317.24 L375.20,317.24 L375.39,317.24 L375.59,317.24 L375.59,314.94 L375.78,314.94 L375.98,314.94 L376.17,314.94 L376.37,314.94 L376.37,316.81 L376.56,316.81 L376.76,316.81 L376.95,316.81 L377.15,316.81 L377.34,316.81 L377.34,314.72 L377.54,314.72 L377.73,314.72 L377.92,314.72 L378.12,314.72 L378.12,317.67 L378.31,317.67 L378.51,317.67 L378.70,317.67 L378.90,317.67 L378.90,316.55 L379.09,316.55 L379.29,316.55 L379.48,316.55 L379.68,316.55 L379.87,316.55 L379.87,312.81 L380.07,312.81 L380.26,312.81 L380.46,312.81 L380.65,312.81 L380.65,316.71 L380.84,316.71 L381.04,316.71 L381.23,316.71 L381.43,316.71 L381.43,315.27 L381.62,315.27 L381.82,315.27 L382.01,315.27 L382.21,315.27 L382.40,315.27 L382.40,317.78 L382.60,317.78 L382.79,317.78 L382.99,317.78 L383.18,317.78 L383.18,311.48 L383.38,311.48 L383.57,311.48 L383.77,311.48 L383.96,311.48 L383.96,316.50 L384.15,316.50 L384.35,316.50 L384.54,316.50 L384.74,316.50 L384.93,316.50 L384.93,316.38 L385.13,316.38 L385.32,316.38 L385.52,316.38 L385.71,316.38 L385.71,317.50 L385.91,317.50 L386.10,317.50 L386.30,317.50 L386.49,317.50 L386.69,317.50 L386.69,317.91 L386.88,317.91 L387.08,317.91 L387.27,317.91 L387.46,317.91 L387.46,314.46 L387.66,314.46 L387.85,314.46 L388.05,314.46 L388.24,314.46 L388.24,314.03 L388.44,314.03 L388.63,314.18 L388.83,315.08 L389.02,315.98 L389.22,315.98 L389.22,316.91 L389.41,317.80 L389.61,318.70 L389.80,319.60 L390.00,319.60 L390.00,324.04 L390.19,324.93 L390.39,325.83 L390.58,326.72 L390.77,326.72 L390.77,326.21 L390.97,327.11 L391.16,328.00 L391.36,328.90 L391.55,329.80 L391.75,329.80 L391.75,330.92 L391.94,331.82 L392.14,332.71 L392.33,333.61 L392.53,333.61 L392.53,330.62 L392.72,331.52 L392.92,332.41 L393.11,333.31 L393.31,333.31 L393.31,335.14 L393.50,336.04 L393.70,336.93 L393.89,337.83 L394.08,338.73 L394.28,338.73 L394.28,341.22 L394.47,342.12 L394.67,343.01 L394.86,343.91 L395.06,343.91 L395.06,344.12 L395.25,345.01 L395.45,345.91 L395.64,346.80 L395.84,347.70 L396.03,347.70 L396.03,348.12 L396.23,349.02 L396.42,349.91 L396.62,350.81 L396.81,350.81 L396.81,353.31 L397.00,354.21 L397.20,355.10 L397.39,356.00 L397.59,356.00 L397.59,358.21 L397.78,359.11 L397.98,360.00 L398.17,360.90 L398.37,361.79 L398.56,361.79 L398.56,361.46 L398.76,362.35 L398.95,363.25 L399.15,364.14 L399.34,364.14 L399.34,366.69 L399.54,367.59 L399.73,368.49 L399.93,369.38 L400.12,369.38 L400.12,366.81 L400.31,367.70 L400.51,368.60 L400.70,369.50 L400.90,370.39 L401.09,370.39 L401.09,374.86 L401.29,375.76 L401.48,376.66 L401.68,377.55 L401.87,377.55 L401.87,376.57 L402.07,377.47 L402.26,378.36 L402.46,379.26 L402.65,379.26 L402.65,380.40 L402.85,381.30 L403.04,382.19 L403.24,383.09 L403.43,383.98 L403.62,383.98 L403.62,385.75 L403.82,386.65 L404.01,387.55 L404.21,388.44 L404.40,388.44 L404.40,388.28 L404.60,389.18 L404.79,390.07 L404.99,390.97 L405.18,391.87 L405.38,391.87 L405.38,393.43 L405.57,394.33 L405.77,395.22 L405.96,396.12 L406.16,396.12 L406.16,398.06 L406.35,398.96 L406.55,399.85 L406.74,400.75 L406.93,400.75 L406.93,401.54 L407.13,402.44 L407.32,402.15 L407.52,401.71 L407.71,401.28 L407.91,401.28 L407.91,398.60 L408.10,398.19 L408.30,397.79 L408.49,397.40 L408.69,397.40 L408.69,399.52 L408.88,399.15 L409.08,398.79 L409.27,398.43 L409.47,398.43 L409.47,392.03 L409.66,391.70 L409.86,391.37 L410.05,391.05 L410.24,390.74 L410.44,390.74 L410.44,395.14 L410.63,394.85 L410.83,394.56 L411.02,394.28 L411.22,394.28 L411.22,395.16 L411.41,394.89 L411.61,394.63 L411.80,394.38 L412.00,394.13 L412.19,394.13 L412.19,393.50 L412.39,393.26 L412.58,393.03 L412.78,392.81 L412.97,392.81 L412.97,393.96 L413.17,393.74 L413.36,393.53 L413.55,393.33 L413.75,393.33 L413.75,392.75 L413.94,392.55 L414.14,392.36 L414.33,392.17 L414.53,391.99 L414.72,391.99 L414.72,391.09 L414.92,390.91 L415.11,390.73 L415.31,390.56 L415.50,390.56 L415.50,388.71 L415.70,388.55 L415.89,388.38 L416.09,388.22 L416.28,388.22 L416.28,388.26 L416.48,388.10 L416.67,387.95 L416.86,387.79 L417.06,387.64 L417.25,387.64 L417.25,386.74 L417.45,386.59 L417.64,386.44 L417.84,386.29 L418.03,386.29 L418.03,386.96 L418.23,386.82 L418.42,386.67 L418.62,386.52 L418.81,386.52 L418.81,384.94 L419.01,384.79 L419.20,384.65 L419.40,384.50 L419.59,384.36 L419.78,384.36 L419.78,385.57 L419.98,385.43 L420.17,385.28 L420.37,385.14 L420.56,385.14 L420.56,385.62 L420.76,385.48 L420.95,385.34 L421.15,385.20 L421.34,385.06 L421.54,385.06 L421.54,383.11 L421.73,382.98 L421.93,382.84 L422.12,382.70 L422.32,382.70 L422.32,379.91 L422.51,379.78 L422.71,379.64 L422.90,379.50 L423.09,379.50 L423.09,383.64 L423.29,383.50 L423.48,383.37 L423.68,383.23 L423.87,383.10 L424.07,383.10 L424.07,383.20 L424.26,383.07 L424.46,382.94 L424.65,382.80 L424.85,382.80 L424.85,380.67 L425.04,380.54 L425.24,380.41 L425.43,380.28 L425.63,380.28 L425.63,383.45 L425.82,383.32 L426.02,383.19 L426.21,383.06 L426.40,382.93 L426.60,382.93 L426.60,381.53 L426.79,381.41 L426.99,381.28 L427.18,381.15 L427.38,381.15 L427.38,380.66 L427.57,380.53 L427.77,380.41 L427.96,380.28 L428.16,380.28 L428.16,382.12 L428.35,382.00 L428.55,381.87 L428.74,381.75 L428.94,381.63 L429.13,381.63 L429.13,380.23 L429.33,380.10 L429.52,379.98 L429.71,379.86 L429.91,379.86 L429.91,378.32 L430.10,378.20 L430.30,378.08 L430.49,377.96 L430.69,377.84 L430.88,377.84 L430.88,379.88 L431.08,379.76 L431.27,379.64 L431.47,379.52 L431.66,379.52 L431.66,376.26 L431.86,376.14 L432.05,376.02 L432.25,375.91 L432.44,375.91 L432.44,378.17 L432.64,378.06 L432.83,377.94 L433.02,377.83 L433.22,377.71 L433.41,377.71 L433.41,374.22 L433.61,374.11 L433.80,373.99 L434.00,373.88 L434.19,373.88 L434.19,375.74 L434.39,375.62 L434.58,375.51 L434.78,375.40 L434.97,375.40 L434.97,377.54 L435.17,377.43 L435.36,377.32 L435.56,377.21 L435.75,377.09 L435.95,377.09 L435.95,373.40 L436.14,373.29 L436.33,373.18 L436.53,373.08 L436.72,373.08 L436.72,373.99 L436.92,373.88 L437.11,373.77 L437.31,373.66 L437.50,373.66 L437.50,375.73 L437.70,375.63 L437.89,375.52 L438.09,375.41 L438.28,375.31 L438.48,375.31 L438.48,375.36 L438.67,375.25 L438.87,375.15 L439.06,375.04 L439.25,375.04 L439.25,373.02 L439.45,372.91 L439.64,372.81 L439.84,372.71 L440.03,372.61 L440.23,372.61 L440.23,372.26 L440.42,372.15 L440.62,372.05 L440.81,371.95 L441.01,371.95 L441.01,372.23 L441.20,372.13 L441.40,372.03 L441.59,371.94 L441.79,371.94 L441.79,371.97 L441.98,371.87 L442.18,371.77 L442.37,371.67 L442.56,371.58 L442.76,371.58 L442.76,373.48 L442.95,373.39 L443.15,373.29 L443.34,373.19 L443.54,373.19 L443.54,368.39 L443.73,368.30 L443.93,368.20 L444.12,368.11 L444.32,368.11 L444.32,368.52 L444.51,368.43 L444.71,368.34 L444.90,368.24 L445.10,368.15 L445.29,368.15 L445.29,369.78 L445.49,369.69 L445.68,369.60 L445.87,369.51 L446.07,369.51 L446.07,371.69 L446.26,371.60 L446.46,371.51 L446.65,371.42 L446.85,371.33 L447.04,371.33 L447.04,371.56 L447.24,371.47 L447.43,371.38 L447.63,371.29 L447.82,371.29 L447.82,368.27 L448.02,368.18 L448.21,368.09 L448.41,368.01 L448.60,368.01 L448.60,369.84 L448.80,369.76 L448.99,369.67 L449.18,369.58 L449.38,369.50 L449.57,369.50 L449.57,369.46 L449.77,369.37 L449.96,369.29 L450.16,369.21 L450.35,369.21 L450.35,367.43 L450.55,367.35 L450.74,367.26 L450.94,367.18 L451.13,367.18 L451.13,367.43 L451.33,367.34 L451.52,367.26 L451.72,367.18 L451.91,367.10 L452.11,367.10 L452.11,365.31 L452.30,365.23 L452.49,365.14 L452.69,365.06 L452.88,365.06 L452.88,367.42 L453.08,367.34 L453.27,367.26 L453.47,367.18 L453.66,367.18 L453.66,366.40 L453.86,366.32 L454.05,366.24 L454.25,366.17 L454.44,366.09 L454.64,366.09 L454.64,364.81 L454.83,364.73 L455.03,364.65 L455.22,364.58 L455.42,364.58 L455.42,366.35 L455.61,366.28 L455.80,366.20 L456.00,366.13 L456.19,366.05 L456.39,366.05 L456.39,365.06 L456.58,364.98 L456.78,364.91 L456.97,364.83 L457.17,364.83 L457.17,363.66 L457.36,363.59 L457.56,363.52 L457.75,363.45 L457.95,363.45 L457.95,365.72 L458.14,365.65 L458.34,365.57 L458.53,365.50 L458.72,365.43 L458.92,365.43 L458.92,364.61 L459.11,364.54 L459.31,364.47 L459.50,364.40 L459.70,364.40 L459.70,365.62 L459.89,365.56 L460.09,365.49 L460.28,365.42 L460.48,365.42 L460.48,360.08 L460.67,360.01 L460.87,359.94 L461.06,359.88 L461.26,359.81 L461.45,359.81 L461.45,364.94 L461.65,364.87 L461.84,364.81 L462.03,364.74 L462.23,364.74 L462.23,364.38 L462.42,364.31 L462.62,364.24 L462.81,364.18 L463.01,364.18 L463.01,363.41 L463.20,363.35 L463.40,363.28 L463.59,363.22 L463.79,363.15 L463.98,363.15 L463.98,356.54 L464.18,356.48 L464.37,356.42 L464.57,356.35 L464.76,356.35 L464.76,364.86 L464.96,364.79 L465.15,364.73 L465.34,364.67 L465.54,364.61 L465.73,364.61 L465.73,364.33 L465.93,364.27 L466.12,364.21 L466.32,364.15 L466.51,364.15 L466.51,363.35 L466.71,363.29 L466.90,363.23 L467.10,363.17 L467.29,363.17 L467.29,361.35 L467.49,361.29 L467.68,361.23 L467.88,361.17 L468.07,361.11 L468.27,361.11 L468.27,362.52 L468.46,362.46 L468.65,362.40 L468.85,362.34 L469.04,362.34 L469.04,361.93 L469.24,361.87 L469.43,361.81 L469.63,361.76 L469.82,361.76 L469.82,359.74 L470.02,359.68 L470.21,359.62 L470.41,359.57 L470.60,359.51 L470.80,359.51 L470.80,361.13 L470.99,361.08 L471.19,361.02 L471.38,360.97 L471.58,360.97 L471.58,362.16 L471.77,362.11 L471.96,362.05 L472.16,362.00 L472.35,362.00 L472.35,360.26 L472.55,360.21 L472.74,360.15 L472.94,360.10 L473.13,360.05 L473.33,360.05 L473.33,356.26 L473.52,356.21 L473.72,356.15 L473.91,356.10 L474.11,356.10 L474.11,359.55 L474.30,359.50 L474.50,359.44 L474.69,359.39 L474.88,359.34 L475.08,359.34 L475.08,361.69 L475.27,361.64 L475.47,361.59 L475.66,361.54 L475.86,361.54 L475.86,359.18 L476.05,359.13 L476.25,359.08 L476.44,359.03 L476.64,359.03 L476.64,359.00 L476.83,358.95 L477.03,358.90 L477.22,358.85 L477.42,358.80 L477.61,358.80 L477.61,357.43 L477.81,357.38 L478.00,357.33 L478.19,357.28 L478.39,357.28 L478.39,360.09 L478.58,360.04 L478.78,359.99 L478.97,359.95 L479.17,359.95 L479.17,361.44 L479.36,361.39 L479.56,361.34 L479.75,361.29 L479.95,361.25 L480.14,361.25 L480.14,357.47 L480.34,357.42 L480.53,357.37 L480.73,357.33 L480.92,357.33 L480.92,357.60 L481.12,357.55 L481.31,357.50 L481.50,357.46 L481.70,357.41 L481.89,357.41 L481.89,354.63 L482.09,354.59 L482.28,354.54 L482.48,354.50 L482.67,354.50 L482.67,357.60 L482.87,357.56 L483.06,357.51 L483.26,357.47 L483.45,357.47 L483.45,360.34 L483.65,360.30 L483.84,360.25 L484.04,360.21 L484.23,360.17 L484.43,360.17 L484.43,359.03 L484.62,358.98 L484.81,358.94 L485.01,358.90 L485.20,358.90 L485.20,359.58 L485.40,359.53 L485.59,359.49 L485.79,359.45 L485.98,359.45 L485.98,359.85 L486.18,359.81 L486.37,359.77 L486.57,359.73 L486.76,359.68 L486.96,359.68 L486.96,360.35 L487.15,360.31 L487.35,360.27 L487.54,360.22 L487.74,360.22 L487.74,355.24 L487.93,355.20 L488.12,355.16 L488.32,355.12 L488.51,355.12 L488.51,358.20 L488.71,358.16 L488.90,358.12 L489.10,358.08 L489.29,358.04 L489.49,358.04 L489.49,356.94 L489.68,356.90 L489.88,356.86 L490.07,356.82 L490.27,356.82 L490.27,355.98 L490.46,355.94 L490.66,355.90 L490.85,355.86 L491.05,355.82 L491.24,355.82 L491.24,356.64 L491.43,356.60 L491.63,356.56 L491.82,356.52 L492.02,356.52 L492.02,357.52 L492.21,357.48 L492.41,357.44 L492.60,357.40 L492.80,357.40 L492.80,356.27 L492.99,356.24 L493.19,356.20 L493.38,356.16 L493.58,356.12 L493.77,356.12 L493.77,356.80 L493.97,356.76 L494.16,356.72 L494.36,356.68 L494.55,356.68 L494.55,356.14 L494.74,356.10 L494.94,356.07 L495.13,356.03 L495.33,356.03 L495.33,357.08 L495.52,357.04 L495.72,357.01 L495.91,356.97 L496.11,356.93 L496.30,356.93 L496.30,351.81 L496.50,351.77 L496.69,351.73 L496.89,351.70 L497.08,351.70 L497.08,352.54 L497.28,352.50 L497.47,352.46 L497.66,352.43 L497.86,352.43 L497.86,356.29 L498.05,356.26 L498.25,356.22 L498.44,356.19 L498.64,356.15 L498.83,356.15 L498.83,351.31 L499.03,351.28 L499.22,351.24 L499.42,351.21 L499.61,351.21 L499.61,353.34 L499.81,353.30 L500.00,353.27 L500.20,353.23 L500.39,353.19 L500.59,353.19 L500.59,353.87 L500.78,353.83 L500.97,353.79 L501.17,353.75 L501.36,353.75 L501.36,353.01 L501.56,352.97 L501.75,352.93 L501.95,352.89 L502.14,352.89 L502.14,354.13 L502.34,354.09 L502.53,354.05 L502.73,354.02 L502.92,353.98 L503.12,353.98 L503.12,349.73 L503.31,349.69 L503.51,349.65 L503.70,349.61 L503.90,349.61 L503.90,355.79 L504.09,355.76 L504.28,355.72 L504.48,355.68 L504.67,355.68 L504.67,355.11 L504.87,355.07 L505.06,355.03 L505.26,354.99 L505.45,354.96 L505.65,354.96 L505.65,354.50 L505.84,354.46 L506.04,354.42 L506.23,354.39 L506.43,354.39 L506.43,352.66 L506.62,352.62 L506.82,352.58 L507.01,352.55 L507.21,352.55 L507.21,355.79 L507.40,355.75 L507.59,355.72 L507.79,355.68 L507.98,355.64 L508.18,355.64 L508.18,352.35 L508.37,352.31 L508.57,352.28 L508.76,352.24 L508.96,352.24 L508.96,352.83 L509.15,352.80 L509.35,352.76 L509.54,352.72 L509.74,352.69 L509.93,352.69 L509.93,351.08 L510.13,351.05 L510.32,351.01 L510.52,350.98 L510.71,350.98 L510.71,352.44 L510.90,352.40 L511.10,352.37 L511.29,352.33 L511.49,352.33 L511.49,354.66 L511.68,354.62 L511.88,354.59 L512.07,354.55 L512.27,354.52 L512.46,354.52 L512.46,352.95 L512.66,352.92 L512.85,352.88 L513.05,352.85 L513.24,352.85 L513.24,352.24 L513.44,352.20 L513.63,352.17 L513.83,352.13 L514.02,352.13 L514.02,352.86 L514.21,352.83 L514.41,352.79 L514.60,352.76 L514.80,352.72 L514.99,352.72 L514.99,351.75 L515.19,351.71 L515.38,351.68 L515.58,351.64 L515.77,351.64 L515.77,352.04 L515.97,352.01 L516.16,351.98 L516.36,351.94 L516.55,351.94 L516.55,353.04 L516.75,353.01 L516.94,352.98 L517.13,352.94 L517.33,352.91 L517.52,352.91 L517.52,351.34 L517.72,351.31 L517.91,351.28 L518.11,351.24 L518.30,351.24 L518.30,350.75 L518.50,350.72 L518.69,350.69 L518.89,350.65 L519.08,350.62 L519.28,350.62 L519.28,351.95 L519.47,351.91 L519.67,351.88 L519.86,351.85 L520.06,351.85 L520.06,352.72 L520.25,352.68 L520.44,352.65 L520.64,352.62 L520.83,352.62 L520.83,351.66 L521.03,351.63 L521.22,351.60 L521.42,351.56 L521.61,351.53 L521.81,351.53 L521.81,347.80 L522.00,347.77 L522.20,347.74 L522.39,347.70 L522.59,347.70 L522.59,351.48 L522.78,351.45 L522.98,351.42 L523.17,351.39 L523.37,351.39 L523.37,350.21 L523.56,350.18 L523.75,350.14 L523.95,350.11 L524.14,350.08 L524.34,350.08 L524.34,345.79 L524.53,345.76 L524.73,345.73 L524.92,345.70 L525.12,345.70 L525.12,350.90 L525.31,350.87 L525.51,350.83 L525.70,350.80 L525.90,350.77 L526.09,350.77 L526.09,349.32 L526.29,349.29 L526.48,349.26 L526.68,349.23 L526.87,349.23 L526.87,349.25 L527.06,349.22 L527.26,349.19 L527.45,349.16 L527.65,349.16 L527.65,348.75 L527.84,348.72 L528.04,348.69 L528.23,348.66 L528.43,348.63 L528.62,348.63 L528.62,349.23 L528.82,349.20 L529.01,349.17 L529.21,349.14 L529.40,349.14 L529.40,350.54 L529.60,350.51 L529.79,350.48 L529.99,350.45 L530.18,350.45 L530.18,346.69 L530.37,346.66 L530.57,346.63 L530.76,346.60 L530.96,346.57 L531.15,346.57 L531.15,348.05 L531.35,348.02 L531.54,347.99 L531.74,347.96 L531.93,347.96 L531.93,348.47 L532.13,348.45 L532.32,348.42 L532.52,348.39 L532.71,348.39 L532.71,348.88 L532.91,348.85 L533.10,348.82 L533.30,348.79 L533.49,348.76 L533.68,348.76 L533.68,347.98 L533.88,347.95 L534.07,347.92 L534.27,347.89 L534.46,347.89 L534.46,348.80 L534.66,348.77 L534.85,348.74 L535.05,348.72 L535.24,348.69 L535.44,348.69 L535.44,346.30 L535.63,346.27 L535.83,346.24 L536.02,346.21 L536.22,346.21 L536.22,348.61 L536.41,348.58 L536.60,348.55 L536.80,348.52 L536.99,348.52 L536.99,349.20 L537.19,349.17 L537.38,349.14 L537.58,349.12 L537.77,349.09 L537.97,349.09 L537.97,347.03 L538.16,347.00 L538.36,346.97 L538.55,346.95 L538.75,346.95 L538.75,348.67 L538.94,348.64 L539.14,348.61 L539.33,348.58 L539.53,348.58 L539.53,347.14 L539.72,347.11 L539.91,347.08 L540.11,347.06 L540.30,347.03 L540.50,347.03 L540.50,346.14 L540.69,346.11 L540.89,346.08 L541.08,346.06 L541.28,346.06 L541.28,345.50 L541.47,345.47 L541.67,345.44 L541.86,345.42 L542.06,345.42 L542.06,344.58 L542.25,344.55 L542.45,344.52 L542.64,344.50 L542.84,344.47 L543.03,344.47 L543.03,349.15 L543.22,349.12 L543.42,349.09 L543.61,349.06 L543.81,349.06 L543.81,348.12 L544.00,348.09 L544.20,348.06 L544.39,348.04 L544.59,348.01 L544.78,348.01 L544.78,347.32 L544.98,347.30 L545.17,347.27 L545.37,347.24 L545.56,347.24 L545.56,345.94 L545.76,345.92 L545.95,345.89 L546.15,345.87 L546.34,345.87 L546.34,347.10 L546.53,347.07 L546.73,347.04 L546.92,347.02 L547.12,346.99 L547.31,346.99 L547.31,346.50 L547.51,346.48 L547.70,346.45 L547.90,346.42 L548.09,346.42 L548.09,343.50 L548.29,343.48 L548.48,343.45 L548.68,343.42 L548.87,343.42 L548.87,346.38 L549.07,346.35 L549.26,346.33 L549.46,346.30 L549.65,346.28 L549.84,346.28 L549.84,346.41 L550.04,346.39 L550.23,346.36 L550.43,346.33 L550.62,346.33 L550.62,347.97 L550.82,347.95 L551.01,347.92 L551.21,347.90 L551.40,347.90 L551.40,347.01 L551.60,346.99 L551.79,346.96 L551.99,346.94 L552.18,346.91 L552.38,346.91 L552.38,347.00 L552.57,346.97 L552.76,346.95 L552.96,346.92 L553.15,346.92 L553.15,344.85 L553.35,344.83 L553.54,344.80 L553.74,344.78 L553.93,344.75 L554.13,344.75 L554.13,345.32 L554.32,345.30 L554.52,345.27 L554.71,345.25 L554.91,345.25 L554.91,347.25 L555.10,347.22 L555.30,347.20 L555.49,347.18 L555.69,347.18 L555.69,345.82 L555.88,345.80 L556.07,345.78 L556.27,345.75 L556.46,345.73 L556.66,345.73 L556.66,343.95 L556.85,343.92 L557.05,343.90 L557.24,343.87 L557.44,343.87 L557.44,345.30 L557.63,345.28 L557.83,345.26 L558.02,345.23 L558.22,345.23 L558.22,345.49 L558.41,345.46 L558.61,345.44 L558.80,345.41 L559.00,345.39 L559.19,345.39 L559.19,342.18 L559.38,342.16 L559.58,342.14 L559.77,342.11 L559.97,342.11 L559.97,345.22 L560.16,345.19 L560.36,345.17 L560.55,345.15 L560.75,345.12 L560.94,345.12 L560.94,345.91 L561.14,345.89 L561.33,345.87 L561.53,345.84 L561.72,345.84 L561.72,344.78 L561.92,344.76 L562.11,344.74 L562.31,344.72 L562.50,344.72 L562.50,341.39 L562.69,341.37 L562.89,341.34 L563.08,341.32 L563.28,341.30 L563.47,341.30 L563.47,346.13 L563.67,346.10 L563.86,346.08 L564.06,346.06 L564.25,346.06 L564.25,344.15 L564.45,344.12 L564.64,344.10 L564.84,344.08 L565.03,344.08 L565.03,344.65 L565.23,344.63 L565.42,344.61 L565.62,344.58 L565.81,344.56 L566.00,344.56 L566.00,343.93 L566.20,343.91 L566.39,343.88 L566.59,343.86 L566.78,343.86 L566.78,344.35 L566.98,344.33 L567.17,344.30 L567.37,344.28 L567.56,344.28 L567.56,342.27 L567.76,342.24 L567.95,342.22 L568.15,342.20 L568.34,342.18 L568.54,342.18 L568.54,343.37 L568.73,343.35 L568.93,343.33 L569.12,343.31 L569.31,343.31 L569.31,344.66 L569.51,344.64 L569.70,344.62 L569.90,344.60 L570.09,344.58 L570.29,344.58 L570.29,344.09 L570.48,344.07 L570.68,344.05 L570.87,344.03 L571.07,344.03 L571.07,343.68 L571.26,343.66 L571.46,343.64 L571.65,343.62 L571.85,343.62 L571.85,343.27 L572.04,343.25 L572.24,343.23 L572.43,343.21 L572.62,343.19 L572.82,343.19 L572.82,343.03 L573.01,343.01 L573.21,342.99 L573.40,342.97 L573.60,342.97 L573.60,340.72 L573.79,340.70 L573.99,340.68 L574.18,340.66 L574.38,340.66 L574.38,344.78 L574.57,344.76 L574.77,344.74 L574.96,344.72 L575.16,344.70 L575.35,344.70 L575.35,345.10 L575.54,345.08 L575.74,345.06 L575.93,345.04 L576.13,345.04 L576.13,340.03 L576.32,340.01 L576.52,339.99 L576.71,339.97 L576.91,339.97 L576.91,343.06 L577.10,343.04 L577.30,343.02 L577.49,343.00 L577.69,342.98 L577.88,342.98 L577.88,344.90 L578.08,344.88 L578.27,344.86 L578.47,344.84 L578.66,344.84 L578.66,342.45 L578.85,342.43 L579.05,342.41 L579.24,342.39 L579.44,342.37 L579.63,342.37 L579.63,345.07 L579.83,345.06 L580.02,345.04 L580.22,345.02 L580.41,345.02 L580.41,341.43 L580.61,341.41 L580.80,341.39 L581.00,341.37 L581.19,341.37 L581.19,345.01 L581.39,344.99 L581.58,344.97 L581.78,344.95 L581.97,344.93 L582.16,344.93 L582.16,343.97 L582.36,343.95 L582.55,343.94 L582.75,343.92 L582.94,343.92 L582.94,344.07 L583.14,344.05 L583.33,344.03 L583.53,344.01 L583.72,344.01 L583.72,343.44 L583.92,343.42 L584.11,343.41 L584.31,343.39 L584.50,343.37 L584.70,343.37 L584.70,340.39 L584.89,340.38 L585.09,340.36 L585.28,340.34 L585.47,340.34 L585.47,341.87 L585.67,341.85 L585.86,341.83 L586.06,341.81 L586.25,341.81 L586.25,339.92 L586.45,339.90 L586.64,339.88 L586.84,339.86 L587.03,339.84 L587.23,339.84 L587.23,339.39 L587.42,339.37 L587.62,339.35 L587.81,339.33 L588.01,339.33 L588.01,344.01 L588.20,343.99 L588.40,343.97 L588.59,343.95 L588.78,343.94 L588.98,343.94 L588.98,344.54 L589.17,344.52 L589.37,344.50 L589.56,344.48 L589.76,344.48 L589.76,343.35 L589.95,343.33 L590.15,343.31 L590.34,343.29 L590.54,343.29 L590.54,338.18 L590.73,338.17 L590.93,338.15 L591.12,338.13 L591.32,338.11 L591.51,338.11 L591.51,343.42 L591.71,343.40 L591.90,343.38 L592.09,343.36 L592.29,343.36 L592.29,339.56 L592.48,339.54 L592.68,339.53 L592.87,339.51 L593.07,339.51 L593.07,342.35 L593.26,342.33 L593.46,342.32 L593.65,342.30 L593.85,342.28 L594.04,342.28 L594.04,341.20 L594.24,341.18 L594.43,341.16 L594.63,341.14 L594.82,341.14 L594.82,341.15 L595.01,341.13 L595.21,341.11 L595.40,341.10 L595.60,341.08 L595.79,341.08 L595.79,341.91 L595.99,341.90 L596.18,341.88 L596.38,341.86 L596.57,341.86 L596.57,341.13 L596.77,341.12 L596.96,341.10 L597.16,341.08 L597.35,341.08 L597.35,339.64 L597.55,339.63 L597.74,339.61 L597.94,339.59 L598.13,339.57 L598.32,339.57 L598.32,337.61 L598.52,337.60 L598.71,337.58 L598.91,337.56 L599.10,337.56 L599.10,336.13 L599.30,336.11 L599.49,336.10 L599.69,336.08 L599.88,336.08 L599.88,341.82 L600.08,341.81 L600.27,341.79 L600.47,341.77 L600.66,341.76 L600.86,341.76 L600.86,341.29 L601.05,341.27 L601.25,341.25 L601.44,341.23 L601.63,341.23 L601.63,341.20 L601.83,341.18 L602.02,341.16 L602.22,341.15 L602.41,341.15 L602.41,338.31 L602.61,338.29 L602.80,338.28 L603.00,338.26 L603.19,338.24 L603.39,338.24 L603.39,338.98 L603.58,338.97 L603.78,338.95 L603.97,338.93 L604.17,338.93 L604.17,340.67 L604.36,340.66 L604.56,340.64 L604.75,340.63 L604.94,340.61 L605.14,340.61 L605.14,339.39 L605.33,339.37 L605.53,339.36 L605.72,339.34 L605.92,339.34 L605.92,337.91 L606.11,337.89 L606.31,337.88 L606.50,337.86 L606.70,337.86 L606.70,338.30 L606.89,338.28 L607.09,338.27 L607.28,338.25 L607.48,338.23 L607.67,338.23 L607.67,337.28 L607.87,337.26 L608.06,337.25 L608.25,337.23 L608.45,337.23 L608.45,340.38 L608.64,340.37 L608.84,340.35 L609.03,340.33 L609.23,340.33 L609.23,341.52 L609.42,341.51 L609.62,341.49 L609.81,341.47 L610.01,341.46 L610.20,341.46 L610.20,342.68 L610.40,342.67 L610.59,342.66 L610.79,342.65 L610.98,342.65 L610.98,341.91 L611.18,341.90 L611.37,341.89 L611.56,341.88 L611.76,341.88 L611.76,341.34 L611.95,341.33 L612.15,341.32 L612.34,341.31 L612.54,341.29 L612.73,341.29 L612.73,339.22 L612.93,339.21 L613.12,339.20 L613.32,339.19 L613.51,339.19 L613.51,340.52 L613.71,340.50 L613.90,340.49 L614.10,340.48 L614.29,340.47 L614.48,340.47 L614.48,339.27 L614.68,339.25 L614.87,339.24 L615.07,339.23 L615.26,339.23 L615.26,340.36 L615.46,340.35 L615.65,340.33 L615.85,340.32 L616.04,340.32 L616.04,341.21 L616.24,341.19 L616.43,341.18 L616.63,341.17 L616.82,341.16 L617.02,341.16 L617.02,340.24 L617.21,340.23 L617.41,340.22 L617.60,340.20 L617.79,340.20 L617.79,338.91 L617.99,338.90 L618.18,338.88 L618.38,338.87 L618.57,338.87 L618.57,343.04 L618.77,343.03 L618.96,343.02 L619.16,343.01 L619.35,343.00 L619.55,343.00 L619.55,338.98 L619.74,338.97 L619.94,338.96 L620.13,338.95 L620.33,338.95 L620.33,340.46 L620.52,340.45 L620.72,340.44 L620.91,340.43 L621.10,340.43 L621.10,340.05 L621.30,340.04 L621.49,340.03 L621.69,340.01 L621.88,340.00 L622.08,340.00 L622.08,341.01 L622.27,341.00 L622.47,340.98 L622.66,340.97 L622.86,340.97 L622.86,341.42 L623.05,341.40 L623.25,341.39 L623.44,341.38 L623.64,341.37 L623.83,341.37 L623.83,340.40 L624.03,340.39 L624.22,340.38 L624.41,340.36 L624.61,340.36 L624.61,340.42 L624.80,340.40 L625.00,340.39 L625.19,340.38 L625.39,340.38 L625.39,341.52 L625.58,341.51 L625.78,341.50 L625.97,341.49 L626.17,341.47 L626.36,341.47 L626.36,338.84 L626.56,338.83 L626.75,338.82 L626.95,338.81 L627.14,338.81 L627.14,338.18 L627.34,338.17 L627.53,338.16 L627.72,338.14 L627.92,338.14 L627.92,338.43 L628.11,338.42 L628.31,338.41 L628.50,338.40 L628.70,338.38 L628.89,338.38 L628.89,338.87 L629.09,338.86 L629.28,338.85 L629.48,338.83 L629.67,338.83 L629.67,336.73 L629.87,336.72 L630.06,336.71 L630.26,336.70 L630.45,336.70 L630.45,339.72 L630.64,339.71 L630.84,339.70 L631.03,339.69 L631.23,339.68 L631.42,339.68 L631.42,339.68 L631.62,339.67 L631.81,339.66 L632.01,339.65 L632.20,339.65 L632.20,339.97 L632.40,339.96 L632.59,339.95 L632.79,339.94 L632.98,339.93 L633.18,339.93 L633.18,336.87 L633.37,336.85 L633.57,336.84 L633.76,336.83 L633.95,336.83 L633.95,340.12 L634.15,340.11 L634.34,340.09 L634.54,340.08 L634.73,340.08 L634.73,339.67 L634.93,339.65 L635.12,339.64 L635.32,339.63 L635.51,339.62 L635.71,339.62 L635.71,338.39 L635.90,338.38 L636.10,338.37 L636.29,338.35 L636.49,338.35 L636.49,338.33 L636.68,338.31 L636.88,338.30 L637.07,338.29 L637.26,338.29 L637.26,338.57 L637.46,338.56 L637.65,338.55 L637.85,338.54 L638.04,338.53 L638.24,338.53 L638.24,337.51 L638.43,337.50 L638.63,337.49 L638.82,337.48 L639.02,337.48 L639.02,336.96 L639.21,336.95 L639.41,336.94 L639.60,336.93 L639.80,336.92 L639.99,336.92 L639.99,331.52 L640.19,331.51 L640.38,331.50 L640.57,331.49 L640.77,331.49 L640.77,335.26 L640.96,335.25 L641.16,335.24 L641.35,335.23 L641.55,335.23 L641.55,338.93 L641.74,338.92 L641.94,338.91 L642.13,338.90 L642.33,338.89 L642.52,338.89 L642.52,340.43 L642.72,340.41 L642.91,340.40 L643.11,340.39 L643.30,340.39 L643.30,340.02 L643.50,340.01 L643.69,340.00 L643.88,339.99 L644.08,339.99 L644.08,337.15 L644.27,337.13 L644.47,337.12 L644.66,337.11 L644.86,337.10 L645.05,337.10 L645.05,337.57 L645.25,337.56 L645.44,337.55 L645.64,337.54 L645.83,337.54 L645.83,337.94 L646.03,337.93 L646.22,337.92 L646.42,337.91 L646.61,337.91 L646.61,338.59 L646.81,338.58 L647.00,338.57 L647.19,338.56 L647.39,338.55 L647.58,338.55 L647.58,336.63 L647.78,336.62 L647.97,336.61 L648.17,336.60 L648.36,336.60 L648.36,337.63 L648.56,337.62 L648.75,337.61 L648.95,337.60 L649.14,337.59 L649.34,337.59 L649.34,334.14 L649.53,334.13 L649.73,334.11 L649.92,334.10 L650.12,334.10 L650.12,337.92 L650.31,337.91 L650.50,337.89 L650.70,337.88 L650.89,337.88 L650.89,339.13 L651.09,339.12 L651.28,339.10 L651.48,339.09 L651.67,339.08 L651.87,339.08 L651.87,338.85 L652.06,338.84 L652.26,338.83 L652.45,338.82 L652.65,338.82 L652.65,340.54 L652.84,340.53 L653.04,340.52 L653.23,340.51 L653.42,340.51 L653.42,338.24 L653.62,338.22 L653.81,338.21 L654.01,338.20 L654.20,338.19 L654.40,338.19 L654.40,336.24 L654.59,336.23 L654.79,336.22 L654.98,336.20 L655.18,336.20 L655.18,335.98 L655.37,335.97 L655.57,335.95 L655.76,335.94 L655.96,335.94 L655.96,332.65 L656.15,332.63 L656.35,332.62 L656.54,332.61 L656.73,332.60 L656.93,332.60 L656.93,338.13 L657.12,338.12 L657.32,338.11 L657.51,338.10 L657.71,338.10 L657.71,338.28 L657.90,338.26 L658.10,338.25 L658.29,338.24 L658.49,338.23 L658.68,338.23 L658.68,337.54 L658.88,337.53 L659.07,337.52 L659.27,337.51 L659.46,337.51 L659.46,339.01 L659.66,339.00 L659.85,338.98 L659.85,359.41 L659.66,359.42 L659.46,359.43 L659.46,356.28 L659.27,356.28 L659.07,356.29 L658.88,356.31 L658.68,356.32 L658.68,358.79 L658.49,358.79 L658.29,358.80 L658.10,358.81 L657.90,358.82 L657.71,358.83 L657.71,362.90 L657.51,362.90 L657.32,362.92 L657.12,362.93 L656.93,362.94 L656.93,360.57 L656.73,360.57 L656.54,360.58 L656.35,360.59 L656.15,360.60 L655.96,360.61 L655.96,356.79 L655.76,356.79 L655.57,356.81 L655.37,356.82 L655.18,356.83 L655.18,358.76 L654.98,358.76 L654.79,358.77 L654.59,358.78 L654.40,358.79 L654.40,360.27 L654.20,360.27 L654.01,360.28 L653.81,360.29 L653.62,360.30 L653.42,360.31 L653.42,359.80 L653.23,359.80 L653.04,359.81 L652.84,359.82 L652.65,359.83 L652.65,359.19 L652.45,359.19 L652.26,359.20 L652.06,359.21 L651.87,359.22 L651.87,357.25 L651.67,357.25 L651.48,357.26 L651.28,357.28 L651.09,357.29 L650.89,357.30 L650.89,357.72 L650.70,357.72 L650.50,357.74 L650.31,357.75 L650.12,357.76 L650.12,356.57 L649.92,356.57 L649.73,356.58 L649.53,356.59 L649.34,356.61 L649.34,359.95 L649.14,359.95 L648.95,359.96 L648.75,359.97 L648.56,359.98 L648.36,360.00 L648.36,360.34 L648.17,360.34 L647.97,360.36 L647.78,360.37 L647.58,360.38 L647.58,365.19 L647.39,365.19 L647.19,365.20 L647.00,365.21 L646.81,365.22 L646.61,365.23 L646.61,358.73 L646.42,358.73 L646.22,358.74 L646.03,358.75 L645.83,358.76 L645.83,358.48 L645.64,358.48 L645.44,358.49 L645.25,358.50 L645.05,358.51 L645.05,355.45 L644.86,355.45 L644.66,355.46 L644.47,355.48 L644.27,355.49 L644.08,355.50 L644.08,359.61 L643.88,359.61 L643.69,359.63 L643.50,359.64 L643.30,359.65 L643.30,359.66 L643.11,359.66 L642.91,359.68 L642.72,359.69 L642.52,359.70 L642.52,361.26 L642.33,361.26 L642.13,361.27 L641.94,361.28 L641.74,361.29 L641.55,361.30 L641.55,361.73 L641.35,361.73 L641.16,361.74 L640.96,361.75 L640.77,361.76 L640.77,358.79 L640.57,358.79 L640.38,358.81 L640.19,358.82 L639.99,358.83 L639.99,357.74 L639.80,357.74 L639.60,357.75 L639.41,357.76 L639.21,357.77 L639.02,357.78 L639.02,356.59 L638.82,356.59 L638.63,356.60 L638.43,356.61 L638.24,356.62 L638.24,358.67 L638.04,358.67 L637.85,358.68 L637.65,358.69 L637.46,358.70 L637.26,358.71 L637.26,358.07 L637.07,358.07 L636.88,358.08 L636.68,358.09 L636.49,358.10 L636.49,358.68 L636.29,358.68 L636.10,358.69 L635.90,358.70 L635.71,358.72 L635.71,359.40 L635.51,359.40 L635.32,359.41 L635.12,359.42 L634.93,359.43 L634.73,359.44 L634.73,359.80 L634.54,359.80 L634.34,359.81 L634.15,359.82 L633.95,359.84 L633.95,362.44 L633.76,362.44 L633.57,362.45 L633.37,362.46 L633.18,362.47 L633.18,360.88 L632.98,360.88 L632.79,360.90 L632.59,360.91 L632.40,360.92 L632.20,360.93 L632.20,359.83 L632.01,359.83 L631.81,359.85 L631.62,359.86 L631.42,359.87 L631.42,358.33 L631.23,358.33 L631.03,358.34 L630.84,358.35 L630.64,358.36 L630.45,358.37 L630.45,358.76 L630.26,358.76 L630.06,358.77 L629.87,358.78 L629.67,358.79 L629.67,359.35 L629.48,359.35 L629.28,359.36 L629.09,359.38 L628.89,359.39 L628.89,359.14 L628.70,359.14 L628.50,359.15 L628.31,359.16 L628.11,359.17 L627.92,359.18 L627.92,358.51 L627.72,358.51 L627.53,358.52 L627.34,358.53 L627.14,358.54 L627.14,361.57 L626.95,361.57 L626.75,361.58 L626.56,361.59 L626.36,361.60 L626.36,361.91 L626.17,361.91 L625.97,361.92 L625.78,361.93 L625.58,361.94 L625.39,361.95 L625.39,359.66 L625.19,359.66 L625.00,359.67 L624.80,359.68 L624.61,359.69 L624.61,360.04 L624.41,360.04 L624.22,360.06 L624.03,360.07 L623.83,360.08 L623.83,360.61 L623.64,360.61 L623.44,360.62 L623.25,360.63 L623.05,360.65 L622.86,360.66 L622.86,360.81 L622.66,360.81 L622.47,360.82 L622.27,360.83 L622.08,360.85 L622.08,359.68 L621.88,359.68 L621.69,359.69 L621.49,359.71 L621.30,359.72 L621.10,359.73 L621.10,359.44 L620.91,359.44 L620.72,359.45 L620.52,359.46 L620.33,359.47 L620.33,360.83 L620.13,360.83 L619.94,360.84 L619.74,360.86 L619.55,360.87 L619.55,361.41 L619.35,361.41 L619.16,361.42 L618.96,361.43 L618.77,361.44 L618.57,361.45 L618.57,360.08 L618.38,360.08 L618.18,360.09 L617.99,360.10 L617.79,360.11 L617.79,359.14 L617.60,359.14 L617.41,359.15 L617.21,359.16 L617.02,359.17 L617.02,363.65 L616.82,363.65 L616.63,363.67 L616.43,363.68 L616.24,363.69 L616.04,363.70 L616.04,360.98 L615.85,360.98 L615.65,360.99 L615.46,361.01 L615.26,361.02 L615.26,361.84 L615.07,361.84 L614.87,361.85 L614.68,361.86 L614.48,361.87 L614.48,359.78 L614.29,359.78 L614.10,359.80 L613.90,359.81 L613.71,359.82 L613.51,359.83 L613.51,359.51 L613.32,359.51 L613.12,359.53 L612.93,359.54 L612.73,359.55 L612.73,360.27 L612.54,360.27 L612.34,360.29 L612.15,360.30 L611.95,360.31 L611.76,360.32 L611.76,360.89 L611.56,360.89 L611.37,360.91 L611.18,360.92 L610.98,360.93 L610.98,361.36 L610.79,361.36 L610.59,361.37 L610.40,361.39 L610.20,361.40 L610.20,360.92 L610.01,360.92 L609.81,360.93 L609.62,360.95 L609.42,360.96 L609.23,360.98 L609.23,362.86 L609.03,362.86 L608.84,362.88 L608.64,362.89 L608.45,362.91 L608.45,358.58 L608.25,358.58 L608.06,358.59 L607.87,358.61 L607.67,358.63 L607.67,358.65 L607.48,358.65 L607.28,358.67 L607.09,358.69 L606.89,358.70 L606.70,358.72 L606.70,363.68 L606.50,363.68 L606.31,363.69 L606.11,363.71 L605.92,363.73 L605.92,359.32 L605.72,359.32 L605.53,359.34 L605.33,359.35 L605.14,359.37 L605.14,361.22 L604.94,361.22 L604.75,361.24 L604.56,361.26 L604.36,361.27 L604.17,361.29 L604.17,362.79 L603.97,362.79 L603.78,362.81 L603.58,362.83 L603.39,362.84 L603.39,362.11 L603.19,362.11 L603.00,362.13 L602.80,362.14 L602.61,362.16 L602.41,362.18 L602.41,359.67 L602.22,359.67 L602.02,359.69 L601.83,359.70 L601.63,359.72 L601.63,362.63 L601.44,362.63 L601.25,362.65 L601.05,362.67 L600.86,362.68 L600.86,361.90 L600.66,361.90 L600.47,361.92 L600.27,361.94 L600.08,361.95 L599.88,361.97 L599.88,360.02 L599.69,360.02 L599.49,360.04 L599.30,360.05 L599.10,360.07 L599.10,361.34 L598.91,361.34 L598.71,361.35 L598.52,361.37 L598.32,361.39 L598.32,362.58 L598.13,362.58 L597.94,362.60 L597.74,362.61 L597.55,362.63 L597.35,362.65 L597.35,359.78 L597.16,359.78 L596.96,359.80 L596.77,359.81 L596.57,359.83 L596.57,362.60 L596.38,362.60 L596.18,362.62 L595.99,362.64 L595.79,362.65 L595.79,361.14 L595.60,361.14 L595.40,361.15 L595.21,361.17 L595.01,361.19 L594.82,361.21 L594.82,362.24 L594.63,362.24 L594.43,362.26 L594.24,362.28 L594.04,362.30 L594.04,365.76 L593.85,365.76 L593.65,365.78 L593.46,365.79 L593.26,365.81 L593.07,365.83 L593.07,362.51 L592.87,362.51 L592.68,362.52 L592.48,362.54 L592.29,362.56 L592.29,362.08 L592.09,362.08 L591.90,362.10 L591.71,362.12 L591.51,362.14 L591.51,361.88 L591.32,361.88 L591.12,361.90 L590.93,361.92 L590.73,361.93 L590.54,361.95 L590.54,362.79 L590.34,362.79 L590.15,362.81 L589.95,362.83 L589.76,362.85 L589.76,364.89 L589.56,364.89 L589.37,364.90 L589.17,364.92 L588.98,364.94 L588.98,366.58 L588.78,366.58 L588.59,366.60 L588.40,366.61 L588.20,366.63 L588.01,366.65 L588.01,361.26 L587.81,361.26 L587.62,361.28 L587.42,361.29 L587.23,361.31 L587.23,364.00 L587.03,364.00 L586.84,364.02 L586.64,364.04 L586.45,364.06 L586.25,364.07 L586.25,363.91 L586.06,363.91 L585.86,363.93 L585.67,363.95 L585.47,363.97 L585.47,363.56 L585.28,363.56 L585.09,363.58 L584.89,363.60 L584.70,363.62 L584.70,365.60 L584.50,365.60 L584.31,365.62 L584.11,365.64 L583.92,365.66 L583.72,365.68 L583.72,366.27 L583.53,366.27 L583.33,366.29 L583.14,366.31 L582.94,366.33 L582.94,363.58 L582.75,363.58 L582.55,363.60 L582.36,363.61 L582.16,363.63 L582.16,363.95 L581.97,363.95 L581.78,363.96 L581.58,363.98 L581.39,364.00 L581.19,364.02 L581.19,363.14 L581.00,363.14 L580.80,363.16 L580.61,363.17 L580.41,363.19 L580.41,363.69 L580.22,363.69 L580.02,363.71 L579.83,363.73 L579.63,363.75 L579.63,362.09 L579.44,362.09 L579.24,362.10 L579.05,362.12 L578.85,362.14 L578.66,362.16 L578.66,364.89 L578.47,364.89 L578.27,364.91 L578.08,364.93 L577.88,364.95 L577.88,364.66 L577.69,364.66 L577.49,364.68 L577.30,364.70 L577.10,364.72 L576.91,364.74 L576.91,362.00 L576.71,362.00 L576.52,362.02 L576.32,362.04 L576.13,362.06 L576.13,364.23 L575.93,364.23 L575.74,364.25 L575.54,364.27 L575.35,364.29 L575.35,364.37 L575.16,364.37 L574.96,364.39 L574.77,364.41 L574.57,364.43 L574.38,364.45 L574.38,367.14 L574.18,367.14 L573.99,367.16 L573.79,367.18 L573.60,367.20 L573.60,364.25 L573.40,364.25 L573.21,364.27 L573.01,364.29 L572.82,364.31 L572.82,365.17 L572.62,365.17 L572.43,365.19 L572.24,365.21 L572.04,365.23 L571.85,365.25 L571.85,364.34 L571.65,364.34 L571.46,364.36 L571.26,364.38 L571.07,364.40 L571.07,363.21 L570.87,363.21 L570.68,363.23 L570.48,363.25 L570.29,363.27 L570.29,363.66 L570.09,363.66 L569.90,363.68 L569.70,363.70 L569.51,363.72 L569.31,363.75 L569.31,367.57 L569.12,367.57 L568.93,367.59 L568.73,367.61 L568.54,367.63 L568.54,363.86 L568.34,363.86 L568.15,363.88 L567.95,363.90 L567.76,363.93 L567.56,363.95 L567.56,363.82 L567.37,363.82 L567.17,363.84 L566.98,363.86 L566.78,363.88 L566.78,365.42 L566.59,365.42 L566.39,365.44 L566.20,365.47 L566.00,365.49 L566.00,363.73 L565.81,363.73 L565.62,363.75 L565.42,363.77 L565.23,363.79 L565.03,363.82 L565.03,366.27 L564.84,366.27 L564.64,366.29 L564.45,366.32 L564.25,366.34 L564.25,364.74 L564.06,364.74 L563.86,364.77 L563.67,364.79 L563.47,364.81 L563.47,364.61 L563.28,364.61 L563.08,364.63 L562.89,364.65 L562.69,364.68 L562.50,364.70 L562.50,363.88 L562.31,363.88 L562.11,363.90 L561.92,363.92 L561.72,363.94 L561.72,371.08 L561.53,371.08 L561.33,371.10 L561.14,371.12 L560.94,371.14 L560.94,364.79 L560.75,364.79 L560.55,364.81 L560.36,364.84 L560.16,364.86 L559.97,364.88 L559.97,365.29 L559.77,365.29 L559.58,365.31 L559.38,365.34 L559.19,365.36 L559.19,368.02 L559.00,368.02 L558.80,368.05 L558.61,368.07 L558.41,368.09 L558.22,368.12 L558.22,367.16 L558.02,367.16 L557.83,367.18 L557.63,367.21 L557.44,367.23 L557.44,363.82 L557.24,363.82 L557.05,363.85 L556.85,363.87 L556.66,363.89 L556.66,368.85 L556.46,368.85 L556.27,368.88 L556.07,368.90 L555.88,368.92 L555.69,368.95 L555.69,366.99 L555.49,366.99 L555.30,367.02 L555.10,367.04 L554.91,367.06 L554.91,364.35 L554.71,364.35 L554.52,364.38 L554.32,364.40 L554.13,364.43 L554.13,367.71 L553.93,367.71 L553.74,367.74 L553.54,367.76 L553.35,367.79 L553.15,367.81 L553.15,365.98 L552.96,365.98 L552.76,366.00 L552.57,366.03 L552.38,366.05 L552.38,366.41 L552.18,366.41 L551.99,366.43 L551.79,366.46 L551.60,366.48 L551.40,366.51 L551.40,366.69 L551.21,366.69 L551.01,366.71 L550.82,366.74 L550.62,366.76 L550.62,367.63 L550.43,367.63 L550.23,367.65 L550.04,367.68 L549.84,367.70 L549.84,366.71 L549.65,366.71 L549.46,366.74 L549.26,366.77 L549.07,366.79 L548.87,366.82 L548.87,366.80 L548.68,366.80 L548.48,366.83 L548.29,366.85 L548.09,366.88 L548.09,368.50 L547.90,368.50 L547.70,368.53 L547.51,368.55 L547.31,368.58 L547.31,370.29 L547.12,370.29 L546.92,370.32 L546.73,370.35 L546.53,370.37 L546.34,370.40 L546.34,366.57 L546.15,366.57 L545.95,366.59 L545.76,366.62 L545.56,366.65 L545.56,369.85 L545.37,369.85 L545.17,369.88 L544.98,369.90 L544.78,369.93 L544.78,367.50 L544.59,367.50 L544.39,367.53 L544.20,367.55 L544.00,367.58 L543.81,367.61 L543.81,370.29 L543.61,370.29 L543.42,370.31 L543.22,370.34 L543.03,370.37 L543.03,367.40 L542.84,367.40 L542.64,367.43 L542.45,367.46 L542.25,367.48 L542.06,367.51 L542.06,366.80 L541.86,366.80 L541.67,366.83 L541.47,366.86 L541.28,366.88 L541.28,366.89 L541.08,366.89 L540.89,366.92 L540.69,366.94 L540.50,366.97 L540.50,367.64 L540.30,367.64 L540.11,367.67 L539.91,367.70 L539.72,367.73 L539.53,367.75 L539.53,369.10 L539.33,369.10 L539.14,369.13 L538.94,369.16 L538.75,369.19 L538.75,369.85 L538.55,369.85 L538.36,369.87 L538.16,369.90 L537.97,369.93 L537.97,369.25 L537.77,369.25 L537.58,369.28 L537.38,369.31 L537.19,369.33 L536.99,369.36 L536.99,367.25 L536.80,367.25 L536.60,367.28 L536.41,367.30 L536.22,367.33 L536.22,368.31 L536.02,368.31 L535.83,368.34 L535.63,368.37 L535.44,368.40 L535.44,368.96 L535.24,368.96 L535.05,368.99 L534.85,369.02 L534.66,369.05 L534.46,369.08 L534.46,372.91 L534.27,372.91 L534.07,372.93 L533.88,372.96 L533.68,372.99 L533.68,367.95 L533.49,367.95 L533.30,367.98 L533.10,368.01 L532.91,368.04 L532.71,368.06 L532.71,370.39 L532.52,370.39 L532.32,370.42 L532.13,370.45 L531.93,370.48 L531.93,370.14 L531.74,370.14 L531.54,370.17 L531.35,370.20 L531.15,370.23 L531.15,370.92 L530.96,370.92 L530.76,370.95 L530.57,370.98 L530.37,371.01 L530.18,371.04 L530.18,369.39 L529.99,369.39 L529.79,369.42 L529.60,369.45 L529.40,369.48 L529.40,367.82 L529.21,367.82 L529.01,367.85 L528.82,367.88 L528.62,367.91 L528.62,366.97 L528.43,366.97 L528.23,367.00 L528.04,367.03 L527.84,367.06 L527.65,367.09 L527.65,370.92 L527.45,370.92 L527.26,370.95 L527.06,370.98 L526.87,371.01 L526.87,368.79 L526.68,368.79 L526.48,368.82 L526.29,368.86 L526.09,368.89 L526.09,370.95 L525.90,370.95 L525.70,370.98 L525.51,371.02 L525.31,371.05 L525.12,371.08 L525.12,369.55 L524.92,369.55 L524.73,369.58 L524.53,369.61 L524.34,369.64 L524.34,370.27 L524.14,370.27 L523.95,370.31 L523.75,370.34 L523.56,370.37 L523.37,370.40 L523.37,369.99 L523.17,369.99 L522.98,370.02 L522.78,370.05 L522.59,370.08 L522.59,371.27 L522.39,371.27 L522.20,371.30 L522.00,371.33 L521.81,371.36 L521.81,373.75 L521.61,373.75 L521.42,373.78 L521.22,373.81 L521.03,373.85 L520.83,373.88 L520.83,371.39 L520.64,371.39 L520.44,371.42 L520.25,371.45 L520.06,371.49 L520.06,370.23 L519.86,370.23 L519.67,370.26 L519.47,370.29 L519.28,370.33 L519.28,372.97 L519.08,372.97 L518.89,373.00 L518.69,373.03 L518.50,373.07 L518.30,373.10 L518.30,371.91 L518.11,371.91 L517.91,371.94 L517.72,371.97 L517.52,372.01 L517.52,371.95 L517.33,371.95 L517.13,371.98 L516.94,372.02 L516.75,372.05 L516.55,372.08 L516.55,370.54 L516.36,370.54 L516.16,370.57 L515.97,370.61 L515.77,370.64 L515.77,371.08 L515.58,371.08 L515.38,371.12 L515.19,371.15 L514.99,371.19 L514.99,371.51 L514.80,371.51 L514.60,371.55 L514.41,371.58 L514.21,371.61 L514.02,371.65 L514.02,370.85 L513.83,370.85 L513.63,370.89 L513.44,370.92 L513.24,370.96 L513.24,375.47 L513.05,375.47 L512.85,375.50 L512.66,375.54 L512.46,375.57 L512.46,373.07 L512.27,373.07 L512.07,373.10 L511.88,373.14 L511.68,373.17 L511.49,373.21 L511.49,376.67 L511.29,376.67 L511.10,376.70 L510.90,376.74 L510.71,376.78 L510.71,371.91 L510.52,371.91 L510.32,371.95 L510.13,371.98 L509.93,372.02 L509.93,377.41 L509.74,377.41 L509.54,377.45 L509.35,377.49 L509.15,377.52 L508.96,377.56 L508.96,373.53 L508.76,373.53 L508.57,373.57 L508.37,373.61 L508.18,373.64 L508.18,374.44 L507.98,374.44 L507.79,374.48 L507.59,374.51 L507.40,374.55 L507.21,374.59 L507.21,371.02 L507.01,371.02 L506.82,371.06 L506.62,371.09 L506.43,371.13 L506.43,372.87 L506.23,372.87 L506.04,372.90 L505.84,372.94 L505.65,372.98 L505.65,377.78 L505.45,377.78 L505.26,377.82 L505.06,377.85 L504.87,377.89 L504.67,377.93 L504.67,375.39 L504.48,375.39 L504.28,375.43 L504.09,375.47 L503.90,375.51 L503.90,371.99 L503.70,371.99 L503.51,372.03 L503.31,372.06 L503.12,372.10 L503.12,373.10 L502.92,373.10 L502.73,373.14 L502.53,373.18 L502.34,373.22 L502.14,373.26 L502.14,372.71 L501.95,372.71 L501.75,372.75 L501.56,372.79 L501.36,372.83 L501.36,379.80 L501.17,379.80 L500.97,379.84 L500.78,379.88 L500.59,379.92 L500.59,375.26 L500.39,375.26 L500.20,375.30 L500.00,375.34 L499.81,375.37 L499.61,375.41 L499.61,373.33 L499.42,373.33 L499.22,373.36 L499.03,373.40 L498.83,373.43 L498.83,378.42 L498.64,378.42 L498.44,378.45 L498.25,378.49 L498.05,378.52 L497.86,378.56 L497.86,377.45 L497.66,377.45 L497.47,377.49 L497.28,377.53 L497.08,377.56 L497.08,376.86 L496.89,376.86 L496.69,376.90 L496.50,376.94 L496.30,376.97 L496.30,376.54 L496.11,376.54 L495.91,376.58 L495.72,376.62 L495.52,376.65 L495.33,376.69 L495.33,378.01 L495.13,378.01 L494.94,378.05 L494.74,378.08 L494.55,378.12 L494.55,374.54 L494.36,374.54 L494.16,374.58 L493.97,374.61 L493.77,374.65 L493.77,375.60 L493.58,375.60 L493.38,375.64 L493.19,375.68 L492.99,375.72 L492.80,375.75 L492.80,377.73 L492.60,377.73 L492.41,377.76 L492.21,377.80 L492.02,377.84 L492.02,377.49 L491.82,377.49 L491.63,377.53 L491.43,377.56 L491.24,377.60 L491.24,374.58 L491.05,374.58 L490.85,374.61 L490.66,374.65 L490.46,374.69 L490.27,374.73 L490.27,376.00 L490.07,376.00 L489.88,376.04 L489.68,376.08 L489.49,376.12 L489.49,382.75 L489.29,382.75 L489.10,382.79 L488.90,382.83 L488.71,382.87 L488.51,382.91 L488.51,377.44 L488.32,377.44 L488.12,377.48 L487.93,377.52 L487.74,377.56 L487.74,382.56 L487.54,382.56 L487.35,382.60 L487.15,382.64 L486.96,382.68 L486.96,379.57 L486.76,379.57 L486.57,379.61 L486.37,379.65 L486.18,379.70 L485.98,379.74 L485.98,377.92 L485.79,377.92 L485.59,377.96 L485.40,378.00 L485.20,378.05 L485.20,379.42 L485.01,379.42 L484.81,379.46 L484.62,379.50 L484.43,379.55 L484.43,380.04 L484.23,380.04 L484.04,380.08 L483.84,380.12 L483.65,380.17 L483.45,380.21 L483.45,377.62 L483.26,377.62 L483.06,377.67 L482.87,377.71 L482.67,377.75 L482.67,377.84 L482.48,377.84 L482.28,377.89 L482.09,377.93 L481.89,377.98 L481.89,378.82 L481.70,378.82 L481.50,378.86 L481.31,378.91 L481.12,378.95 L480.92,379.00 L480.92,376.58 L480.73,376.58 L480.53,376.63 L480.34,376.67 L480.14,376.72 L480.14,379.66 L479.95,379.66 L479.75,379.71 L479.56,379.75 L479.36,379.80 L479.17,379.85 L479.17,378.35 L478.97,378.35 L478.78,378.40 L478.58,378.45 L478.39,378.50 L478.39,379.74 L478.19,379.74 L478.00,379.79 L477.81,379.84 L477.61,379.89 L477.61,380.20 L477.42,380.20 L477.22,380.25 L477.03,380.30 L476.83,380.35 L476.64,380.40 L476.64,379.86 L476.44,379.86 L476.25,379.91 L476.05,379.96 L475.86,380.01 L475.86,384.35 L475.66,384.35 L475.47,384.40 L475.27,384.45 L475.08,384.51 L475.08,379.13 L474.88,379.13 L474.69,379.18 L474.50,379.24 L474.30,379.29 L474.11,379.34 L474.11,380.32 L473.91,380.32 L473.72,380.37 L473.52,380.42 L473.33,380.48 L473.33,382.48 L473.13,382.48 L472.94,382.53 L472.74,382.59 L472.55,382.64 L472.35,382.70 L472.35,379.96 L472.16,379.96 L471.96,380.01 L471.77,380.07 L471.58,380.12 L471.58,384.10 L471.38,384.10 L471.19,384.15 L470.99,384.21 L470.80,384.26 L470.80,383.28 L470.60,383.28 L470.41,383.34 L470.21,383.39 L470.02,383.45 L469.82,383.51 L469.82,382.44 L469.63,382.44 L469.43,382.49 L469.24,382.55 L469.04,382.61 L469.04,382.42 L468.85,382.42 L468.65,382.48 L468.46,382.54 L468.27,382.60 L468.27,382.08 L468.07,382.08 L467.88,382.14 L467.68,382.20 L467.49,382.26 L467.29,382.32 L467.29,383.38 L467.10,383.38 L466.90,383.44 L466.71,383.50 L466.51,383.56 L466.51,383.35 L466.32,383.35 L466.12,383.41 L465.93,383.47 L465.73,383.53 L465.73,383.90 L465.54,383.90 L465.34,383.97 L465.15,384.03 L464.96,384.09 L464.76,384.15 L464.76,381.41 L464.57,381.41 L464.37,381.47 L464.18,381.53 L463.98,381.60 L463.98,382.68 L463.79,382.68 L463.59,382.74 L463.40,382.81 L463.20,382.87 L463.01,382.93 L463.01,384.87 L462.81,384.87 L462.62,384.94 L462.42,385.00 L462.23,385.07 L462.23,387.98 L462.03,387.98 L461.84,388.05 L461.65,388.12 L461.45,388.18 L461.45,382.60 L461.26,382.60 L461.06,382.66 L460.87,382.73 L460.67,382.80 L460.48,382.87 L460.48,385.76 L460.28,385.76 L460.09,385.83 L459.89,385.90 L459.70,385.97 L459.70,383.21 L459.50,383.21 L459.31,383.28 L459.11,383.35 L458.92,383.42 L458.92,388.75 L458.72,388.75 L458.53,388.82 L458.34,388.89 L458.14,388.97 L457.95,389.04 L457.95,385.11 L457.75,385.11 L457.56,385.18 L457.36,385.25 L457.17,385.32 L457.17,384.90 L456.97,384.90 L456.78,384.98 L456.58,385.05 L456.39,385.12 L456.39,385.86 L456.19,385.86 L456.00,385.93 L455.80,386.01 L455.61,386.08 L455.42,386.16 L455.42,384.61 L455.22,384.61 L455.03,384.69 L454.83,384.77 L454.64,384.84 L454.64,389.90 L454.44,389.90 L454.25,389.97 L454.05,390.05 L453.86,390.13 L453.66,390.21 L453.66,386.53 L453.47,386.53 L453.27,386.61 L453.08,386.69 L452.88,386.77 L452.88,386.99 L452.69,386.99 L452.49,387.07 L452.30,387.15 L452.11,387.23 L452.11,386.75 L451.91,386.75 L451.72,386.83 L451.52,386.91 L451.33,387.00 L451.13,387.08 L451.13,388.83 L450.94,388.83 L450.74,388.92 L450.55,389.00 L450.35,389.08 L450.35,388.20 L450.16,388.20 L449.96,388.28 L449.77,388.37 L449.57,388.45 L449.57,390.02 L449.38,390.02 L449.18,390.10 L448.99,390.19 L448.80,390.28 L448.60,390.36 L448.60,387.61 L448.41,387.61 L448.21,387.70 L448.02,387.79 L447.82,387.87 L447.82,389.70 L447.63,389.70 L447.43,389.79 L447.24,389.88 L447.04,389.96 L447.04,392.00 L446.85,392.00 L446.65,392.09 L446.46,392.18 L446.26,392.27 L446.07,392.36 L446.07,390.19 L445.87,390.19 L445.68,390.28 L445.49,390.37 L445.29,390.46 L445.29,392.52 L445.10,392.52 L444.90,392.62 L444.71,392.71 L444.51,392.80 L444.32,392.90 L444.32,393.11 L444.12,393.11 L443.93,393.20 L443.73,393.30 L443.54,393.39 L443.54,395.19 L443.34,395.19 L443.15,395.29 L442.95,395.38 L442.76,395.48 L442.76,394.73 L442.56,394.73 L442.37,394.82 L442.18,394.92 L441.98,395.02 L441.79,395.12 L441.79,395.49 L441.59,395.49 L441.40,395.59 L441.20,395.69 L441.01,395.79 L441.01,393.74 L440.81,393.74 L440.62,393.84 L440.42,393.94 L440.23,394.05 L440.23,395.01 L440.03,395.01 L439.84,395.11 L439.64,395.21 L439.45,395.31 L439.25,395.42 L439.25,393.83 L439.06,393.83 L438.87,393.94 L438.67,394.04 L438.48,394.15 L438.48,394.80 L438.28,394.80 L438.09,394.91 L437.89,395.01 L437.70,395.12 L437.50,395.22 L437.50,393.27 L437.31,393.27 L437.11,393.38 L436.92,393.49 L436.72,393.60 L436.72,394.81 L436.53,394.81 L436.33,394.92 L436.14,395.03 L435.95,395.14 L435.95,400.90 L435.75,400.90 L435.56,401.01 L435.36,401.13 L435.17,401.24 L434.97,401.35 L434.97,396.33 L434.78,396.33 L434.58,396.44 L434.39,396.55 L434.19,396.67 L434.19,395.66 L434.00,395.66 L433.80,395.77 L433.61,395.88 L433.41,396.00 L433.41,399.67 L433.22,399.67 L433.02,399.79 L432.83,399.90 L432.64,400.02 L432.44,400.13 L432.44,395.53 L432.25,395.53 L432.05,395.65 L431.86,395.76 L431.66,395.88 L431.66,397.88 L431.47,397.88 L431.27,398.00 L431.08,398.12 L430.88,398.24 L430.88,399.71 L430.69,399.71 L430.49,399.83 L430.30,399.95 L430.10,400.08 L429.91,400.20 L429.91,399.03 L429.71,399.03 L429.52,399.15 L429.33,399.27 L429.13,399.39 L429.13,399.86 L428.94,399.86 L428.74,399.99 L428.55,400.11 L428.35,400.24 L428.16,400.36 L428.16,400.88 L427.96,400.88 L427.77,401.00 L427.57,401.13 L427.38,401.26 L427.38,400.36 L427.18,400.36 L426.99,400.49 L426.79,400.62 L426.60,400.74 L426.60,404.29 L426.40,404.29 L426.21,404.42 L426.02,404.54 L425.82,404.67 L425.63,404.80 L425.63,401.67 L425.43,401.67 L425.24,401.80 L425.04,401.93 L424.85,402.06 L424.85,405.52 L424.65,405.52 L424.46,405.65 L424.26,405.78 L424.07,405.91 L424.07,403.96 L423.87,403.96 L423.68,404.09 L423.48,404.22 L423.29,404.36 L423.09,404.49 L423.09,403.83 L422.90,403.83 L422.71,403.97 L422.51,404.10 L422.32,404.24 L422.32,402.72 L422.12,402.72 L421.93,402.86 L421.73,402.99 L421.54,403.13 L421.54,405.26 L421.34,405.26 L421.15,405.40 L420.95,405.54 L420.76,405.68 L420.56,405.82 L420.56,405.88 L420.37,405.88 L420.17,406.02 L419.98,406.16 L419.78,406.30 L419.78,406.20 L419.59,406.20 L419.40,406.35 L419.20,406.49 L419.01,406.63 L418.81,406.78 L418.81,405.15 L418.62,405.15 L418.42,405.29 L418.23,405.44 L418.03,405.59 L418.03,410.68 L417.84,410.68 L417.64,410.83 L417.45,410.98 L417.25,411.13 L417.25,406.50 L417.06,406.50 L416.86,406.65 L416.67,406.81 L416.48,406.96 L416.28,407.12 L416.28,408.21 L416.09,408.21 L415.89,408.37 L415.70,408.54 L415.50,408.70 L415.50,409.40 L415.31,409.40 L415.11,409.57 L414.92,409.74 L414.72,409.92 L414.72,411.40 L414.53,411.40 L414.33,411.58 L414.14,411.77 L413.94,411.96 L413.75,412.16 L413.75,412.83 L413.55,412.83 L413.36,413.04 L413.17,413.25 L412.97,413.46 L412.97,411.32 L412.78,411.32 L412.58,411.54 L412.39,411.77 L412.19,412.01 L412.19,412.55 L412.00,412.55 L411.80,412.80 L411.61,413.06 L411.41,413.32 L411.22,413.58 L411.22,415.13 L411.02,415.13 L410.83,415.41 L410.63,415.70 L410.44,415.99 L410.44,418.58 L410.24,418.58 L410.05,418.89 L409.86,419.21 L409.66,419.54 L409.47,419.87 L409.47,420.23 L409.27,420.23 L409.08,420.58 L408.88,420.94 L408.69,421.31 L408.69,418.92 L408.49,418.92 L408.30,419.31 L408.10,419.71 L407.91,420.12 L407.91,420.17 L407.71,420.17 L407.52,420.60 L407.32,421.03 L407.13,421.33 L406.93,420.43 L406.93,419.05 L406.74,419.05 L406.55,418.16 L406.35,417.26 L406.16,416.36 L406.16,414.95 L405.96,414.95 L405.77,414.06 L405.57,413.16 L405.38,412.26 L405.38,411.14 L405.18,411.14 L404.99,410.24 L404.79,409.35 L404.60,408.45 L404.40,407.55 L404.40,408.71 L404.21,408.71 L404.01,407.82 L403.82,406.92 L403.62,406.02 L403.62,403.13 L403.43,403.13 L403.24,402.23 L403.04,401.33 L402.85,400.44 L402.65,399.54 L402.65,398.52 L402.46,398.52 L402.26,397.62 L402.07,396.73 L401.87,395.83 L401.87,397.33 L401.68,397.33 L401.48,396.43 L401.29,395.54 L401.09,394.64 L401.09,391.60 L400.90,391.60 L400.70,390.70 L400.51,389.80 L400.31,388.91 L400.12,388.01 L400.12,390.24 L399.93,390.24 L399.73,389.35 L399.54,388.45 L399.34,387.55 L399.34,386.94 L399.15,386.94 L398.95,386.05 L398.76,385.15 L398.56,384.26 L398.56,382.08 L398.37,382.08 L398.17,381.18 L397.98,380.28 L397.78,379.39 L397.59,378.49 L397.59,376.45 L397.39,376.45 L397.20,375.55 L397.00,374.65 L396.81,373.76 L396.81,371.93 L396.62,371.93 L396.42,371.03 L396.23,370.13 L396.03,369.24 L396.03,371.01 L395.84,371.01 L395.64,370.11 L395.45,369.22 L395.25,368.32 L395.06,367.42 L395.06,367.53 L394.86,367.53 L394.67,366.63 L394.47,365.74 L394.28,364.84 L394.28,361.51 L394.08,361.51 L393.89,360.62 L393.70,359.72 L393.50,358.83 L393.31,357.93 L393.31,355.15 L393.11,355.15 L392.92,354.26 L392.72,353.36 L392.53,352.47 L392.53,352.41 L392.33,352.41 L392.14,351.51 L391.94,350.61 L391.75,349.72 L391.75,351.44 L391.55,351.44 L391.36,350.54 L391.16,349.65 L390.97,348.75 L390.77,347.86 L390.77,346.99 L390.58,346.99 L390.39,346.10 L390.19,345.20 L390.00,344.31 L390.00,348.82 L389.80,348.82 L389.61,347.93 L389.41,347.03 L389.22,346.14 L389.22,336.41 L389.02,336.41 L388.83,335.51 L388.63,334.61 L388.44,334.46 L388.24,334.46 L388.24,336.57 L388.05,336.57 L387.85,336.57 L387.66,336.57 L387.46,336.57 L387.46,337.28 L387.27,337.28 L387.08,337.28 L386.88,337.28 L386.69,337.28 L386.69,336.19 L386.49,336.19 L386.30,336.19 L386.10,336.19 L385.91,336.19 L385.71,336.19 L385.71,335.17 L385.52,335.17 L385.32,335.17 L385.13,335.17 L384.93,335.17 L384.93,340.45 L384.74,340.45 L384.54,340.45 L384.35,340.45 L384.15,340.45 L383.96,340.45 L383.96,335.63 L383.77,335.63 L383.57,335.63 L383.38,335.63 L383.18,335.63 L383.18,336.54 L382.99,336.54 L382.79,336.54 L382.60,336.54 L382.40,336.54 L382.40,339.24 L382.21,339.24 L382.01,339.24 L381.82,339.24 L381.62,339.24 L381.43,339.24 L381.43,336.95 L381.23,336.95 L381.04,336.95 L380.84,336.95 L380.65,336.95 L380.65,335.58 L380.46,335.58 L380.26,335.58 L380.07,335.58 L379.87,335.58 L379.87,338.12 L379.68,338.12 L379.48,338.12 L379.29,338.12 L379.09,338.12 L378.90,338.12 L378.90,335.80 L378.70,335.80 L378.51,335.80 L378.31,335.80 L378.12,335.80 L378.12,337.47 L377.92,337.47 L377.73,337.47 L377.54,337.47 L377.34,337.47 L377.34,338.52 L377.15,338.52 L376.95,338.52 L376.76,338.52 L376.56,338.52 L376.37,338.52 L376.37,337.16 L376.17,337.16 L375.98,337.16 L375.78,337.16 L375.59,337.16 L375.59,336.80 L375.39,336.80 L375.20,336.80 L375.00,336.80 L374.81,336.80 L374.61,336.80 L374.61,335.99 L374.42,335.99 L374.23,335.99 L374.03,335.99 L373.84,335.99 L373.84,336.03 L373.64,336.03 L373.45,336.03 L373.25,336.03 L373.06,336.03 L373.06,335.14 L372.86,335.14 L372.67,335.14 L372.47,335.14 L372.28,335.14 L372.08,335.14 L372.08,335.64 L371.89,335.64 L371.69,335.64 L371.50,335.64 L371.30,335.64 L371.30,338.36 L371.11,338.36 L370.92,338.36 L370.72,338.36 L370.53,338.36 L370.53,336.75 L370.33,336.75 L370.14,336.75 L369.94,336.75 L369.75,336.75 L369.55,336.75 L369.55,341.52 L369.36,341.52 L369.16,341.52 L368.97,341.52 L368.77,341.52 L368.77,334.00 L368.58,334.00 L368.38,334.00 L368.19,334.00 L367.99,334.00 L367.80,334.00 Z" fill="#3777b5"/>
<path d="M367.80,326.10 L368.78,326.10 L369.76,326.10 L370.74,326.10 L371.73,326.10 L372.71,326.10 L373.69,326.10 L374.67,326.10 L375.65,326.10 L376.63,326.10 L377.61,326.10 L378.59,326.10 L379.58,326.10 L380.56,326.10 L381.54,326.10 L382.52,326.10 L383.50,326.10 L384.48,326.10 L385.46,326.10 L386.44,326.10 L387.43,326.10 L388.41,326.10 L389.39,329.73 L390.37,334.24 L391.35,338.76 L392.33,343.27 L393.31,347.79 L394.29,352.30 L395.28,356.82 L396.26,361.33 L397.24,365.85 L398.22,370.36 L399.20,374.88 L400.18,379.39 L401.16,383.91 L402.14,388.42 L403.13,392.94 L404.11,397.45 L405.09,401.97 L406.07,406.49 L407.05,411.00 L408.03,409.52 L409.01,407.59 L409.99,405.89 L410.98,404.39 L411.96,403.07 L412.94,401.90 L413.92,400.86 L414.90,399.93 L415.88,399.08 L416.86,398.29 L417.84,397.53 L418.83,396.79 L419.81,396.06 L420.79,395.35 L421.77,394.64 L422.75,393.95 L423.73,393.28 L424.71,392.61 L425.69,391.95 L426.68,391.30 L427.66,390.66 L428.64,390.03 L429.62,389.41 L430.60,388.80 L431.58,388.20 L432.56,387.61 L433.55,387.02 L434.53,386.45 L435.51,385.89 L436.49,385.34 L437.47,384.79 L438.45,384.26 L439.43,383.73 L440.41,383.22 L441.40,382.71 L442.38,382.21 L443.36,381.73 L444.34,381.25 L445.32,380.78 L446.30,380.32 L447.28,379.86 L448.26,379.42 L449.25,378.99 L450.23,378.56 L451.21,378.14 L452.19,377.73 L453.17,377.33 L454.15,376.93 L455.13,376.54 L456.11,376.16 L457.10,375.79 L458.08,375.43 L459.06,375.07 L460.04,374.72 L461.02,374.37 L462.00,374.03 L462.98,373.70 L463.96,373.38 L464.95,373.06 L465.93,372.75 L466.91,372.44 L467.89,372.14 L468.87,371.85 L469.85,371.56 L470.83,371.28 L471.81,371.00 L472.80,370.73 L473.78,370.46 L474.76,370.20 L475.74,369.94 L476.72,369.69 L477.70,369.44 L478.68,369.20 L479.66,368.96 L480.65,368.72 L481.63,368.49 L482.61,368.26 L483.59,368.04 L484.57,367.82 L485.55,367.61 L486.53,367.39 L487.52,367.19 L488.50,366.98 L489.48,366.78 L490.46,366.58 L491.44,366.38 L492.42,366.19 L493.40,366.00 L494.38,365.81 L495.37,365.62 L496.35,365.44 L497.33,365.25 L498.31,365.07 L499.29,364.89 L500.27,364.72 L501.25,364.54 L502.23,364.37 L503.22,364.20 L504.20,364.03 L505.18,363.86 L506.16,363.69 L507.14,363.53 L508.12,363.36 L509.10,363.20 L510.08,363.04 L511.07,362.89 L512.05,362.73 L513.03,362.57 L514.01,362.42 L514.99,362.27 L515.97,362.12 L516.95,361.97 L517.93,361.82 L518.92,361.68 L519.90,361.53 L520.88,361.39 L521.86,361.25 L522.84,361.11 L523.82,360.97 L524.80,360.84 L525.78,360.70 L526.77,360.57 L527.75,360.44 L528.73,360.31 L529.71,360.18 L530.69,360.05 L531.67,359.92 L532.65,359.80 L533.63,359.68 L534.62,359.55 L535.60,359.43 L536.58,359.31 L537.56,359.20 L538.54,359.08 L539.52,358.96 L540.50,358.85 L541.48,358.74 L542.47,358.62 L543.45,358.51 L544.43,358.40 L545.41,358.30 L546.39,358.19 L547.37,358.08 L548.35,357.98 L549.34,357.87 L550.32,357.77 L551.30,357.67 L552.28,357.57 L553.26,357.47 L554.24,357.37 L555.22,357.28 L556.20,357.18 L557.19,357.09 L558.17,356.99 L559.15,356.90 L560.13,356.81 L561.11,356.72 L562.09,356.63 L563.07,356.54 L564.05,356.45 L565.04,356.37 L566.02,356.28 L567.00,356.20 L567.98,356.11 L568.96,356.03 L569.94,355.95 L570.92,355.87 L571.90,355.79 L572.89,355.71 L573.87,355.63 L574.85,355.55 L575.83,355.48 L576.81,355.40 L577.79,355.32 L578.77,355.25 L579.75,355.18 L580.74,355.10 L581.72,355.03 L582.70,354.96 L583.68,354.89 L584.66,354.82 L585.64,354.75 L586.62,354.68 L587.60,354.61 L588.59,354.55 L589.57,354.48 L590.55,354.42 L591.53,354.35 L592.51,354.29 L593.49,354.22 L594.47,354.16 L595.45,354.09 L596.44,354.03 L597.42,353.97 L598.40,353.91 L599.38,353.85 L600.36,353.79 L601.34,353.73 L602.32,353.67 L603.31,353.61 L604.29,353.55 L605.27,353.49 L606.25,353.44 L607.23,353.38 L608.21,353.32 L609.19,353.27 L610.17,353.21 L611.16,353.16 L612.14,353.10 L613.12,353.05 L614.10,352.99 L615.08,352.94 L616.06,352.88 L617.04,352.83 L618.02,352.78 L619.01,352.72 L619.99,352.67 L620.97,352.62 L621.95,352.57 L622.93,352.52 L623.91,352.46 L624.89,352.41 L625.87,352.36 L626.86,352.31 L627.84,352.26 L628.82,352.21 L629.80,352.16 L630.78,352.11 L631.76,352.06 L632.74,352.01 L633.72,351.96 L634.71,351.90 L635.69,351.85 L636.67,351.80 L637.65,351.75 L638.63,351.70 L639.61,351.65 L640.59,351.60 L641.57,351.55 L642.56,351.50 L643.54,351.45 L644.52,351.40 L645.50,351.35 L646.48,351.30 L647.46,351.25 L648.44,351.20 L649.42,351.15 L650.41,351.10 L651.39,351.05 L652.37,351.00 L653.35,350.95 L654.33,350.90 L655.31,350.84 L656.29,350.79 L657.27,350.74 L658.26,350.69 L659.24,350.63 L660.22,350.58 L661.20,350.53" fill="none" stroke="#e8191c" stroke-width="1.9" stroke-dasharray="1.8 1.87"/>
<line x1="388.3" y1="162" x2="388.3" y2="444" stroke="#444" stroke-width="1.3" stroke-dasharray="4.7 3.2"/>
<line x1="407.2" y1="162" x2="407.2" y2="444" stroke="#444" stroke-width="1.3" stroke-dasharray="4.7 3.2"/>
<line x1="367.6" y1="289" x2="367.6" y2="444.2" stroke="#777" stroke-width="1"/>
<line x1="367.6" y1="444.2" x2="676.8" y2="444.2" stroke="#999" stroke-width="1"/>
<line x1="365.1" y1="295.75" x2="367.6" y2="295.75" stroke="#777" stroke-width="0.8"/>
<text x="364.90" y="299.75" font-size="11.4" text-anchor="end" fill="#000">10</text>
<line x1="365.1" y1="326.10" x2="367.6" y2="326.10" stroke="#777" stroke-width="0.8"/>
<text x="364.90" y="330.10" font-size="11.4" text-anchor="end" fill="#000">0</text>
<line x1="365.1" y1="356.45" x2="367.6" y2="356.45" stroke="#777" stroke-width="0.8"/>
<text x="364.90" y="360.45" font-size="11.4" text-anchor="end" fill="#000">−10</text>
<line x1="365.1" y1="386.80" x2="367.6" y2="386.80" stroke="#777" stroke-width="0.8"/>
<text x="364.90" y="390.80" font-size="11.4" text-anchor="end" fill="#000">−20</text>
<line x1="365.1" y1="417.15" x2="367.6" y2="417.15" stroke="#777" stroke-width="0.8"/>
<text x="364.90" y="421.15" font-size="11.4" text-anchor="end" fill="#000">−30</text>
<line x1="367.80" y1="444.2" x2="367.80" y2="446.5" stroke="#777" stroke-width="0.8"/>
<text x="367.80" y="456.70" font-size="11.4" text-anchor="middle" fill="#000">0</text>
<line x1="406.74" y1="444.2" x2="406.74" y2="446.5" stroke="#777" stroke-width="0.8"/>
<text x="406.74" y="456.70" font-size="11.4" text-anchor="middle" fill="#000">200</text>
<line x1="445.68" y1="444.2" x2="445.68" y2="446.5" stroke="#777" stroke-width="0.8"/>
<text x="445.68" y="456.70" font-size="11.4" text-anchor="middle" fill="#000">400</text>
<line x1="484.62" y1="444.2" x2="484.62" y2="446.5" stroke="#777" stroke-width="0.8"/>
<text x="484.62" y="456.70" font-size="11.4" text-anchor="middle" fill="#000">600</text>
<line x1="523.56" y1="444.2" x2="523.56" y2="446.5" stroke="#777" stroke-width="0.8"/>
<text x="523.56" y="456.70" font-size="11.4" text-anchor="middle" fill="#000">800</text>
<line x1="562.50" y1="444.2" x2="562.50" y2="446.5" stroke="#777" stroke-width="0.8"/>
<text x="562.50" y="456.70" font-size="11.4" text-anchor="middle" fill="#000">1000</text>
<line x1="601.44" y1="444.2" x2="601.44" y2="446.5" stroke="#777" stroke-width="0.8"/>
<text x="601.44" y="456.70" font-size="11.4" text-anchor="middle" fill="#000">1200</text>
<line x1="640.38" y1="444.2" x2="640.38" y2="446.5" stroke="#777" stroke-width="0.8"/>
<text x="640.38" y="456.70" font-size="11.4" text-anchor="middle" fill="#000">1400</text>
<text x="517.70" y="471.40" font-size="12.2" text-anchor="middle" fill="#000">Time (ms)</text>
<text x="341.20" y="366.30" font-size="11.45" text-anchor="middle" fill="#000" transform="rotate(-90 341.2 366.3)">Axial Location (nm)</text>
<line x1="514.6" y1="396.6" x2="537.6" y2="396.6" stroke="#3a7ab8" stroke-width="1.3"/>
<rect x="514.6" y="408.6" width="23" height="8.4" fill="#cce1ef"/>
<line x1="514.6" y1="428" x2="537.6" y2="428" stroke="#ee1111" stroke-width="1.5" stroke-dasharray="1.5 1.6"/>
<text x="546.50" y="400.60" font-size="11" text-anchor="start" fill="#000">Mean Curve</text>
<text x="546.50" y="416.60" font-size="11" text-anchor="start" fill="#000">95% Confidence Interval</text>
<text x="546.50" y="432.00" font-size="11" text-anchor="start" fill="#000">Simulated displacement</text>
</svg></body></html>
